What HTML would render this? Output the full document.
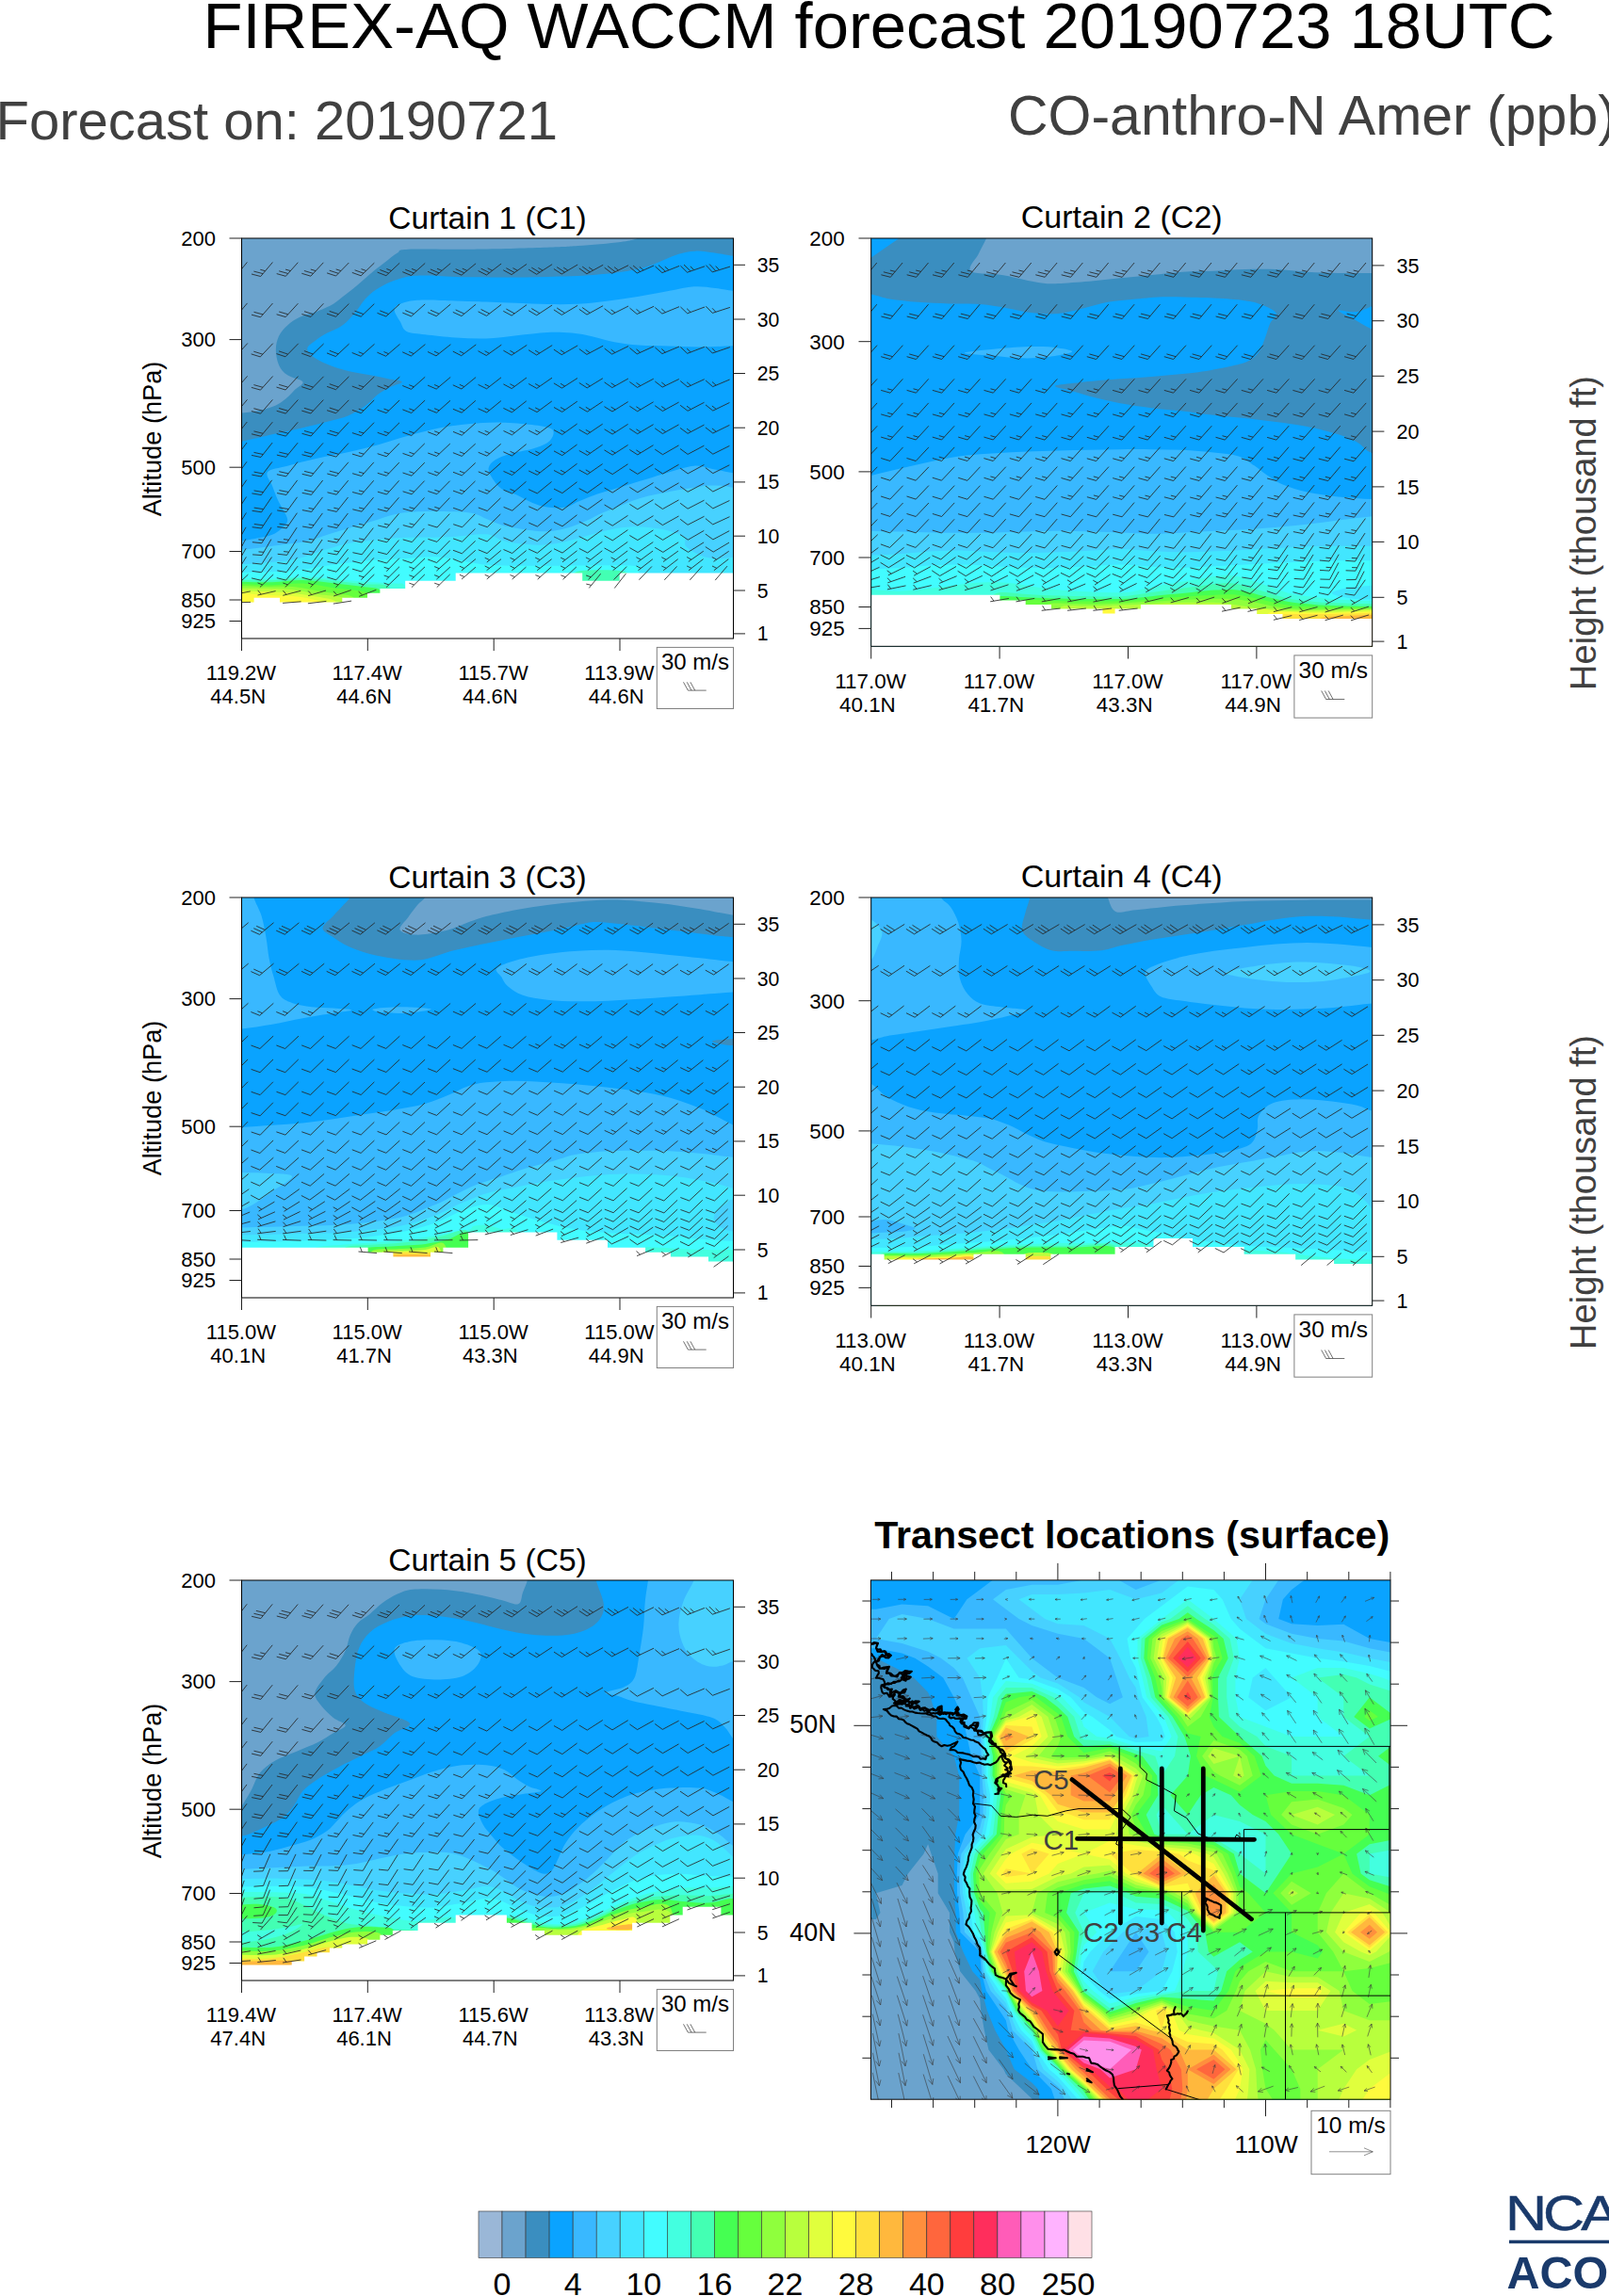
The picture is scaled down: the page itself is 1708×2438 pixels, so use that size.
<!DOCTYPE html>
<html lang="en"><head><meta charset="utf-8"><title>FIREX-AQ WACCM forecast 20190723 18UTC</title>
<style>html,body{margin:0;padding:0;background:#fff;width:1708px;height:2438px;overflow:hidden}svg{display:block}</style>
</head><body>
<svg width="1708" height="2438" viewBox="0 0 1708 2438" font-family='"Liberation Sans", Arial, Helvetica, sans-serif'>
<rect width="1708" height="2438" fill="#fff"/>
<text x="933" y="51.3" font-size="68.8" text-anchor="middle" fill="#000">FIREX-AQ WACCM forecast 20190723 18UTC</text>
<text x="-4.5" y="147.6" font-size="58" text-anchor="start" fill="#404040">Forecast on: 20190721</text>
<text x="1715.9" y="142.8" font-size="59" text-anchor="end" fill="#404040">CO-anthro-N Amer (ppb)</text>
<text x="1694" y="566" font-size="38" text-anchor="middle" fill="#404040" transform="rotate(-90 1694 566)">Height (thousand ft)</text>
<text x="1694" y="1266" font-size="38" text-anchor="middle" fill="#404040" transform="rotate(-90 1694 1266)">Height (thousand ft)</text>
<clipPath id="cp1"><rect x="256.5" y="253" width="522" height="425"/></clipPath>
<g clip-path="url(#cp1)">
<rect x="256.5" y="253" width="522" height="425" fill="#0AA3FF"/>
<g transform="translate(256.5 253) scale(0.32443)">
<path d="M1700 70C1684.8 68 1632.3 61.3 1609 58C1585.7 54.7 1580.7 52.7 1560 50C1539.3 47.3 1506.7 41.7 1485 42C1463.3 42.3 1447.5 47 1430 52C1412.5 57 1396.7 65.3 1380 72C1363.3 78.7 1350 86 1330 92C1310 98 1290 103.3 1260 108C1230 112.7 1193.3 117 1150 120C1106.7 123 1050 124.7 1000 126C950 127.3 900 128 850 128C800 128 741.7 127 700 126C658.3 125 626.7 122 600 122C573.3 122 558.3 122.7 540 126C521.7 129.3 506.7 135 490 142C473.3 149 454.2 158.7 440 168C425.8 177.3 415 187.3 405 198C395 208.7 388.3 221.3 380 232C371.7 242.7 364.2 252.7 355 262C345.8 271.3 337.5 280 325 288C312.5 296 293.3 302.7 280 310C266.7 317.3 255.8 323.7 245 332C234.2 340.3 216.7 350.7 215 360C213.3 369.3 224.2 379.3 235 388C245.8 396.7 262.5 404.7 280 412C297.5 419.3 316.7 426 340 432C363.3 438 396.7 443.3 420 448C443.3 452.7 462.5 456.3 480 460C497.5 463.7 524.2 465.3 525 470C525.8 474.7 498.3 481 485 488C471.7 495 458.3 502 445 512C431.7 522 420.8 536.7 405 548C389.2 559.3 370.8 571.3 350 580C329.2 588.7 305 593.3 280 600C255 606.7 230 613 200 620C170 627 133.3 634.5 100 642C66.7 649.5 30 658.7 0 665C-30 671.3 -66.7 677.5 -80 680L-80 -80L1700 -80Z" fill="#3A8EC0"/>
<path d="M1320 -20C1315.8 -16.7 1308.3 -5.3 1295 0C1281.7 5.3 1272.5 7.8 1240 12C1207.5 16.2 1140 22 1100 25C1060 28 1056.7 28.2 1000 30C943.3 31.8 835.8 35 760 36C684.2 37 586.7 34 545 36C503.3 38 522.5 41 510 48C497.5 55 482.5 68.5 470 78C457.5 87.5 446.7 95.5 435 105C423.3 114.5 411.7 125 400 135C388.3 145 376.7 155.5 365 165C353.3 174.5 340.8 183.7 330 192C319.2 200.3 313.3 207.3 300 215C286.7 222.7 268.3 230.8 250 238C231.7 245.2 206.7 250.2 190 258C173.3 265.8 161.3 274.7 150 285C138.7 295.3 128.3 306.7 122 320C115.7 333.3 112 349.2 112 365C112 380.8 115.7 401.2 122 415C128.3 428.8 137 438.8 150 448C163 457.2 195.8 462.2 200 470C204.2 477.8 184.2 485.8 175 495C165.8 504.2 155.8 516.2 145 525C134.2 533.8 125 541.3 110 548C95 554.7 73.3 561 55 565C36.7 569 22.5 569.5 0 572C-22.5 574.5 -66.7 578.7 -80 580L-80 -80L1320 -80Z" fill="#6BA3CD"/>
<path d="M1700 178C1684.8 177 1634 174.5 1609 172C1584 169.5 1571.5 165.3 1550 163C1528.5 160.7 1505 156.5 1480 158C1455 159.5 1430 166.7 1400 172C1370 177.3 1333.3 184.5 1300 190C1266.7 195.5 1233.3 200.8 1200 205C1166.7 209.2 1133.3 213.2 1100 215C1066.7 216.8 1033.3 216.5 1000 216C966.7 215.5 933.3 213.3 900 212C866.7 210.7 833.3 209.2 800 208C766.7 206.8 733.3 206 700 205C666.7 204 626.7 201.5 600 202C573.3 202.5 556.7 203.3 540 208C523.3 212.7 503.3 218.8 500 230C496.7 241.2 513.3 262.5 520 275C526.7 287.5 526.7 298.3 540 305C553.3 311.7 573.3 311.7 600 315C626.7 318.3 666.7 322.8 700 325C733.3 327.2 766.7 329.2 800 328C833.3 326.8 866.7 321.3 900 318C933.3 314.7 970 309.3 1000 308C1030 306.7 1055 307.7 1080 310C1105 312.3 1126.7 317 1150 322C1173.3 327 1195 335.3 1220 340C1245 344.7 1270 347.8 1300 350C1330 352.2 1366.7 352 1400 353C1433.3 354 1465.2 356.2 1500 356C1534.8 355.8 1575.7 353 1609 352C1642.3 351 1684.8 350.3 1700 350Z" fill="#39B8FF"/>
<path d="M-80 995C-66.7 994.2 -21.7 992.2 0 990C21.7 987.8 33.3 985.3 50 982C66.7 978.7 86.7 975.3 100 970C113.3 964.7 121.7 958.3 130 950C138.3 941.7 151.7 935 150 920C148.3 905 128.3 878.3 120 860C111.7 841.7 105.8 825.8 100 810C94.2 794.2 76.7 775.8 85 765C93.3 754.2 122.5 752.5 150 745C177.5 737.5 216.7 727.5 250 720C283.3 712.5 316.7 707.5 350 700C383.3 692.5 416.7 684.2 450 675C483.3 665.8 516.7 654.2 550 645C583.3 635.8 616.7 626.3 650 620C683.3 613.7 716.7 609.8 750 607C783.3 604.2 816.7 602.5 850 603C883.3 603.5 923.3 606.8 950 610C976.7 613.2 998.3 616.7 1010 622C1021.7 627.3 1021.7 634 1020 642C1018.3 650 1011.7 662 1000 670C988.3 678 970 684.2 950 690C930 695.8 900 699.2 880 705C860 710.8 842 717.2 830 725C818 732.8 809.7 742 808 752C806.3 762 813 773.7 820 785C827 796.3 836.7 810.8 850 820C863.3 829.2 883.3 832.5 900 840C916.7 847.5 933.3 858.3 950 865C966.7 871.7 981.7 877.5 1000 880C1018.3 882.5 1043.3 883 1060 880C1076.7 877 1085 868.3 1100 862C1115 855.7 1133.3 848 1150 842C1166.7 836 1181.7 831.7 1200 826C1218.3 820.3 1240 814 1260 808C1280 802 1296.7 797.2 1320 790C1343.3 782.8 1373.3 772.5 1400 765C1426.7 757.5 1456.7 746.7 1480 745C1503.3 743.3 1518.5 751.2 1540 755C1561.5 758.8 1582.3 764.7 1609 768C1635.7 771.3 1684.8 773.8 1700 775L1700 1400L-80 1400Z" fill="#39B8FF"/>
<path d="M-80 1022C-66.7 1021.5 -21.7 1020.3 0 1019C21.7 1017.7 29.2 1016.5 50 1014C70.8 1011.5 100 1007.3 125 1004C150 1000.7 180.8 997.3 200 994C219.2 990.7 223.3 989 240 984C256.7 979 281.7 969.8 300 964C318.3 958.2 333.3 954 350 949C366.7 944 383.3 939 400 934C416.7 929 433.3 924 450 919C466.7 914 483.3 907.8 500 904C516.7 900.2 524.8 897.7 550 896C575.2 894.3 617.5 893.5 651 894C684.5 894.5 725.7 894.8 751 899C776.3 903.2 786 912.3 803 919C820 925.7 836.3 934 853 939C869.7 944 882.2 945.7 903 949C923.8 952.3 957.2 957.8 978 959C998.8 960.2 1011.2 958.5 1028 956C1044.8 953.5 1062.2 949.3 1079 944C1095.8 938.7 1112.3 931.5 1129 924C1145.7 916.5 1162.3 906.5 1179 899C1195.7 891.5 1212.3 885.7 1229 879C1245.7 872.3 1262.3 864.8 1279 859C1295.7 853.2 1312.3 848.2 1329 844C1345.7 839.8 1362.3 837.3 1379 834C1395.7 830.7 1412.3 827 1429 824C1445.7 821 1462.3 818.5 1479 816C1495.7 813.5 1512.2 809.8 1529 809C1545.8 808.2 1566.7 809.8 1580 811C1593.3 812.2 1589 814.5 1609 816C1629 817.5 1684.8 819.3 1700 820L1700 1500L-80 1500Z" fill="#47D1FF"/>
<path d="M-80 1070C-66.7 1069.5 -25.8 1068.3 0 1067C25.8 1065.7 50 1064 75 1062C100 1060 129.2 1058 150 1055C170.8 1052 183.3 1048.7 200 1044C216.7 1039.3 233.3 1032.3 250 1027C266.7 1021.7 283.3 1016.7 300 1012C316.7 1007.3 329 1002.8 350 999C371 995.2 400.8 992 426 989C451.2 986 476 982.7 501 981C526 979.3 551 979.3 576 979C601 978.7 626 979.8 651 979C676 978.2 700.7 975.7 726 974C751.3 972.3 781.8 966.5 803 969C824.2 971.5 836.3 984 853 989C869.7 994 882.2 996.5 903 999C923.8 1001.5 952.8 1004.8 978 1004C1003.2 1003.2 1028.8 999 1054 994C1079.2 989 1104 980.7 1129 974C1154 967.3 1179 959 1204 954C1229 949 1254 944.8 1279 944C1304 943.2 1333.2 946.5 1354 949C1374.8 951.5 1388.2 954 1404 959C1419.8 964 1440.7 970.7 1449 979C1457.3 987.3 1444.8 999 1454 1009C1463.2 1019 1487.2 1032.3 1504 1039C1520.8 1045.7 1537.5 1048.2 1555 1049C1572.5 1049.8 1584.8 1045.5 1609 1044C1633.2 1042.5 1684.8 1040.7 1700 1040L1700 1500L-80 1500Z" fill="#42E6FF"/>
<path d="M-80 1095C-66.7 1094.8 -30 1094.5 0 1094C30 1093.5 66.7 1093.7 100 1092C133.3 1090.3 170.7 1087.3 200 1084C229.3 1080.7 250.8 1075.7 276 1072C301.2 1068.3 321.8 1065.3 351 1062C380.2 1058.7 417.7 1054.5 451 1052C484.3 1049.5 517.7 1048.3 551 1047C584.3 1045.7 608.5 1040.3 651 1044C693.5 1047.7 747.8 1064.3 806 1069C864.2 1073.7 921.2 1071.5 1000 1072C1078.8 1072.5 1229 1068.3 1279 1072C1329 1075.7 1296.5 1072.7 1300 1094C1303.5 1115.3 1300 1182.3 1300 1200L1300 1500L-80 1500Z" fill="#42FCFF"/>
<path d="M-80 1114C-66.7 1114 -30 1114 0 1114C30 1114 66.7 1115.2 100 1114C133.3 1112.8 166.7 1107 200 1107C233.3 1107 266.5 1111.2 300 1114C333.5 1116.8 367.5 1121.3 401 1124C434.5 1126.7 478.8 1127.8 501 1130C523.2 1132.2 524.2 1125.3 534 1137C543.8 1148.7 555.7 1189.5 560 1200L560 1500L-80 1500Z" fill="#43FFE0"/>
<path d="M-80 1119C-66.7 1119 -30 1118.8 0 1119C30 1119.2 66.7 1121 100 1120C133.3 1119 166.7 1112.8 200 1113C233.3 1113.2 266.5 1117.8 300 1121C333.5 1124.2 371 1128.8 401 1132C431 1135.2 463.5 1128.7 480 1140C496.5 1151.3 496.7 1190 500 1200L500 1500L-80 1500Z" fill="#43FFB3"/>
<path d="M-80 1124C-66.7 1124 -30 1123.7 0 1124C30 1124.3 66.7 1126.8 100 1126C133.3 1125.2 166.7 1118.5 200 1119C233.3 1119.5 266.5 1125.3 300 1129C333.5 1132.7 375.5 1137.3 401 1141C426.5 1144.7 441.5 1141.2 453 1151C464.5 1160.8 467.2 1191.8 470 1200L470 1500L-80 1500Z" fill="#45FF52"/>
<path d="M-80 1131C-66.7 1131 -30 1130.3 0 1131C30 1131.7 66.7 1135.2 100 1135C133.3 1134.8 166.7 1128.5 200 1130C233.3 1131.5 264.8 1139 300 1144C335.2 1149 391 1150.7 411 1160C431 1169.3 418.5 1193.3 420 1200L420 1500L-80 1500Z" fill="#66FF3D"/>
<path d="M-80 1138C-66.7 1138 -25.8 1137.7 0 1138C25.8 1138.3 45.8 1139.5 75 1140C104.2 1140.5 144.2 1138.3 175 1141C205.8 1143.7 229.2 1150.8 260 1156C290.8 1161.2 341.7 1164.7 360 1172C378.3 1179.3 368.3 1195.3 370 1200L370 1500L-80 1500Z" fill="#8FFF3D"/>
<path d="M-80 1146C-66.7 1146 -25.8 1146 0 1146C25.8 1146 45.8 1145.2 75 1146C104.2 1146.8 145.8 1147.8 175 1151C204.2 1154.2 224 1160.8 250 1165C276 1169.2 316 1170.2 331 1176C346 1181.8 338.5 1196 340 1200L340 1500L-80 1500Z" fill="#B8FF3D"/>
<path d="M-80 1154C-66.7 1154 -23.3 1153.7 0 1154C23.3 1154.3 35 1155 60 1156C85 1157 122.5 1157.7 150 1160C177.5 1162.3 200 1166 225 1170C250 1174 285.8 1179 300 1184C314.2 1189 308.3 1197.3 310 1200L310 1500L-80 1500Z" fill="#E0FF3D"/>
<path d="M-80 1163C-66.7 1163 -20.5 1162.7 0 1163C20.5 1163.3 22.2 1163.8 43 1165C63.8 1166.2 98.8 1168.3 125 1170C151.2 1171.7 177.5 1171.7 200 1175C222.5 1178.3 249.2 1185.8 260 1190C270.8 1194.2 264.2 1198.3 265 1200L265 1500L-80 1500Z" fill="#FFFA3D"/>
<path d="M1100 1090C1125 1084.2 1225 1084.2 1250 1090C1275 1095.8 1275 1119.2 1250 1125C1225 1130.8 1125 1130.8 1100 1125C1075 1119.2 1075 1095.8 1100 1090Z" fill="#43FFB3"/>
</g>
<path d="M256.2 639.6H270.2V680H256.2ZM269.6 634.7H297V680H269.6ZM296.4 639.6H363.9V680H296.4ZM363.3 634.7H390.6V680H363.3ZM390 629.8H404V680H390ZM403.4 624.9H430.8V680H403.4ZM430.2 616.8H484.3V680H430.2ZM483.7 608.6H618.2V680H483.7ZM617.6 616.8H658.3V680H617.6ZM657.7 608.6H778.8V680H657.7Z" fill="#fff"/>
</g>
<path clip-path="url(#cp1)" d="M262.4 278.4L250 293.6M250 293.6l-9.7 -2.2M252.4 290.7l-9.7 -2.2M254.8 287.7l-5.4 -1.2M289.4 278.5L276.7 293.5M276.7 293.5l-9.7 -2.5M279.1 290.6l-9.7 -2.5M281.6 287.7l-5.3 -1.4M316.3 278.7L303.3 293.3M303.3 293.3l-9.6 -2.7M305.8 290.5l-9.6 -2.7M308.4 287.6l-5.3 -1.5M343.3 278.8L329.9 293.2M329.9 293.2l-9.6 -2.9M332.5 290.4l-9.6 -2.9M335.1 287.6l-5.3 -1.6M370.3 279L356.6 293M356.6 293l-9.5 -3.1M359.2 290.3l-9.5 -3.1M361.9 287.6l-5.2 -1.7M397.3 279.2L383.2 292.8M383.2 292.8l-9.4 -3.4M386 290.2l-9.4 -3.4M388.7 287.5l-5.2 -1.9M424.2 279.3L409.9 292.7M409.9 292.7l-9.3 -3.6M412.7 290.1l-9.3 -3.6M415.5 287.5l-5.1 -2M451.2 279.5L436.5 292.5M436.5 292.5l-9.2 -3.8M439.4 290l-9.2 -3.8M442.2 287.5l-5.1 -2.1M478.2 279.7L463.2 292.3M463.2 292.3l-9.2 -4M466.1 289.9l-9.2 -4M469 287.4l-5 -2.2M505.1 279.8L489.9 292.2M489.9 292.2l-9.1 -4.2M492.8 289.8l-9.1 -4.2M495.8 287.4l-5 -2.3M532.1 280L516.5 292M516.5 292l-8.9 -4.5M519.5 289.6l-8.9 -4.5M522.6 287.3l-4.9 -2.5M559.1 280.4L543.1 291.6M543.1 291.6l-8.8 -4.8M546.2 289.5l-8.8 -4.8M549.3 287.3l-4.8 -2.7M586.1 280.7L569.7 291.3M569.7 291.3l-8.6 -5.2M572.9 289.3l-8.6 -5.2M576.1 287.2l-4.7 -2.8M613.2 281L596.3 291M596.3 291l-8.4 -5.5M599.6 289.1l-8.4 -5.5M602.8 287.1l-4.6 -3M640.2 281.3L622.9 290.7M622.9 290.7l-8.1 -5.8M626.3 288.9l-8.1 -5.8M629.6 287l-4.5 -3.2M667.1 281.7L649.6 290.3M649.6 290.3l-7.9 -6.1M653 288.6l-7.9 -6.1M656.4 287l-4.3 -3.4M694.1 282L676.2 290M676.2 290l-7.6 -6.4M679.7 288.4l-7.6 -6.4M683.1 286.9l-4.2 -3.5M721.1 282.4L702.9 289.6M702.9 289.6l-7.4 -6.7M706.4 288.2l-7.4 -6.7M709.9 286.8l-4.1 -3.7M748 282.8L729.5 289.2M729.5 289.2l-7.1 -7M733.1 288l-7.1 -7M736.7 286.7l-3.9 -3.9M775 283.1L756.2 288.9M756.2 288.9l-6.8 -7.3M759.9 287.8l-6.8 -7.3M763.5 286.6l-3.8 -4M262.5 321.9L249.9 336.9M249.9 336.9l-9.7 -2.4M252.3 334l-9.7 -2.4M289.5 322L276.6 336.8M276.6 336.8l-9.6 -2.6M279.1 333.9l-9.6 -2.6M316.4 322.2L303.2 336.6M303.2 336.6l-9.6 -2.8M305.8 333.8l-9.6 -2.8M343.4 322.3L329.9 336.5M329.9 336.5l-9.5 -3M332.5 333.7l-9.5 -3M370.4 322.5L356.5 336.3M356.5 336.3l-9.5 -3.2M359.2 333.6l-9.5 -3.2M397.3 322.6L383.2 336.2M383.2 336.2l-9.4 -3.4M385.9 333.6l-9.4 -3.4M424.3 322.8L409.8 336M409.8 336l-9.3 -3.6M412.6 333.5l-9.3 -3.6M451.2 322.9L436.5 335.9M436.5 335.9l-9.2 -3.8M439.4 333.4l-9.2 -3.8M478.2 323.1L463.2 335.7M463.2 335.7l-9.1 -4M466.1 333.3l-9.1 -4M505.1 323.2L489.9 335.6M489.9 335.6l-9.1 -4.2M492.8 333.2l-9.1 -4.2M532.1 323.4L516.5 335.4M516.5 335.4l-8.9 -4.5M519.5 333l-8.9 -4.5M559.1 323.7L543.1 335.1M543.1 335.1l-8.8 -4.8M546.2 332.9l-8.8 -4.8M586.1 324L569.7 334.8M569.7 334.8l-8.6 -5.1M572.9 332.7l-8.6 -5.1M613.1 324.4L596.3 334.4M596.3 334.4l-8.4 -5.5M599.6 332.5l-8.4 -5.5M640.1 324.7L623 334.1M623 334.1l-8.2 -5.8M626.3 332.3l-8.2 -5.8M667.1 325L649.6 333.8M649.6 333.8l-8 -6.1M653 332.1l-4.4 -3.3M694.1 325.3L676.2 333.5M676.2 333.5l-7.7 -6.4M679.7 331.9l-4.2 -3.5M721 325.7L702.9 333.1M702.9 333.1l-7.5 -6.6M706.4 331.7l-4.1 -3.7M748 326L729.6 332.8M729.6 332.8l-7.2 -6.9M733.1 331.5l-4 -3.8M774.9 326.4L756.3 332.4M756.3 332.4l-7 -7.2M759.9 331.3l-3.8 -4M262.8 364.5L249.6 379.1M249.6 379.1l-9.6 -2.8M252.2 376.3l-9.6 -2.8M289.7 364.7L276.3 378.9M276.3 378.9l-9.6 -3M278.9 376.2l-9.6 -3M316.7 364.8L303 378.8M303 378.8l-9.5 -3.2M305.6 376.1l-9.5 -3.2M343.6 365L329.6 378.6M329.6 378.6l-9.4 -3.4M332.3 376l-9.4 -3.4M370.6 365.1L356.3 378.5M356.3 378.5l-9.3 -3.6M359.1 375.9l-9.3 -3.6M397.5 365.3L383 378.3M383 378.3l-9.3 -3.8M385.8 375.8l-5.1 -2.1M424.5 365.4L409.6 378.2M409.6 378.2l-9.2 -4M412.5 375.7l-5 -2.2M451.4 365.6L436.3 378M436.3 378l-9.1 -4.2M439.2 375.6l-5 -2.3M478.4 365.7L463 377.9M463 377.9l-9 -4.4M466 375.5l-5 -2.4M505.3 365.9L489.7 377.7M489.7 377.7l-8.9 -4.6M492.7 375.4l-4.9 -2.5M532.3 366.1L516.3 377.5M516.3 377.5l-8.8 -4.8M519.4 375.3l-4.8 -2.6M559.3 366.4L543 377.2M543 377.2l-8.6 -5M546.1 375.1l-4.7 -2.8M586.2 366.6L569.6 377M569.6 377l-8.5 -5.3M572.8 375l-4.7 -2.9M613.2 366.9L596.2 376.7M596.2 376.7l-8.3 -5.6M599.5 374.8l-4.6 -3.1M640.2 367.2L622.9 376.4M622.9 376.4l-8.1 -5.9M626.2 374.6l-4.5 -3.2M667.1 367.5L649.6 376.1M649.6 376.1l-7.9 -6.1M653 374.5l-4.4 -3.4M694.1 367.7L676.2 375.9M676.2 375.9l-7.7 -6.4M679.7 374.3l-4.2 -3.5M721 368L702.9 375.6M702.9 375.6l-7.5 -6.6M706.4 374.1l-4.1 -3.6M747.9 368.3L729.6 375.3M729.6 375.3l-7.3 -6.9M733.2 373.9l-4 -3.8M774.9 368.6L756.3 375M756.3 375l-7.1 -7.1M759.9 373.7l-3.9 -3.9M262.6 399.4L249.8 414.2M249.8 414.2l-9.7 -2.6M252.3 411.3l-9.7 -2.6M289.6 399.5L276.5 414.1M276.5 414.1l-9.6 -2.7M279 411.3l-9.6 -2.7M316.5 399.6L303.1 414M303.1 414l-9.6 -2.9M305.7 411.2l-9.6 -2.9M343.5 399.8L329.8 413.8M329.8 413.8l-9.5 -3.1M332.4 411.1l-9.5 -3.1M370.4 399.9L356.5 413.7M356.5 413.7l-9.4 -3.3M359.2 411l-9.4 -3.3M397.3 400L383.2 413.6M383.2 413.6l-9.4 -3.5M385.9 410.9l-5.2 -1.9M424.3 400.2L409.8 413.4M409.8 413.4l-9.3 -3.7M412.6 410.9l-5.1 -2M451.2 400.3L436.5 413.3M436.5 413.3l-9.2 -3.8M439.4 410.8l-5.1 -2.1M478.2 400.5L463.2 413.1M463.2 413.1l-9.2 -4M466.1 410.7l-5 -2.2M505.1 400.6L489.9 413M489.9 413l-9.1 -4.2M492.8 410.6l-5 -2.3M532 400.8L516.6 412.8M516.6 412.8l-9 -4.4M519.6 410.5l-4.9 -2.4M559 401L543.2 412.6M543.2 412.6l-8.8 -4.7M546.3 410.3l-4.9 -2.6M586 401.2L569.8 412.4M569.8 412.4l-8.7 -4.9M573 410.2l-4.8 -2.7M613 401.5L596.5 412.1M596.5 412.1l-8.6 -5.2M599.7 410.1l-4.7 -2.8M639.9 401.7L623.2 411.9M623.2 411.9l-8.4 -5.4M626.4 409.9l-4.6 -3M666.9 402L649.8 411.6M649.8 411.6l-8.2 -5.7M653.1 409.8l-4.5 -3.1M693.8 402.2L676.5 411.4M676.5 411.4l-8.1 -5.9M679.9 409.6l-4.4 -3.2M720.8 402.5L703.2 411.1M703.2 411.1l-7.9 -6.1M706.6 409.4l-4.3 -3.4M747.7 402.7L729.9 410.9M729.9 410.9l-7.7 -6.4M733.3 409.3l-4.2 -3.5M774.6 403L756.6 410.6M756.6 410.6l-7.5 -6.6M760.1 409.1l-4.1 -3.6M262.5 424.3L249.9 439.3M249.9 439.3l-9.7 -2.4M252.3 436.4l-9.7 -2.4M289.4 424.4L276.6 439.2M276.6 439.2l-9.7 -2.6M279.1 436.3l-9.7 -2.6M316.4 424.5L303.3 439.1M303.3 439.1l-9.6 -2.8M305.8 436.3l-9.6 -2.8M343.3 424.6L329.9 439M329.9 439l-9.6 -2.9M332.5 436.2l-9.6 -2.9M370.3 424.8L356.6 438.8M356.6 438.8l-9.5 -3.1M359.3 436.1l-9.5 -3.1M397.2 424.9L383.3 438.7M383.3 438.7l-9.4 -3.3M386 436l-5.2 -1.8M424.1 425L410 438.6M410 438.6l-9.4 -3.4M412.7 436l-5.2 -1.9M451.1 425.1L436.7 438.5M436.7 438.5l-9.3 -3.6M439.5 435.9l-5.1 -2M478 425.3L463.4 438.3M463.4 438.3l-9.3 -3.8M466.2 435.8l-5.1 -2.1M504.9 425.4L490.1 438.2M490.1 438.2l-9.2 -3.9M492.9 435.7l-5.1 -2.2M531.9 425.6L516.7 438M516.7 438l-9.1 -4.1M519.7 435.6l-5 -2.3M558.8 425.8L543.4 437.8M543.4 437.8l-9 -4.4M546.4 435.5l-4.9 -2.4M585.8 426L570 437.6M570 437.6l-8.9 -4.6M573.1 435.4l-4.9 -2.5M612.8 426.2L596.7 437.4M596.7 437.4l-8.7 -4.9M599.8 435.2l-4.8 -2.7M639.7 426.4L623.4 437.2M623.4 437.2l-8.6 -5.1M626.5 435.1l-4.7 -2.8M666.7 426.6L650 437M650 437l-8.5 -5.3M653.3 435l-4.7 -2.9M693.6 426.8L676.7 436.8M676.7 436.8l-8.3 -5.5M680 434.8l-4.6 -3M720.6 427.1L703.4 436.5M703.4 436.5l-8.2 -5.8M706.7 434.7l-4.5 -3.2M747.5 427.3L730.1 436.3M730.1 436.3l-8 -6M733.4 434.5l-4.4 -3.3M774.4 427.5L756.8 436.1M756.8 436.1l-7.8 -6.2M760.2 434.4l-4.3 -3.4M262.3 448L250.1 463.4M250.1 463.4l-9.8 -2.2M252.5 460.4l-9.8 -2.2M289.3 448.2L276.8 463.2M276.8 463.2l-9.7 -2.4M279.2 460.3l-9.7 -2.4M316.2 448.3L303.4 463.1M303.4 463.1l-9.7 -2.5M305.9 460.2l-9.7 -2.5M343.2 448.4L330.1 463M330.1 463l-9.6 -2.7M332.6 460.2l-9.6 -2.7M370.1 448.5L356.8 462.9M356.8 462.9l-9.6 -2.9M359.4 460.1l-9.6 -2.9M397.1 448.7L383.4 462.7M383.4 462.7l-9.5 -3.1M386.1 460l-5.2 -1.7M424 448.8L410.1 462.6M410.1 462.6l-9.4 -3.3M412.8 459.9l-5.2 -1.8M451 448.9L436.8 462.5M436.8 462.5l-9.4 -3.5M439.5 459.8l-5.2 -1.9M477.9 449.1L463.5 462.3M463.5 462.3l-9.3 -3.6M466.3 459.8l-5.1 -2M504.8 449.2L490.2 462.2M490.2 462.2l-9.2 -3.8M493 459.7l-5.1 -2.1M531.8 449.4L516.8 462M516.8 462l-9.2 -4M519.7 459.6l-5 -2.2M558.8 449.6L543.5 461.8M543.5 461.8l-9 -4.3M546.4 459.5l-5 -2.3M585.7 449.8L570.1 461.6M570.1 461.6l-8.9 -4.5M573.1 459.3l-4.9 -2.5M612.7 450L596.8 461.4M596.8 461.4l-8.8 -4.8M599.9 459.2l-4.8 -2.6M639.7 450.2L623.4 461.2M623.4 461.2l-8.7 -5M626.6 459.1l-4.8 -2.7M666.6 450.4L650.1 461M650.1 461l-8.5 -5.2M653.3 458.9l-4.7 -2.9M693.6 450.7L676.7 460.7M676.7 460.7l-8.4 -5.5M680 458.8l-4.6 -3M720.5 450.9L703.4 460.5M703.4 460.5l-8.2 -5.7M706.7 458.6l-4.5 -3.1M747.5 451.1L730.1 460.3M730.1 460.3l-8.1 -5.9M733.5 458.5l-4.4 -3.3M774.4 451.4L756.8 460M756.8 460l-7.9 -6.1M760.2 458.3l-4.3 -3.4M262.1 470L250.3 485.6M250.3 485.6l-9.8 -1.9M252.6 482.6l-9.8 -1.9M289.1 470.1L276.9 485.5M276.9 485.5l-9.8 -2.1M279.3 482.5l-9.8 -2.1M316.1 470.2L303.6 485.4M303.6 485.4l-9.7 -2.3M306 482.4l-9.7 -2.3M343 470.4L330.2 485.2M330.2 485.2l-9.7 -2.5M332.7 482.3l-9.7 -2.5M370 470.5L356.9 485.1M356.9 485.1l-9.6 -2.7M359.4 482.3l-9.6 -2.7M396.9 470.6L383.6 485M383.6 485l-9.6 -2.9M386.2 482.2l-5.3 -1.6M423.9 470.8L410.2 484.8M410.2 484.8l-9.5 -3.1M412.9 482.1l-5.2 -1.7M450.8 470.9L436.9 484.7M436.9 484.7l-9.4 -3.3M439.6 482l-5.2 -1.8M477.8 471.1L463.6 484.5M463.6 484.5l-9.4 -3.5M466.3 481.9l-5.1 -1.9M504.7 471.2L490.2 484.4M490.2 484.4l-9.3 -3.7M493 481.8l-5.1 -2M531.7 471.4L516.9 484.2M516.9 484.2l-9.2 -3.9M519.8 481.7l-5.1 -2.2M558.7 471.6L543.5 484M543.5 484l-9.1 -4.2M546.5 481.6l-5 -2.3M585.7 471.8L570.2 483.8M570.2 483.8l-9 -4.4M573.2 481.5l-4.9 -2.4M612.6 472L596.8 483.6M596.8 483.6l-8.8 -4.7M599.9 481.3l-4.9 -2.6M639.6 472.2L623.5 483.4M623.5 483.4l-8.7 -4.9M626.6 481.2l-4.8 -2.7M666.6 472.5L650.1 483.1M650.1 483.1l-8.6 -5.2M653.3 481.1l-4.7 -2.8M693.5 472.7L676.8 482.9M676.8 482.9l-8.4 -5.4M680 480.9l-4.6 -3M720.5 472.9L703.5 482.7M703.5 482.7l-8.3 -5.6M747.4 473.2L730.1 482.4M730.1 482.4l-8.1 -5.9M774.4 473.4L756.8 482.2M756.8 482.2l-7.9 -6.1M262 490.3L250.4 506.1M250.4 506.1l-9.8 -1.7M252.7 503.1l-9.8 -1.7M288.9 490.4L277.1 506M277.1 506l-9.8 -1.9M279.4 503l-9.8 -1.9M315.9 490.5L303.7 505.9M303.7 505.9l-9.8 -2.2M306.1 502.9l-9.8 -2.2M342.9 490.7L330.4 505.7M330.4 505.7l-9.7 -2.4M332.8 502.8l-9.7 -2.4M369.9 490.8L357 505.6M357 505.6l-9.7 -2.6M359.5 502.7l-9.7 -2.6M396.8 490.9L383.7 505.5M383.7 505.5l-9.6 -2.8M386.2 502.6l-5.3 -1.5M423.8 491.1L410.3 505.3M410.3 505.3l-9.5 -3M412.9 502.6l-5.2 -1.6M450.8 491.2L437 505.2M437 505.2l-9.5 -3.2M439.7 502.5l-5.2 -1.8M477.7 491.4L463.7 505M463.7 505l-9.4 -3.4M466.4 502.4l-5.2 -1.9M504.7 491.5L490.3 504.9M490.3 504.9l-9.3 -3.6M493.1 502.3l-5.1 -2M531.6 491.7L517 504.7M517 504.7l-9.2 -3.8M519.8 502.2l-5.1 -2.1M558.6 491.9L543.6 504.5M543.6 504.5l-9.1 -4.1M546.5 502.1l-5 -2.2M585.6 492.1L570.2 504.3M570.2 504.3l-9 -4.3M573.2 501.9l-5 -2.4M612.6 492.3L596.9 504.1M596.9 504.1l-8.9 -4.6M599.9 501.8l-4.9 -2.5M639.6 492.6L623.5 503.8M623.5 503.8l-8.7 -4.8M626.6 501.6l-4.8 -2.7M666.5 492.8L650.2 503.6M650.2 503.6l-8.6 -5.1M693.5 493L676.8 503.4M676.8 503.4l-8.5 -5.3M720.5 493.3L703.5 503.1M703.5 503.1l-8.3 -5.6M747.4 493.5L730.2 502.9M730.2 502.9l-8.1 -5.8M774.3 493.8L756.8 502.6M756.8 502.6l-8 -6M261.8 509.6L250.6 525.8M250.6 525.8l-9.9 -1.5M252.8 522.6l-9.9 -1.5M288.7 509.8L277.3 525.6M277.3 525.6l-9.9 -1.7M279.5 522.6l-9.9 -1.7M315.7 509.9L303.9 525.5M303.9 525.5l-9.8 -1.9M306.2 522.5l-9.8 -1.9M342.7 510L330.5 525.4M330.5 525.4l-9.8 -2.1M332.9 522.4l-9.8 -2.1M369.7 510.2L357.2 525.2M357.2 525.2l-9.7 -2.4M359.6 522.3l-5.3 -1.3M396.7 510.3L383.8 525.1M383.8 525.1l-9.7 -2.6M386.3 522.2l-5.3 -1.4M423.6 510.4L410.5 525M410.5 525l-9.6 -2.8M413 522.1l-5.3 -1.5M450.6 510.6L437.1 524.8M437.1 524.8l-9.5 -3M439.7 522.1l-5.2 -1.6M477.6 510.7L463.8 524.7M463.8 524.7l-9.5 -3.2M466.5 522l-5.2 -1.8M504.5 510.9L490.4 524.5M490.4 524.5l-9.4 -3.4M493.2 521.9l-5.2 -1.9M531.5 511.1L517.1 524.3M517.1 524.3l-9.3 -3.6M519.9 521.8l-5.1 -2M558.5 511.3L543.7 524.1M543.7 524.1l-9.2 -3.9M546.6 521.6l-5.1 -2.2M585.5 511.5L570.3 523.9M570.3 523.9l-9.1 -4.2M612.5 511.8L596.9 523.6M596.9 523.6l-8.9 -4.5M639.5 512L623.5 523.4M623.5 523.4l-8.8 -4.8M666.5 512.3L650.2 523.1M650.2 523.1l-8.6 -5.1M693.5 512.6L676.8 522.8M676.8 522.8l-8.4 -5.4M720.5 512.8L703.5 522.6M703.5 522.6l-8.3 -5.6M747.4 513.1L730.1 522.3M730.1 522.3l-8.1 -5.9M774.4 513.4L756.8 522M756.8 522l-7.9 -6.1M261.6 527.5L250.8 543.9M250.8 543.9l-9.9 -1.3M252.9 540.7l-9.9 -1.3M288.6 527.6L277.5 543.8M277.5 543.8l-9.9 -1.5M279.6 540.6l-9.9 -1.5M315.6 527.8L304.1 543.6M304.1 543.6l-9.9 -1.7M306.3 540.6l-9.9 -1.7M342.5 527.9L330.7 543.5M330.7 543.5l-9.8 -1.9M333 540.5l-5.4 -1.1M369.5 528L357.3 543.4M357.3 543.4l-9.8 -2.2M359.7 540.4l-5.4 -1.2M396.5 528.2L384 543.2M384 543.2l-9.7 -2.4M386.4 540.3l-5.3 -1.3M423.5 528.3L410.6 543.1M410.6 543.1l-9.7 -2.6M413.1 540.2l-5.3 -1.4M450.5 528.5L437.3 542.9M437.3 542.9l-9.6 -2.8M439.8 540.1l-5.3 -1.5M477.4 528.6L463.9 542.8M463.9 542.8l-9.5 -3M466.5 540l-5.2 -1.7M504.4 528.8L490.6 542.6M490.6 542.6l-9.5 -3.3M531.4 528.9L517.2 542.5M517.2 542.5l-9.4 -3.5M558.4 529.2L543.8 542.2M543.8 542.2l-9.2 -3.8M585.5 529.5L570.4 541.9M570.4 541.9l-9.1 -4.1M612.5 529.7L597 541.7M597 541.7l-9 -4.5M639.5 530L623.6 541.4M623.6 541.4l-8.8 -4.8M666.5 530.3L650.2 541.1M650.2 541.1l-8.6 -5.1M693.5 530.6L676.8 540.8M676.8 540.8l-8.4 -5.4M720.5 530.9L703.4 540.5M703.4 540.5l-8.2 -5.7M747.5 531.2L730.1 540.2M730.1 540.2l-8 -5.9M774.4 531.5L756.8 539.9M756.8 539.9l-7.8 -6.2M261.4 544.5L251 561.1M251 561.1l-9.9 -1M253 557.9l-9.9 -1M288.4 544.6L277.6 561M277.6 561l-9.9 -1.3M279.7 557.8l-9.9 -1.3M315.4 544.7L304.2 560.9M304.2 560.9l-9.9 -1.5M306.4 557.7l-9.9 -1.5M342.4 544.9L330.9 560.7M330.9 560.7l-9.8 -1.7M333.1 557.7l-5.4 -1M369.4 545L357.5 560.6M357.5 560.6l-9.8 -2M359.8 557.6l-5.4 -1.1M396.4 545.1L384.1 560.5M384.1 560.5l-9.8 -2.2M386.5 557.5l-5.4 -1.2M423.4 545.3L410.8 560.3M410.8 560.3l-9.7 -2.4M413.2 557.4l-5.3 -1.3M450.3 545.4L437.4 560.2M437.4 560.2l-9.6 -2.6M439.9 557.3l-5.3 -1.5M477.3 545.6L464 560M464 560l-9.6 -2.9M504.3 545.8L490.7 559.8M490.7 559.8l-9.5 -3.1M531.3 545.9L517.3 559.7M517.3 559.7l-9.4 -3.3M558.4 546.2L543.9 559.4M543.9 559.4l-9.3 -3.7M585.4 546.5L570.4 559.1M570.4 559.1l-9.1 -4M612.5 546.8L597 558.8M597 558.8l-9 -4.4M639.5 547.1L623.6 558.5M623.6 558.5l-8.8 -4.7M666.5 547.4L650.2 558.2M650.2 558.2l-8.6 -5.1M693.5 547.7L676.8 557.9M676.8 557.9l-8.4 -5.4M720.5 548L703.4 557.6M703.4 557.6l-8.2 -5.7M747.5 548.3L730.1 557.3M730.1 557.3l-8 -6M774.5 548.7L756.7 556.9M756.7 556.9l-7.8 -6.3M261.1 559.8L251.3 576.8M251.3 576.8l-10 -0.7M253.2 573.5l-5.5 -0.4M288.1 559.9L277.9 576.7M277.9 576.7l-10 -1M279.9 573.4l-5.5 -0.5M315.2 560.1L304.4 576.5M304.4 576.5l-9.9 -1.3M306.5 573.3l-5.5 -0.7M342.2 560.3L331 576.3M331 576.3l-9.9 -1.6M333.2 573.2l-5.4 -0.9M369.3 560.4L357.6 576.2M357.6 576.2l-9.8 -1.9M359.9 573.1l-5.4 -1M396.3 560.6L384.2 576M384.2 576l-9.8 -2.2M386.5 573l-5.4 -1.2M423.4 560.8L410.7 575.8M410.7 575.8l-9.7 -2.4M413.2 572.9l-5.3 -1.3M450.4 561L437.3 575.6M437.3 575.6l-9.6 -2.7M477.4 561.2L463.9 575.4M463.9 575.4l-9.5 -3M504.5 561.4L490.5 575.2M490.5 575.2l-9.4 -3.3M531.5 561.6L517.1 575M517.1 575l-9.3 -3.6M558.5 561.8L543.7 574.8M543.7 574.8l-9.2 -3.9M585.5 562L570.4 574.6M570.4 574.6l-9.1 -4.1M612.5 562.3L597 574.3M597 574.3l-9 -4.4M639.4 562.5L623.6 574.1M623.6 574.1l-8.9 -4.6M666.4 562.7L650.3 573.9M650.3 573.9l-8.7 -4.9M693.4 563L676.9 573.6M676.9 573.6l-8.6 -5.1M720.3 563.2L703.6 573.4M703.6 573.4l-8.4 -5.4M747.3 563.4L730.3 573.2M730.3 573.2l-8.3 -5.6M774.2 563.7L756.9 572.9M756.9 572.9l-8.1 -5.9M260.8 572.4L251.6 589.8M251.6 589.8l-10 -0.4M253.4 586.4l-5.5 -0.2M287.9 572.6L278.1 589.6M278.1 589.6l-10 -0.7M280 586.3l-5.5 -0.4M315 572.8L304.6 589.4M304.6 589.4l-9.9 -1.1M306.6 586.2l-5.5 -0.6M342.1 573L331.1 589.2M331.1 589.2l-9.9 -1.4M333.3 586.1l-5.4 -0.8M369.2 573.2L357.6 589M357.6 589l-9.8 -1.8M359.9 585.9l-5.4 -1M396.3 573.4L384.2 588.8M384.2 588.8l-9.8 -2.1M423.4 573.6L410.7 588.6M410.7 588.6l-9.7 -2.5M450.5 573.9L437.3 588.3M437.3 588.3l-9.6 -2.8M477.5 574.1L463.8 588.1M463.8 588.1l-9.5 -3.2M504.6 574.4L490.4 587.8M490.4 587.8l-9.4 -3.5M531.6 574.6L517 587.6M517 587.6l-9.2 -3.8M558.6 574.7L543.7 587.5M543.7 587.5l-9.2 -4M585.5 574.9L570.3 587.3M570.3 587.3l-9.1 -4.2M612.5 575.1L597 587.1M597 587.1l-9 -4.4M639.4 575.2L623.7 587M623.7 587l-8.9 -4.6M666.3 575.4L650.4 586.8M650.4 586.8l-8.8 -4.8M693.3 575.6L677.1 586.6M677.1 586.6l-8.7 -5M720.2 575.8L703.8 586.4M703.8 586.4l-8.6 -5.1M747.1 575.9L730.5 586.3M730.5 586.3l-8.5 -5.3M774 576.1L757.2 586.1M757.2 586.1l-8.4 -5.5M261.1 582.3L251.3 599.3M251.3 599.3l-10 -0.7M288.2 582.5L277.8 599.1M277.8 599.1l-9.9 -1.1M315.3 582.7L304.3 598.9M304.3 598.9l-9.9 -1.4M342.4 582.9L330.8 598.7M330.8 598.7l-9.8 -1.8M369.5 583.1L357.4 598.5M357.4 598.5l-9.8 -2.1M396.6 583.3L383.9 598.3M383.9 598.3l-9.7 -2.5M423.7 583.6L410.5 598M410.5 598l-9.6 -2.8M450.7 583.8L437 597.8M437 597.8l-9.5 -3.2M477.8 584.1L463.6 597.5M463.6 597.5l-9.4 -3.5M504.8 584.3L490.1 597.3M490.1 597.3l-9.2 -3.8M531.8 584.5L516.8 597.1M519.7 594.6l-5 -2.3M558.7 584.6L543.5 597M546.5 594.6l-5 -2.3M585.6 584.7L570.3 596.9M573.2 594.5l-5 -2.4M612.5 584.8L597 596.8M600 594.5l-4.9 -2.4M639.3 584.8L623.8 596.8M626.8 594.4l-4.9 -2.5M666.2 584.9L650.5 596.7M653.5 594.4l-4.9 -2.5M693.1 585L677.3 596.6M680.3 594.3l-4.9 -2.6M719.9 585.1L704 596.5M707.1 594.3l-4.8 -2.6M746.8 585.2L730.8 596.4M733.9 594.2l-4.8 -2.7M773.7 585.3L757.5 596.3M760.6 594.2l-4.8 -2.7M261.4 591.4L251 608M251 608l-9.9 -1M288.5 591.6L277.5 607.8M277.5 607.8l-9.9 -1.4M315.6 591.8L304.1 607.6M304.1 607.6l-9.8 -1.7M342.7 592L330.6 607.4M330.6 607.4l-9.8 -2.1M369.8 592.2L357.1 607.2M357.1 607.2l-9.7 -2.4M396.8 592.4L383.7 607M383.7 607l-9.6 -2.8M423.9 592.7L410.2 606.7M412.9 604l-5.2 -1.7M451 592.9L436.8 606.5M439.5 603.8l-5.2 -1.9M478 593.2L463.4 606.2M466.2 603.7l-5.1 -2.1M505 593.5L489.9 605.9M492.9 603.5l-5 -2.3M532 593.7L516.6 605.7M519.6 603.4l-4.9 -2.4M558.8 593.7L543.4 605.7M546.4 603.4l-4.9 -2.4M585.6 593.7L570.2 605.7M573.2 603.4l-4.9 -2.4M612.5 593.7L597 605.7M600 603.4l-4.9 -2.4M639.3 593.7L623.8 605.7M626.8 603.4l-4.9 -2.4M666.1 593.7L650.6 605.7M653.6 603.4l-4.9 -2.4M692.9 593.7L677.4 605.7M680.4 603.4l-4.9 -2.4M719.7 593.7L704.2 605.7M707.2 603.4l-4.9 -2.4M746.5 593.7L731 605.7M734 603.4l-4.9 -2.4M773.3 593.7L757.9 605.7M760.9 603.4l-4.9 -2.4M262.2 600.9L250.2 616.3M250.2 616.3l-9.8 -2.1M289.2 601L276.8 616.2M276.8 616.2l-9.7 -2.3M316.2 601.1L303.5 616.1M303.5 616.1l-9.7 -2.5M343.1 601.3L330.1 615.9M330.1 615.9l-9.6 -2.7M370.1 601.4L356.8 615.8M356.8 615.8l-9.6 -2.9M397.1 601.6L383.4 615.6M386.1 612.9l-5.2 -1.7M424 601.7L410.1 615.5M412.8 612.8l-5.2 -1.8M451 601.9L436.7 615.3M439.5 612.7l-5.1 -1.9M477.9 602L463.4 615.2M466.2 612.6l-5.1 -2M504.9 602.2L490.1 615M493 612.5l-5.1 -2.2M531.8 602.3L516.8 614.9M519.7 612.5l-5 -2.2M558.5 602.1L543.7 615.1M546.6 612.6l-5.1 -2.1M585.2 602L570.7 615.2M573.5 612.6l-5.1 -2M611.9 601.9L597.6 615.3M600.4 612.7l-5.1 -1.9M638.5 601.7L624.5 615.5M627.3 612.8l-5.2 -1.8M665.2 601.6L651.5 615.6M691.9 601.5L678.4 615.7M718.6 601.4L705.3 615.8M745.3 601.3L732.3 615.9M772 601.1L759.2 616.1M263.4 610.1L249 623.5M251.8 620.9l-5.1 -2M290.2 610.1L275.9 623.5M278.6 620.9l-5.1 -2M316.9 610.1L302.7 623.5M305.5 620.9l-5.1 -1.9M343.7 610L329.5 623.6M332.3 620.9l-5.2 -1.9M370.5 610L356.4 623.6M359.1 621l-5.2 -1.9M397.3 610L383.2 623.6M385.9 621l-5.2 -1.9M424.1 610L410 623.6M412.8 621l-5.2 -1.9M450.9 609.9L436.9 623.7M439.6 621l-5.2 -1.8M477.7 609.9L463.7 623.7M466.4 621l-5.2 -1.8M637.7 609.2L625.3 624.4M627.7 621.4l-5.4 -1.3M664.4 609.1L652.3 624.5M265.8 627.9L246.6 631.7M250.3 630.9l-3.3 -4.4M292.6 627.6L273.5 632M277.2 631.1l-3.5 -4.3M319.3 627.3L300.3 632.3M304 631.3l-3.6 -4.2M346 627L327.2 632.6M330.9 631.5l-3.7 -4M372.7 626.6L354.2 633M357.8 631.7l-3.9 -3.9M399.4 626.3L381.1 633.3M384.6 631.9l-4 -3.8M266 639.4L246.4 639.8M319.6 638.8L300.1 640.4M346.4 638.4L326.9 640.8M373.1 638.1L353.8 641.1" stroke="#262626" stroke-width="0.85" fill="none"/>
<rect x="256.5" y="253" width="522" height="425" fill="none" stroke="#000" stroke-width="1"/>
<text x="517.5" y="242.5" font-size="33.5" text-anchor="middle" fill="#000">Curtain 1 (C1)</text>
<path d="M243.5 253L256.5 253" stroke="#222" stroke-width="1" fill="none"/>
<text x="229" y="260.7" font-size="22" text-anchor="end" fill="#000">200</text>
<path d="M243.5 360.6L256.5 360.6" stroke="#222" stroke-width="1" fill="none"/>
<text x="229" y="368.3" font-size="22" text-anchor="end" fill="#000">300</text>
<path d="M243.5 496.2L256.5 496.2" stroke="#222" stroke-width="1" fill="none"/>
<text x="229" y="503.9" font-size="22" text-anchor="end" fill="#000">500</text>
<path d="M243.5 585.5L256.5 585.5" stroke="#222" stroke-width="1" fill="none"/>
<text x="229" y="593.2" font-size="22" text-anchor="end" fill="#000">700</text>
<path d="M243.5 637L256.5 637" stroke="#222" stroke-width="1" fill="none"/>
<text x="229" y="644.7" font-size="22" text-anchor="end" fill="#000">850</text>
<path d="M243.5 659.5L256.5 659.5" stroke="#222" stroke-width="1" fill="none"/>
<text x="229" y="667.2" font-size="22" text-anchor="end" fill="#000">925</text>
<path d="M778.5 281.3L791 281.3" stroke="#222" stroke-width="1" fill="none"/>
<text x="803.8" y="288.8" font-size="21.2" text-anchor="start" fill="#000">35</text>
<path d="M778.5 339L791 339" stroke="#222" stroke-width="1" fill="none"/>
<text x="803.8" y="346.5" font-size="21.2" text-anchor="start" fill="#000">30</text>
<path d="M778.5 396.5L791 396.5" stroke="#222" stroke-width="1" fill="none"/>
<text x="803.8" y="404" font-size="21.2" text-anchor="start" fill="#000">25</text>
<path d="M778.5 454.2L791 454.2" stroke="#222" stroke-width="1" fill="none"/>
<text x="803.8" y="461.7" font-size="21.2" text-anchor="start" fill="#000">20</text>
<path d="M778.5 511.9L791 511.9" stroke="#222" stroke-width="1" fill="none"/>
<text x="803.8" y="519.4" font-size="21.2" text-anchor="start" fill="#000">15</text>
<path d="M778.5 569.2L791 569.2" stroke="#222" stroke-width="1" fill="none"/>
<text x="803.8" y="576.7" font-size="21.2" text-anchor="start" fill="#000">10</text>
<path d="M778.5 627L791 627" stroke="#222" stroke-width="1" fill="none"/>
<text x="803.8" y="634.5" font-size="21.2" text-anchor="start" fill="#000">5</text>
<path d="M778.5 672.9L791 672.9" stroke="#222" stroke-width="1" fill="none"/>
<text x="803.8" y="680.4" font-size="21.2" text-anchor="start" fill="#000">1</text>
<path d="M256.5 678L256.5 691" stroke="#222" stroke-width="1" fill="none"/>
<text x="255.9" y="722.3" font-size="22" text-anchor="middle" fill="#000">119.2W</text>
<text x="252.7" y="746.7" font-size="22" text-anchor="middle" fill="#000">44.5N</text>
<path d="M390.3 678L390.3 691" stroke="#222" stroke-width="1" fill="none"/>
<text x="389.7" y="722.3" font-size="22" text-anchor="middle" fill="#000">117.4W</text>
<text x="386.5" y="746.7" font-size="22" text-anchor="middle" fill="#000">44.6N</text>
<path d="M524.2 678L524.2 691" stroke="#222" stroke-width="1" fill="none"/>
<text x="523.6" y="722.3" font-size="22" text-anchor="middle" fill="#000">115.7W</text>
<text x="520.4" y="746.7" font-size="22" text-anchor="middle" fill="#000">44.6N</text>
<path d="M658 678L658 691" stroke="#222" stroke-width="1" fill="none"/>
<text x="657.4" y="722.3" font-size="22" text-anchor="middle" fill="#000">113.9W</text>
<text x="654.2" y="746.7" font-size="22" text-anchor="middle" fill="#000">44.6N</text>
<rect x="697.3" y="687.4" width="81.2" height="65.1" fill="#fff" stroke="#808080" stroke-width="1"/>
<text x="737.9" y="710.8" font-size="24" text-anchor="middle" fill="#000">30 m/s</text>
<path d="M749.7 733.1h-19.4M730.3 733.1l-4.8 -8.8M734 733.1l-4.8 -8.8M737.7 733.1l-4.8 -8.8" stroke="#333" stroke-width="0.7" fill="none"/>
<text x="171" y="466" font-size="27.2" text-anchor="middle" fill="#000" transform="rotate(-90 171 466)">Altitude (hPa)</text>
<clipPath id="cp2"><rect x="924.7" y="253" width="532" height="433.3"/></clipPath>
<g clip-path="url(#cp2)">
<rect x="924.7" y="253" width="532" height="433.3" fill="#0AA3FF"/>
<g transform="translate(924.7 253) scale(0.33064)">
<path d="M1700 700C1684.8 698.3 1632.3 697.5 1609 690C1585.7 682.5 1578.2 665 1560 655C1541.8 645 1526.7 638.3 1500 630C1473.3 621.7 1433.3 611.7 1400 605C1366.7 598.3 1333.3 594.5 1300 590C1266.7 585.5 1233.3 581.7 1200 578C1166.7 574.3 1133.3 571.8 1100 568C1066.7 564.2 1033.3 558.8 1000 555C966.7 551.2 933.3 549.2 900 545C866.7 540.8 830 535.5 800 530C770 524.5 745 518.3 720 512C695 505.7 671.7 498.2 650 492C628.3 485.8 590 479.5 590 475C590 470.5 623.3 468.3 650 465C676.7 461.7 716.7 457.8 750 455C783.3 452.2 816.7 450.5 850 448C883.3 445.5 916.7 443 950 440C983.3 437 1016.7 434.7 1050 430C1083.3 425.3 1123.3 417.8 1150 412C1176.7 406.2 1194.2 402.8 1210 395C1225.8 387.2 1235.8 377.5 1245 365C1254.2 352.5 1259.2 335 1265 320C1270.8 305 1274.2 288.3 1280 275C1285.8 261.7 1305 250.5 1300 240C1295 229.5 1266.7 218.7 1250 212C1233.3 205.3 1225 203.3 1200 200C1175 196.7 1141.7 194 1100 192C1058.3 190 991.7 187.5 950 188C908.3 188.5 881.7 192.2 850 195C818.3 197.8 788.3 200 760 205C731.7 210 706.7 218.8 680 225C653.3 231.2 626.7 239.5 600 242C573.3 244.5 546.7 242.8 520 240C493.3 237.2 468.3 229.7 440 225C411.7 220.3 381.7 214.5 350 212C318.3 209.5 283.3 211.2 250 210C216.7 208.8 181.7 207.5 150 205C118.3 202.5 85 199.2 60 195C35 190.8 23.3 184.2 0 180C-23.3 175.8 -66.7 171.7 -80 170L-80 117L90 0L110 -40L1700 -40Z" fill="#3A8EC0"/>
<path d="M1500 232C1501.7 228 1536.7 238.8 1560 236C1583.3 233.2 1625 204.3 1640 215C1655 225.7 1655.2 287.2 1650 300C1644.8 312.8 1625.7 298.7 1609 292C1592.3 285.3 1568.2 270 1550 260C1531.8 250 1498.3 236 1500 232Z" fill="#0AA3FF"/>
<path d="M1700 112C1684.8 112 1642.3 112 1609 112C1575.7 112 1534.8 112.7 1500 112C1465.2 111.3 1433.3 110 1400 108C1366.7 106 1333.3 101.3 1300 100C1266.7 98.7 1233.3 99.2 1200 100C1166.7 100.8 1133.3 103.7 1100 105C1066.7 106.3 1033.3 105.8 1000 108C966.7 110.2 933.3 114.7 900 118C866.7 121.3 833.3 124.7 800 128C766.7 131.3 733.3 135.2 700 138C666.7 140.8 623.3 143.8 600 145C576.7 146.2 576.7 146.7 560 145C543.3 143.3 523.3 139.5 500 135C476.7 130.5 450 123 420 118C390 113 332.5 116.3 320 105C307.5 93.7 336.7 67.5 345 50C353.3 32.5 363.3 15 370 0C376.7 -15 382.5 -33.3 385 -40L1700 -40Z" fill="#6BA3CD"/>
<path d="M300 368C300 364.2 363.3 358.3 400 355C436.7 351.7 486.7 348.5 520 348C553.3 347.5 579.2 349.2 600 352C620.8 354.8 651.7 360 645 365C638.3 370 587.5 378.7 560 382C532.5 385.3 506.7 385.7 480 385C453.3 384.3 430 380.8 400 378C370 375.2 300 371.8 300 368Z" fill="#39B8FF"/>
<path d="M-80 780C-66.7 777 -30 769 0 762C30 755 66.7 745.8 100 738C133.3 730.2 166.7 721.7 200 715C233.3 708.3 266.7 702.2 300 698C333.3 693.8 366.7 692.2 400 690C433.3 687.8 466.7 686.3 500 685C533.3 683.7 566.7 682.8 600 682C633.3 681.2 666.7 680.7 700 680C733.3 679.3 766.7 678.3 800 678C833.3 677.7 866.7 677.7 900 678C933.3 678.3 966.7 678.3 1000 680C1033.3 681.7 1070 684.7 1100 688C1130 691.3 1158.3 693 1180 700C1201.7 707 1215 720 1230 730C1245 740 1255 750 1270 760C1285 770 1298.3 780.8 1320 790C1341.7 799.2 1370 808.3 1400 815C1430 821.7 1465.2 826.2 1500 830C1534.8 833.8 1575.7 836 1609 838C1642.3 840 1684.8 841.3 1700 842L1700 1500L-80 1500Z" fill="#39B8FF"/>
<path d="M-80 938C-66.7 938.3 -46.7 938.8 0 940C46.7 941.2 133.3 944.2 200 945C266.7 945.8 333.3 945.8 400 945C466.7 944.2 532.5 940 600 940C667.5 940 754.2 943.5 805 945C855.8 946.5 871.7 949 905 949C938.3 949 971.7 946.5 1005 945C1038.3 943.5 1071.7 941.7 1105 940C1138.3 938.3 1171.7 937 1205 935C1238.3 933 1271.7 930.8 1305 928C1338.3 925.2 1371.7 921.8 1405 918C1438.3 914.2 1471 909.2 1505 905C1539 900.8 1576.5 896.3 1609 893C1641.5 889.7 1684.8 886.3 1700 885L1700 1500L-80 1500Z" fill="#47D1FF"/>
<path d="M-80 1020C-66.7 1019.7 -30 1019.2 0 1018C30 1016.8 66.7 1015.2 100 1013C133.3 1010.8 166.7 1006.7 200 1005C233.3 1003.3 266.7 1002.5 300 1003C333.3 1003.5 366.7 1006.8 400 1008C433.3 1009.2 466.7 1010 500 1010C533.3 1010 566.7 1009.2 600 1008C633.3 1006.8 665.8 1004.7 700 1003C734.2 1001.3 770.8 997.7 805 998C839.2 998.3 871.7 1003.3 905 1005C938.3 1006.7 971.7 1008 1005 1008C1038.3 1008 1071.7 1006.3 1105 1005C1138.3 1003.7 1171.7 1001.7 1205 1000C1238.3 998.3 1271.7 996.7 1305 995C1338.3 993.3 1371.7 991.2 1405 990C1438.3 988.8 1471 988.3 1505 988C1539 987.7 1576.5 988 1609 988C1641.5 988 1684.8 988 1700 988L1700 1500L-80 1500Z" fill="#42E6FF"/>
<path d="M-80 1065C-66.7 1064.7 -30 1064.2 0 1063C30 1061.8 66.7 1060.2 100 1058C133.3 1055.8 166.7 1051.7 200 1050C233.3 1048.3 266.7 1047.5 300 1048C333.3 1048.5 366.7 1051.3 400 1053C433.3 1054.7 466.7 1057.2 500 1058C533.3 1058.8 566.7 1058.8 600 1058C633.3 1057.2 665.8 1054.7 700 1053C734.2 1051.3 770.8 1047.7 805 1048C839.2 1048.3 871.7 1053.3 905 1055C938.3 1056.7 971.7 1058.3 1005 1058C1038.3 1057.7 1071.7 1054.7 1105 1053C1138.3 1051.3 1171.7 1049.7 1205 1048C1238.3 1046.3 1271.7 1044.7 1305 1043C1338.3 1041.3 1371.7 1039.3 1405 1038C1438.3 1036.7 1471 1035.5 1505 1035C1539 1034.5 1576.5 1035 1609 1035C1641.5 1035 1684.8 1035 1700 1035L1700 1500L-80 1500Z" fill="#42FCFF"/>
<path d="M-80 1126C-66.7 1126.3 -30 1126.8 0 1128C30 1129.2 66.7 1133.8 100 1133C133.3 1132.2 166.7 1126.8 200 1123C233.3 1119.2 270.8 1113 300 1110C329.2 1107 350 1105.3 375 1105C400 1104.7 420.8 1105 450 1108C479.2 1111 516.7 1118.8 550 1123C583.3 1127.2 607.5 1130.5 650 1133C692.5 1135.5 766.7 1139.3 805 1138C843.3 1136.7 855 1129.7 880 1125C905 1120.3 930 1114.5 955 1110C980 1105.5 1005 1102.2 1030 1098C1055 1093.8 1084.2 1087.5 1105 1085C1125.8 1082.5 1138.3 1081.7 1155 1083C1171.7 1084.3 1188.3 1088.5 1205 1093C1221.7 1097.5 1238.3 1104.2 1255 1110C1271.7 1115.8 1288.3 1122.5 1305 1128C1321.7 1133.5 1338.3 1139.3 1355 1143C1371.7 1146.7 1384.2 1147.5 1405 1150C1425.8 1152.5 1455 1155.8 1480 1158C1505 1160.2 1533.5 1161.8 1555 1163C1576.5 1164.2 1584.8 1164.5 1609 1165C1633.2 1165.5 1684.8 1165.8 1700 1166L1700 1500L-80 1500Z" fill="#43FFE0"/>
<path d="M1480 1138C1484.2 1133.5 1508.5 1126.8 1530 1123C1551.5 1119.2 1584 1116.3 1609 1115C1634 1113.7 1668.2 1107.5 1680 1115C1691.8 1122.5 1691.8 1152.5 1680 1160C1668.2 1167.5 1629.8 1160.3 1609 1160C1588.2 1159.7 1572.3 1159.7 1555 1158C1537.7 1156.3 1517.5 1153.3 1505 1150C1492.5 1146.7 1475.8 1142.5 1480 1138Z" fill="#42E6FF"/>
<path d="M380 1160C385.2 1156.3 391 1140.8 411 1138C431 1135.2 468.5 1141.3 500 1143C531.5 1144.7 566.7 1146.8 600 1148C633.3 1149.2 665.8 1149.7 700 1150C734.2 1150.3 775 1151.7 805 1150C835 1148.3 855 1143.3 880 1140C905 1136.7 930 1133.3 955 1130C980 1126.7 1005 1123.3 1030 1120C1055 1116.7 1084.2 1112 1105 1110C1125.8 1108 1138.3 1106.7 1155 1108C1171.7 1109.3 1188.3 1113.8 1205 1118C1221.7 1122.2 1238.3 1128 1255 1133C1271.7 1138 1288.3 1143.5 1305 1148C1321.7 1152.5 1334.2 1156.7 1355 1160C1375.8 1163.3 1405 1166 1430 1168C1455 1170 1475.2 1171 1505 1172C1534.8 1173 1576.5 1173.5 1609 1174C1641.5 1174.5 1684.8 1174.8 1700 1175L1700 1500L380 1500Z" fill="#43FFB3"/>
<path d="M390 1170C393.5 1166.7 392.7 1152.8 411 1150C429.3 1147.2 460.2 1151.7 500 1153C539.8 1154.3 599.2 1157.2 650 1158C700.8 1158.8 766.7 1159 805 1158C843.3 1157 855 1154.3 880 1152C905 1149.7 930 1146.5 955 1144C980 1141.5 1005 1139.3 1030 1137C1055 1134.7 1084.2 1131.5 1105 1130C1125.8 1128.5 1138.3 1127.2 1155 1128C1171.7 1128.8 1188.3 1131.7 1205 1135C1221.7 1138.3 1238.3 1143.8 1255 1148C1271.7 1152.2 1288.3 1156.3 1305 1160C1321.7 1163.7 1334.2 1167.2 1355 1170C1375.8 1172.8 1405 1175.3 1430 1177C1455 1178.7 1475.2 1179.2 1505 1180C1534.8 1180.8 1576.5 1181.5 1609 1182C1641.5 1182.5 1684.8 1182.8 1700 1183L1700 1500L390 1500Z" fill="#45FF52"/>
<path d="M480 1180C483.3 1177 471.7 1164.3 500 1162C528.3 1159.7 599.2 1165.5 650 1166C700.8 1166.5 766.7 1165.8 805 1165C843.3 1164.2 855 1162.8 880 1161C905 1159.2 925.8 1156.2 955 1154C984.2 1151.8 1021.7 1149.7 1055 1148C1088.3 1146.3 1130 1143.7 1155 1144C1180 1144.3 1188.3 1147.2 1205 1150C1221.7 1152.8 1238.3 1157.3 1255 1161C1271.7 1164.7 1288.3 1168.8 1305 1172C1321.7 1175.2 1330 1178 1355 1180C1380 1182 1412.7 1183.2 1455 1184C1497.3 1184.8 1568.2 1184.7 1609 1185C1649.8 1185.3 1684.8 1185.8 1700 1186L1700 1500L480 1500Z" fill="#66FF3D"/>
<path d="M560 1190C563 1187.2 554.7 1175.5 578 1173C601.3 1170.5 662.2 1175.2 700 1175C737.8 1174.8 779.2 1173 805 1172C830.8 1171 830 1170.3 855 1169C880 1167.7 921.7 1165.7 955 1164C988.3 1162.3 1021.7 1160 1055 1159C1088.3 1158 1130 1157.2 1155 1158C1180 1158.8 1188.3 1161.3 1205 1164C1221.7 1166.7 1238.3 1170.7 1255 1174C1271.7 1177.3 1288.3 1181.5 1305 1184C1321.7 1186.5 1330 1187.8 1355 1189C1380 1190.2 1412.7 1191 1455 1191C1497.3 1191 1568.2 1189.3 1609 1189C1649.8 1188.7 1684.8 1189 1700 1189L1700 1500L560 1500Z" fill="#8FFF3D"/>
<path d="M600 1195C603.3 1192.5 603.3 1182.3 620 1180C636.7 1177.7 669.2 1181.3 700 1181C730.8 1180.7 771.7 1179.2 805 1178C838.3 1176.8 867.5 1175.3 900 1174C932.5 1172.7 966.7 1170.7 1000 1170C1033.3 1169.3 1073.3 1169 1100 1170C1126.7 1171 1138.3 1173.3 1160 1176C1181.7 1178.7 1205.8 1183.7 1230 1186C1254.2 1188.3 1275.8 1188.5 1305 1190C1334.2 1191.5 1354.3 1194.7 1405 1195C1455.7 1195.3 1559.8 1192.5 1609 1192C1658.2 1191.5 1684.8 1192 1700 1192L1700 1500L600 1500Z" fill="#B8FF3D"/>
<path d="M1220 1210C1223 1206.8 1223.8 1193.3 1238 1191C1252.2 1188.7 1277.2 1194.7 1305 1196C1332.8 1197.3 1371.7 1198.5 1405 1199C1438.3 1199.5 1471 1199.7 1505 1199C1539 1198.3 1576.5 1195.7 1609 1195C1641.5 1194.3 1684.8 1195 1700 1195L1700 1500L1220 1500Z" fill="#E0FF3D"/>
<path d="M1270 1215C1273.3 1212.5 1267.5 1202 1290 1200C1312.5 1198 1369.2 1202.7 1405 1203C1440.8 1203.3 1471 1202.7 1505 1202C1539 1201.3 1576.5 1199.5 1609 1199C1641.5 1198.5 1684.8 1199 1700 1199L1700 1500L1270 1500Z" fill="#FFFA3D"/>
<path d="M1300 1225C1303.3 1222.2 1302.5 1211 1320 1208C1337.5 1205 1374.2 1207.3 1405 1207C1435.8 1206.7 1471 1206.7 1505 1206C1539 1205.3 1576.5 1203.5 1609 1203C1641.5 1202.5 1684.8 1203 1700 1203L1700 1500L1300 1500Z" fill="#FFE03D"/>
<path d="M1430 1230C1434.2 1227.8 1438.3 1219.8 1455 1217C1471.7 1214.2 1504.3 1214.3 1530 1213C1555.7 1211.7 1580.7 1209.7 1609 1209C1637.3 1208.3 1684.8 1209 1700 1209L1700 1500L1430 1500Z" fill="#FFB83D"/>
<path d="M738 1190C746.3 1186.7 779.7 1186.7 788 1190C796.3 1193.3 796.3 1206.7 788 1210C779.7 1213.3 746.3 1213.3 738 1210C729.7 1206.7 729.7 1193.3 738 1190Z" fill="#FFFA3D"/>
</g>
<path d="M924.4 631.7H1061.4V688.3H924.4ZM1060.8 637.5H1088.7V688.3H1060.8ZM1088.1 642.1H1116V688.3H1088.1ZM1115.4 646.5H1170.5V688.3H1115.4ZM1169.9 651.5H1184.2V688.3H1169.9ZM1183.6 646.5H1211.5V688.3H1183.6ZM1210.9 642.1H1306.9V688.3H1210.9ZM1306.3 646.5H1334.2V688.3H1306.3ZM1333.6 652H1361.5V688.3H1333.6ZM1360.9 657H1457V688.3H1360.9Z" fill="#fff"/>
</g>
<path clip-path="url(#cp2)" d="M930.8 279L918 294.3M918 294.3l-9.9 -2.5M920.5 291.3l-9.9 -2.5M923 288.4l-5.4 -1.4M958.1 279L945.3 294.3M945.3 294.3l-9.9 -2.5M947.8 291.3l-9.9 -2.5M950.3 288.4l-5.4 -1.4M985.5 279L972.6 294.3M972.6 294.3l-9.9 -2.5M975.1 291.3l-9.9 -2.5M977.6 288.4l-5.4 -1.4M1012.8 279L999.9 294.3M999.9 294.3l-9.9 -2.5M1002.4 291.3l-9.9 -2.5M1004.9 288.4l-5.4 -1.4M1040.1 279L1027.3 294.3M1027.3 294.3l-9.9 -2.5M1029.8 291.3l-9.9 -2.5M1032.2 288.4l-5.4 -1.4M1067.4 279L1054.6 294.3M1054.6 294.3l-9.9 -2.5M1057.1 291.3l-9.9 -2.5M1059.6 288.4l-5.4 -1.4M1094.8 279L1081.9 294.3M1081.9 294.3l-9.9 -2.5M1084.4 291.3l-9.9 -2.5M1086.9 288.4l-5.4 -1.4M1122.1 279L1109.2 294.3M1109.2 294.3l-9.9 -2.5M1111.7 291.3l-9.9 -2.5M1114.2 288.4l-5.4 -1.4M1149.4 279L1136.6 294.3M1136.6 294.3l-9.9 -2.5M1139.1 291.3l-9.9 -2.5M1141.5 288.4l-5.4 -1.4M1176.7 279L1163.9 294.3M1163.9 294.3l-9.9 -2.5M1166.4 291.3l-9.9 -2.5M1168.9 288.4l-5.4 -1.4M1204.1 279L1191.2 294.3M1191.2 294.3l-9.9 -2.5M1193.7 291.3l-9.9 -2.5M1196.2 288.4l-5.4 -1.4M1231.4 279L1218.5 294.3M1218.5 294.3l-9.9 -2.5M1221 291.3l-9.9 -2.5M1223.5 288.4l-5.4 -1.4M1258.7 279L1245.9 294.3M1245.9 294.3l-9.9 -2.5M1248.3 291.3l-9.9 -2.5M1250.8 288.4l-5.4 -1.4M1286 279L1273.2 294.3M1273.2 294.3l-9.9 -2.5M1275.7 291.3l-9.9 -2.5M1278.2 288.4l-5.4 -1.4M1313.3 279L1300.5 294.3M1300.5 294.3l-9.9 -2.5M1303 291.3l-9.9 -2.5M1305.5 288.4l-5.4 -1.4M1340.7 279L1327.8 294.3M1327.8 294.3l-9.9 -2.5M1330.3 291.3l-9.9 -2.5M1332.8 288.4l-5.4 -1.4M1368 279L1355.2 294.3M1355.2 294.3l-9.9 -2.5M1357.6 291.3l-9.9 -2.5M1360.1 288.4l-5.4 -1.4M1395.3 279L1382.5 294.3M1382.5 294.3l-9.9 -2.5M1385 291.3l-9.9 -2.5M1387.5 288.4l-5.4 -1.4M1422.6 279L1409.8 294.3M1409.8 294.3l-9.9 -2.5M1412.3 291.3l-9.9 -2.5M1414.8 288.4l-5.4 -1.4M1450 279L1437.1 294.3M1437.1 294.3l-9.9 -2.5M1439.6 291.3l-9.9 -2.5M1442.1 288.4l-5.4 -1.4M930.8 323.2L918 338.5M918 338.5l-9.9 -2.5M920.5 335.6l-9.9 -2.5M958.1 323.2L945.3 338.5M945.3 338.5l-9.9 -2.5M947.8 335.6l-9.9 -2.5M985.5 323.2L972.6 338.5M972.6 338.5l-9.9 -2.5M975.1 335.6l-9.9 -2.5M1012.8 323.2L999.9 338.5M999.9 338.5l-9.9 -2.5M1002.4 335.6l-9.9 -2.5M1040.1 323.2L1027.3 338.5M1027.3 338.5l-9.9 -2.5M1029.8 335.6l-9.9 -2.5M1067.4 323.2L1054.6 338.5M1054.6 338.5l-9.9 -2.5M1057.1 335.6l-9.9 -2.5M1094.8 323.2L1081.9 338.5M1081.9 338.5l-9.9 -2.5M1084.4 335.6l-9.9 -2.5M1122.1 323.2L1109.2 338.5M1109.2 338.5l-9.9 -2.5M1111.7 335.6l-9.9 -2.5M1149.4 323.2L1136.6 338.5M1136.6 338.5l-9.9 -2.5M1139.1 335.6l-9.9 -2.5M1176.7 323.2L1163.9 338.5M1163.9 338.5l-9.9 -2.5M1166.4 335.6l-9.9 -2.5M1204.1 323.2L1191.2 338.5M1191.2 338.5l-9.9 -2.5M1193.7 335.6l-9.9 -2.5M1231.4 323.2L1218.5 338.5M1218.5 338.5l-9.9 -2.5M1221 335.6l-9.9 -2.5M1258.7 323.2L1245.9 338.5M1245.9 338.5l-9.9 -2.5M1248.3 335.6l-9.9 -2.5M1286 323.2L1273.2 338.5M1273.2 338.5l-9.9 -2.5M1275.7 335.6l-9.9 -2.5M1313.3 323.2L1300.5 338.5M1300.5 338.5l-9.9 -2.5M1303 335.6l-9.9 -2.5M1340.7 323.2L1327.8 338.5M1327.8 338.5l-9.9 -2.5M1330.3 335.6l-9.9 -2.5M1368 323.2L1355.1 338.5M1355.1 338.5l-9.9 -2.5M1357.6 335.6l-9.9 -2.5M1395.3 323.2L1382.5 338.5M1382.5 338.5l-9.9 -2.5M1385 335.6l-9.9 -2.5M1422.6 323.2L1409.8 338.5M1409.8 338.5l-9.9 -2.5M1412.3 335.6l-9.9 -2.5M1450 323.2L1437.1 338.5M1437.1 338.5l-9.9 -2.5M1439.6 335.6l-9.9 -2.5M931.1 366.7L917.7 381.5M917.7 381.5l-9.8 -2.8M920.3 378.7l-9.8 -2.8M958.4 366.7L945 381.5M945 381.5l-9.8 -2.8M947.6 378.7l-9.8 -2.8M985.7 366.7L972.4 381.5M972.4 381.5l-9.8 -2.8M975 378.7l-9.8 -2.8M1013 366.7L999.7 381.5M999.7 381.5l-9.8 -2.8M1002.3 378.7l-9.8 -2.8M1040.4 366.7L1027 381.5M1027 381.5l-9.8 -2.8M1029.6 378.7l-9.8 -2.8M1067.7 366.7L1054.3 381.5M1054.3 381.5l-9.8 -2.8M1056.9 378.7l-9.8 -2.8M1095 366.7L1081.7 381.5M1081.7 381.5l-9.8 -2.8M1084.2 378.7l-9.8 -2.8M1122.3 366.7L1109 381.5M1109 381.5l-9.8 -2.8M1111.6 378.7l-9.8 -2.8M1149.7 366.7L1136.3 381.5M1136.3 381.5l-9.8 -2.8M1138.9 378.7l-9.8 -2.8M1177 366.7L1163.6 381.5M1163.6 381.5l-9.8 -2.8M1166.2 378.7l-9.8 -2.8M1204.3 366.7L1190.9 381.5M1190.9 381.5l-9.8 -2.8M1193.5 378.7l-9.8 -2.8M1231.6 366.7L1218.3 381.5M1218.3 381.5l-9.8 -2.8M1220.9 378.7l-9.8 -2.8M1259 366.7L1245.6 381.5M1245.6 381.5l-9.8 -2.8M1248.2 378.7l-9.8 -2.8M1286.3 366.7L1272.9 381.5M1272.9 381.5l-9.8 -2.8M1275.5 378.7l-9.8 -2.8M1313.6 366.7L1300.2 381.5M1300.2 381.5l-9.8 -2.8M1302.8 378.7l-9.8 -2.8M1340.9 366.7L1327.6 381.5M1327.6 381.5l-9.8 -2.8M1330.2 378.7l-9.8 -2.8M1368.3 366.7L1354.9 381.5M1354.9 381.5l-9.8 -2.8M1357.5 378.7l-9.8 -2.8M1395.6 366.7L1382.2 381.5M1382.2 381.5l-9.8 -2.8M1384.8 378.7l-9.8 -2.8M1422.9 366.7L1409.5 381.5M1409.5 381.5l-9.8 -2.8M1412.1 378.7l-9.8 -2.8M1450.2 366.7L1436.9 381.5M1436.9 381.5l-9.8 -2.8M1439.5 378.7l-9.8 -2.8M931.1 402.4L917.7 417.2M917.7 417.2l-9.8 -2.8M920.3 414.3l-5.4 -1.5M958.4 402.4L945 417.2M945 417.2l-9.8 -2.8M947.6 414.3l-5.4 -1.5M985.7 402.4L972.4 417.2M972.4 417.2l-9.8 -2.8M974.9 414.3l-5.4 -1.5M1013 402.4L999.7 417.2M999.7 417.2l-9.8 -2.8M1002.3 414.3l-5.4 -1.5M1040.4 402.4L1027 417.2M1027 417.2l-9.8 -2.8M1029.6 414.3l-5.4 -1.5M1067.7 402.4L1054.3 417.2M1054.3 417.2l-9.8 -2.8M1056.9 414.3l-5.4 -1.5M1095 402.4L1081.7 417.2M1081.7 417.2l-9.8 -2.8M1084.2 414.3l-5.4 -1.5M1122.3 402.4L1109 417.2M1109 417.2l-9.8 -2.8M1111.6 414.3l-5.4 -1.5M1149.7 402.4L1136.3 417.2M1136.3 417.2l-9.8 -2.8M1138.9 414.3l-5.4 -1.5M1177 402.4L1163.6 417.2M1163.6 417.2l-9.8 -2.8M1166.2 414.3l-5.4 -1.5M1204.3 402.4L1190.9 417.2M1190.9 417.2l-9.8 -2.8M1193.5 414.3l-5.4 -1.5M1231.6 402.4L1218.3 417.2M1218.3 417.2l-9.8 -2.8M1220.9 414.3l-5.4 -1.5M1259 402.4L1245.6 417.2M1245.6 417.2l-9.8 -2.8M1248.2 414.3l-5.4 -1.5M1286.3 402.4L1272.9 417.2M1272.9 417.2l-9.8 -2.8M1275.5 414.3l-5.4 -1.5M1313.6 402.4L1300.2 417.2M1300.2 417.2l-9.8 -2.8M1302.8 414.3l-5.4 -1.5M1340.9 402.4L1327.6 417.2M1327.6 417.2l-9.8 -2.8M1330.2 414.3l-5.4 -1.5M1368.3 402.4L1354.9 417.2M1354.9 417.2l-9.8 -2.8M1357.5 414.3l-5.4 -1.5M1395.6 402.4L1382.2 417.2M1382.2 417.2l-9.8 -2.8M1384.8 414.3l-5.4 -1.5M1422.9 402.4L1409.5 417.2M1409.5 417.2l-9.8 -2.8M1412.1 414.3l-5.4 -1.5M1450.2 402.4L1436.9 417.2M1436.9 417.2l-9.8 -2.8M1439.5 414.3l-5.4 -1.5M931.1 427.9L917.7 442.7M917.7 442.7l-9.8 -2.8M920.3 439.8l-5.4 -1.5M958.4 427.9L945 442.7M945 442.7l-9.8 -2.8M947.6 439.8l-5.4 -1.5M985.7 427.9L972.4 442.7M972.4 442.7l-9.8 -2.8M974.9 439.8l-5.4 -1.5M1013 427.9L999.7 442.7M999.7 442.7l-9.8 -2.8M1002.3 439.8l-5.4 -1.5M1040.4 427.9L1027 442.7M1027 442.7l-9.8 -2.8M1029.6 439.8l-5.4 -1.5M1067.7 427.9L1054.3 442.7M1054.3 442.7l-9.8 -2.8M1056.9 439.8l-5.4 -1.5M1095 427.9L1081.7 442.7M1081.7 442.7l-9.8 -2.8M1084.2 439.8l-5.4 -1.5M1122.3 427.9L1109 442.7M1109 442.7l-9.8 -2.8M1111.6 439.8l-5.4 -1.5M1149.7 427.9L1136.3 442.7M1136.3 442.7l-9.8 -2.8M1138.9 439.8l-5.4 -1.5M1177 427.9L1163.6 442.7M1163.6 442.7l-9.8 -2.8M1166.2 439.8l-5.4 -1.5M1204.3 427.9L1190.9 442.7M1190.9 442.7l-9.8 -2.8M1193.5 439.8l-5.4 -1.5M1231.6 427.9L1218.3 442.7M1218.3 442.7l-9.8 -2.8M1220.9 439.8l-5.4 -1.5M1259 427.9L1245.6 442.7M1245.6 442.7l-9.8 -2.8M1248.2 439.8l-5.4 -1.5M1286.3 427.9L1272.9 442.7M1272.9 442.7l-9.8 -2.8M1275.5 439.8l-5.4 -1.5M1313.6 427.9L1300.2 442.7M1300.2 442.7l-9.8 -2.8M1302.8 439.8l-5.4 -1.5M1340.9 427.9L1327.6 442.7M1327.6 442.7l-9.8 -2.8M1330.2 439.8l-5.4 -1.5M1368.3 427.9L1354.9 442.7M1354.9 442.7l-9.8 -2.8M1357.5 439.8l-5.4 -1.5M1395.6 427.9L1382.2 442.7M1382.2 442.7l-9.8 -2.8M1384.8 439.8l-5.4 -1.5M1422.9 427.9L1409.5 442.7M1409.5 442.7l-9.8 -2.8M1412.1 439.8l-5.4 -1.5M1450.2 427.9L1436.9 442.7M1436.9 442.7l-9.8 -2.8M1439.5 439.8l-5.4 -1.5M931.2 452.3L917.6 467M917.6 467l-9.8 -2.9M920.2 464.2l-5.4 -1.6M958.5 452.3L945 467M945 467l-9.8 -2.9M947.6 464.2l-5.4 -1.6M985.8 452.3L972.3 467M972.3 467l-9.8 -2.9M974.9 464.2l-5.4 -1.6M1013.1 452.3L999.6 467M999.6 467l-9.8 -2.9M1002.2 464.2l-5.4 -1.6M1040.4 452.3L1027 467M1027 467l-9.8 -2.9M1029.6 464.2l-5.4 -1.6M1067.7 452.3L1054.3 467M1054.3 467l-9.8 -2.9M1056.9 464.2l-5.4 -1.6M1095.1 452.3L1081.6 467M1081.6 467l-9.8 -2.9M1084.2 464.2l-5.4 -1.6M1122.4 452.3L1109 467.1M1109 467.1l-9.8 -2.8M1111.6 464.2l-5.4 -1.6M1149.7 452.3L1136.3 467.1M1136.3 467.1l-9.8 -2.8M1138.9 464.2l-5.4 -1.6M1177 452.2L1163.6 467.1M1163.6 467.1l-9.8 -2.8M1166.2 464.2l-5.4 -1.6M1204.3 452.2L1190.9 467.1M1190.9 467.1l-9.8 -2.8M1193.5 464.2l-5.4 -1.5M1231.6 452.2L1218.3 467.1M1218.3 467.1l-9.8 -2.8M1220.9 464.2l-5.4 -1.5M1258.9 452.2L1245.6 467.1M1245.6 467.1l-9.8 -2.8M1248.2 464.2l-5.4 -1.5M1286.3 452.2L1272.9 467.1M1272.9 467.1l-9.8 -2.8M1275.5 464.2l-5.4 -1.5M1313.6 452.2L1300.3 467.1M1300.3 467.1l-9.8 -2.8M1302.9 464.2l-5.4 -1.5M1340.9 452.2L1327.6 467.1M1327.6 467.1l-9.8 -2.7M1330.2 464.2l-5.4 -1.5M1368.2 452.2L1354.9 467.1M1354.9 467.1l-9.8 -2.7M1357.5 464.2l-5.4 -1.5M1395.5 452.2L1382.3 467.1M1382.3 467.1l-9.8 -2.7M1384.8 464.2l-5.4 -1.5M1422.8 452.2L1409.6 467.2M1409.6 467.2l-9.8 -2.7M1412.2 464.2l-5.4 -1.5M1450.1 452.2L1436.9 467.2M1436.9 467.2l-9.8 -2.7M1439.5 464.3l-5.4 -1.5M931.3 474.9L917.5 489.4M917.5 489.4l-9.7 -3M958.6 474.9L944.9 489.5M944.9 489.5l-9.7 -3M985.9 474.9L972.2 489.5M972.2 489.5l-9.7 -3M1013.2 474.9L999.6 489.5M999.6 489.5l-9.7 -3M1002.2 486.7l-5.4 -1.6M1040.5 474.9L1026.9 489.5M1026.9 489.5l-9.8 -2.9M1029.5 486.7l-5.4 -1.6M1067.8 474.8L1054.2 489.5M1054.2 489.5l-9.8 -2.9M1056.9 486.7l-5.4 -1.6M1095.1 474.8L1081.6 489.5M1081.6 489.5l-9.8 -2.9M1084.2 486.7l-5.4 -1.6M1122.4 474.8L1108.9 489.6M1108.9 489.6l-9.8 -2.9M1111.5 486.7l-5.4 -1.6M1149.7 474.8L1136.3 489.6M1136.3 489.6l-9.8 -2.9M1138.9 486.7l-5.4 -1.6M1177 474.8L1163.6 489.6M1163.6 489.6l-9.8 -2.8M1166.2 486.7l-5.4 -1.6M1204.3 474.8L1191 489.6M1191 489.6l-9.8 -2.8M1193.5 486.7l-5.4 -1.5M1231.6 474.7L1218.3 489.6M1218.3 489.6l-9.8 -2.8M1220.9 486.7l-5.4 -1.5M1258.9 474.7L1245.6 489.6M1245.6 489.6l-9.8 -2.8M1248.2 486.8l-5.4 -1.5M1286.2 474.7L1273 489.7M1273 489.7l-9.8 -2.7M1275.5 486.8l-5.4 -1.5M1313.5 474.7L1300.3 489.7M1300.3 489.7l-9.8 -2.7M1302.9 486.8l-5.4 -1.5M1340.8 474.7L1327.7 489.7M1327.7 489.7l-9.8 -2.7M1330.2 486.8l-5.4 -1.5M1368.1 474.7L1355 489.7M1355 489.7l-9.8 -2.7M1357.6 486.8l-5.4 -1.5M1395.4 474.6L1382.3 489.7M1382.3 489.7l-9.8 -2.6M1384.9 486.8l-5.4 -1.4M1422.7 474.6L1409.7 489.7M1409.7 489.7l-9.9 -2.6M1412.2 486.8l-5.4 -1.4M1450.1 474.6L1437 489.8M1437 489.8l-9.9 -2.6M1439.6 486.8l-5.4 -1.4M931.3 495.8L917.5 510.2M917.5 510.2l-9.7 -3.1M958.6 495.8L944.8 510.2M944.8 510.2l-9.7 -3.1M985.9 495.8L972.2 510.2M972.2 510.2l-9.7 -3.1M1013.2 495.7L999.5 510.2M999.5 510.2l-9.7 -3M1040.5 495.7L1026.9 510.3M1026.9 510.3l-9.7 -3M1067.8 495.7L1054.2 510.3M1054.2 510.3l-9.7 -3M1056.8 507.5l-5.4 -1.6M1095.1 495.7L1081.6 510.3M1081.6 510.3l-9.8 -2.9M1084.2 507.5l-5.4 -1.6M1122.4 495.6L1108.9 510.3M1108.9 510.3l-9.8 -2.9M1111.5 507.5l-5.4 -1.6M1149.7 495.6L1136.3 510.4M1136.3 510.4l-9.8 -2.9M1138.9 507.5l-5.4 -1.6M1177 495.6L1163.6 510.4M1163.6 510.4l-9.8 -2.8M1166.2 507.5l-5.4 -1.6M1204.3 495.6L1191 510.4M1191 510.4l-9.8 -2.8M1193.5 507.5l-5.4 -1.5M1231.6 495.5L1218.3 510.4M1218.3 510.4l-9.8 -2.8M1220.9 507.6l-5.4 -1.5M1258.9 495.5L1245.7 510.5M1245.7 510.5l-9.8 -2.7M1248.2 507.6l-5.4 -1.5M1286.2 495.5L1273 510.5M1273 510.5l-9.8 -2.7M1275.6 507.6l-5.4 -1.5M1313.5 495.5L1300.4 510.5M1300.4 510.5l-9.8 -2.7M1302.9 507.6l-5.4 -1.5M1340.8 495.4L1327.7 510.5M1327.7 510.5l-9.8 -2.6M1330.2 507.6l-5.4 -1.4M1368.1 495.4L1355.1 510.6M1355.1 510.6l-9.9 -2.6M1357.6 507.6l-5.4 -1.4M1395.4 495.4L1382.4 510.6M1382.4 510.6l-9.9 -2.6M1384.9 507.6l-5.4 -1.4M1422.7 495.4L1409.8 510.6M1409.8 510.6l-9.9 -2.5M1412.3 507.7l-5.4 -1.4M1450 495.3L1437.1 510.6M1437.1 510.6l-9.9 -2.5M1439.6 507.7l-5.4 -1.4M931.3 515.7L917.5 530.1M917.5 530.1l-9.7 -3.1M958.6 515.7L944.8 530.1M944.8 530.1l-9.7 -3.1M985.9 515.6L972.2 530.1M972.2 530.1l-9.7 -3.1M1013.2 515.6L999.5 530.2M999.5 530.2l-9.7 -3M1040.5 515.6L1026.9 530.2M1026.9 530.2l-9.8 -3M1067.8 515.5L1054.3 530.2M1054.3 530.2l-9.8 -2.9M1095.1 515.5L1081.6 530.3M1081.6 530.3l-9.8 -2.9M1122.3 515.5L1109 530.3M1109 530.3l-9.8 -2.8M1149.6 515.4L1136.3 530.3M1136.3 530.3l-9.8 -2.8M1138.9 527.4l-5.4 -1.5M1176.9 515.4L1163.7 530.4M1163.7 530.4l-9.8 -2.7M1166.3 527.4l-5.4 -1.5M1204.2 515.4L1191 530.4M1191 530.4l-9.8 -2.7M1193.6 527.5l-5.4 -1.5M1231.5 515.3L1218.4 530.4M1218.4 530.4l-9.8 -2.6M1220.9 527.5l-5.4 -1.4M1258.8 515.3L1245.8 530.4M1245.8 530.4l-9.9 -2.6M1248.3 527.5l-5.4 -1.4M1286.1 515.3L1273.1 530.5M1273.1 530.5l-9.9 -2.5M1275.6 527.5l-5.4 -1.4M1313.4 515.2L1300.5 530.5M1300.5 530.5l-9.9 -2.5M1303 527.5l-5.4 -1.4M1340.6 515.2L1327.9 530.5M1327.9 530.5l-9.9 -2.4M1330.3 527.6l-5.4 -1.3M1367.9 515.2L1355.2 530.6M1355.2 530.6l-9.9 -2.4M1357.7 527.6l-5.4 -1.3M1395.2 515.1L1382.6 530.6M1382.6 530.6l-9.9 -2.3M1385 527.6l-5.5 -1.3M1422.5 515.1L1409.9 530.6M1409.9 530.6l-9.9 -2.3M1412.4 527.6l-5.5 -1.3M1449.8 515.1L1437.3 530.7M1437.3 530.7l-9.9 -2.2M1439.7 527.6l-5.5 -1.2M931.3 534L917.5 548.4M917.5 548.4l-9.7 -3.1M958.6 534L944.8 548.4M944.8 548.4l-9.7 -3.1M985.9 534L972.2 548.5M972.2 548.5l-9.7 -3M1013.2 533.9L999.6 548.5M999.6 548.5l-9.7 -3M1040.5 533.9L1026.9 548.6M1026.9 548.6l-9.8 -2.9M1067.7 533.8L1054.3 548.6M1054.3 548.6l-9.8 -2.9M1095 533.8L1081.7 548.7M1081.7 548.7l-9.8 -2.8M1122.3 533.7L1109 548.7M1109 548.7l-9.8 -2.7M1149.6 533.7L1136.4 548.7M1136.4 548.7l-9.8 -2.7M1176.8 533.7L1163.8 548.8M1163.8 548.8l-9.8 -2.6M1204.1 533.6L1191.1 548.8M1191.1 548.8l-9.9 -2.6M1231.4 533.6L1218.5 548.9M1218.5 548.9l-9.9 -2.5M1258.7 533.6L1245.9 548.9M1245.9 548.9l-9.9 -2.4M1286 533.5L1273.2 548.9M1273.2 548.9l-9.9 -2.4M1275.7 545.9l-5.5 -1.3M1313.2 533.5L1300.6 549M1300.6 549l-9.9 -2.3M1303.1 546l-5.5 -1.3M1340.5 533.4L1328 549M1328 549l-9.9 -2.3M1330.4 546l-5.5 -1.2M1367.8 533.4L1355.4 549M1355.4 549l-10 -2.2M1357.8 546l-5.5 -1.2M1395.1 533.4L1382.7 549.1M1382.7 549.1l-10 -2.1M1385.1 546l-5.5 -1.2M1422.3 533.3L1410.1 549.1M1410.1 549.1l-10 -2.1M1412.5 546.1l-5.5 -1.1M1449.6 533.3L1437.5 549.2M1437.5 549.2l-10 -2M1439.8 546.1l-5.5 -1.1M931.3 551.5L917.5 565.8M917.5 565.8l-9.7 -3.1M958.6 551.4L944.8 565.9M944.8 565.9l-9.7 -3.1M985.9 551.4L972.2 565.9M972.2 565.9l-9.7 -3M1013.1 551.3L999.6 566M999.6 566l-9.8 -2.9M1040.4 551.3L1027 566M1027 566l-9.8 -2.9M1067.7 551.2L1054.3 566.1M1054.3 566.1l-9.8 -2.8M1095 551.2L1081.7 566.1M1081.7 566.1l-9.8 -2.7M1122.2 551.1L1109.1 566.2M1109.1 566.2l-9.8 -2.7M1149.5 551.1L1136.5 566.2M1136.5 566.2l-9.9 -2.6M1176.8 551L1163.8 566.3M1163.8 566.3l-9.9 -2.5M1204 551L1191.2 566.3M1191.2 566.3l-9.9 -2.4M1231.3 550.9L1218.6 566.4M1218.6 566.4l-9.9 -2.4M1258.6 550.9L1246 566.4M1246 566.4l-9.9 -2.3M1285.8 550.9L1273.4 566.5M1273.4 566.5l-9.9 -2.2M1313.1 550.8L1300.7 566.5M1300.7 566.5l-10 -2.2M1340.4 550.8L1328.1 566.5M1328.1 566.5l-10 -2.1M1330.5 563.5l-5.5 -1.2M1367.6 550.7L1355.5 566.6M1355.5 566.6l-10 -2M1357.9 563.5l-5.5 -1.1M1394.9 550.7L1382.9 566.6M1382.9 566.6l-10 -2M1385.2 563.5l-5.5 -1.1M1422.2 550.6L1410.3 566.7M1410.3 566.7l-10 -1.9M1412.6 563.6l-5.5 -1M1449.4 550.6L1437.6 566.7M1437.6 566.7l-10 -1.8M1439.9 563.6l-5.5 -1M931.7 567.7L917.1 581.3M917.1 581.3l-9.5 -3.7M958.9 567.6L944.5 581.4M944.5 581.4l-9.6 -3.5M986.2 567.5L971.9 581.4M971.9 581.4l-9.6 -3.4M1013.4 567.4L999.3 581.5M999.3 581.5l-9.6 -3.3M1040.6 567.3L1026.7 581.6M1026.7 581.6l-9.7 -3.2M1067.9 567.2L1054.1 581.7M1054.1 581.7l-9.7 -3.1M1095.1 567.1L1081.6 581.8M1081.6 581.8l-9.8 -2.9M1122.3 567L1109 581.9M1109 581.9l-9.8 -2.8M1149.6 567L1136.4 582M1136.4 582l-9.8 -2.7M1176.8 566.9L1163.8 582M1163.8 582l-9.9 -2.6M1204 566.8L1191.2 582.1M1191.2 582.1l-9.9 -2.4M1231.3 566.7L1218.7 582.2M1218.7 582.2l-9.9 -2.3M1258.5 566.6L1246.1 582.3M1246.1 582.3l-10 -2.2M1285.7 566.5L1273.5 582.4M1273.5 582.4l-10 -2.1M1312.9 566.5L1300.9 582.4M1300.9 582.4l-10 -1.9M1340.1 566.4L1328.4 582.5M1328.4 582.5l-10 -1.8M1330.6 579.4l-5.5 -1M1367.4 566.3L1355.8 582.6M1355.8 582.6l-10.1 -1.7M1358 579.4l-5.5 -0.9M1394.6 566.3L1383.2 582.7M1383.2 582.7l-10.1 -1.5M1385.4 579.5l-5.5 -0.9M1421.8 566.2L1410.6 582.7M1410.6 582.7l-10.1 -1.4M1412.8 579.5l-5.6 -0.8M1449 566.1L1438.1 582.8M1438.1 582.8l-10.1 -1.3M1440.2 579.6l-5.6 -0.7M932.4 581.5L916.4 593.5M916.4 593.5l-9.1 -4.6M959.6 581.4L943.9 593.7M943.9 593.7l-9.2 -4.5M986.8 581.2L971.3 593.8M971.3 593.8l-9.3 -4.3M1014 581L998.8 594M998.8 594l-9.3 -4.1M1041.2 580.9L1026.2 594.1M1026.2 594.1l-9.4 -3.9M1068.4 580.7L1053.7 594.3M1053.7 594.3l-9.5 -3.7M1095.6 580.6L1081.1 594.4M1081.1 594.4l-9.6 -3.5M1122.7 580.5L1108.6 594.6M1108.6 594.6l-9.6 -3.3M1149.9 580.3L1136 594.7M1136 594.7l-9.7 -3.2M1177.1 580.2L1163.5 594.8M1163.5 594.8l-9.8 -3M1204.3 580.1L1191 595M1191 595l-9.8 -2.8M1231.4 579.9L1218.5 595.1M1218.5 595.1l-9.9 -2.5M1258.6 579.8L1246 595.2M1246 595.2l-9.9 -2.3M1285.7 579.6L1273.5 595.4M1273.5 595.4l-10 -2.1M1312.9 579.5L1300.9 595.5M1300.9 595.5l-10 -1.9M1340.1 579.4L1328.4 595.6M1328.4 595.6l-10.1 -1.7M1330.7 592.5l-5.5 -0.9M1367.2 579.3L1355.9 595.8M1355.9 595.8l-10.1 -1.5M1358.1 592.6l-5.5 -0.8M1394.3 579.1L1383.4 595.9M1383.4 595.9l-10.1 -1.3M1385.6 592.6l-5.6 -0.7M1421.5 579L1411 596M1411 596l-10.1 -1M1413 592.7l-5.6 -0.6M1448.6 578.9L1438.5 596.1M1438.5 596.1l-10.2 -0.8M1440.4 592.8l-5.6 -0.4M933 592.3L915.8 602.5M915.8 602.5l-8.5 -5.6M960.2 592.1L943.3 602.7M943.3 602.7l-8.7 -5.4M987.3 591.8L970.7 602.9M970.7 602.9l-8.8 -5.1M1014.5 591.6L998.2 603.2M998.2 603.2l-8.9 -4.9M1041.7 591.4L1025.7 603.4M1025.7 603.4l-9.1 -4.7M1068.9 591.2L1053.2 603.6M1053.2 603.6l-9.2 -4.4M1096 591L1080.7 603.8M1080.7 603.8l-9.3 -4.2M1123.2 590.8L1108.1 604M1108.1 604l-9.4 -4M1150.3 590.6L1135.6 604.2M1135.6 604.2l-9.5 -3.7M1177.5 590.4L1163.1 604.4M1163.1 604.4l-9.6 -3.5M1204.6 590.2L1190.7 604.5M1190.7 604.5l-9.7 -3.2M1231.7 590L1218.2 604.8M1218.2 604.8l-9.8 -2.9M1258.8 589.8L1245.8 605M1245.8 605l-9.9 -2.6M1285.9 589.6L1273.3 605.2M1273.3 605.2l-9.9 -2.3M1312.9 589.4L1300.9 605.4M1300.9 605.4l-10 -2M1340 589.2L1328.5 605.5M1328.5 605.5l-10.1 -1.6M1367.1 589.1L1356.1 605.7M1356.1 605.7l-10.1 -1.3M1358.2 602.5l-5.6 -0.7M1394.1 588.9L1383.6 605.9M1383.6 605.9l-10.1 -1M1385.7 602.6l-5.6 -0.6M1421.2 588.7L1411.2 606.1M1411.2 606.1l-10.2 -0.7M1413.2 602.7l-5.6 -0.4M1448.3 588.6L1438.8 606.2M1438.8 606.2l-10.2 -0.4M1440.7 602.8l-5.6 -0.2M933.5 602.3L915.3 610.7M918.8 609l-4.3 -3.5M960.7 602L942.8 610.9M946.2 609.2l-4.5 -3.4M987.8 601.7L970.2 611.2M973.7 609.4l-4.6 -3.3M1015 601.5L997.7 611.5M997.7 611.5l-8.5 -5.7M1042.2 601.2L1025.2 611.7M1025.2 611.7l-8.6 -5.4M1069.3 601L1052.7 612M1052.7 612l-8.8 -5.2M1096.5 600.7L1080.2 612.2M1080.2 612.2l-8.9 -4.9M1123.6 600.5L1107.7 612.5M1107.7 612.5l-9.1 -4.6M1150.8 600.2L1135.2 612.7M1135.2 612.7l-9.2 -4.4M1177.9 600L1162.7 612.9M1162.7 612.9l-9.3 -4.1M1205 599.7L1190.3 613.2M1190.3 613.2l-9.5 -3.8M1232 599.4L1217.9 613.5M1217.9 613.5l-9.6 -3.3M1259 599.1L1245.5 613.8M1245.5 613.8l-9.8 -2.9M1286 598.8L1273.2 614.1M1273.2 614.1l-9.9 -2.5M1313 598.6L1300.8 614.4M1300.8 614.4l-10 -2M1340 598.3L1328.5 614.6M1328.5 614.6l-10.1 -1.6M1366.9 598L1356.2 614.9M1356.2 614.9l-10.1 -1.2M1393.9 597.8L1383.9 615.1M1383.9 615.1l-10.2 -0.7M1420.8 597.6L1411.6 615.3M1411.6 615.3l-10.2 -0.3M1447.8 597.4L1439.3 615.5M1439.3 615.5l-10.2 0.2M933.9 612.6L914.9 618.5M918.6 617.4l-3.9 -4.1M961.1 612.3L942.3 618.8M945.9 617.6l-4 -3.9M988.4 612L969.7 619.1M973.3 617.7l-4.1 -3.8M1015.6 611.7L997.2 619.4M1000.7 617.9l-4.2 -3.7M1042.8 611.4L1024.6 619.7M1028.1 618.1l-4.3 -3.5M1069.9 611.1L1052.1 620M1055.5 618.3l-4.5 -3.4M1097.1 610.8L1079.6 620.3M1083 618.5l-4.6 -3.3M1124.3 610.5L1107 620.6M1110.4 618.6l-4.7 -3.1M1151.4 610.2L1134.5 620.9M1137.8 618.8l-4.8 -3M1178.6 610L1162 621.1M1165.2 619l-4.9 -2.8M1205.7 609.7L1189.6 621.4M1192.7 619.2l-5 -2.6M1232.7 609.2L1217.2 621.9M1220.2 619.4l-5.1 -2.4M1259.7 608.8L1244.9 622.2M1244.9 622.2l-9.5 -3.8M1286.6 608.5L1272.6 622.6M1272.6 622.6l-9.6 -3.3M1313.6 608.1L1300.3 623M1300.3 623l-9.8 -2.8M1340.5 607.8L1328 623.3M1328 623.3l-9.9 -2.3M1367.4 607.5L1355.7 623.6M1355.7 623.6l-10 -1.7M1394.3 607.2L1383.5 623.9M1383.5 623.9l-10.1 -1.2M1421.2 606.9L1411.2 624.2M1411.2 624.2l-10.2 -0.7M1448.1 606.6L1439 624.5M1439 624.5l-10.2 -0.2M934.2 622.2L914.6 625.6M918.4 625l-3.3 -4.5M961.5 621.9L941.9 625.9M945.7 625.1l-3.4 -4.4M988.8 621.6L969.3 626.2M973.1 625.3l-3.5 -4.3M1016 621.4L996.7 626.5M1000.5 625.5l-3.7 -4.2M1043.3 621.1L1024.1 626.7M1027.8 625.6l-3.8 -4.1M1070.5 620.8L1051.5 627M1055.2 625.8l-3.9 -4M1097.7 620.6L1078.9 627.3M1082.6 626l-4 -3.9M1125 620.3L1106.3 627.5M1110 626.1l-4.1 -3.8M1152.2 620L1133.8 627.8M1137.3 626.3l-4.2 -3.7M1179.4 619.8L1161.2 628M1164.7 626.4l-4.3 -3.6M1206.6 619.5L1188.7 628.3M1192.2 626.6l-4.4 -3.4M1233.6 619L1216.3 628.8M1219.6 626.9l-4.6 -3.2M1260.7 618.5L1243.9 629.3M1247.1 627.2l-4.8 -2.9M1287.7 618L1271.5 629.8M1274.6 627.5l-4.9 -2.6M1314.7 617.6L1299.2 630.2M1302.2 627.8l-5.1 -2.4M1341.6 617.2L1326.9 630.6M1326.9 630.6l-9.5 -3.8M1368.6 616.8L1354.6 631M1354.6 631l-9.7 -3.3M1395.5 616.4L1382.3 631.4M1382.3 631.4l-9.8 -2.7M1422.4 616.1L1410 631.7M1410 631.7l-10 -2.2M1449.3 615.7L1437.8 632.1M1437.8 632.1l-10.1 -1.6M1070.9 635.5L1051.2 638.8M1055 638.2l-3.3 -4.6M1098.2 635.4L1078.5 638.9M1082.3 638.2l-3.3 -4.5M1125.5 635.4L1105.8 638.9M1109.6 638.3l-3.3 -4.5M1152.8 635.3L1133.2 639M1137 638.3l-3.3 -4.5M1180.1 635.3L1160.5 639.1M1164.3 638.3l-3.4 -4.5M1207.4 635.1L1187.9 639.2M1191.6 638.4l-3.4 -4.4M1234.7 634.8L1215.2 639.5M1219 638.6l-3.6 -4.3M1261.9 634.5L1242.7 639.9M1246.4 638.8l-3.7 -4.2M1289.1 634.1L1270.1 640.2M1273.8 639l-3.9 -4.1M1316.3 633.8L1297.5 640.5M1301.2 639.2l-4 -3.9M1343.5 633.5L1325 640.8M1328.6 639.4l-4.1 -3.8M1370.7 633.2L1352.4 641.1M1356 639.6l-4.3 -3.6M1397.9 632.9L1379.9 641.5M1383.4 639.8l-4.4 -3.5M1425.1 632.5L1407.4 641.8M1410.8 640l-4.5 -3.3M1452.2 632.2L1434.8 642.1M1438.2 640.2l-4.6 -3.2M1125.6 646L1105.7 648.3M1109.6 647.9l-3 -4.7M1152.9 646L1133.1 648.3M1136.9 647.8l-3 -4.7M1180.2 646L1160.4 648.3M1164.2 647.8l-3 -4.7M1207.6 646L1187.7 648.3M1191.6 647.8l-3 -4.7M1316.7 645.1L1297.1 649.2M1300.9 648.4l-3.4 -4.4M1344 644.9L1324.5 649.4M1328.3 648.5l-3.5 -4.4M1371.3 644.7L1351.9 649.6M1355.6 648.6l-3.6 -4.3M1398.5 644.5L1379.3 649.8M1383 648.8l-3.7 -4.2M1425.8 644.3L1406.6 650M1410.4 648.9l-3.8 -4.1M1453 644.1L1434 650.2M1437.7 649l-3.9 -4M1371.3 653.6L1351.9 658.3M1355.6 657.4l-3.6 -4.3M1398.5 653.3L1379.2 658.5M1383 657.5l-3.7 -4.2M1425.8 653.1L1406.6 658.7M1410.3 657.6l-3.8 -4.2M1453.1 652.9L1434 658.9M1437.7 657.7l-3.9 -4.1" stroke="#262626" stroke-width="0.85" fill="none"/>
<rect x="924.7" y="253" width="532" height="433.3" fill="none" stroke="#000" stroke-width="1"/>
<text x="1190.7" y="242.3" font-size="34.1" text-anchor="middle" fill="#000">Curtain 2 (C2)</text>
<path d="M911.5 253L924.7 253" stroke="#222" stroke-width="1" fill="none"/>
<text x="896.7" y="260.8" font-size="22.4" text-anchor="end" fill="#000">200</text>
<path d="M911.5 362.7L924.7 362.7" stroke="#222" stroke-width="1" fill="none"/>
<text x="896.7" y="370.6" font-size="22.4" text-anchor="end" fill="#000">300</text>
<path d="M911.5 500.9L924.7 500.9" stroke="#222" stroke-width="1" fill="none"/>
<text x="896.7" y="508.8" font-size="22.4" text-anchor="end" fill="#000">500</text>
<path d="M911.5 592L924.7 592" stroke="#222" stroke-width="1" fill="none"/>
<text x="896.7" y="599.8" font-size="22.4" text-anchor="end" fill="#000">700</text>
<path d="M911.5 644.5L924.7 644.5" stroke="#222" stroke-width="1" fill="none"/>
<text x="896.7" y="652.4" font-size="22.4" text-anchor="end" fill="#000">850</text>
<path d="M911.5 667.4L924.7 667.4" stroke="#222" stroke-width="1" fill="none"/>
<text x="896.7" y="675.3" font-size="22.4" text-anchor="end" fill="#000">925</text>
<path d="M1456.7 281.9L1469.4 281.9" stroke="#222" stroke-width="1" fill="none"/>
<text x="1482.5" y="289.5" font-size="21.6" text-anchor="start" fill="#000">35</text>
<path d="M1456.7 340.7L1469.4 340.7" stroke="#222" stroke-width="1" fill="none"/>
<text x="1482.5" y="348.3" font-size="21.6" text-anchor="start" fill="#000">30</text>
<path d="M1456.7 399.3L1469.4 399.3" stroke="#222" stroke-width="1" fill="none"/>
<text x="1482.5" y="407" font-size="21.6" text-anchor="start" fill="#000">25</text>
<path d="M1456.7 458.1L1469.4 458.1" stroke="#222" stroke-width="1" fill="none"/>
<text x="1482.5" y="465.7" font-size="21.6" text-anchor="start" fill="#000">20</text>
<path d="M1456.7 516.9L1469.4 516.9" stroke="#222" stroke-width="1" fill="none"/>
<text x="1482.5" y="524.6" font-size="21.6" text-anchor="start" fill="#000">15</text>
<path d="M1456.7 575.4L1469.4 575.4" stroke="#222" stroke-width="1" fill="none"/>
<text x="1482.5" y="583" font-size="21.6" text-anchor="start" fill="#000">10</text>
<path d="M1456.7 634.3L1469.4 634.3" stroke="#222" stroke-width="1" fill="none"/>
<text x="1482.5" y="641.9" font-size="21.6" text-anchor="start" fill="#000">5</text>
<path d="M1456.7 681.1L1469.4 681.1" stroke="#222" stroke-width="1" fill="none"/>
<text x="1482.5" y="688.7" font-size="21.6" text-anchor="start" fill="#000">1</text>
<path d="M924.7 686.3L924.7 699.5" stroke="#222" stroke-width="1" fill="none"/>
<text x="924.1" y="731.4" font-size="22.4" text-anchor="middle" fill="#000">117.0W</text>
<text x="920.9" y="756.3" font-size="22.4" text-anchor="middle" fill="#000">40.1N</text>
<path d="M1061.1 686.3L1061.1 699.5" stroke="#222" stroke-width="1" fill="none"/>
<text x="1060.5" y="731.4" font-size="22.4" text-anchor="middle" fill="#000">117.0W</text>
<text x="1057.3" y="756.3" font-size="22.4" text-anchor="middle" fill="#000">41.7N</text>
<path d="M1197.5 686.3L1197.5 699.5" stroke="#222" stroke-width="1" fill="none"/>
<text x="1196.9" y="731.4" font-size="22.4" text-anchor="middle" fill="#000">117.0W</text>
<text x="1193.7" y="756.3" font-size="22.4" text-anchor="middle" fill="#000">43.3N</text>
<path d="M1333.9 686.3L1333.9 699.5" stroke="#222" stroke-width="1" fill="none"/>
<text x="1333.3" y="731.4" font-size="22.4" text-anchor="middle" fill="#000">117.0W</text>
<text x="1330.1" y="756.3" font-size="22.4" text-anchor="middle" fill="#000">44.9N</text>
<rect x="1373.9" y="695.9" width="82.8" height="66.3" fill="#fff" stroke="#808080" stroke-width="1"/>
<text x="1415.3" y="719.7" font-size="24.5" text-anchor="middle" fill="#000">30 m/s</text>
<path d="M1427.3 742.5h-19.8M1407.6 742.5l-4.9 -9M1411.3 742.5l-4.9 -9M1415.1 742.5l-4.9 -9" stroke="#333" stroke-width="0.7" fill="none"/>
<clipPath id="cp3"><rect x="256.5" y="953" width="522" height="425"/></clipPath>
<g clip-path="url(#cp3)">
<rect x="256.5" y="953" width="522" height="425" fill="#0AA3FF"/>
<g transform="translate(256.5 953) scale(0.32443)">
<path d="M1700 135C1684.8 134.2 1634 131.7 1609 130C1584 128.3 1576.5 128 1550 125C1523.5 122 1483.3 116.2 1450 112C1416.7 107.8 1383.3 104 1350 100C1316.7 96 1281.7 91.3 1250 88C1218.3 84.7 1185 79.7 1160 80C1135 80.3 1126.7 84.7 1100 90C1073.3 95.3 1033.3 105.3 1000 112C966.7 118.7 933.3 123.7 900 130C866.7 136.3 833.3 143 800 150C766.7 157 726.7 165.3 700 172C673.3 178.7 660 184.5 640 190C620 195.5 603.3 203.3 580 205C556.7 206.7 526.7 203.3 500 200C473.3 196.7 445 191.7 420 185C395 178.3 370 169.2 350 160C330 150.8 314.2 140 300 130C285.8 120 265 111.7 265 100C265 88.3 289.2 72 300 60C310.8 48 320.8 38 330 28C339.2 18 346.7 11.3 355 0C363.3 -11.3 375.8 -33.3 380 -40L1700 -40Z" fill="#3A8EC0"/>
<path d="M1700 70C1684.8 68 1642.3 63.3 1609 58C1575.7 52.7 1534.8 44 1500 38C1465.2 32 1433.3 26.3 1400 22C1366.7 17.7 1333.3 14.3 1300 12C1266.7 9.7 1233.3 7.7 1200 8C1166.7 8.3 1133.3 11.2 1100 14C1066.7 16.8 1033.3 20.7 1000 25C966.7 29.3 933.3 33.8 900 40C866.7 46.2 826.7 55 800 62C773.3 69 758.3 75.3 740 82C721.7 88.7 706.7 96.7 690 102C673.3 107.3 660 110.7 640 114C620 117.3 590.3 123.3 570 122C549.7 120.7 522.2 115.5 518 106C513.8 96.5 535.5 78.5 545 65C554.5 51.5 565.8 35.8 575 25C584.2 14.2 592.5 10.8 600 0C607.5 -10.8 616.7 -33.3 620 -40L1700 -40Z" fill="#6BA3CD"/>
<path d="M1700 215C1684.8 214.2 1642.3 212.8 1609 210C1575.7 207.2 1534.8 201.7 1500 198C1465.2 194.3 1433.3 191.3 1400 188C1366.7 184.7 1333.3 180.7 1300 178C1266.7 175.3 1233.3 172.5 1200 172C1166.7 171.5 1133.3 172.8 1100 175C1066.7 177.2 1033.3 180 1000 185C966.7 190 927.5 197.2 900 205C872.5 212.8 843.3 222.8 835 232C826.7 241.2 844.2 250.3 850 260C855.8 269.7 858.3 280 870 290C881.7 300 898.3 312.5 920 320C941.7 327.5 970 331.7 1000 335C1030 338.3 1066.7 339.5 1100 340C1133.3 340.5 1166.7 339.3 1200 338C1233.3 336.7 1266.7 334.2 1300 332C1333.3 329.8 1366.7 327.3 1400 325C1433.3 322.7 1465.2 320.5 1500 318C1534.8 315.5 1575.7 312.2 1609 310C1642.3 307.8 1684.8 305.8 1700 305Z" fill="#39B8FF"/>
<path d="M40 -40C40 -33.3 35.8 -16.7 40 0C44.2 16.7 58.3 38.3 65 60C71.7 81.7 75.8 106.7 80 130C84.2 153.3 85.8 178.3 90 200C94.2 221.7 99.2 240 105 260C110.8 280 115 305.8 125 320C135 334.2 147.5 338.7 165 345C182.5 351.3 207.5 355.2 230 358C252.5 360.8 278.3 360.3 300 362C321.7 363.7 360 365.3 360 368C360 370.7 326.7 373.5 300 378C273.3 382.5 233.3 388.8 200 395C166.7 401.2 133.3 409.2 100 415C66.7 420.8 30 425.8 0 430C-30 434.2 -66.7 438.3 -80 440L-80 -40Z" fill="#39B8FF"/>
<path d="M430 365C440 362 488.3 358 520 358C551.7 358 616.7 361.7 620 365C623.3 368.3 566.7 376.2 540 378C513.3 379.8 478.3 378.2 460 376C441.7 373.8 420 368 430 365Z" fill="#39B8FF"/>
<path d="M1540 470C1546.5 467 1589 462.8 1609 462C1629 461.2 1651.5 461.2 1660 465C1668.5 468.8 1668.5 481.7 1660 485C1651.5 488.3 1624 485.8 1609 485C1594 484.2 1581.5 482.5 1570 480C1558.5 477.5 1533.5 473 1540 470Z" fill="#3A8EC0"/>
<path d="M-80 755C-66.7 754.5 -30 753.7 0 752C30 750.3 66.7 747.3 100 745C133.3 742.7 166.7 741.3 200 738C233.3 734.7 266.7 729.7 300 725C333.3 720.3 366.7 715 400 710C433.3 705 466.7 700.8 500 695C533.3 689.2 570 683.3 600 675C630 666.7 656.7 654.5 680 645C703.3 635.5 720 624.7 740 618C760 611.3 773.3 608 800 605C826.7 602 866.7 600 900 600C933.3 600 966.7 603 1000 605C1033.3 607 1066.7 609.2 1100 612C1133.3 614.8 1166.7 618.2 1200 622C1233.3 625.8 1266.7 629.5 1300 635C1333.3 640.5 1366.7 645.8 1400 655C1433.3 664.2 1473.3 679.2 1500 690C1526.7 700.8 1541.8 710.8 1560 720C1578.2 729.2 1585.7 733.3 1609 745C1632.3 756.7 1684.8 782.5 1700 790L1700 1500L-80 1500Z" fill="#39B8FF"/>
<path d="M-60 895C-50 873.3 -22.5 898.8 0 900C22.5 901.2 47.5 900 75 902C102.5 904 160.8 902 165 912C169.2 922 119.2 947.8 100 962C80.8 976.2 66.7 987 50 997C33.3 1007 18.3 1016.5 0 1022C-18.3 1027.5 -50 1051.2 -60 1030C-70 1008.8 -70 916.7 -60 895Z" fill="#47D1FF"/>
<path d="M-80 1082C-66.7 1081.7 -30 1080.7 0 1080C30 1079.3 66.7 1078.8 100 1078C133.3 1077.2 166.7 1075.8 200 1075C233.3 1074.2 266.7 1074.7 300 1073C333.3 1071.3 366.5 1068.8 400 1065C433.5 1061.2 475.8 1054.5 501 1050C526.2 1045.5 534.3 1043.3 551 1038C567.7 1032.7 584.3 1024.7 601 1018C617.7 1011.3 634.3 1005.7 651 998C667.7 990.3 684.3 980.5 701 972C717.7 963.5 733.5 954.5 751 947C768.5 939.5 789 932.8 806 927C823 921.2 832.7 918.7 853 912C873.3 905.3 903 894.5 928 887C953 879.5 982.2 872.8 1003 867C1023.8 861.2 1036.8 856.5 1053 852C1069.2 847.5 1075.5 843.7 1100 840C1124.5 836.3 1166.7 832 1200 830C1233.3 828 1266.7 828 1300 828C1333.3 828 1366.7 828.3 1400 830C1433.3 831.7 1465.2 834.7 1500 838C1534.8 841.3 1575.7 846.3 1609 850C1642.3 853.7 1684.8 858.3 1700 860L1700 1500L-80 1500Z" fill="#47D1FF"/>
<path d="M-80 1107C-66.7 1106.7 -30 1105.7 0 1105C30 1104.3 66.7 1103.8 100 1103C133.3 1102.2 166.7 1100.8 200 1100C233.3 1099.2 266.7 1099.7 300 1098C333.3 1096.3 366.5 1093.3 400 1090C433.5 1086.7 471.7 1083 501 1078C530.3 1073 551 1067.5 576 1060C601 1052.5 630.2 1041.7 651 1033C671.8 1024.3 684.3 1015.7 701 1008C717.7 1000.3 733.5 993.8 751 987C768.5 980.2 784.8 972.8 806 967C827.2 961.2 853.5 957 878 952C902.5 947 923.8 942 953 937C982.2 932 1019.5 926.5 1053 922C1086.5 917.5 1120.5 912.8 1154 910C1187.5 907.2 1220.7 905.5 1254 905C1287.3 904.5 1320.7 905 1354 907C1387.3 909 1420.5 912 1454 917C1487.5 922 1529.2 931.2 1555 937C1580.8 942.8 1584.8 945.7 1609 952C1633.2 958.3 1684.8 971.2 1700 975L1700 1500L-80 1500Z" fill="#42E6FF"/>
<path d="M1700 980C1684.8 961.2 1628.2 983.3 1609 987C1589.8 990.7 1594 995.3 1585 1002C1576 1008.7 1561.7 1018.7 1555 1027C1548.3 1035.3 1543.3 1043.5 1545 1052C1546.7 1060.5 1554.3 1071.2 1565 1078C1575.7 1084.8 1586.5 1089.3 1609 1093C1631.5 1096.7 1684.8 1118.8 1700 1100C1715.2 1081.2 1715.2 998.8 1700 980Z" fill="#47D1FF"/>
<path d="M-80 1130C-66.7 1129.7 -38.3 1128.8 0 1128C38.3 1127.2 100 1126.3 150 1125C200 1123.7 258.3 1122 300 1120C341.7 1118 366.5 1116.7 400 1113C433.5 1109.3 471.7 1103 501 1098C530.3 1093 551 1089.7 576 1083C601 1076.3 626 1068 651 1058C676 1048 700.2 1031.8 726 1023C751.8 1014.2 780.7 1004.2 806 1005C831.3 1005.8 853.5 1020.2 878 1028C902.5 1035.8 928 1044.5 953 1052C978 1059.5 1002.8 1067 1028 1073C1053.2 1079 1074.7 1083.8 1104 1088C1133.3 1092.2 1170.7 1095.5 1204 1098C1237.3 1100.5 1270.7 1101.3 1304 1103C1337.3 1104.7 1370.7 1105.5 1404 1108C1437.3 1110.5 1469.8 1115.2 1504 1118C1538.2 1120.8 1576.3 1123 1609 1125C1641.7 1127 1684.8 1129.2 1700 1130L1700 1500L-80 1500Z" fill="#42FCFF"/>
<path d="M230 1160C233.3 1157.3 230 1148.2 250 1144C270 1139.8 316.5 1137.7 350 1135C383.5 1132.3 417.5 1130.5 451 1128C484.5 1125.5 517.7 1124.2 551 1120C584.3 1115.8 619.3 1108.3 651 1103C682.7 1097.7 722.8 1092.7 741 1088C759.2 1083.3 749.7 1077.5 760 1075C770.3 1072.5 788 1071.3 803 1073C818 1074.7 833.3 1081.8 850 1085C866.7 1088.2 893 1072.8 903 1092C913 1111.2 908.8 1182 910 1200L910 1500L230 1500Z" fill="#43FFE0"/>
<path d="M1300 1160C1303.3 1157.5 1302.7 1147 1320 1145C1337.3 1143 1373.3 1146.7 1404 1148C1434.7 1149.3 1469.8 1152.2 1504 1153C1538.2 1153.8 1576.3 1153 1609 1153C1641.7 1153 1684.8 1153 1700 1153L1700 1500L1300 1500Z" fill="#43FFE0"/>
<path d="M330 1160C333.3 1157 329.8 1146.2 350 1142C370.2 1137.8 417.5 1137.5 451 1135C484.5 1132.5 517.7 1131.2 551 1127C584.3 1122.8 619.3 1115.7 651 1110C682.7 1104.3 722.8 1078 741 1093C759.2 1108 756.8 1182.2 760 1200L760 1500L330 1500Z" fill="#43FFB3"/>
<path d="M395 1160C397.8 1157.7 394.3 1149.2 412 1146C429.7 1142.8 469.5 1143 501 1141C532.5 1139 571.8 1137.7 601 1134C630.2 1130.3 652.7 1124.8 676 1119C699.3 1113.2 728.7 1085.5 741 1099C753.3 1112.5 748.5 1183.2 750 1200L750 1500L395 1500Z" fill="#45FF52"/>
<path d="M420 1165C423.3 1162.8 422.3 1154.5 440 1152C457.7 1149.5 499.2 1151.2 526 1150C552.8 1148.8 578.5 1148 601 1145C623.5 1142 647.8 1122.8 661 1132C674.2 1141.2 676.8 1188.7 680 1200L680 1500L420 1500Z" fill="#8FFF3D"/>
<path d="M450 1170C453.3 1168 455 1160.2 470 1158C485 1155.8 518.2 1157.8 540 1157C561.8 1156.2 583.5 1155 601 1153C618.5 1151 635.2 1137.2 645 1145C654.8 1152.8 657.5 1190.8 660 1200L660 1500L450 1500Z" fill="#E0FF3D"/>
<path d="M494 1163C515.2 1160.8 599.8 1160.8 621 1163C642.2 1165.2 642.2 1173.8 621 1176C599.8 1178.2 515.2 1178.2 494 1176C472.8 1173.8 472.8 1165.2 494 1163Z" fill="#FFE03D"/>
<path d="M494 1170C515.2 1169 599.8 1169 621 1170C642.2 1171 642.2 1175 621 1176C599.8 1177 515.2 1177 494 1176C472.8 1175 472.8 1171 494 1170Z" fill="#FFB83D"/>
</g>
<path d="M256.2 1324.8H390.6V1380H256.2ZM390 1329.7H417.4V1380H390ZM416.8 1334.5H457.6V1380H416.8ZM457 1329.7H471V1380H457ZM470.4 1324.8H497.7V1380H470.4ZM497.1 1308.6H591.4V1380H497.1ZM590.8 1316.8H645V1380H590.8ZM644.4 1324.8H685.1V1380H644.4ZM684.5 1329.7H711.9V1380H684.5ZM711.3 1334.5H752V1380H711.3ZM751.4 1339.6H778.8V1380H751.4Z" fill="#fff"/>
</g>
<path clip-path="url(#cp3)" d="M263.7 979.7L248.7 992.3M248.7 992.3l-9.1 -4.1M251.6 989.9l-9.1 -4.1M254.5 987.4l-9.1 -4.1M290.5 979.7L275.5 992.3M275.5 992.3l-9.1 -4.1M278.4 989.8l-9.1 -4.1M281.3 987.4l-9.1 -4.1M317.4 979.8L302.3 992.2M302.3 992.2l-9.1 -4.1M305.2 989.8l-9.1 -4.1M308.1 987.4l-9.1 -4.1M344.2 979.8L329.1 992.2M329.1 992.2l-9.1 -4.2M332 989.8l-9.1 -4.2M334.9 987.4l-9.1 -4.2M371 979.8L355.8 992.2M355.8 992.2l-9.1 -4.2M358.8 989.8l-9.1 -4.2M361.7 987.4l-9.1 -4.2M397.9 979.8L382.6 992.2M382.6 992.2l-9.1 -4.2M385.6 989.8l-9.1 -4.2M388.5 987.4l-9.1 -4.2M424.7 979.9L409.4 992.1M409.4 992.1l-9 -4.3M412.4 989.8l-9 -4.3M415.3 987.4l-9 -4.3M451.5 979.9L436.2 992.1M436.2 992.1l-9 -4.3M439.2 989.7l-9 -4.3M442.1 987.4l-9 -4.3M478.4 979.9L463 992.1M463 992.1l-9 -4.3M466 989.7l-9 -4.3M469 987.4l-9 -4.3M505.2 979.9L489.8 992.1M489.8 992.1l-9 -4.4M492.8 989.7l-9 -4.4M495.8 987.4l-9 -4.4M532 980L516.6 992M516.6 992l-9 -4.4M519.6 989.7l-9 -4.4M522.6 987.4l-9 -4.4M558.9 980L543.3 992M543.3 992l-9 -4.4M546.4 989.7l-9 -4.4M549.4 987.3l-9 -4.4M585.7 980.1L570.1 991.9M570.1 991.9l-8.9 -4.5M573.1 989.6l-8.9 -4.5M576.2 987.3l-8.9 -4.5M612.6 980.1L596.9 991.9M596.9 991.9l-8.9 -4.5M599.9 989.6l-8.9 -4.5M603 987.3l-8.9 -4.5M639.4 980.1L623.7 991.9M623.7 991.9l-8.9 -4.6M626.7 989.6l-8.9 -4.6M629.8 987.3l-8.9 -4.6M666.2 980.2L650.5 991.8M650.5 991.8l-8.9 -4.6M653.5 989.6l-8.9 -4.6M656.6 987.3l-4.9 -2.5M693.1 980.2L677.2 991.8M677.2 991.8l-8.8 -4.7M680.3 989.5l-8.8 -4.7M683.4 987.3l-4.9 -2.6M719.9 980.3L704 991.7M704 991.7l-8.8 -4.7M707.1 989.5l-8.8 -4.7M710.2 987.3l-4.8 -2.6M746.8 980.3L730.8 991.7M730.8 991.7l-8.8 -4.8M733.9 989.5l-8.8 -4.8M737 987.3l-4.8 -2.6M773.6 980.4L757.6 991.6M757.6 991.6l-8.8 -4.8M760.7 989.5l-8.8 -4.8M763.8 987.3l-4.8 -2.7M263.7 1023.1L248.7 1035.7M248.7 1035.7l-9.1 -4.1M251.6 1033.3l-9.1 -4.1M290.5 1023.1L275.5 1035.7M275.5 1035.7l-9.1 -4.1M278.4 1033.2l-9.1 -4.1M317.4 1023.2L302.3 1035.6M302.3 1035.6l-9.1 -4.1M305.2 1033.2l-9.1 -4.1M344.2 1023.2L329.1 1035.6M329.1 1035.6l-9.1 -4.2M332 1033.2l-9.1 -4.2M371 1023.2L355.8 1035.6M355.8 1035.6l-9.1 -4.2M358.8 1033.2l-9.1 -4.2M397.9 1023.2L382.6 1035.6M382.6 1035.6l-9.1 -4.2M385.6 1033.2l-9.1 -4.2M424.7 1023.3L409.4 1035.5M409.4 1035.5l-9 -4.3M412.4 1033.2l-9 -4.3M451.5 1023.3L436.2 1035.5M436.2 1035.5l-9 -4.3M439.2 1033.1l-9 -4.3M478.4 1023.3L463 1035.5M463 1035.5l-9 -4.3M466 1033.1l-9 -4.3M505.2 1023.3L489.8 1035.5M489.8 1035.5l-9 -4.4M492.8 1033.1l-9 -4.4M532 1023.4L516.6 1035.4M516.6 1035.4l-9 -4.4M519.6 1033.1l-9 -4.4M558.9 1023.4L543.3 1035.4M543.3 1035.4l-9 -4.4M546.4 1033.1l-9 -4.4M585.7 1023.5L570.1 1035.3M570.1 1035.3l-8.9 -4.5M573.1 1033l-8.9 -4.5M612.6 1023.5L596.9 1035.3M596.9 1035.3l-8.9 -4.5M599.9 1033l-8.9 -4.5M639.4 1023.5L623.7 1035.3M623.7 1035.3l-8.9 -4.6M626.7 1033l-8.9 -4.6M666.2 1023.6L650.5 1035.2M650.5 1035.2l-8.9 -4.6M653.5 1033l-4.9 -2.5M693.1 1023.6L677.2 1035.2M677.2 1035.2l-8.8 -4.7M680.3 1032.9l-4.9 -2.6M719.9 1023.7L704 1035.1M704 1035.1l-8.8 -4.7M707.1 1032.9l-4.8 -2.6M746.8 1023.7L730.8 1035.1M730.8 1035.1l-8.8 -4.8M733.9 1032.9l-4.8 -2.6M773.6 1023.8L757.6 1035M757.6 1035l-8.8 -4.8M760.7 1032.9l-4.8 -2.7M263.5 1065.2L248.9 1078.4M248.9 1078.4l-9.3 -3.7M251.7 1075.8l-5.1 -2.1M290.3 1065.3L275.7 1078.3M275.7 1078.3l-9.3 -3.8M278.5 1075.8l-5.1 -2.1M317.2 1065.3L302.5 1078.3M302.5 1078.3l-9.2 -3.8M305.3 1075.8l-5.1 -2.1M344 1065.3L329.3 1078.3M329.3 1078.3l-9.2 -3.8M332.1 1075.8l-5.1 -2.1M370.8 1065.3L356.1 1078.3M356.1 1078.3l-9.2 -3.9M358.9 1075.7l-5.1 -2.1M397.6 1065.4L382.9 1078.2M382.9 1078.2l-9.2 -3.9M385.7 1075.7l-5.1 -2.2M424.5 1065.4L409.6 1078.2M409.6 1078.2l-9.2 -3.9M412.5 1075.7l-5.1 -2.2M451.3 1065.4L436.4 1078.2M436.4 1078.2l-9.2 -4M439.3 1075.7l-5 -2.2M478.1 1065.5L463.2 1078.1M463.2 1078.1l-9.2 -4M466.1 1075.7l-5 -2.2M505 1065.5L490 1078.1M490 1078.1l-9.1 -4M492.9 1075.7l-5 -2.2M531.8 1065.5L516.8 1078.1M516.8 1078.1l-9.1 -4.1M519.7 1075.7l-5 -2.2M558.6 1065.5L543.6 1078.1M543.6 1078.1l-9.1 -4.1M546.5 1075.6l-5 -2.3M585.5 1065.6L570.4 1078M570.4 1078l-9.1 -4.1M573.3 1075.6l-5 -2.3M612.3 1065.6L597.1 1078M597.1 1078l-9.1 -4.2M600.1 1075.6l-5 -2.3M639.1 1065.6L623.9 1078M623.9 1078l-9.1 -4.2M626.9 1075.6l-5 -2.3M666 1065.6L650.7 1078M650.7 1078l-9.1 -4.2M653.7 1075.6l-5 -2.3M692.8 1065.7L677.5 1077.9M677.5 1077.9l-9 -4.3M680.5 1075.6l-5 -2.4M719.6 1065.7L704.3 1077.9M704.3 1077.9l-9 -4.3M707.3 1075.5l-5 -2.4M746.5 1065.7L731.1 1077.9M731.1 1077.9l-9 -4.3M734.1 1075.5l-5 -2.4M773.3 1065.8L757.9 1077.8M757.9 1077.8l-9 -4.4M760.9 1075.5l-4.9 -2.4M263.3 1100L249.1 1113.6M249.1 1113.6l-9.4 -3.5M290.1 1100.1L275.9 1113.5M275.9 1113.5l-9.4 -3.5M317 1100.1L302.7 1113.5M302.7 1113.5l-9.3 -3.5M343.8 1100.1L329.5 1113.5M329.5 1113.5l-9.3 -3.6M370.6 1100.2L356.2 1113.4M356.2 1113.4l-9.3 -3.6M397.5 1100.2L383 1113.4M383 1113.4l-9.3 -3.7M424.3 1100.2L409.8 1113.4M409.8 1113.4l-9.3 -3.7M451.2 1100.3L436.6 1113.3M436.6 1113.3l-9.3 -3.8M478 1100.3L463.4 1113.3M463.4 1113.3l-9.2 -3.8M504.8 1100.3L490.1 1113.3M490.1 1113.3l-9.2 -3.8M531.7 1100.4L516.9 1113.2M516.9 1113.2l-9.2 -3.9M558.5 1100.4L543.7 1113.2M543.7 1113.2l-9.2 -3.9M585.4 1100.4L570.5 1113.2M570.5 1113.2l-9.2 -4M573.4 1110.7l-5 -2.2M612.2 1100.5L597.2 1113.1M597.2 1113.1l-9.1 -4.1M600.1 1110.7l-5 -2.2M639.1 1100.5L624 1113.1M624 1113.1l-9.1 -4.1M626.9 1110.6l-5 -2.3M665.9 1100.6L650.8 1113M650.8 1113l-9.1 -4.2M653.7 1110.6l-5 -2.3M692.8 1100.6L677.6 1113M677.6 1113l-9.1 -4.2M680.5 1110.6l-5 -2.3M719.6 1100.7L704.3 1112.9M704.3 1112.9l-9 -4.3M707.3 1110.6l-5 -2.3M746.5 1100.7L731.1 1112.9M731.1 1112.9l-9 -4.3M734.1 1110.5l-5 -2.4M773.3 1100.7L757.9 1112.9M757.9 1112.9l-9 -4.4M760.9 1110.5l-4.9 -2.4M263.1 1124.9L249.3 1138.7M249.3 1138.7l-9.5 -3.3M290 1124.9L276 1138.7M276 1138.7l-9.4 -3.3M316.8 1124.9L302.8 1138.7M302.8 1138.7l-9.4 -3.4M343.7 1125L329.6 1138.6M329.6 1138.6l-9.4 -3.4M370.5 1125L356.4 1138.6M356.4 1138.6l-9.4 -3.5M397.4 1125.1L383.1 1138.5M383.1 1138.5l-9.4 -3.5M424.2 1125.1L409.9 1138.5M409.9 1138.5l-9.3 -3.6M451.1 1125.1L436.7 1138.5M436.7 1138.5l-9.3 -3.6M477.9 1125.2L463.5 1138.4M463.5 1138.4l-9.3 -3.7M504.7 1125.2L490.2 1138.4M490.2 1138.4l-9.3 -3.7M531.6 1125.3L517 1138.3M517 1138.3l-9.3 -3.8M558.5 1125.3L543.8 1138.3M543.8 1138.3l-9.2 -3.8M585.3 1125.4L570.5 1138.2M570.5 1138.2l-9.2 -3.9M612.2 1125.4L597.3 1138.2M597.3 1138.2l-9.2 -4M639 1125.5L624.1 1138.1M624.1 1138.1l-9.2 -4M665.9 1125.5L650.8 1138.1M650.8 1138.1l-9.1 -4.1M653.7 1135.6l-5 -2.3M692.7 1125.6L677.6 1138M677.6 1138l-9.1 -4.2M680.5 1135.6l-5 -2.3M719.6 1125.6L704.4 1138M704.4 1138l-9.1 -4.2M707.3 1135.6l-5 -2.3M746.4 1125.7L731.1 1137.9M731.1 1137.9l-9 -4.3M734.1 1135.5l-5 -2.4M773.3 1125.7L757.9 1137.9M757.9 1137.9l-9 -4.4M760.9 1135.5l-5 -2.4M263.1 1148.7L249.3 1162.7M249.3 1162.7l-9.5 -3.2M289.9 1148.8L276.1 1162.6M276.1 1162.6l-9.5 -3.3M316.8 1148.8L302.9 1162.6M302.9 1162.6l-9.4 -3.3M343.6 1148.9L329.6 1162.5M329.6 1162.5l-9.4 -3.4M370.5 1148.9L356.4 1162.5M356.4 1162.5l-9.4 -3.4M397.3 1148.9L383.2 1162.5M383.2 1162.5l-9.4 -3.5M424.2 1149L409.9 1162.4M409.9 1162.4l-9.4 -3.5M451 1149L436.7 1162.4M436.7 1162.4l-9.3 -3.6M477.9 1149.1L463.5 1162.3M463.5 1162.3l-9.3 -3.6M504.7 1149.1L490.2 1162.3M490.2 1162.3l-9.3 -3.7M531.6 1149.2L517 1162.2M517 1162.2l-9.3 -3.8M558.5 1149.2L543.8 1162.2M543.8 1162.2l-9.2 -3.8M585.3 1149.3L570.5 1162.1M570.5 1162.1l-9.2 -3.9M612.2 1149.3L597.3 1162.1M597.3 1162.1l-9.2 -4M639 1149.4L624.1 1162M624.1 1162l-9.2 -4M665.9 1149.4L650.8 1162M650.8 1162l-9.1 -4.1M653.7 1159.5l-5 -2.3M692.7 1149.5L677.6 1161.9M677.6 1161.9l-9.1 -4.2M680.5 1159.5l-5 -2.3M719.6 1149.5L704.4 1161.9M704.4 1161.9l-9.1 -4.2M707.3 1159.5l-5 -2.3M746.4 1149.6L731.1 1161.8M731.1 1161.8l-9 -4.3M734.1 1159.4l-5 -2.4M773.3 1149.6L757.9 1161.8M757.9 1161.8l-9 -4.4M760.9 1159.4l-5 -2.4M263 1170.8L249.4 1184.8M249.4 1184.8l-9.5 -3.1M289.9 1170.8L276.1 1184.8M276.1 1184.8l-9.5 -3.2M316.8 1170.9L302.9 1184.7M302.9 1184.7l-9.5 -3.3M343.6 1170.9L329.6 1184.7M329.6 1184.7l-9.4 -3.3M370.5 1171L356.4 1184.6M356.4 1184.6l-9.4 -3.4M397.3 1171L383.2 1184.6M383.2 1184.6l-9.4 -3.5M424.2 1171.1L409.9 1184.5M409.9 1184.5l-9.4 -3.5M451 1171.1L436.7 1184.5M436.7 1184.5l-9.3 -3.6M477.9 1171.2L463.5 1184.4M463.5 1184.4l-9.3 -3.6M504.7 1171.2L490.2 1184.4M490.2 1184.4l-9.3 -3.7M531.6 1171.3L517 1184.3M517 1184.3l-9.3 -3.8M558.5 1171.3L543.8 1184.3M543.8 1184.3l-9.2 -3.8M585.3 1171.4L570.5 1184.2M570.5 1184.2l-9.2 -3.9M612.2 1171.4L597.3 1184.2M597.3 1184.2l-9.2 -4M639 1171.5L624.1 1184.1M624.1 1184.1l-9.2 -4M665.9 1171.5L650.8 1184.1M650.8 1184.1l-9.1 -4.1M653.7 1181.6l-5 -2.3M692.7 1171.6L677.6 1184M677.6 1184l-9.1 -4.2M680.5 1181.6l-5 -2.3M719.6 1171.6L704.4 1184M704.4 1184l-9.1 -4.2M707.3 1181.6l-5 -2.3M746.4 1171.7L731.1 1183.9M731.1 1183.9l-9 -4.3M734.1 1181.5l-5 -2.4M773.3 1171.7L757.9 1183.9M757.9 1183.9l-9 -4.4M760.9 1181.5l-5 -2.4M263 1191.2L249.4 1205.2M249.4 1205.2l-9.5 -3.1M289.9 1191.2L276.2 1205.2M276.2 1205.2l-9.5 -3.2M316.7 1191.3L302.9 1205.1M302.9 1205.1l-9.5 -3.2M343.6 1191.3L329.7 1205.1M329.7 1205.1l-9.4 -3.3M370.4 1191.3L356.4 1205.1M356.4 1205.1l-9.4 -3.4M397.3 1191.4L383.2 1205M383.2 1205l-9.4 -3.4M424.2 1191.5L410 1204.9M410 1204.9l-9.4 -3.5M451 1191.5L436.7 1204.9M436.7 1204.9l-9.3 -3.6M477.9 1191.6L463.5 1204.8M463.5 1204.8l-9.3 -3.6M504.7 1191.6L490.2 1204.8M490.2 1204.8l-9.3 -3.7M531.6 1191.7L517 1204.7M517 1204.7l-9.3 -3.8M558.5 1191.7L543.8 1204.7M543.8 1204.7l-9.2 -3.8M585.3 1191.8L570.5 1204.6M570.5 1204.6l-9.2 -3.9M612.2 1191.8L597.3 1204.6M597.3 1204.6l-9.2 -4M639 1191.9L624.1 1204.5M624.1 1204.5l-9.2 -4M665.9 1191.9L650.8 1204.5M650.8 1204.5l-9.1 -4.1M653.7 1202l-5 -2.3M692.7 1192L677.6 1204.4M677.6 1204.4l-9.1 -4.2M680.5 1202l-5 -2.3M719.6 1192L704.4 1204.4M704.4 1204.4l-9.1 -4.2M707.3 1202l-5 -2.3M746.4 1192.1L731.1 1204.3M731.1 1204.3l-9 -4.3M734.1 1201.9l-5 -2.4M773.3 1192.1L757.9 1204.3M757.9 1204.3l-9 -4.4M760.9 1201.9l-5 -2.4M263.3 1210.9L249.1 1224.5M249.1 1224.5l-9.4 -3.4M290.1 1210.9L275.9 1224.5M275.9 1224.5l-9.4 -3.5M316.9 1211L302.7 1224.4M302.7 1224.4l-9.4 -3.5M343.8 1211L329.5 1224.4M329.5 1224.4l-9.4 -3.5M370.6 1211L356.3 1224.4M356.3 1224.4l-9.3 -3.6M397.4 1211L383.1 1224.4M383.1 1224.4l-9.3 -3.6M424.3 1211.1L409.9 1224.3M409.9 1224.3l-9.3 -3.6M451.1 1211.1L436.6 1224.3M436.6 1224.3l-9.3 -3.7M477.9 1211.1L463.4 1224.3M463.4 1224.3l-9.3 -3.7M504.8 1211.1L490.2 1224.3M490.2 1224.3l-9.3 -3.7M531.6 1211.2L517 1224.2M517 1224.2l-9.3 -3.8M558.4 1211.2L543.8 1224.2M543.8 1224.2l-9.3 -3.8M585.3 1211.2L570.6 1224.2M570.6 1224.2l-9.2 -3.8M612.1 1211.3L597.3 1224.1M597.3 1224.1l-9.2 -3.9M638.9 1211.3L624.1 1224.1M624.1 1224.1l-9.2 -3.9M665.8 1211.3L650.9 1224.1M650.9 1224.1l-9.2 -4M692.6 1211.4L677.7 1224M677.7 1224l-9.2 -4M719.5 1211.4L704.5 1224M704.5 1224l-9.1 -4.1M746.3 1211.4L731.3 1224M731.3 1224l-9.1 -4.1M734.2 1221.5l-5 -2.3M773.1 1211.5L758 1223.9M758 1223.9l-9.1 -4.1M761 1221.5l-5 -2.3M263.5 1229.2L248.9 1242.2M248.9 1242.2l-9.3 -3.8M290.3 1229.2L275.7 1242.2M275.7 1242.2l-9.3 -3.8M317.1 1229.2L302.5 1242.2M302.5 1242.2l-9.3 -3.8M343.9 1229.2L329.3 1242.2M329.3 1242.2l-9.3 -3.8M370.7 1229.2L356.1 1242.2M356.1 1242.2l-9.3 -3.8M397.5 1229.1L383 1242.3M383 1242.3l-9.3 -3.8M424.3 1229.1L409.8 1242.3M409.8 1242.3l-9.3 -3.8M451.2 1229.1L436.6 1242.3M436.6 1242.3l-9.3 -3.8M478 1229.1L463.4 1242.3M463.4 1242.3l-9.3 -3.7M504.8 1229.1L490.2 1242.3M490.2 1242.3l-9.3 -3.7M531.6 1229.1L517 1242.3M517 1242.3l-9.3 -3.8M558.4 1229.2L543.8 1242.2M543.8 1242.2l-9.3 -3.8M585.2 1229.2L570.6 1242.2M570.6 1242.2l-9.3 -3.8M612.1 1229.2L597.4 1242.2M597.4 1242.2l-9.2 -3.8M638.9 1229.2L624.2 1242.2M624.2 1242.2l-9.2 -3.8M665.7 1229.2L651 1242.2M651 1242.2l-9.2 -3.9M692.5 1229.2L677.8 1242.2M677.8 1242.2l-9.2 -3.9M719.4 1229.3L704.6 1242.1M704.6 1242.1l-9.2 -3.9M746.2 1229.3L731.4 1242.1M731.4 1242.1l-9.2 -3.9M773 1229.3L758.2 1242.1M758.2 1242.1l-9.2 -3.9M263.7 1246.5L248.7 1259.1M248.7 1259.1l-9.1 -4.1M290.5 1246.5L275.5 1259.1M275.5 1259.1l-9.2 -4M317.3 1246.4L302.4 1259.2M302.4 1259.2l-9.2 -4M344.1 1246.4L329.2 1259.2M329.2 1259.2l-9.2 -4M370.9 1246.4L356 1259.2M356 1259.2l-9.2 -3.9M397.6 1246.4L382.9 1259.2M382.9 1259.2l-9.2 -3.9M424.4 1246.3L409.7 1259.3M409.7 1259.3l-9.2 -3.9M451.2 1246.3L436.5 1259.3M436.5 1259.3l-9.2 -3.8M478 1246.3L463.4 1259.3M463.4 1259.3l-9.2 -3.8M504.8 1246.3L490.2 1259.3M490.2 1259.3l-9.3 -3.8M531.6 1246.2L517 1259.4M517 1259.4l-9.3 -3.7M558.4 1246.2L543.8 1259.4M543.8 1259.4l-9.3 -3.7M585.2 1246.2L570.6 1259.4M570.6 1259.4l-9.3 -3.7M612 1246.2L597.4 1259.4M597.4 1259.4l-9.3 -3.7M638.8 1246.2L624.3 1259.4M624.3 1259.4l-9.3 -3.7M665.6 1246.2L651.1 1259.4M651.1 1259.4l-9.3 -3.7M692.4 1246.2L677.9 1259.4M677.9 1259.4l-9.3 -3.7M719.3 1246.2L704.7 1259.4M704.7 1259.4l-9.3 -3.7M746.1 1246.2L731.5 1259.4M731.5 1259.4l-9.3 -3.7M772.9 1246.2L758.3 1259.4M758.3 1259.4l-9.3 -3.7M264.3 1262.7L248.1 1273.9M251.3 1271.7l-4.8 -2.7M291 1262.7L275 1273.9M275 1273.9l-8.8 -4.8M317.8 1262.6L301.9 1274M301.9 1274l-8.8 -4.7M344.5 1262.5L328.8 1274.1M328.8 1274.1l-8.9 -4.6M371.3 1262.4L355.6 1274.2M355.6 1274.2l-8.9 -4.5M398 1262.3L382.5 1274.3M382.5 1274.3l-9 -4.4M424.7 1262.2L409.4 1274.4M409.4 1274.4l-9 -4.3M451.5 1262.1L436.3 1274.5M436.3 1274.5l-9.1 -4.2M478.2 1262L463.1 1274.6M463.1 1274.6l-9.1 -4.1M505 1261.9L490 1274.7M490 1274.7l-9.2 -4M531.7 1261.9L516.9 1274.7M516.9 1274.7l-9.2 -3.9M558.5 1261.8L543.7 1274.8M543.7 1274.8l-9.2 -3.9M585.3 1261.8L570.6 1274.8M570.6 1274.8l-9.2 -3.8M612 1261.8L597.4 1274.8M597.4 1274.8l-9.3 -3.8M638.8 1261.7L624.3 1274.9M624.3 1274.9l-9.3 -3.7M665.6 1261.7L651.1 1274.9M651.1 1274.9l-9.3 -3.7M692.4 1261.7L678 1274.9M678 1274.9l-9.3 -3.6M719.1 1261.6L704.8 1275M704.8 1275l-9.3 -3.6M745.9 1261.6L731.6 1275M731.6 1275l-9.3 -3.5M772.7 1261.6L758.5 1275M758.5 1275l-9.4 -3.5M264.7 1276.2L247.7 1286M251 1284.1l-4.6 -3.1M291.4 1276.1L274.6 1286.1M277.9 1284.2l-4.6 -3M318.1 1275.9L301.5 1286.3M304.7 1284.3l-4.7 -2.9M344.8 1275.8L328.4 1286.4M331.6 1284.4l-4.7 -2.8M371.6 1275.6L355.3 1286.6M358.5 1284.5l-4.8 -2.7M398.3 1275.5L382.2 1286.7M382.2 1286.7l-8.8 -4.8M425 1275.3L409.1 1286.9M409.1 1286.9l-8.8 -4.7M451.7 1275.2L436.1 1287M436.1 1287l-8.9 -4.5M478.4 1275L463 1287.2M463 1287.2l-9 -4.4M505.1 1274.9L489.9 1287.3M489.9 1287.3l-9.1 -4.2M531.8 1274.8L516.8 1287.4M516.8 1287.4l-9.1 -4.1M558.5 1274.7L543.7 1287.5M543.7 1287.5l-9.2 -4M585.3 1274.7L570.5 1287.5M570.5 1287.5l-9.2 -3.9M612.1 1274.6L597.4 1287.6M597.4 1287.6l-9.2 -3.8M638.8 1274.5L624.3 1287.7M624.3 1287.7l-9.3 -3.7M665.6 1274.5L651.1 1287.7M651.1 1287.7l-9.3 -3.6M692.3 1274.4L678 1287.8M678 1287.8l-9.3 -3.6M719.1 1274.3L704.9 1287.9M704.9 1287.9l-9.4 -3.5M745.8 1274.3L731.8 1287.9M731.8 1287.9l-9.4 -3.4M772.5 1274.2L758.6 1288M758.6 1288l-9.4 -3.3M265.2 1287L247.2 1294.6M250.7 1293.1l-4.2 -3.6M291.9 1286.8L274.1 1294.8M277.5 1293.3l-4.2 -3.5M318.6 1286.5L301 1295.1M304.4 1293.4l-4.3 -3.4M345.4 1286.3L327.9 1295.3M331.3 1293.5l-4.4 -3.3M372 1286.1L354.8 1295.5M358.2 1293.7l-4.5 -3.2M398.7 1285.9L381.8 1295.7M385 1293.8l-4.6 -3.1M425.4 1285.7L408.7 1295.9M411.9 1293.9l-4.6 -3M452.1 1285.5L435.6 1296.1M438.8 1294l-4.7 -2.9M478.8 1285.3L462.6 1296.3M465.7 1294.2l-4.8 -2.7M505.5 1285.1L489.5 1296.5M492.6 1294.3l-4.8 -2.6M532.2 1284.9L516.4 1296.7M519.5 1294.4l-4.9 -2.5M558.9 1284.8L543.3 1296.8M546.4 1294.5l-4.9 -2.4M585.6 1284.7L570.2 1296.9M573.2 1294.5l-5 -2.4M612.3 1284.6L597.2 1297M597.2 1297l-9.1 -4.2M639 1284.5L624.1 1297.1M624.1 1297.1l-9.2 -4M665.7 1284.4L651 1297.2M651 1297.2l-9.2 -3.9M692.4 1284.2L677.9 1297.4M677.9 1297.4l-9.3 -3.8M719.2 1284.1L704.8 1297.5M704.8 1297.5l-9.3 -3.6M745.9 1284L731.7 1297.6M731.7 1297.6l-9.4 -3.5M772.6 1283.9L758.6 1297.7M758.6 1297.7l-9.4 -3.3M265.7 1297.1L246.7 1302.3M250.4 1301.3l-3.6 -4.1M292.4 1296.9L273.6 1302.5M277.3 1301.4l-3.7 -4M319.1 1296.7L300.5 1302.7M304.1 1301.6l-3.8 -3.9M345.9 1296.4L327.4 1303M331 1301.7l-3.9 -3.9M372.6 1296.2L354.3 1303.2M357.8 1301.8l-4 -3.8M399.3 1296L381.2 1303.4M384.7 1302l-4.1 -3.7M426 1295.7L408.1 1303.7M411.6 1302.1l-4.2 -3.5M452.7 1295.5L435 1303.9M438.4 1302.3l-4.3 -3.4M479.4 1295.3L461.9 1304.1M465.3 1302.4l-4.4 -3.3M506.1 1295.1L488.8 1304.3M492.2 1302.5l-4.5 -3.2M532.8 1294.9L515.8 1304.5M519.1 1302.7l-4.5 -3.1M559.5 1294.6L542.7 1304.8M546 1302.8l-4.6 -3M586.1 1294.4L569.7 1305M572.9 1303l-4.7 -2.8M612.8 1294.1L596.7 1305.3M599.8 1303.1l-4.8 -2.7M639.4 1293.9L623.6 1305.5M626.7 1303.3l-4.9 -2.6M666.1 1293.7L650.6 1305.7M650.6 1305.7l-9 -4.4M692.7 1293.4L677.6 1306M677.6 1306l-9.1 -4.1M719.3 1293.2L704.6 1306.2M704.6 1306.2l-9.2 -3.8M745.9 1293L731.6 1306.4M731.6 1306.4l-9.3 -3.6M772.5 1292.8L758.6 1306.6M758.6 1306.6l-9.4 -3.3M265.9 1307.5L246.5 1309.7M250.2 1309.3l-2.9 -4.6M292.7 1307.4L273.3 1309.8M277.1 1309.3l-3 -4.6M319.5 1307.3L300.1 1309.9M303.9 1309.4l-3.1 -4.6M346.3 1307.2L326.9 1310M330.7 1309.5l-3.1 -4.5M373.1 1307L353.8 1310.2M357.5 1309.5l-3.2 -4.5M399.9 1306.9L380.6 1310.3M384.3 1309.6l-3.2 -4.5M426.7 1306.8L407.4 1310.4M411.2 1309.7l-3.3 -4.4M453.5 1306.7L434.3 1310.5M438 1309.8l-3.3 -4.4M480.3 1306.6L461.1 1310.6M464.8 1309.8l-3.4 -4.3M507.1 1306.5L487.9 1310.7M491.6 1309.9l-3.4 -4.3M533.8 1306.3L514.8 1310.9M518.5 1310l-3.5 -4.2M560.5 1305.7L541.8 1311.5M545.4 1310.4l-3.8 -4M587.1 1305.1L568.7 1312.1M572.3 1310.7l-4 -3.8M613.7 1304.6L595.8 1312.6M599.2 1311l-4.2 -3.5M640.2 1304.1L622.8 1313.1M626.2 1311.4l-4.4 -3.3M666.8 1303.6L649.9 1313.6M649.9 1313.6l-8.4 -5.5M693.3 1303.1L677.1 1314.1M677.1 1314.1l-8.7 -5M719.7 1302.6L704.2 1314.6M704.2 1314.6l-9 -4.4M746.2 1302.2L731.4 1315M731.4 1315l-9.2 -3.9M772.6 1301.7L758.6 1315.5M758.6 1315.5l-9.4 -3.4M266 1317.4L246.4 1316.2M250.2 1316.4l-2.1 -5.1M292.8 1317.3L273.2 1316.3M277 1316.5l-2.1 -5.1M319.6 1317.2L300 1316.4M303.8 1316.5l-2.2 -5M346.4 1317.1L326.8 1316.5M330.6 1316.6l-2.2 -5M373.2 1317L353.6 1316.6M357.4 1316.6l-2.3 -5M400 1317L380.5 1316.6M384.3 1316.7l-2.3 -5M426.9 1316.9L407.3 1316.7M411.1 1316.8l-2.4 -5M453.7 1316.8L434.1 1316.8M437.9 1316.8l-2.4 -4.9M480.5 1316.7L460.9 1316.9M464.7 1316.9l-2.5 -4.9M507.3 1316.6L487.7 1317M491.5 1316.9l-2.5 -4.9M614.2 1314.1L595.3 1319.5M599 1318.4l-3.7 -4.1M640.7 1313.4L622.3 1320.2M625.9 1318.9l-4 -3.8M667.3 1312.7L649.4 1320.9M649.4 1320.9l-7.7 -6.3M693.7 1312L676.6 1321.6M676.6 1321.6l-8.2 -5.7M720.2 1311.4L703.8 1322.2M703.8 1322.2l-8.6 -5.1M746.5 1310.8L731 1322.8M731 1322.8l-9 -4.4M772.9 1310.2L758.3 1323.4M758.3 1323.4l-9.3 -3.7M400 1330.6L380.5 1329M384.3 1329.3l-2 -5.1M426.8 1330.6L407.3 1329M411.1 1329.3l-2 -5.1M453.6 1330.6L434.1 1329M437.9 1329.3l-2 -5.1M480.4 1330.6L460.9 1329M464.7 1329.3l-2 -5.1M694.2 1326L676.1 1333.6M679.6 1332.1l-4.1 -3.6M720.7 1325.3L703.2 1334.3M706.6 1332.5l-4.4 -3.3M747.1 1324.7L730.4 1334.9M733.7 1332.9l-4.6 -3M773.5 1324L757.7 1335.6M760.7 1333.3l-4.9 -2.6M773.5 1333.9L757.6 1345.3" stroke="#262626" stroke-width="0.85" fill="none"/>
<rect x="256.5" y="953" width="522" height="425" fill="none" stroke="#000" stroke-width="1"/>
<text x="517.5" y="942.5" font-size="33.5" text-anchor="middle" fill="#000">Curtain 3 (C3)</text>
<path d="M243.5 953L256.5 953" stroke="#222" stroke-width="1" fill="none"/>
<text x="229" y="960.7" font-size="22" text-anchor="end" fill="#000">200</text>
<path d="M243.5 1060.6L256.5 1060.6" stroke="#222" stroke-width="1" fill="none"/>
<text x="229" y="1068.3" font-size="22" text-anchor="end" fill="#000">300</text>
<path d="M243.5 1196.2L256.5 1196.2" stroke="#222" stroke-width="1" fill="none"/>
<text x="229" y="1203.9" font-size="22" text-anchor="end" fill="#000">500</text>
<path d="M243.5 1285.5L256.5 1285.5" stroke="#222" stroke-width="1" fill="none"/>
<text x="229" y="1293.2" font-size="22" text-anchor="end" fill="#000">700</text>
<path d="M243.5 1337L256.5 1337" stroke="#222" stroke-width="1" fill="none"/>
<text x="229" y="1344.7" font-size="22" text-anchor="end" fill="#000">850</text>
<path d="M243.5 1359.5L256.5 1359.5" stroke="#222" stroke-width="1" fill="none"/>
<text x="229" y="1367.2" font-size="22" text-anchor="end" fill="#000">925</text>
<path d="M778.5 981.3L791 981.3" stroke="#222" stroke-width="1" fill="none"/>
<text x="803.8" y="988.8" font-size="21.2" text-anchor="start" fill="#000">35</text>
<path d="M778.5 1039L791 1039" stroke="#222" stroke-width="1" fill="none"/>
<text x="803.8" y="1046.5" font-size="21.2" text-anchor="start" fill="#000">30</text>
<path d="M778.5 1096.5L791 1096.5" stroke="#222" stroke-width="1" fill="none"/>
<text x="803.8" y="1104" font-size="21.2" text-anchor="start" fill="#000">25</text>
<path d="M778.5 1154.2L791 1154.2" stroke="#222" stroke-width="1" fill="none"/>
<text x="803.8" y="1161.7" font-size="21.2" text-anchor="start" fill="#000">20</text>
<path d="M778.5 1211.9L791 1211.9" stroke="#222" stroke-width="1" fill="none"/>
<text x="803.8" y="1219.4" font-size="21.2" text-anchor="start" fill="#000">15</text>
<path d="M778.5 1269.2L791 1269.2" stroke="#222" stroke-width="1" fill="none"/>
<text x="803.8" y="1276.7" font-size="21.2" text-anchor="start" fill="#000">10</text>
<path d="M778.5 1327L791 1327" stroke="#222" stroke-width="1" fill="none"/>
<text x="803.8" y="1334.5" font-size="21.2" text-anchor="start" fill="#000">5</text>
<path d="M778.5 1372.9L791 1372.9" stroke="#222" stroke-width="1" fill="none"/>
<text x="803.8" y="1380.4" font-size="21.2" text-anchor="start" fill="#000">1</text>
<path d="M256.5 1378L256.5 1391" stroke="#222" stroke-width="1" fill="none"/>
<text x="255.9" y="1422.3" font-size="22" text-anchor="middle" fill="#000">115.0W</text>
<text x="252.7" y="1446.7" font-size="22" text-anchor="middle" fill="#000">40.1N</text>
<path d="M390.3 1378L390.3 1391" stroke="#222" stroke-width="1" fill="none"/>
<text x="389.7" y="1422.3" font-size="22" text-anchor="middle" fill="#000">115.0W</text>
<text x="386.5" y="1446.7" font-size="22" text-anchor="middle" fill="#000">41.7N</text>
<path d="M524.2 1378L524.2 1391" stroke="#222" stroke-width="1" fill="none"/>
<text x="523.6" y="1422.3" font-size="22" text-anchor="middle" fill="#000">115.0W</text>
<text x="520.4" y="1446.7" font-size="22" text-anchor="middle" fill="#000">43.3N</text>
<path d="M658 1378L658 1391" stroke="#222" stroke-width="1" fill="none"/>
<text x="657.4" y="1422.3" font-size="22" text-anchor="middle" fill="#000">115.0W</text>
<text x="654.2" y="1446.7" font-size="22" text-anchor="middle" fill="#000">44.9N</text>
<rect x="697.3" y="1387.4" width="81.2" height="65.1" fill="#fff" stroke="#808080" stroke-width="1"/>
<text x="737.9" y="1410.8" font-size="24" text-anchor="middle" fill="#000">30 m/s</text>
<path d="M749.7 1433.1h-19.4M730.3 1433.1l-4.8 -8.8M734 1433.1l-4.8 -8.8M737.7 1433.1l-4.8 -8.8" stroke="#333" stroke-width="0.7" fill="none"/>
<text x="171" y="1166" font-size="27.2" text-anchor="middle" fill="#000" transform="rotate(-90 171 1166)">Altitude (hPa)</text>
<clipPath id="cp4"><rect x="924.7" y="953" width="532" height="433.3"/></clipPath>
<g clip-path="url(#cp4)">
<rect x="924.7" y="953" width="532" height="433.3" fill="#0AA3FF"/>
<g transform="translate(924.7 953) scale(0.33064)">
<path d="M1700 75C1684.8 74.5 1642.3 74.2 1609 72C1575.7 69.8 1534.8 64 1500 62C1465.2 60 1433.3 58.7 1400 60C1366.7 61.3 1333.3 65.3 1300 70C1266.7 74.7 1233.3 82.2 1200 88C1166.7 93.8 1133.3 99.7 1100 105C1066.7 110.3 1033.3 115 1000 120C966.7 125 933.3 129.2 900 135C866.7 140.8 826.7 149.2 800 155C773.3 160.8 765 167.2 740 170C715 172.8 676.7 172 650 172C623.3 172 601.7 175.3 580 170C558.3 164.7 535.8 150.8 520 140C504.2 129.2 489.2 120 485 105C480.8 90 490.8 67.5 495 50C499.2 32.5 506.7 15 510 0C513.3 -15 514.2 -33.3 515 -40L1700 -40Z" fill="#3A8EC0"/>
<path d="M1700 8C1684.8 8 1659 8 1609 8C1559 8 1468.2 7.3 1400 8C1331.8 8.7 1266.7 9.2 1200 12C1133.3 14.8 1058.3 20.3 1000 25C941.7 29.7 885.8 36.7 850 40C814.2 43.3 800 51.7 785 45C770 38.3 765.8 14.2 760 0C754.2 -14.2 751.7 -33.3 750 -40L1700 -40Z" fill="#6BA3CD"/>
<path d="M225 -40C225 -33.3 220 -11.7 225 0C230 11.7 245.8 16.7 255 30C264.2 43.3 274.2 61.7 280 80C285.8 98.3 289.7 120 290 140C290.3 160 282.8 180 282 200C281.2 220 280.3 241.7 285 260C289.7 278.3 299.2 296.7 310 310C320.8 323.3 331.7 333 350 340C368.3 347 395 348.3 420 352C445 355.7 496.7 357.3 500 362C503.3 366.7 465 373.7 440 380C415 386.3 381.7 394.2 350 400C318.3 405.8 283.3 410 250 415C216.7 420 183.3 425 150 430C116.7 435 75 440.3 50 445C25 449.7 21.7 454.7 0 458C-21.7 461.3 -66.7 463.8 -80 465L-80 -40Z" fill="#39B8FF"/>
<path d="M-40 60C-33.3 36.7 -12.5 61.7 0 70C12.5 78.3 31.7 95 35 110C38.3 125 25.8 145 20 160C14.2 175 10 191.7 0 200C-10 208.3 -33.3 233.3 -40 210C-46.7 186.7 -46.7 83.3 -40 60Z" fill="#47D1FF"/>
<path d="M1700 165C1684.8 164.2 1642.3 162.5 1609 160C1575.7 157.5 1534.8 152.5 1500 150C1465.2 147.5 1433.3 145 1400 145C1366.7 145 1333.3 147.5 1300 150C1266.7 152.5 1233.3 156.3 1200 160C1166.7 163.7 1133.3 167 1100 172C1066.7 177 1030 182.8 1000 190C970 197.2 940 206.7 920 215C900 223.3 883.3 228.3 880 240C876.7 251.7 891.7 272 900 285C908.3 298 913.3 310.2 930 318C946.7 325.8 971.7 327.5 1000 332C1028.3 336.5 1066.7 341.2 1100 345C1133.3 348.8 1166.7 352.5 1200 355C1233.3 357.5 1266.7 359.5 1300 360C1333.3 360.5 1366.7 359.3 1400 358C1433.3 356.7 1465.2 355 1500 352C1534.8 349 1575.7 342.8 1609 340C1642.3 337.2 1684.8 335.8 1700 335Z" fill="#39B8FF"/>
<path d="M1140 240C1148.3 233.3 1215 223.3 1250 218C1285 212.7 1316.7 209.3 1350 208C1383.3 206.7 1415 207.7 1450 210C1485 212.3 1535 217 1560 222C1585 227 1610 233.3 1600 240C1590 246.7 1533.3 256.7 1500 262C1466.7 267.3 1433.3 270.7 1400 272C1366.7 273.3 1333.3 272.3 1300 270C1266.7 267.7 1226.7 263 1200 258C1173.3 253 1131.7 246.7 1140 240Z" fill="#47D1FF"/>
<path d="M-80 560C-66.7 566.3 -21.7 584.7 0 598C21.7 611.3 30 627.7 50 640C70 652.3 95 663.7 120 672C145 680.3 170 685.3 200 690C230 694.7 270 696.7 300 700C330 703.3 356.7 705 380 710C403.3 715 420 721.7 440 730C460 738.3 480 750.8 500 760C520 769.2 535 777.5 560 785C585 792.5 618.3 798.8 650 805C681.7 811.2 716.7 817.5 750 822C783.3 826.5 816.7 829.8 850 832C883.3 834.2 916.7 835.7 950 835C983.3 834.3 1016.7 831.3 1050 828C1083.3 824.7 1121.7 821.3 1150 815C1178.3 808.7 1205 801.7 1220 790C1235 778.3 1235.8 760 1240 745C1244.2 730 1236.7 714.2 1245 700C1253.3 685.8 1267.5 668.7 1290 660C1312.5 651.3 1348.3 648.8 1380 648C1411.7 647.2 1450 651.7 1480 655C1510 658.3 1538.5 663 1560 668C1581.5 673 1585.7 679.7 1609 685C1632.3 690.3 1684.8 697.5 1700 700L1700 1500L-80 1500Z" fill="#39B8FF"/>
<path d="M-80 785C-66.7 785.8 -30 787.5 0 790C30 792.5 66.7 795.8 100 800C133.3 804.2 166.7 808.7 200 815C233.3 821.3 276.5 832.2 300 838C323.5 843.8 328.3 845 341 850C353.7 855 361.8 860.8 376 868C390.2 875.2 409.3 884.3 426 893C442.7 901.7 459.3 912.5 476 920C492.7 927.5 505.2 933.8 526 938C546.8 942.2 571.8 944.2 601 945C630.2 945.8 667 944.2 701 943C735 941.8 779.3 940.2 805 938C830.7 935.8 834.2 934.2 855 930C875.8 925.8 905 919.2 930 913C955 906.8 980 899.7 1005 893C1030 886.3 1055 878.8 1080 873C1105 867.2 1130 862.7 1155 858C1180 853.3 1205.8 849.3 1230 845C1254.2 840.7 1271.7 837 1300 832C1328.3 827 1366.7 817.3 1400 815C1433.3 812.7 1465.2 814.7 1500 818C1534.8 821.3 1575.7 830.5 1609 835C1642.3 839.5 1684.8 843.3 1700 845L1700 1500L-80 1500Z" fill="#47D1FF"/>
<path d="M-40 1038C-33.3 1031.3 -15.2 1038.5 0 1038C15.2 1037.5 34.2 1033.3 51 1035C67.8 1036.7 86 1043.3 101 1048C116 1052.7 141 1058.8 141 1063C141 1067.2 116 1071 101 1073C86 1075 67.8 1074.2 51 1075C34.2 1075.8 15.2 1077.5 0 1078C-15.2 1078.5 -33.3 1084.7 -40 1078C-46.7 1071.3 -46.7 1044.7 -40 1038Z" fill="#39B8FF"/>
<path d="M-80 1100C-66.7 1099.7 -30.2 1099.2 0 1098C30.2 1096.8 67.5 1095.2 101 1093C134.5 1090.8 167.7 1087.5 201 1085C234.3 1082.5 267.7 1080.8 301 1078C334.3 1075.2 367.7 1072.2 401 1068C434.3 1063.8 467.7 1058 501 1053C534.3 1048 567.7 1043.8 601 1038C634.3 1032.2 667 1024.7 701 1018C735 1011.3 775.2 1003 805 998C834.8 993 855 992.2 880 988C905 983.8 930 978 955 973C980 968 1005 962.7 1030 958C1055 953.3 1075.8 949.2 1105 945C1134.2 940.8 1171.7 936.7 1205 933C1238.3 929.3 1271.7 925.2 1305 923C1338.3 920.8 1371.7 919.2 1405 920C1438.3 920.8 1480 923.3 1505 928C1530 932.7 1540.8 939.7 1555 948C1569.2 956.3 1581 968.8 1590 978C1599 987.2 1599 989.3 1609 1003C1619 1016.7 1643.2 1050.5 1650 1060L1650 1500L-80 1500Z" fill="#42E6FF"/>
<path d="M-80 1127C-66.7 1126.7 -30.2 1125.7 0 1125C30.2 1124.3 67.5 1124.2 101 1123C134.5 1121.8 167.7 1120.2 201 1118C234.3 1115.8 267.7 1112.5 301 1110C334.3 1107.5 367.7 1105.8 401 1103C434.3 1100.2 467.7 1096.3 501 1093C534.3 1089.7 567.7 1087.2 601 1083C634.3 1078.8 667 1072.7 701 1068C735 1063.3 779.3 1055.8 805 1055C830.7 1054.2 838.3 1060 855 1063C871.7 1066 875.3 1067.2 905 1073C934.7 1078.8 999.7 1092.2 1033 1098C1066.3 1103.8 1078 1104.7 1105 1108C1132 1111.3 1161.7 1115.5 1195 1118C1228.3 1120.5 1270 1121.3 1305 1123C1340 1124.7 1371.7 1126.3 1405 1128C1438.3 1129.7 1471 1131.3 1505 1133C1539 1134.7 1576.5 1136.8 1609 1138C1641.5 1139.2 1684.8 1139.7 1700 1140L1700 1500L-80 1500Z" fill="#42FCFF"/>
<path d="M-80 1140C-66.7 1139.7 -38.5 1138.8 0 1138C38.5 1137.2 100.8 1137.2 151 1135C201.2 1132.8 259.3 1127.8 301 1125C342.7 1122.2 367.7 1120 401 1118C434.3 1116 467.7 1114.3 501 1113C534.3 1111.7 567.7 1110.5 601 1110C634.3 1109.5 667 1110.3 701 1110C735 1109.7 771 1106 805 1108C839 1110 884.2 1106.7 905 1122C925.8 1137.3 925.8 1187 930 1200L930 1500L-80 1500Z" fill="#43FFE0"/>
<path d="M1170 1150C1174.2 1147.2 1172.5 1135 1195 1133C1217.5 1131 1270 1135.2 1305 1138C1340 1140.8 1371.7 1146.3 1405 1150C1438.3 1153.7 1471 1157.8 1505 1160C1539 1162.2 1576.5 1162.3 1609 1163C1641.5 1163.7 1684.8 1163.8 1700 1164L1700 1500L1170 1500Z" fill="#43FFE0"/>
<path d="M20 1160C23.8 1156.8 21.2 1144.3 43 1141C64.8 1137.7 108 1141.8 151 1140C194 1138.2 259.3 1132.8 301 1130C342.7 1127.2 367.7 1124.8 401 1123C434.3 1121.2 459.3 1119.8 501 1119C542.7 1118.2 604 1118.2 651 1118C698 1117.8 758.2 1104.3 783 1118C807.8 1131.7 797.2 1186.3 800 1200L800 1500L20 1500Z" fill="#43FFB3"/>
<path d="M20 1165C23.8 1161.7 21.2 1148.5 43 1145C64.8 1141.5 108 1145.7 151 1144C194 1142.3 259.3 1137.7 301 1135C342.7 1132.3 367.7 1129.8 401 1128C434.3 1126.2 459.3 1124.7 501 1124C542.7 1123.3 604 1123.8 651 1124C698 1124.2 759.8 1112.3 783 1125C806.2 1137.7 788.8 1187.5 790 1200L790 1500L20 1500Z" fill="#45FF52"/>
<path d="M20 1170C23.8 1166.7 21.2 1153.5 43 1150C64.8 1146.5 116.3 1149.8 151 1149C185.7 1148.2 221 1146.3 251 1145C281 1143.7 302.8 1142 331 1141C359.2 1140 401.8 1129.2 420 1139C438.2 1148.8 436.7 1189.8 440 1200L440 1500L20 1500Z" fill="#8FFF3D"/>
<path d="M20 1175C23.8 1171.5 21.2 1157.7 43 1154C64.8 1150.3 116.3 1153.8 151 1153C185.7 1152.2 221 1150.2 251 1149C281 1147.8 315.3 1137.5 331 1146C346.7 1154.5 342.7 1191 345 1200L345 1500L20 1500Z" fill="#B8FF3D"/>
<path d="M60 1178C63.3 1174.7 64.8 1161.5 80 1158C95.2 1154.5 122.5 1157.8 151 1157C179.5 1156.2 221 1154 251 1153C281 1152 316.2 1143.2 331 1151C345.8 1158.8 338.5 1191.8 340 1200L340 1500L60 1500Z" fill="#FFFA3D"/>
<path d="M130 1180C133.3 1176.8 129.8 1164.7 150 1161C170.2 1157.3 220.8 1158.8 251 1158C281.2 1157.2 316.2 1149 331 1156C345.8 1163 338.5 1192.7 340 1200L340 1500L130 1500Z" fill="#FFB83D"/>
<path d="M497 1143C510.5 1139.3 564.5 1139.3 578 1143C591.5 1146.7 591.5 1161.3 578 1165C564.5 1168.7 510.5 1168.7 497 1165C483.5 1161.3 483.5 1146.7 497 1143Z" fill="#B8FF3D"/>
<path d="M497 1153C510.5 1151 564.5 1151 578 1153C591.5 1155 591.5 1163 578 1165C564.5 1167 510.5 1167 497 1165C483.5 1163 483.5 1155 497 1153Z" fill="#FFE03D"/>
</g>
<path d="M924.4 1331.7H938.6V1388.3H924.4ZM938 1337.5H1034.1V1388.3H938ZM1033.5 1331.7H1088.7V1388.3H1033.5ZM1088.1 1337.5H1116V1388.3H1088.1ZM1115.4 1331.7H1184.2V1388.3H1115.4ZM1183.6 1323.9H1225.1V1388.3H1183.6ZM1224.5 1315.1H1266V1388.3H1224.5ZM1265.4 1323.9H1320.6V1388.3H1265.4ZM1320 1331.7H1375.2V1388.3H1320ZM1374.6 1337.5H1416.1V1388.3H1374.6ZM1415.5 1342.1H1457V1388.3H1415.5Z" fill="#fff"/>
</g>
<path clip-path="url(#cp4)" d="M932.9 981.4L915.9 991.9M915.9 991.9l-8.6 -5.4M919.2 989.9l-8.6 -5.4M922.5 987.8l-8.6 -5.4M960.2 981.4L943.2 991.9M943.2 991.9l-8.6 -5.4M946.5 989.9l-8.6 -5.4M949.8 987.8l-8.6 -5.4M987.5 981.4L970.5 991.9M970.5 991.9l-8.6 -5.5M973.8 989.8l-8.6 -5.5M977.1 987.8l-8.6 -5.5M1014.9 981.4L997.8 991.8M997.8 991.8l-8.6 -5.5M1001.1 989.8l-8.6 -5.5M1004.5 987.8l-8.6 -5.5M1042.2 981.5L1025.1 991.8M1025.1 991.8l-8.6 -5.5M1028.5 989.8l-8.6 -5.5M1031.8 987.8l-8.6 -5.5M1069.6 981.5L1052.4 991.8M1052.4 991.8l-8.5 -5.6M1055.8 989.8l-8.5 -5.6M1059.1 987.8l-8.5 -5.6M1096.9 981.5L1079.8 991.8M1079.8 991.8l-8.5 -5.6M1083.1 989.8l-8.5 -5.6M1086.4 987.8l-8.5 -5.6M1124.3 981.6L1107.1 991.7M1107.1 991.7l-8.5 -5.6M1110.4 989.8l-8.5 -5.6M1113.7 987.8l-8.5 -5.6M1151.6 981.6L1134.4 991.7M1134.4 991.7l-8.5 -5.6M1137.7 989.7l-8.5 -5.6M1141 987.8l-8.5 -5.6M1178.9 981.6L1161.7 991.7M1161.7 991.7l-8.5 -5.7M1165 989.7l-8.5 -5.7M1168.4 987.8l-8.5 -5.7M1206.3 981.7L1189 991.6M1189 991.6l-8.4 -5.7M1192.3 989.7l-8.4 -5.7M1195.7 987.8l-8.4 -5.7M1233.7 981.7L1216.2 991.5M1216.2 991.5l-8.4 -5.8M1219.6 989.6l-8.4 -5.8M1223 987.7l-8.4 -5.8M1261 981.8L1243.5 991.5M1243.5 991.5l-8.3 -5.9M1246.9 989.6l-8.3 -5.9M1250.3 987.7l-8.3 -5.9M1288.4 981.9L1270.8 991.4M1270.8 991.4l-8.3 -5.9M1274.2 989.5l-8.3 -5.9M1277.6 987.7l-8.3 -5.9M1315.8 982L1298.1 991.3M1298.1 991.3l-8.2 -6M1301.5 989.5l-8.2 -6M1304.9 987.7l-8.2 -6M1343.1 982.1L1325.4 991.2M1325.4 991.2l-8.2 -6.1M1328.8 989.4l-8.2 -6.1M1332.3 987.7l-4.5 -3.3M1370.5 982.1L1352.7 991.1M1352.7 991.1l-8.1 -6.2M1356.1 989.4l-8.1 -6.2M1359.6 987.7l-4.5 -3.4M1397.9 982.2L1379.9 991.1M1379.9 991.1l-8.1 -6.2M1383.4 989.4l-8.1 -6.2M1386.9 987.6l-4.4 -3.4M1425.2 982.3L1407.2 991M1407.2 991l-8 -6.3M1410.7 989.3l-8 -6.3M1414.2 987.6l-4.4 -3.5M1452.6 982.4L1434.5 990.9M1434.5 990.9l-7.9 -6.4M1438 989.3l-7.9 -6.4M1441.5 987.6l-4.4 -3.5M932.7 1025.3L916.1 1036.5M916.1 1036.5l-8.8 -5.1M919.3 1034.3l-8.8 -5.1M960 1025.3L943.4 1036.5M943.4 1036.5l-8.8 -5.1M946.6 1034.3l-8.8 -5.1M987.4 1025.4L970.7 1036.4M970.7 1036.4l-8.8 -5.2M973.9 1034.3l-8.8 -5.2M1014.7 1025.4L998 1036.4M998 1036.4l-8.8 -5.2M1001.3 1034.3l-8.8 -5.2M1042 1025.4L1025.3 1036.4M1025.3 1036.4l-8.8 -5.2M1028.6 1034.2l-8.8 -5.2M1069.4 1025.5L1052.6 1036.3M1052.6 1036.3l-8.7 -5.2M1055.9 1034.2l-8.7 -5.2M1096.7 1025.5L1079.9 1036.3M1079.9 1036.3l-8.7 -5.3M1083.2 1034.2l-8.7 -5.3M1124.1 1025.5L1107.2 1036.3M1107.2 1036.3l-8.7 -5.3M1110.5 1034.2l-8.7 -5.3M1151.4 1025.5L1134.5 1036.2M1134.5 1036.2l-8.7 -5.3M1137.8 1034.2l-8.7 -5.3M1178.8 1025.6L1161.9 1036.2M1161.9 1036.2l-8.7 -5.4M1165.1 1034.1l-8.7 -5.4M1206.1 1025.6L1189.2 1036.2M1189.2 1036.2l-8.6 -5.4M1192.4 1034.1l-8.6 -5.4M1233.5 1025.7L1216.4 1036.1M1216.4 1036.1l-8.6 -5.5M1219.7 1034.1l-8.6 -5.5M1260.8 1025.7L1243.7 1036.1M1243.7 1036.1l-8.6 -5.5M1247 1034.1l-8.6 -5.5M1288.2 1025.8L1271 1036M1271 1036l-8.5 -5.6M1274.3 1034l-8.5 -5.6M1315.5 1025.9L1298.3 1035.9M1298.3 1035.9l-8.5 -5.7M1301.6 1034l-8.5 -5.7M1342.9 1025.9L1325.6 1035.9M1325.6 1035.9l-8.4 -5.7M1328.9 1033.9l-4.6 -3.1M1370.3 1026L1352.9 1035.8M1352.9 1035.8l-8.4 -5.8M1356.2 1033.9l-4.6 -3.2M1397.6 1026L1380.2 1035.7M1380.2 1035.7l-8.4 -5.8M1383.6 1033.9l-4.6 -3.2M1425 1026.1L1407.5 1035.7M1407.5 1035.7l-8.3 -5.9M1410.9 1033.8l-4.6 -3.2M1452.3 1026.2L1434.7 1035.6M1434.7 1035.6l-8.3 -6M1438.2 1033.8l-4.5 -3.3M932.3 1068L916.5 1080.3M916.5 1080.3l-9.2 -4.5M919.6 1077.9l-5 -2.5M959.6 1068L943.8 1080.2M943.8 1080.2l-9.1 -4.5M946.9 1077.9l-5 -2.5M987 1068L971.1 1080.2M971.1 1080.2l-9.1 -4.5M974.2 1077.8l-5 -2.5M1014.3 1068.1L998.4 1080.2M998.4 1080.2l-9.1 -4.6M1001.5 1077.8l-5 -2.5M1041.6 1068.1L1025.7 1080.2M1025.7 1080.2l-9.1 -4.6M1028.8 1077.8l-5 -2.5M1069 1068.1L1053 1080.1M1053 1080.1l-9.1 -4.6M1056.1 1077.8l-5 -2.5M1096.3 1068.1L1080.3 1080.1M1080.3 1080.1l-9.1 -4.7M1083.4 1077.8l-5 -2.6M1123.7 1068.2L1107.6 1080.1M1107.6 1080.1l-9 -4.7M1110.7 1077.8l-5 -2.6M1151 1068.2L1134.9 1080M1134.9 1080l-9 -4.7M1138.1 1077.7l-5 -2.6M1178.4 1068.2L1162.2 1080M1162.2 1080l-9 -4.8M1165.4 1077.7l-5 -2.6M1205.7 1068.3L1189.5 1080M1189.5 1080l-9 -4.8M1192.7 1077.7l-4.9 -2.6M1233.1 1068.3L1216.8 1079.9M1216.8 1079.9l-9 -4.9M1220 1077.7l-4.9 -2.7M1260.5 1068.4L1244.1 1079.9M1244.1 1079.9l-8.9 -4.9M1247.3 1077.6l-4.9 -2.7M1287.8 1068.4L1271.4 1079.8M1271.4 1079.8l-8.9 -5M1274.6 1077.6l-4.9 -2.7M1315.2 1068.5L1298.7 1079.7M1298.7 1079.7l-8.8 -5.1M1301.9 1077.6l-4.9 -2.8M1342.5 1068.6L1326 1079.7M1326 1079.7l-8.8 -5.1M1329.2 1077.5l-4.8 -2.8M1369.9 1068.6L1353.2 1079.6M1353.2 1079.6l-8.8 -5.2M1356.5 1077.5l-4.8 -2.9M1397.3 1068.7L1380.5 1079.6M1380.5 1079.6l-8.7 -5.2M1383.8 1077.5l-4.8 -2.9M1424.6 1068.7L1407.8 1079.5M1407.8 1079.5l-8.7 -5.3M1411.1 1077.4l-4.8 -2.9M1452 1068.8L1435.1 1079.4M1435.1 1079.4l-8.7 -5.4M1438.4 1077.4l-4.8 -3M932.1 1103.5L916.6 1116.1M916.6 1116.1l-9.2 -4.3M959.5 1103.5L943.9 1116.1M943.9 1116.1l-9.2 -4.3M986.9 1103.6L971.2 1116M971.2 1116l-9.2 -4.4M1014.2 1103.6L998.5 1116M998.5 1116l-9.2 -4.4M1041.6 1103.7L1025.8 1115.9M1025.8 1115.9l-9.1 -4.5M1068.9 1103.7L1053.1 1115.9M1053.1 1115.9l-9.1 -4.5M1096.3 1103.8L1080.4 1115.8M1080.4 1115.8l-9.1 -4.6M1123.6 1103.8L1107.7 1115.8M1107.7 1115.8l-9.1 -4.6M1151 1103.9L1135 1115.8M1135 1115.8l-9 -4.7M1178.4 1103.9L1162.3 1115.7M1162.3 1115.7l-9 -4.7M1205.7 1103.9L1189.5 1115.7M1189.5 1115.7l-9 -4.8M1233.1 1104L1216.8 1115.6M1216.8 1115.6l-9 -4.9M1260.5 1104.1L1244.1 1115.5M1244.1 1115.5l-8.9 -4.9M1247.3 1113.3l-4.9 -2.7M1287.8 1104.1L1271.4 1115.5M1271.4 1115.5l-8.9 -5M1274.6 1113.3l-4.9 -2.7M1315.2 1104.2L1298.7 1115.4M1298.7 1115.4l-8.8 -5.1M1301.9 1113.2l-4.9 -2.8M1342.5 1104.2L1326 1115.4M1326 1115.4l-8.8 -5.1M1329.2 1113.2l-4.8 -2.8M1369.9 1104.3L1353.2 1115.3M1353.2 1115.3l-8.8 -5.2M1356.5 1113.2l-4.8 -2.9M1397.3 1104.4L1380.5 1115.2M1380.5 1115.2l-8.7 -5.2M1383.8 1113.1l-4.8 -2.9M1424.6 1104.4L1407.8 1115.2M1407.8 1115.2l-8.7 -5.3M1411.1 1113.1l-4.8 -2.9M1452 1104.5L1435.1 1115.1M1435.1 1115.1l-8.7 -5.4M1438.4 1113.1l-4.8 -3M932 1128.9L916.7 1141.7M916.7 1141.7l-9.3 -4.1M959.4 1128.9L944 1141.7M944 1141.7l-9.3 -4.2M986.8 1129L971.3 1141.6M971.3 1141.6l-9.3 -4.3M1014.2 1129L998.6 1141.5M998.6 1141.5l-9.2 -4.3M1041.5 1129.1L1025.9 1141.5M1025.9 1141.5l-9.2 -4.4M1068.9 1129.2L1053.1 1141.4M1053.1 1141.4l-9.2 -4.5M1096.3 1129.2L1080.4 1141.4M1080.4 1141.4l-9.1 -4.5M1123.6 1129.3L1107.7 1141.3M1107.7 1141.3l-9.1 -4.6M1151 1129.3L1135 1141.3M1135 1141.3l-9.1 -4.7M1178.4 1129.4L1162.3 1141.2M1162.3 1141.2l-9 -4.7M1205.7 1129.4L1189.5 1141.1M1189.5 1141.1l-9 -4.8M1233.1 1129.5L1216.8 1141.1M1216.8 1141.1l-9 -4.9M1260.5 1129.6L1244.1 1141M1244.1 1141l-8.9 -4.9M1287.8 1129.6L1271.4 1141M1271.4 1141l-8.9 -5M1315.2 1129.7L1298.7 1140.9M1298.7 1140.9l-8.8 -5.1M1342.5 1129.7L1326 1140.9M1326 1140.9l-8.8 -5.1M1329.2 1138.7l-4.8 -2.8M1369.9 1129.8L1353.2 1140.8M1353.2 1140.8l-8.8 -5.2M1356.5 1138.7l-4.8 -2.9M1397.3 1129.8L1380.5 1140.7M1380.5 1140.7l-8.7 -5.2M1383.8 1138.6l-4.8 -2.9M1424.6 1129.9L1407.8 1140.7M1407.8 1140.7l-8.7 -5.3M1411.1 1138.6l-4.8 -2.9M1452 1130L1435.1 1140.6M1435.1 1140.6l-8.7 -5.4M1438.4 1138.6l-4.8 -3M932 1153.1L916.8 1166.2M916.8 1166.2l-9.4 -4M959.3 1153.2L944.1 1166.1M944.1 1166.1l-9.3 -4.1M986.7 1153.3L971.4 1166M971.4 1166l-9.3 -4.2M1014.1 1153.3L998.6 1166M998.6 1166l-9.3 -4.3M1041.5 1153.4L1025.9 1165.9M1025.9 1165.9l-9.2 -4.3M1068.9 1153.5L1053.2 1165.8M1053.2 1165.8l-9.2 -4.4M1096.2 1153.5L1080.4 1165.8M1080.4 1165.8l-9.1 -4.5M1123.6 1153.6L1107.7 1165.7M1107.7 1165.7l-9.1 -4.6M1151 1153.7L1135 1165.6M1135 1165.6l-9.1 -4.7M1178.3 1153.7L1162.3 1165.6M1162.3 1165.6l-9 -4.7M1205.7 1153.8L1189.5 1165.5M1189.5 1165.5l-9 -4.8M1233.1 1153.9L1216.8 1165.4M1216.8 1165.4l-8.9 -4.9M1260.5 1153.9L1244.1 1165.4M1244.1 1165.4l-8.9 -5M1287.8 1154L1271.4 1165.3M1271.4 1165.3l-8.9 -5M1315.2 1154.1L1298.6 1165.2M1298.6 1165.2l-8.8 -5.1M1342.6 1154.2L1325.9 1165.2M1325.9 1165.2l-8.8 -5.2M1370 1154.2L1353.2 1165.1M1353.2 1165.1l-8.7 -5.3M1397.3 1154.3L1380.5 1165M1380.5 1165l-8.7 -5.3M1424.7 1154.4L1407.7 1165M1407.7 1165l-8.6 -5.4M1411 1162.9l-4.8 -3M1452.1 1154.4L1435 1164.9M1435 1164.9l-8.6 -5.5M1438.3 1162.9l-4.7 -3M931.9 1175.6L916.9 1188.8M916.9 1188.8l-9.4 -3.9M959.3 1175.7L944.2 1188.7M944.2 1188.7l-9.4 -4M986.7 1175.7L971.4 1188.6M971.4 1188.6l-9.3 -4.1M1014 1175.8L998.7 1188.6M998.7 1188.6l-9.3 -4.2M1041.4 1175.9L1025.9 1188.5M1025.9 1188.5l-9.3 -4.3M1068.8 1176L1053.2 1188.4M1053.2 1188.4l-9.2 -4.4M1096.2 1176L1080.5 1188.3M1080.5 1188.3l-9.2 -4.5M1123.6 1176.1L1107.7 1188.3M1107.7 1188.3l-9.1 -4.5M1151 1176.2L1135 1188.2M1135 1188.2l-9.1 -4.6M1178.3 1176.3L1162.3 1188.1M1162.3 1188.1l-9 -4.7M1205.7 1176.3L1189.5 1188M1189.5 1188l-9 -4.8M1233.1 1176.4L1216.8 1188M1216.8 1188l-8.9 -4.9M1260.5 1176.5L1244.1 1187.9M1244.1 1187.9l-8.9 -5M1287.9 1176.6L1271.3 1187.8M1271.3 1187.8l-8.8 -5.1M1315.2 1176.7L1298.6 1187.7M1298.6 1187.7l-8.8 -5.2M1342.6 1176.7L1325.9 1187.6M1325.9 1187.6l-8.7 -5.2M1370 1176.8L1353.2 1187.6M1353.2 1187.6l-8.7 -5.3M1397.4 1176.9L1380.4 1187.5M1380.4 1187.5l-8.6 -5.4M1424.7 1177L1407.7 1187.4M1407.7 1187.4l-8.6 -5.5M1452.1 1177.1L1435 1187.3M1435 1187.3l-8.5 -5.6M931.8 1196.3L917 1209.7M917 1209.7l-9.4 -3.8M959.2 1196.4L944.2 1209.6M944.2 1209.6l-9.4 -3.9M986.6 1196.5L971.5 1209.5M971.5 1209.5l-9.4 -4M1014 1196.5L998.7 1209.4M998.7 1209.4l-9.3 -4.1M1041.4 1196.6L1026 1209.3M1026 1209.3l-9.3 -4.2M1068.8 1196.7L1053.2 1209.3M1053.2 1209.3l-9.2 -4.3M1096.2 1196.8L1080.5 1209.2M1080.5 1209.2l-9.2 -4.4M1123.6 1196.9L1107.8 1209.1M1107.8 1209.1l-9.1 -4.5M1150.9 1197L1135 1209M1135 1209l-9.1 -4.6M1178.3 1197.1L1162.3 1208.9M1162.3 1208.9l-9 -4.7M1205.7 1197.1L1189.5 1208.8M1189.5 1208.8l-9 -4.8M1233.1 1197.2L1216.8 1208.8M1216.8 1208.8l-8.9 -4.9M1260.5 1197.3L1244.1 1208.7M1244.1 1208.7l-8.9 -5M1287.9 1197.4L1271.3 1208.6M1271.3 1208.6l-8.8 -5.1M1315.3 1197.5L1298.6 1208.5M1298.6 1208.5l-8.8 -5.2M1342.6 1197.6L1325.9 1208.4M1325.9 1208.4l-8.7 -5.3M1370 1197.7L1353.1 1208.3M1353.1 1208.3l-8.7 -5.4M1397.4 1197.8L1380.4 1208.2M1380.4 1208.2l-8.6 -5.5M1424.8 1197.9L1407.7 1208.1M1407.7 1208.1l-8.5 -5.6M1452.2 1197.9L1434.9 1208M1434.9 1208l-8.5 -5.6M931.8 1216.2L917 1229.6M917 1229.6l-9.4 -3.8M959.2 1216.2L944.3 1229.5M944.3 1229.5l-9.4 -3.9M986.6 1216.3L971.5 1229.4M971.5 1229.4l-9.4 -3.9M1013.9 1216.3L998.8 1229.4M998.8 1229.4l-9.4 -4M1041.3 1216.4L1026.1 1229.3M1026.1 1229.3l-9.3 -4.1M1068.7 1216.4L1053.4 1229.3M1053.4 1229.3l-9.3 -4.1M1096 1216.5L1080.6 1229.2M1080.6 1229.2l-9.3 -4.2M1123.4 1216.6L1107.9 1229.2M1107.9 1229.2l-9.3 -4.3M1150.8 1216.6L1135.2 1229.1M1135.2 1229.1l-9.2 -4.3M1178.1 1216.7L1162.5 1229.1M1162.5 1229.1l-9.2 -4.4M1205.5 1216.7L1189.8 1229M1189.8 1229l-9.2 -4.5M1232.9 1216.8L1217.1 1229M1217.1 1229l-9.1 -4.5M1260.2 1216.8L1244.3 1228.9M1244.3 1228.9l-9.1 -4.6M1287.6 1216.8L1271.6 1228.9M1271.6 1228.9l-9.1 -4.6M1314.9 1216.9L1298.9 1228.8M1298.9 1228.8l-9.1 -4.7M1342.3 1216.9L1326.2 1228.8M1326.2 1228.8l-9 -4.7M1369.6 1217L1353.5 1228.8M1353.5 1228.8l-9 -4.8M1397 1217L1380.8 1228.7M1380.8 1228.7l-9 -4.8M1424.4 1217.1L1408.1 1228.7M1408.1 1228.7l-9 -4.9M1451.7 1217.1L1435.4 1228.6M1435.4 1228.6l-8.9 -4.9M931.8 1234.5L917 1247.9M917 1247.9l-9.4 -3.8M959.2 1234.6L944.3 1247.9M944.3 1247.9l-9.4 -3.8M986.5 1234.6L971.6 1247.9M971.6 1247.9l-9.4 -3.9M1013.9 1234.6L998.9 1247.8M998.9 1247.8l-9.4 -3.9M1041.2 1234.6L1026.2 1247.8M1026.2 1247.8l-9.4 -3.9M1068.5 1234.7L1053.5 1247.8M1053.5 1247.8l-9.4 -4M1095.9 1234.7L1080.8 1247.8M1080.8 1247.8l-9.4 -4M1123.2 1234.7L1108.1 1247.7M1108.1 1247.7l-9.4 -4M1150.6 1234.7L1135.4 1247.7M1135.4 1247.7l-9.3 -4.1M1177.9 1234.8L1162.7 1247.7M1162.7 1247.7l-9.3 -4.1M1205.3 1234.8L1190 1247.7M1190 1247.7l-9.3 -4.1M1232.6 1234.8L1217.3 1247.6M1217.3 1247.6l-9.3 -4.1M1259.9 1234.8L1244.6 1247.6M1244.6 1247.6l-9.3 -4.1M1287.3 1234.8L1271.9 1247.6M1271.9 1247.6l-9.3 -4.2M1314.6 1234.8L1299.3 1247.6M1299.3 1247.6l-9.3 -4.2M1341.9 1234.8L1326.6 1247.6M1326.6 1247.6l-9.3 -4.2M1369.2 1234.8L1353.9 1247.6M1353.9 1247.6l-9.3 -4.2M1396.6 1234.8L1381.2 1247.6M1381.2 1247.6l-9.3 -4.2M1423.9 1234.8L1408.5 1247.6M1408.5 1247.6l-9.3 -4.2M1451.2 1234.9L1435.8 1247.6M1435.8 1247.6l-9.3 -4.2M931.8 1252L917 1265.3M917 1265.3l-9.4 -3.8M959.1 1252L944.3 1265.3M944.3 1265.3l-9.4 -3.8M986.5 1252L971.6 1265.3M971.6 1265.3l-9.4 -3.8M1013.8 1252L998.9 1265.3M998.9 1265.3l-9.4 -3.8M1041.1 1252L1026.3 1265.3M1026.3 1265.3l-9.4 -3.8M1068.4 1252L1053.6 1265.3M1053.6 1265.3l-9.4 -3.8M1095.8 1252L1080.9 1265.3M1080.9 1265.3l-9.4 -3.8M1123.1 1252L1108.2 1265.3M1108.2 1265.3l-9.4 -3.8M1150.4 1252L1135.6 1265.3M1135.6 1265.3l-9.4 -3.8M1177.7 1252L1162.9 1265.3M1162.9 1265.3l-9.4 -3.8M1205 1252L1190.2 1265.3M1190.2 1265.3l-9.5 -3.8M1232.3 1251.9L1217.6 1265.4M1217.6 1265.4l-9.5 -3.8M1259.6 1251.9L1244.9 1265.4M1244.9 1265.4l-9.5 -3.7M1286.9 1251.9L1272.3 1265.4M1272.3 1265.4l-9.5 -3.7M1314.2 1251.9L1299.6 1265.4M1299.6 1265.4l-9.5 -3.7M1341.5 1251.8L1326.9 1265.5M1326.9 1265.5l-9.5 -3.6M1368.8 1251.8L1354.3 1265.5M1354.3 1265.5l-9.5 -3.6M1396.1 1251.8L1381.6 1265.5M1381.6 1265.5l-9.5 -3.6M1423.4 1251.8L1409 1265.5M1409 1265.5l-9.6 -3.5M1450.7 1251.7L1436.3 1265.6M1436.3 1265.6l-9.6 -3.5M932.3 1268.4L916.5 1280.5M916.5 1280.5l-9.1 -4.6M959.6 1268.3L943.9 1280.6M943.9 1280.6l-9.2 -4.5M986.8 1268.2L971.2 1280.7M971.2 1280.7l-9.2 -4.4M1014.1 1268.1L998.6 1280.8M998.6 1280.8l-9.3 -4.3M1041.3 1268L1026 1280.9M1026 1280.9l-9.3 -4.2M1068.6 1268L1053.4 1281M1053.4 1281l-9.3 -4.1M1095.9 1267.9L1080.8 1281M1080.8 1281l-9.4 -4M1123.1 1267.8L1108.2 1281.1M1108.2 1281.1l-9.4 -3.9M1150.4 1267.7L1135.6 1281.2M1135.6 1281.2l-9.5 -3.7M1177.6 1267.6L1163 1281.3M1163 1281.3l-9.5 -3.6M1204.9 1267.6L1190.4 1281.3M1190.4 1281.3l-9.6 -3.6M1232.2 1267.5L1217.7 1281.4M1217.7 1281.4l-9.6 -3.5M1259.5 1267.5L1245.1 1281.4M1245.1 1281.4l-9.6 -3.5M1286.8 1267.5L1272.4 1281.4M1272.4 1281.4l-9.6 -3.5M1314.1 1267.5L1299.8 1281.4M1299.8 1281.4l-9.6 -3.4M1341.4 1267.4L1327.1 1281.5M1327.1 1281.5l-9.6 -3.4M1368.7 1267.4L1354.5 1281.5M1354.5 1281.5l-9.6 -3.3M1396 1267.4L1381.8 1281.5M1381.8 1281.5l-9.6 -3.3M1423.3 1267.4L1409.2 1281.5M1409.2 1281.5l-9.6 -3.3M1450.6 1267.3L1436.5 1281.6M1436.5 1281.6l-9.7 -3.2M932.7 1282L916.1 1293M916.1 1293l-8.8 -5.2M960 1281.9L943.5 1293.1M943.5 1293.1l-8.9 -5M987.2 1281.7L970.9 1293.3M970.9 1293.3l-8.9 -4.9M1014.4 1281.6L998.3 1293.4M998.3 1293.4l-9 -4.7M1041.6 1281.5L1025.7 1293.5M1025.7 1293.5l-9.1 -4.6M1068.9 1281.3L1053.2 1293.7M1053.2 1293.7l-9.2 -4.4M1096.1 1281.2L1080.6 1293.8M1080.6 1293.8l-9.2 -4.3M1123.3 1281.1L1108 1293.9M1108 1293.9l-9.3 -4.1M1150.5 1281L1135.4 1294.1M1135.4 1294.1l-9.4 -4M1177.7 1280.8L1162.9 1294.2M1162.9 1294.2l-9.4 -3.8M1205 1280.7L1190.3 1294.3M1190.3 1294.3l-9.5 -3.7M1232.3 1280.7L1217.7 1294.3M1217.7 1294.3l-9.5 -3.6M1259.5 1280.7L1245 1294.4M1245 1294.4l-9.5 -3.6M1286.8 1280.6L1272.4 1294.4M1272.4 1294.4l-9.6 -3.6M1314.1 1280.6L1299.7 1294.4M1299.7 1294.4l-9.6 -3.5M1341.4 1280.6L1327.1 1294.5M1327.1 1294.5l-9.6 -3.5M1368.7 1280.5L1354.4 1294.5M1354.4 1294.5l-9.6 -3.4M1396 1280.5L1381.8 1294.5M1381.8 1294.5l-9.6 -3.4M1423.3 1280.5L1409.2 1294.6M1409.2 1294.6l-9.6 -3.3M1450.6 1280.4L1436.5 1294.6M1436.5 1294.6l-9.6 -3.3M933 1292.4L915.8 1302.4M919.1 1300.5l-4.7 -3.1M960.2 1292.2L943.2 1302.6M946.5 1300.6l-4.7 -3M987.5 1292L970.6 1302.8M973.9 1300.7l-4.8 -2.9M1014.7 1291.9L998 1302.9M998 1302.9l-8.8 -5.2M1041.9 1291.7L1025.5 1303.1M1025.5 1303.1l-8.9 -5M1069.1 1291.5L1052.9 1303.2M1052.9 1303.2l-9 -4.8M1096.3 1291.4L1080.4 1303.4M1080.4 1303.4l-9.1 -4.6M1123.5 1291.2L1107.8 1303.6M1107.8 1303.6l-9.2 -4.5M1150.7 1291.1L1135.2 1303.7M1135.2 1303.7l-9.3 -4.3M1177.9 1290.9L1162.7 1303.9M1162.7 1303.9l-9.3 -4.1M1205.1 1290.8L1190.1 1304M1190.1 1304l-9.4 -3.9M1232.4 1290.8L1217.5 1304M1217.5 1304l-9.4 -3.9M1259.7 1290.7L1244.8 1304.1M1244.8 1304.1l-9.4 -3.8M1287 1290.7L1272.2 1304.1M1272.2 1304.1l-9.5 -3.8M1314.3 1290.6L1299.6 1304.2M1299.6 1304.2l-9.5 -3.7M1341.6 1290.6L1326.9 1304.2M1326.9 1304.2l-9.5 -3.7M1368.8 1290.5L1354.3 1304.3M1354.3 1304.3l-9.5 -3.6M1396.1 1290.5L1381.7 1304.3M1381.7 1304.3l-9.6 -3.5M1423.4 1290.5L1409 1304.3M1409 1304.3l-9.6 -3.5M1450.7 1290.4L1436.4 1304.4M1436.4 1304.4l-9.6 -3.4M933.2 1301.8L915.6 1311.1M919 1309.3l-4.5 -3.3M960.5 1301.6L943 1311.3M946.4 1309.4l-4.6 -3.2M987.7 1301.4L970.4 1311.5M973.8 1309.5l-4.7 -3.1M1014.9 1301.3L997.8 1311.7M1001.1 1309.7l-4.7 -3M1042.1 1301.1L1025.3 1311.9M1028.5 1309.8l-4.8 -2.9M1069.3 1300.9L1052.7 1312M1055.9 1309.9l-4.8 -2.8M1096.5 1300.7L1080.2 1312.2M1080.2 1312.2l-8.9 -4.9M1123.7 1300.6L1107.6 1312.4M1107.6 1312.4l-9 -4.7M1150.9 1300.4L1135.1 1312.5M1135.1 1312.5l-9.1 -4.6M1178.1 1300.2L1162.5 1312.7M1162.5 1312.7l-9.2 -4.4M1205.3 1300.1L1189.9 1312.8M1189.9 1312.8l-9.3 -4.2M1232.6 1300L1217.3 1312.9M1217.3 1312.9l-9.3 -4.1M1259.9 1300L1244.7 1313M1244.7 1313l-9.3 -4.1M1287.1 1299.9L1272.1 1313M1272.1 1313l-9.4 -4M1314.4 1299.9L1299.4 1313.1M1299.4 1313.1l-9.4 -3.9M1341.7 1299.8L1326.8 1313.1M1326.8 1313.1l-9.4 -3.8M1369 1299.8L1354.2 1313.2M1354.2 1313.2l-9.5 -3.8M1396.2 1299.7L1381.6 1313.2M1381.6 1313.2l-9.5 -3.7M1423.5 1299.6L1408.9 1313.3M1408.9 1313.3l-9.5 -3.6M1450.8 1299.6L1436.3 1313.4M1436.3 1313.4l-9.6 -3.6M933.3 1311.1L915.5 1320M918.9 1318.3l-4.5 -3.4M960.6 1310.9L942.9 1320.2M946.3 1318.4l-4.5 -3.3M987.8 1310.7L970.3 1320.4M973.7 1318.5l-4.6 -3.2M1015 1310.6L997.7 1320.5M1001.1 1318.6l-4.6 -3.1M1042.3 1310.4L1025.1 1320.7M1028.4 1318.7l-4.7 -3.1M1069.5 1310.2L1052.5 1320.8M1055.8 1318.8l-4.8 -3M1096.7 1310.1L1080 1321M1083.2 1318.9l-4.8 -2.9M1123.9 1309.9L1107.4 1321.2M1110.6 1319l-4.9 -2.8M1151.1 1309.8L1134.8 1321.3M1138 1319.1l-4.9 -2.7M1178.3 1309.6L1162.3 1321.5M1165.4 1319.2l-5 -2.6M1205.6 1309.5L1189.7 1321.6M1189.7 1321.6l-9.1 -4.6M1232.8 1309.4L1217.1 1321.7M1217.1 1321.7l-9.2 -4.5M1260.1 1309.3L1244.5 1321.8M1244.5 1321.8l-9.2 -4.4M1287.4 1309.3L1271.8 1321.8M1271.8 1321.8l-9.2 -4.3M1314.6 1309.2L1299.2 1321.9M1299.2 1321.9l-9.3 -4.2M1341.9 1309.1L1326.6 1322M1326.6 1322l-9.3 -4.1M1369.1 1309L1354 1322.1M1354 1322.1l-9.4 -4M1396.4 1309L1381.4 1322.1M1381.4 1322.1l-9.4 -3.9M1423.7 1308.9L1408.8 1322.2M1408.8 1322.2l-9.4 -3.9M1450.9 1308.8L1436.2 1322.3M1436.2 1322.3l-9.5 -3.8M933.4 1319.6L915.4 1328.2M918.9 1326.5l-4.4 -3.5M960.7 1319.4L942.8 1328.4M946.2 1326.6l-4.4 -3.4M987.9 1319.3L970.2 1328.5M973.6 1326.7l-4.5 -3.3M1015.1 1319.1L997.6 1328.7M1001 1326.8l-4.6 -3.3M1042.4 1319L1025 1328.8M1028.4 1326.9l-4.6 -3.2M1069.6 1318.8L1052.4 1329M1055.7 1327l-4.7 -3.1M1096.9 1318.7L1079.8 1329.1M1083.1 1327.1l-4.7 -3M1124.1 1318.6L1107.2 1329.3M1110.5 1327.2l-4.8 -2.9M1151.3 1318.4L1134.6 1329.4M1137.9 1327.3l-4.8 -2.9M1178.6 1318.3L1162.1 1329.5M1165.3 1327.4l-4.9 -2.8M1205.8 1318.1L1189.5 1329.7M1192.6 1327.4l-4.9 -2.7M1233 1318L1216.9 1329.8M1220 1327.5l-4.9 -2.6M1287.6 1317.9L1271.7 1330M1274.7 1327.6l-5 -2.5M1314.8 1317.8L1299 1330M1299 1330l-9.2 -4.5M1342.1 1317.7L1326.4 1330.1M1326.4 1330.1l-9.2 -4.4M1369.3 1317.6L1353.8 1330.2M1353.8 1330.2l-9.3 -4.3M1396.6 1317.5L1381.2 1330.3M1381.2 1330.3l-9.3 -4.2M1423.8 1317.4L1408.6 1330.4M1408.6 1330.4l-9.4 -4.1M1451.1 1317.3L1436 1330.5M1436 1330.5l-9.4 -3.9M960.7 1332.7L942.8 1341.6M946.2 1339.9l-4.4 -3.4M987.9 1332.6L970.2 1341.8M973.6 1340l-4.5 -3.3M1015.1 1332.4L997.6 1341.9M1001 1340.1l-4.6 -3.2M1042.3 1332.2L1025 1342.1M1028.4 1340.2l-4.6 -3.1M1096.8 1331.8L1079.9 1342.5M1083.2 1340.4l-4.8 -2.9M1124 1331.6L1107.3 1342.7M1396.6 1330.7L1381.2 1343.6M1423.8 1330.7L1408.6 1343.6M1451.1 1330.6L1436 1343.7M1438.9 1341.2l-5.2 -2.2" stroke="#262626" stroke-width="0.85" fill="none"/>
<rect x="924.7" y="953" width="532" height="433.3" fill="none" stroke="#000" stroke-width="1"/>
<text x="1190.7" y="942.3" font-size="34.1" text-anchor="middle" fill="#000">Curtain 4 (C4)</text>
<path d="M911.5 953L924.7 953" stroke="#222" stroke-width="1" fill="none"/>
<text x="896.7" y="960.8" font-size="22.4" text-anchor="end" fill="#000">200</text>
<path d="M911.5 1062.7L924.7 1062.7" stroke="#222" stroke-width="1" fill="none"/>
<text x="896.7" y="1070.6" font-size="22.4" text-anchor="end" fill="#000">300</text>
<path d="M911.5 1200.9L924.7 1200.9" stroke="#222" stroke-width="1" fill="none"/>
<text x="896.7" y="1208.8" font-size="22.4" text-anchor="end" fill="#000">500</text>
<path d="M911.5 1292L924.7 1292" stroke="#222" stroke-width="1" fill="none"/>
<text x="896.7" y="1299.8" font-size="22.4" text-anchor="end" fill="#000">700</text>
<path d="M911.5 1344.5L924.7 1344.5" stroke="#222" stroke-width="1" fill="none"/>
<text x="896.7" y="1352.4" font-size="22.4" text-anchor="end" fill="#000">850</text>
<path d="M911.5 1367.4L924.7 1367.4" stroke="#222" stroke-width="1" fill="none"/>
<text x="896.7" y="1375.3" font-size="22.4" text-anchor="end" fill="#000">925</text>
<path d="M1456.7 981.9L1469.4 981.9" stroke="#222" stroke-width="1" fill="none"/>
<text x="1482.5" y="989.5" font-size="21.6" text-anchor="start" fill="#000">35</text>
<path d="M1456.7 1040.7L1469.4 1040.7" stroke="#222" stroke-width="1" fill="none"/>
<text x="1482.5" y="1048.3" font-size="21.6" text-anchor="start" fill="#000">30</text>
<path d="M1456.7 1099.3L1469.4 1099.3" stroke="#222" stroke-width="1" fill="none"/>
<text x="1482.5" y="1107" font-size="21.6" text-anchor="start" fill="#000">25</text>
<path d="M1456.7 1158.1L1469.4 1158.1" stroke="#222" stroke-width="1" fill="none"/>
<text x="1482.5" y="1165.7" font-size="21.6" text-anchor="start" fill="#000">20</text>
<path d="M1456.7 1216.9L1469.4 1216.9" stroke="#222" stroke-width="1" fill="none"/>
<text x="1482.5" y="1224.6" font-size="21.6" text-anchor="start" fill="#000">15</text>
<path d="M1456.7 1275.4L1469.4 1275.4" stroke="#222" stroke-width="1" fill="none"/>
<text x="1482.5" y="1283" font-size="21.6" text-anchor="start" fill="#000">10</text>
<path d="M1456.7 1334.3L1469.4 1334.3" stroke="#222" stroke-width="1" fill="none"/>
<text x="1482.5" y="1341.9" font-size="21.6" text-anchor="start" fill="#000">5</text>
<path d="M1456.7 1381.1L1469.4 1381.1" stroke="#222" stroke-width="1" fill="none"/>
<text x="1482.5" y="1388.7" font-size="21.6" text-anchor="start" fill="#000">1</text>
<path d="M924.7 1386.3L924.7 1399.5" stroke="#222" stroke-width="1" fill="none"/>
<text x="924.1" y="1431.4" font-size="22.4" text-anchor="middle" fill="#000">113.0W</text>
<text x="920.9" y="1456.3" font-size="22.4" text-anchor="middle" fill="#000">40.1N</text>
<path d="M1061.1 1386.3L1061.1 1399.5" stroke="#222" stroke-width="1" fill="none"/>
<text x="1060.5" y="1431.4" font-size="22.4" text-anchor="middle" fill="#000">113.0W</text>
<text x="1057.3" y="1456.3" font-size="22.4" text-anchor="middle" fill="#000">41.7N</text>
<path d="M1197.5 1386.3L1197.5 1399.5" stroke="#222" stroke-width="1" fill="none"/>
<text x="1196.9" y="1431.4" font-size="22.4" text-anchor="middle" fill="#000">113.0W</text>
<text x="1193.7" y="1456.3" font-size="22.4" text-anchor="middle" fill="#000">43.3N</text>
<path d="M1333.9 1386.3L1333.9 1399.5" stroke="#222" stroke-width="1" fill="none"/>
<text x="1333.3" y="1431.4" font-size="22.4" text-anchor="middle" fill="#000">113.0W</text>
<text x="1330.1" y="1456.3" font-size="22.4" text-anchor="middle" fill="#000">44.9N</text>
<rect x="1373.9" y="1395.9" width="82.8" height="66.3" fill="#fff" stroke="#808080" stroke-width="1"/>
<text x="1415.3" y="1419.7" font-size="24.5" text-anchor="middle" fill="#000">30 m/s</text>
<path d="M1427.3 1442.5h-19.8M1407.6 1442.5l-4.9 -9M1411.3 1442.5l-4.9 -9M1415.1 1442.5l-4.9 -9" stroke="#333" stroke-width="0.7" fill="none"/>
<clipPath id="cp5"><rect x="256.5" y="1678" width="522" height="425"/></clipPath>
<g clip-path="url(#cp5)">
<rect x="256.5" y="1678" width="522" height="425" fill="#0AA3FF"/>
<g transform="translate(256.5 1678) scale(0.32443)">
<path d="M1160 -40C1160 -33.3 1155.8 -20 1160 0C1164.2 20 1183.3 58.3 1185 80C1186.7 101.7 1180.8 115.8 1170 130C1159.2 144.2 1140 156.7 1120 165C1100 173.3 1078.3 177.8 1050 180C1021.7 182.2 983.3 181.3 950 178C916.7 174.7 883.3 167.2 850 160C816.7 152.8 783.3 142 750 135C716.7 128 681.7 121.3 650 118C618.3 114.7 588.3 112.2 560 115C531.7 117.8 503.3 125.8 480 135C456.7 144.2 435.8 155.8 420 170C404.2 184.2 393.3 200 385 220C376.7 240 372.5 266.7 370 290C367.5 313.3 365 341.7 370 360C375 378.3 385 388.3 400 400C415 411.7 435 418.7 460 430C485 441.3 543.3 456.3 550 468C556.7 479.7 516.7 487.2 500 500C483.3 512.8 466.7 533.3 450 545C433.3 556.7 421.7 559.2 400 570C378.3 580.8 345 596.7 320 610C295 623.3 270 636.7 250 650C230 663.3 213.3 675 200 690C186.7 705 181.7 725 170 740C158.3 755 148.3 767.5 130 780C111.7 792.5 81.7 805.3 60 815C38.3 824.7 23.3 832.2 0 838C-23.3 843.8 -66.7 848 -80 850L-80 -40Z" fill="#3A8EC0"/>
<path d="M940 -40C939.2 -33.3 938.3 -13.3 935 0C931.7 13.3 925 27 920 40C915 53 916.7 73.8 905 78C893.3 82.2 875.8 71 850 65C824.2 59 783.3 47.8 750 42C716.7 36.2 681.7 32 650 30C618.3 28 583.3 27.5 560 30C536.7 32.5 526.7 37.5 510 45C493.3 52.5 475 64.2 460 75C445 85.8 433.3 99.2 420 110C406.7 120.8 390.8 128.3 380 140C369.2 151.7 361.7 165 355 180C348.3 195 347.5 213.3 340 230C332.5 246.7 321.7 265 310 280C298.3 295 281.7 305 270 320C258.3 335 241.7 355 240 370C238.3 385 250 396.7 260 410C270 423.3 286.7 439.2 300 450C313.3 460.8 340 466.7 340 475C340 483.3 315 490.8 300 500C285 509.2 270 520 250 530C230 540 203.3 550 180 560C156.7 570 130 578.3 110 590C90 601.7 73.3 613.3 60 630C46.7 646.7 40 671.7 30 690C20 708.3 11.7 721.7 0 740C-11.7 758.3 -33.3 790 -40 800L-80 -40Z" fill="#6BA3CD"/>
<path d="M500 225C505 211.7 526.7 205 550 200C573.3 195 611.7 194.2 640 195C668.3 195.8 696.7 198.3 720 205C743.3 211.7 771.7 222.5 780 235C788.3 247.5 780 266.7 770 280C760 293.3 741.7 307.5 720 315C698.3 322.5 666.7 325 640 325C613.3 325 580 322.5 560 315C540 307.5 530 295 520 280C510 265 495 238.3 500 225Z" fill="#39B8FF"/>
<path d="M1335 -40C1334.2 -33.3 1332.5 -18.3 1330 0C1327.5 18.3 1322.5 45 1320 70C1317.5 95 1318.3 120 1315 150C1311.7 180 1305 221.7 1300 250C1295 278.3 1293.3 303.3 1285 320C1276.7 336.7 1265.8 342 1250 350C1234.2 358 1193.3 363.3 1190 368C1186.7 372.7 1215 373.5 1230 378C1245 382.5 1260 389.7 1280 395C1300 400.3 1321.7 404.2 1350 410C1378.3 415.8 1418.3 423.3 1450 430C1481.7 436.7 1518.3 441.7 1540 450C1561.7 458.3 1568.5 468.3 1580 480C1591.5 491.7 1597.3 503.3 1609 520C1620.7 536.7 1643.2 570 1650 580L1700 -40Z" fill="#39B8FF"/>
<path d="M1490 -40C1488.3 -33.3 1487.5 -18.3 1480 0C1472.5 18.3 1453.3 46.7 1445 70C1436.7 93.3 1430.8 118.3 1430 140C1429.2 161.7 1433.3 181.7 1440 200C1446.7 218.3 1456.7 236.7 1470 250C1483.3 263.3 1503.3 275 1520 280C1536.7 285 1555.2 282.5 1570 280C1584.8 277.5 1587.3 271.7 1609 265C1630.7 258.3 1684.8 244.2 1700 240L1700 -40Z" fill="#47D1FF"/>
<path d="M-80 905C-66.7 903.8 -25.8 900.5 0 898C25.8 895.5 50 894.3 75 890C100 885.7 125 878.7 150 872C175 865.3 203.3 858.7 225 850C246.7 841.3 265.8 830 280 820C294.2 810 298.3 801.7 310 790C321.7 778.3 335 762.5 350 750C365 737.5 378.3 726.7 400 715C421.7 703.3 453.3 690.8 480 680C506.7 669.2 533.3 659.7 560 650C586.7 640.3 613.3 629.5 640 622C666.7 614.5 693.3 607.8 720 605C746.7 602.2 776.7 602.5 800 605C823.3 607.5 843.3 612.5 860 620C876.7 627.5 886.7 640.8 900 650C913.3 659.2 926.7 668.3 940 675C953.3 681.7 983.3 685.8 980 690C976.7 694.2 941.7 696.3 920 700C898.3 703.7 870 707 850 712C830 717 812.5 722.8 800 730C787.5 737.2 776.7 743.3 775 755C773.3 766.7 782.8 786.5 790 800C797.2 813.5 808.3 824.3 818 836C827.7 847.7 836.3 859 848 870C859.7 881 874.7 892 888 902C901.3 912 915.5 921.8 928 930C940.5 938.2 952.2 945.8 963 951C973.8 956.2 983.8 961.8 993 961C1002.2 960.2 1010.5 955.2 1018 946C1025.5 936.8 1031 920.3 1038 906C1045 891.7 1049.7 876 1060 860C1070.3 844 1083.3 826.7 1100 810C1116.7 793.3 1138.3 775 1160 760C1181.7 745 1206.7 730.8 1230 720C1253.3 709.2 1271.7 701.7 1300 695C1328.3 688.3 1366.7 682.5 1400 680C1433.3 677.5 1473.3 676.7 1500 680C1526.7 683.3 1541.8 692.5 1560 700C1578.2 707.5 1585.7 715 1609 725C1632.3 735 1684.8 754.2 1700 760L1700 1500L-80 1500Z" fill="#39B8FF"/>
<path d="M-80 948C-66.7 947.7 -30 947.2 0 946C30 944.8 66.7 942.7 100 941C133.3 939.3 166.7 937 200 936C233.3 935 270.8 936.3 300 935C329.2 933.7 350 932 375 928C400 924 425 916.3 450 911C475 905.7 500 899.3 525 896C550 892.7 570.8 891 600 891C629.2 891 666.2 887.8 700 896C733.8 904.2 777.5 927.5 803 940C828.5 952.5 836.3 960 853 971C869.7 982 886.3 996.8 903 1006C919.7 1015.2 936.3 1021 953 1026C969.7 1031 986.3 1036 1003 1036C1019.7 1036 1036.3 1032.7 1053 1026C1069.7 1019.3 1086.3 1007.7 1103 996C1119.7 984.3 1136.3 971 1153 956C1169.7 941 1186.3 922.7 1203 906C1219.7 889.3 1236.3 869.3 1253 856C1269.7 842.7 1286.3 834.3 1303 826C1319.7 817.7 1333.5 812 1353 806C1372.5 800 1395.5 791 1420 790C1444.5 789 1476.7 793.3 1500 800C1523.3 806.7 1541.8 818.3 1560 830C1578.2 841.7 1592.3 858.3 1609 870C1625.7 881.7 1651.5 895 1660 900L1660 1500L-80 1500Z" fill="#47D1FF"/>
<path d="M-80 980C-66.7 979.7 -34.2 978.7 0 978C34.2 977.3 83.3 975.5 125 976C166.7 976.5 212.5 977.7 250 981C287.5 984.3 316.7 990.2 350 996C383.3 1001.8 416.7 1011 450 1016C483.3 1021 516.7 1024.3 550 1026C583.3 1027.7 616.7 1028.7 650 1026C683.3 1023.3 724.5 1014.2 750 1010C775.5 1005.8 785.8 1000 803 1001C820.2 1002 836.3 1008.5 853 1016C869.7 1023.5 886.3 1037.7 903 1046C919.7 1054.3 936.3 1061.8 953 1066C969.7 1070.2 986.3 1071 1003 1071C1019.7 1071 1036.3 1071 1053 1066C1069.7 1061 1086.3 1051 1103 1041C1119.7 1031 1136.3 1018.5 1153 1006C1169.7 993.5 1186.3 979.3 1203 966C1219.7 952.7 1236.3 938.5 1253 926C1269.7 913.5 1286.3 901 1303 891C1319.7 881 1336.3 873.5 1353 866C1369.7 858.5 1386.3 851 1403 846C1419.7 841 1436.3 837.7 1453 836C1469.7 834.3 1486.3 832.7 1503 836C1519.7 839.3 1535.3 844.3 1553 856C1570.7 867.7 1591.2 890.3 1609 906C1626.8 921.7 1651.5 942.7 1660 950L1660 1500L-80 1500Z" fill="#42E6FF"/>
<path d="M-80 1005C-66.7 1004.7 -34.2 1003.7 0 1003C34.2 1002.3 87.5 1000.5 125 1001C162.5 1001.5 191.7 1001.8 225 1006C258.3 1010.2 291.7 1018.5 325 1026C358.3 1033.5 391.7 1044.3 425 1051C458.3 1057.7 491.7 1062.7 525 1066C558.3 1069.3 591.7 1072.7 625 1071C658.3 1069.3 695.3 1061 725 1056C754.7 1051 781.7 1041.8 803 1041C824.3 1040.2 836.3 1045.2 853 1051C869.7 1056.8 886.3 1069 903 1076C919.7 1083 936.3 1088.8 953 1093C969.7 1097.2 986.3 1100.5 1003 1101C1019.7 1101.5 1036.3 1100.2 1053 1096C1069.7 1091.8 1086.3 1083.5 1103 1076C1119.7 1068.5 1136.3 1060.2 1153 1051C1169.7 1041.8 1186.3 1030.2 1203 1021C1219.7 1011.8 1236.3 1003.5 1253 996C1269.7 988.5 1286.3 981 1303 976C1319.7 971 1332.2 968.5 1353 966C1373.8 963.5 1403 961 1428 961C1453 961 1472.8 964.3 1503 966C1533.2 967.7 1576.2 969.5 1609 971C1641.8 972.5 1684.8 974.3 1700 975L1700 1500L-80 1500Z" fill="#42FCFF"/>
<path d="M-80 1022C-66.7 1021.8 -30 1021.2 0 1021C30 1020.8 66.7 1020.2 100 1021C133.3 1021.8 170.8 1021.8 200 1026C229.2 1030.2 250 1038.5 275 1046C300 1053.5 325 1063.5 350 1071C375 1078.5 400 1085.2 425 1091C450 1096.8 475 1101.8 500 1106C525 1110.2 541.7 1116 575 1116C608.3 1116 675.8 1092 700 1106C724.2 1120 716.7 1184.3 720 1200L720 1500L-80 1500Z" fill="#43FFE0"/>
<path d="M850 1120C853 1116.3 855 1100.3 868 1098C881 1095.7 909.7 1102.7 928 1106C946.3 1109.3 961.3 1114.7 978 1118C994.7 1121.3 1011.3 1125.5 1028 1126C1044.7 1126.5 1061.3 1124.3 1078 1121C1094.7 1117.7 1111.3 1111.8 1128 1106C1144.7 1100.2 1161.3 1093.5 1178 1086C1194.7 1078.5 1211.3 1068.5 1228 1061C1244.7 1053.5 1261.3 1046.8 1278 1041C1294.7 1035.2 1311.3 1030.2 1328 1026C1344.7 1021.8 1357.2 1019.3 1378 1016C1398.8 1012.7 1428 1007.7 1453 1006C1478 1004.3 1502 1006.8 1528 1006C1554 1005.2 1580.3 1002.3 1609 1001C1637.7 999.7 1684.8 998.5 1700 998L1700 1500L850 1500Z" fill="#43FFE0"/>
<path d="M-80 1040C-66.7 1039.7 -25.8 1038.7 0 1038C25.8 1037.3 50 1035.5 75 1036C100 1036.5 127.5 1036 150 1041C172.5 1046 191.7 1057.7 210 1066C228.3 1074.3 243.3 1083.5 260 1091C276.7 1098.5 293.3 1105.2 310 1111C326.7 1116.8 340.8 1122.7 360 1126C379.2 1129.3 402.5 1128.5 425 1131C447.5 1133.5 469.2 1137.8 495 1141C520.8 1144.2 562.5 1140.2 580 1150C597.5 1159.8 596.7 1191.7 600 1200L600 1500L-80 1500Z" fill="#43FFB3"/>
<path d="M-40 1062C-33.3 1054.3 -16.7 1062.3 0 1062C16.7 1061.7 42.5 1058.7 60 1060C77.5 1061.3 95.8 1066.2 105 1070C114.2 1073.8 115.8 1078.3 115 1083C114.2 1087.7 109.2 1094.2 100 1098C90.8 1101.8 76.7 1104.3 60 1106C43.3 1107.7 16.7 1107.7 0 1108C-16.7 1108.3 -33.3 1115.7 -40 1108C-46.7 1100.3 -46.7 1069.7 -40 1062Z" fill="#45FF52"/>
<path d="M-40 1151C-33.3 1145.2 -19.2 1151.8 0 1151C19.2 1150.2 50 1148.5 75 1146C100 1143.5 129.2 1139.3 150 1136C170.8 1132.7 200 1122.7 200 1126C200 1129.3 170.8 1147.7 150 1156C129.2 1164.3 100 1171 75 1176C50 1181 19.2 1184.3 0 1186C-19.2 1187.7 -33.3 1191.8 -40 1186C-46.7 1180.2 -46.7 1156.8 -40 1151Z" fill="#43FFE0"/>
<path d="M-80 1201C-66.7 1201 -30 1201 0 1201C30 1201 66.7 1204.3 100 1201C133.3 1197.7 166.7 1189.3 200 1181C233.3 1172.7 270.8 1158.5 300 1151C329.2 1143.5 350 1138.5 375 1136C400 1133.5 430 1134.8 450 1136C470 1137.2 483.3 1132.3 495 1143C506.7 1153.7 515.8 1190.5 520 1200L520 1500L-80 1500Z" fill="#45FF52"/>
<path d="M-80 1213C-66.7 1213 -30 1213 0 1213C30 1213 66.7 1215.8 100 1213C133.3 1210.2 166.7 1203.8 200 1196C233.3 1188.2 270.8 1173.5 300 1166C329.2 1158.5 349.7 1152.7 375 1151C400.3 1149.3 436.2 1147.8 452 1156C467.8 1164.2 467 1192.7 470 1200L470 1500L-80 1500Z" fill="#8FFF3D"/>
<path d="M-80 1226C-66.7 1226 -30 1226 0 1226C30 1226 66.7 1229 100 1226C133.3 1223 170.8 1214.7 200 1208C229.2 1201.3 250 1192.7 275 1186C300 1179.3 327.3 1170.2 350 1168C372.7 1165.8 399.3 1167.7 411 1173C422.7 1178.3 418.5 1195.5 420 1200L420 1500L-80 1500Z" fill="#E0FF3D"/>
<path d="M-80 1238C-66.7 1238 -30 1238.2 0 1238C30 1237.8 66.7 1240.3 100 1237C133.3 1233.7 168.5 1224 200 1218C231.5 1212 272.3 1199 289 1201C305.7 1203 298.2 1225.2 300 1230L300 1500L-80 1500Z" fill="#FFE03D"/>
<path d="M-80 1248C-66.7 1248 -40.8 1248.3 0 1248C40.8 1247.7 136.7 1242.3 165 1246C193.3 1249.7 169.2 1266 170 1270L170 1500L-80 1500Z" fill="#FFB83D"/>
<path d="M850 1125C853 1121.2 851.7 1102.8 868 1102C884.3 1101.2 925.5 1115.3 948 1120C970.5 1124.7 981.3 1128.8 1003 1130C1024.7 1131.2 1057.2 1129.7 1078 1127C1098.8 1124.3 1111.3 1119.5 1128 1114C1144.7 1108.5 1161.3 1101.3 1178 1094C1194.7 1086.7 1211.3 1077.3 1228 1070C1244.7 1062.7 1261.3 1055.3 1278 1050C1294.7 1044.7 1311.3 1040.8 1328 1038C1344.7 1035.2 1357.2 1034.3 1378 1033C1398.8 1031.7 1428 1030 1453 1030C1478 1030 1502 1033.7 1528 1033C1554 1032.3 1580.3 1027.2 1609 1026C1637.7 1024.8 1684.8 1026 1700 1026L1700 1500L850 1500Z" fill="#43FFB3"/>
<path d="M850 1130C853 1126 851.7 1106.7 868 1106C884.3 1105.3 925.5 1121 948 1126C970.5 1131 981.3 1134.8 1003 1136C1024.7 1137.2 1057.2 1135.5 1078 1133C1098.8 1130.5 1111.3 1126.3 1128 1121C1144.7 1115.7 1161.3 1108.2 1178 1101C1194.7 1093.8 1211.3 1084.8 1228 1078C1244.7 1071.2 1261.3 1064.7 1278 1060C1294.7 1055.3 1311.3 1052.5 1328 1050C1344.7 1047.5 1357.2 1044.7 1378 1045C1398.8 1045.3 1428 1050.2 1453 1052C1478 1053.8 1502 1057.8 1528 1056C1554 1054.2 1580.3 1043.5 1609 1041C1637.7 1038.5 1684.8 1041 1700 1041L1700 1500L850 1500Z" fill="#45FF52"/>
<path d="M940 1150C943.3 1148 943.3 1139.5 960 1138C976.7 1136.5 1015 1141.8 1040 1141C1065 1140.2 1088.3 1137.8 1110 1133C1131.7 1128.2 1150.3 1119.2 1170 1112C1189.7 1104.8 1205.8 1096.7 1228 1090C1250.2 1083.3 1274.3 1075.7 1303 1072C1331.7 1068.3 1380.5 1046.7 1400 1068C1419.5 1089.3 1416.7 1178 1420 1200L1420 1500L940 1500Z" fill="#8FFF3D"/>
<path d="M970 1160C973.3 1157.7 972 1148.8 990 1146C1008 1143.2 1050.8 1146.3 1078 1143C1105.2 1139.7 1128 1133 1153 1126C1178 1119 1203 1107.7 1228 1101C1253 1094.3 1274.3 1088.5 1303 1086C1331.7 1083.5 1382.2 1067 1400 1086C1417.8 1105 1408.3 1181 1410 1200L1410 1500L970 1500Z" fill="#B8FF3D"/>
<path d="M1100 1160C1103.3 1157.2 1106.7 1148.3 1120 1143C1133.3 1137.7 1160 1133.2 1180 1128C1200 1122.8 1221.7 1115.3 1240 1112C1258.3 1108.7 1280 1093.3 1290 1108C1300 1122.7 1298.3 1184.7 1300 1200L1300 1500L1100 1500Z" fill="#FFFA3D"/>
<path d="M1203 1136C1215 1133.2 1263 1124.8 1275 1126C1287 1127.2 1287 1140.2 1275 1143C1263 1145.8 1215 1144.2 1203 1143C1191 1141.8 1191 1138.8 1203 1136Z" fill="#FFB83D"/>
</g>
<path d="M256.2 2086.6H310.3V2105H256.2ZM309.7 2082.5H323.7V2105H309.7ZM323.1 2077.6H337.1V2105H323.1ZM336.5 2073.2H350.5V2105H336.5ZM349.9 2068.6H363.9V2105H349.9ZM363.3 2064.6H390.6V2105H363.3ZM390 2059.7H404V2105H390ZM403.4 2054.8H417.4V2105H403.4ZM416.8 2049.9H444.2V2105H416.8ZM443.6 2041.8H484.3V2105H443.6ZM483.7 2033.6H537.9V2105H483.7ZM537.3 2041.8H564.6V2105H537.3ZM564 2049.9H578V2105H564ZM577.4 2054.8H618.2V2105H577.4ZM617.6 2049.9H671.7V2105H617.6ZM671.1 2041.8H711.9V2105H671.1ZM711.3 2033.6H725.3V2105H711.3ZM724.7 2024.7H765.4V2105H724.7ZM764.8 2033.6H778.8V2105H764.8Z" fill="#fff"/>
</g>
<path clip-path="url(#cp5)" d="M262.2 1703.3L250.2 1718.7M250.2 1718.7l-9.8 -2.1M252.5 1715.7l-9.8 -2.1M254.8 1712.7l-9.8 -2.1M289.2 1703.4L276.8 1718.6M276.8 1718.6l-9.7 -2.3M279.2 1715.6l-9.7 -2.3M281.6 1712.7l-9.7 -2.3M316.2 1703.5L303.5 1718.5M303.5 1718.5l-9.7 -2.5M305.9 1715.6l-9.7 -2.5M308.4 1712.7l-9.7 -2.5M343.1 1703.7L330.1 1718.3M330.1 1718.3l-9.6 -2.7M332.6 1715.5l-9.6 -2.7M335.2 1712.6l-9.6 -2.7M370.1 1703.8L356.8 1718.2M356.8 1718.2l-9.6 -2.9M359.4 1715.4l-9.6 -2.9M361.9 1712.6l-9.6 -2.9M397.1 1704L383.4 1718M383.4 1718l-9.5 -3.1M386.1 1715.3l-9.5 -3.1M388.7 1712.6l-5.2 -1.7M424 1704.1L410.1 1717.9M410.1 1717.9l-9.4 -3.3M412.8 1715.2l-9.4 -3.3M415.5 1712.5l-5.2 -1.8M451 1704.3L436.7 1717.7M436.7 1717.7l-9.4 -3.5M439.5 1715.1l-9.4 -3.5M442.3 1712.5l-5.1 -1.9M477.9 1704.4L463.4 1717.6M463.4 1717.6l-9.3 -3.7M466.2 1715l-9.3 -3.7M469 1712.5l-5.1 -2M504.9 1704.6L490.1 1717.4M490.1 1717.4l-9.2 -3.9M493 1714.9l-9.2 -3.9M495.8 1712.4l-5.1 -2.2M531.9 1704.8L516.7 1717.2M516.7 1717.2l-9.1 -4.2M519.7 1714.8l-9.1 -4.2M522.6 1712.4l-5 -2.3M558.9 1705.1L543.3 1716.9M543.3 1716.9l-8.9 -4.5M546.3 1714.6l-8.9 -4.5M549.4 1712.3l-4.9 -2.5M586 1705.4L569.9 1716.6M569.9 1716.6l-8.7 -4.9M573 1714.4l-8.7 -4.9M576.1 1712.3l-4.8 -2.7M613 1705.7L596.5 1716.3M596.5 1716.3l-8.5 -5.2M599.7 1714.2l-8.5 -5.2M602.9 1712.2l-4.7 -2.9M640 1706L623.1 1716M623.1 1716l-8.3 -5.5M626.4 1714l-8.3 -5.5M629.6 1712.1l-4.6 -3M667 1706.4L649.7 1715.6M649.7 1715.6l-8.1 -5.9M653.1 1713.8l-8.1 -5.9M656.4 1712l-4.5 -3.2M694 1706.7L676.3 1715.3M676.3 1715.3l-7.9 -6.2M679.8 1713.6l-7.9 -6.2M683.2 1712l-4.3 -3.4M720.9 1707.1L703 1714.9M703 1714.9l-7.6 -6.5M706.5 1713.4l-7.6 -6.5M710 1711.9l-4.2 -3.6M747.9 1707.4L729.7 1714.6M729.7 1714.6l-7.4 -6.8M733.2 1713.2l-7.4 -6.8M736.7 1711.8l-4 -3.7M774.9 1707.8L756.3 1714.2M756.3 1714.2l-7.1 -7.1M759.9 1713l-7.1 -7.1M763.5 1711.7l-3.9 -3.9M262.2 1746.7L250.2 1762.1M250.2 1762.1l-9.8 -2.1M252.5 1759.1l-9.8 -2.1M254.8 1756.1l-5.4 -1.1M289.2 1746.8L276.8 1762M276.8 1762l-9.7 -2.3M279.2 1759l-9.7 -2.3M281.6 1756.1l-5.3 -1.3M316.2 1747L303.4 1761.8M303.4 1761.8l-9.7 -2.6M305.9 1758.9l-9.7 -2.6M308.4 1756.1l-5.3 -1.4M343.2 1747.2L330 1761.6M330 1761.6l-9.6 -2.8M332.6 1758.8l-9.6 -2.8M370.2 1747.3L356.7 1761.5M356.7 1761.5l-9.5 -3M359.3 1758.7l-9.5 -3M397.2 1747.5L383.3 1761.3M383.3 1761.3l-9.4 -3.3M386 1758.6l-9.4 -3.3M424.2 1747.7L409.9 1761.1M409.9 1761.1l-9.4 -3.5M412.7 1758.5l-9.4 -3.5M451.2 1747.8L436.6 1761M436.6 1761l-9.3 -3.8M439.4 1758.4l-9.3 -3.8M478.1 1748L463.2 1760.8M463.2 1760.8l-9.2 -4M466.1 1758.3l-5 -2.2M505.1 1748.2L489.9 1760.6M489.9 1760.6l-9.1 -4.2M492.8 1758.2l-5 -2.3M532.1 1748.4L516.5 1760.4M516.5 1760.4l-8.9 -4.5M519.5 1758.1l-4.9 -2.5M559.1 1748.7L543.1 1760.1M543.1 1760.1l-8.8 -4.8M546.2 1757.9l-4.8 -2.6M586.1 1749L569.7 1759.8M569.7 1759.8l-8.6 -5.1M572.9 1757.7l-4.7 -2.8M613.1 1749.3L596.4 1759.5M596.4 1759.5l-8.4 -5.4M599.6 1757.5l-4.6 -3M640.1 1749.6L623 1759.2M623 1759.2l-8.2 -5.7M626.3 1757.3l-4.5 -3.1M667.1 1749.9L649.6 1758.9M649.6 1758.9l-8 -6M653 1757.1l-4.4 -3.3M694 1750.2L676.3 1758.6M676.3 1758.6l-7.8 -6.3M679.7 1757l-4.3 -3.4M721 1750.6L703 1758.2M703 1758.2l-7.6 -6.5M706.5 1756.8l-4.2 -3.6M747.9 1750.9L729.6 1757.9M729.6 1757.9l-7.3 -6.8M733.2 1756.6l-4 -3.7M774.9 1751.2L756.3 1757.6M756.3 1757.6l-7.1 -7.1M759.9 1756.4l-3.9 -3.9M262.2 1789.1L250.2 1804.5M250.2 1804.5l-9.8 -2.1M252.5 1801.5l-9.8 -2.1M289.2 1789.2L276.8 1804.4M276.8 1804.4l-9.7 -2.3M279.2 1801.4l-9.7 -2.3M316.2 1789.4L303.4 1804.2M303.4 1804.2l-9.7 -2.6M305.9 1801.3l-9.7 -2.6M343.2 1789.6L330 1804M330 1804l-9.6 -2.8M332.6 1801.2l-9.6 -2.8M370.2 1789.7L356.7 1803.9M356.7 1803.9l-9.5 -3M359.3 1801.1l-9.5 -3M397.2 1789.9L383.3 1803.7M383.3 1803.7l-9.4 -3.3M386 1801l-5.2 -1.8M424.2 1790.1L409.9 1803.5M409.9 1803.5l-9.4 -3.5M412.7 1800.9l-5.1 -1.9M451.2 1790.2L436.6 1803.4M436.6 1803.4l-9.3 -3.8M439.4 1800.8l-5.1 -2.1M478.1 1790.4L463.2 1803.2M463.2 1803.2l-9.2 -4M466.1 1800.7l-5 -2.2M505.1 1790.6L489.9 1803M489.9 1803l-9.1 -4.2M492.8 1800.6l-5 -2.3M532.1 1790.8L516.5 1802.8M516.5 1802.8l-9 -4.5M519.5 1800.5l-4.9 -2.5M559.1 1791.1L543.1 1802.5M543.1 1802.5l-8.8 -4.7M546.2 1800.3l-4.8 -2.6M586.1 1791.3L569.8 1802.3M569.8 1802.3l-8.6 -5M572.9 1800.1l-4.8 -2.8M613 1791.6L596.4 1802M596.4 1802l-8.5 -5.3M599.6 1800l-4.7 -2.9M640 1791.9L623.1 1801.7M623.1 1801.7l-8.3 -5.6M626.4 1799.8l-4.6 -3.1M667 1792.2L649.7 1801.4M649.7 1801.4l-8.1 -5.8M693.9 1792.4L676.4 1801.2M676.4 1801.2l-7.9 -6.1M720.9 1792.7L703.1 1800.9M703.1 1800.9l-7.7 -6.3M747.8 1793L729.7 1800.6M729.7 1800.6l-7.5 -6.6M774.7 1793.3L756.4 1800.3M756.4 1800.3l-7.3 -6.8M262.2 1824.1L250.2 1839.5M250.2 1839.5l-9.8 -2.1M252.5 1836.5l-9.8 -2.1M289.2 1824.2L276.8 1839.4M276.8 1839.4l-9.7 -2.3M279.2 1836.5l-9.7 -2.3M316.2 1824.3L303.5 1839.3M303.5 1839.3l-9.7 -2.5M305.9 1836.4l-9.7 -2.5M343.1 1824.5L330.1 1839.1M330.1 1839.1l-9.6 -2.7M332.6 1836.3l-9.6 -2.7M370.1 1824.6L356.8 1839M356.8 1839l-9.6 -2.9M359.4 1836.2l-5.3 -1.6M397.1 1824.7L383.4 1838.9M383.4 1838.9l-9.5 -3.1M386.1 1836.1l-5.2 -1.7M424 1824.9L410.1 1838.7M410.1 1838.7l-9.4 -3.3M412.8 1836l-5.2 -1.8M451 1825L436.8 1838.6M436.8 1838.6l-9.4 -3.5M439.5 1835.9l-5.2 -1.9M477.9 1825.2L463.4 1838.4M463.4 1838.4l-9.3 -3.7M466.3 1835.8l-5.1 -2M504.9 1825.3L490.1 1838.3M490.1 1838.3l-9.2 -3.9M493 1835.8l-5.1 -2.1M531.8 1825.5L516.8 1838.1M516.8 1838.1l-9.1 -4.1M558.8 1825.7L543.4 1837.9M543.4 1837.9l-9 -4.4M585.8 1826L570 1837.6M570 1837.6l-8.9 -4.6M612.8 1826.2L596.7 1837.4M596.7 1837.4l-8.7 -4.9M639.8 1826.5L623.3 1837.1M623.3 1837.1l-8.6 -5.2M666.7 1826.7L650 1836.9M650 1836.9l-8.4 -5.4M693.7 1827L676.6 1836.6M676.6 1836.6l-8.2 -5.7M720.6 1827.2L703.3 1836.4M703.3 1836.4l-8.1 -5.9M747.6 1827.5L730 1836.1M730 1836.1l-7.9 -6.2M774.5 1827.8L756.7 1835.8M756.7 1835.8l-7.7 -6.4M262.2 1849.1L250.2 1864.5M250.2 1864.5l-9.8 -2.1M252.5 1861.5l-9.8 -2.1M289.2 1849.2L276.8 1864.4M276.8 1864.4l-9.7 -2.3M279.2 1861.5l-9.7 -2.3M316.1 1849.3L303.5 1864.3M303.5 1864.3l-9.7 -2.4M306 1861.4l-9.7 -2.4M343.1 1849.4L330.2 1864.2M330.2 1864.2l-9.7 -2.6M332.7 1861.3l-5.3 -1.4M370 1849.5L356.9 1864.1M356.9 1864.1l-9.6 -2.8M359.4 1861.3l-5.3 -1.5M396.9 1849.6L383.6 1864M383.6 1864l-9.6 -2.9M386.1 1861.2l-5.3 -1.6M423.9 1849.8L410.2 1863.8M410.2 1863.8l-9.5 -3.1M412.9 1861.1l-5.2 -1.7M450.8 1849.9L436.9 1863.7M436.9 1863.7l-9.4 -3.3M439.6 1861l-5.2 -1.8M477.8 1850L463.6 1863.6M463.6 1863.6l-9.4 -3.5M504.7 1850.1L490.3 1863.5M490.3 1863.5l-9.3 -3.6M531.6 1850.3L517 1863.3M517 1863.3l-9.2 -3.8M558.6 1850.5L543.6 1863.1M543.6 1863.1l-9.1 -4.1M585.6 1850.7L570.2 1862.9M570.2 1862.9l-9 -4.3M612.6 1851L596.9 1862.6M596.9 1862.6l-8.9 -4.6M639.6 1851.2L623.5 1862.4M623.5 1862.4l-8.7 -4.8M666.5 1851.4L650.2 1862.2M650.2 1862.2l-8.6 -5.1M693.5 1851.6L676.8 1862M676.8 1862l-8.5 -5.3M720.5 1851.9L703.5 1861.7M703.5 1861.7l-8.3 -5.6M747.4 1852.1L730.2 1861.5M730.2 1861.5l-8.1 -5.8M774.3 1852.4L756.8 1861.2M756.8 1861.2l-8 -6M262.1 1872.9L250.3 1888.5M250.3 1888.5l-9.8 -2M252.6 1885.5l-9.8 -2M289.1 1873L276.9 1888.4M276.9 1888.4l-9.8 -2.1M279.3 1885.4l-9.8 -2.1M316 1873.1L303.6 1888.3M303.6 1888.3l-9.7 -2.3M306 1885.4l-9.7 -2.3M342.9 1873.2L330.3 1888.2M330.3 1888.2l-9.7 -2.4M332.8 1885.3l-5.3 -1.3M369.9 1873.3L357 1888.1M357 1888.1l-9.7 -2.6M359.5 1885.2l-5.3 -1.4M396.8 1873.4L383.7 1888M383.7 1888l-9.6 -2.8M386.2 1885.2l-5.3 -1.5M423.7 1873.5L410.4 1887.9M410.4 1887.9l-9.6 -2.9M413 1885.1l-5.3 -1.6M450.7 1873.6L437.1 1887.8M437.1 1887.8l-9.5 -3.1M439.7 1885l-5.2 -1.7M477.6 1873.8L463.8 1887.6M463.8 1887.6l-9.5 -3.2M466.4 1885l-5.2 -1.8M504.5 1873.9L490.5 1887.5M490.5 1887.5l-9.4 -3.4M531.5 1874L517.1 1887.4M517.1 1887.4l-9.3 -3.6M558.5 1874.2L543.7 1887.2M543.7 1887.2l-9.2 -3.9M585.5 1874.5L570.4 1886.9M570.4 1886.9l-9.1 -4.1M612.5 1874.7L597 1886.7M597 1886.7l-9 -4.4M639.5 1874.9L623.6 1886.5M623.6 1886.5l-8.8 -4.7M666.4 1875.2L650.3 1886.2M650.3 1886.2l-8.7 -4.9M693.4 1875.4L676.9 1886M676.9 1886l-8.5 -5.2M720.4 1875.7L703.6 1885.7M703.6 1885.7l-8.4 -5.4M747.3 1875.9L730.2 1885.5M730.2 1885.5l-8.2 -5.7M774.3 1876.2L756.9 1885.2M756.9 1885.2l-8 -5.9M262 1894.9L250.4 1910.7M250.4 1910.7l-9.8 -1.8M252.6 1907.6l-9.8 -1.8M289 1895L277 1910.6M277 1910.6l-9.8 -2M279.4 1907.6l-9.8 -2M315.9 1895.1L303.7 1910.5M303.7 1910.5l-9.8 -2.1M306.1 1907.5l-9.8 -2.1M342.8 1895.2L330.4 1910.4M330.4 1910.4l-9.7 -2.3M332.8 1907.4l-9.7 -2.3M369.8 1895.3L357.1 1910.3M357.1 1910.3l-9.7 -2.4M359.6 1907.4l-5.3 -1.3M396.7 1895.4L383.8 1910.2M383.8 1910.2l-9.7 -2.6M386.3 1907.3l-5.3 -1.4M423.6 1895.5L410.5 1910.1M410.5 1910.1l-9.6 -2.7M413.1 1907.3l-5.3 -1.5M450.5 1895.6L437.2 1910M437.2 1910l-9.6 -2.9M439.8 1907.2l-5.3 -1.6M477.4 1895.7L463.9 1909.9M463.9 1909.9l-9.5 -3M466.5 1907.1l-5.2 -1.7M504.4 1895.8L490.6 1909.8M490.6 1909.8l-9.5 -3.2M493.3 1907.1l-5.2 -1.8M531.3 1896L517.3 1909.6M517.3 1909.6l-9.4 -3.4M520 1907l-5.2 -1.9M558.3 1896.2L543.9 1909.4M543.9 1909.4l-9.3 -3.7M546.7 1906.9l-5.1 -2M585.3 1896.4L570.5 1909.2M570.5 1909.2l-9.2 -3.9M573.4 1906.7l-5.1 -2.2M612.3 1896.6L597.1 1909M597.1 1909l-9.1 -4.2M639.3 1896.9L623.7 1908.7M623.7 1908.7l-8.9 -4.5M666.3 1897.1L650.4 1908.5M650.4 1908.5l-8.8 -4.8M693.3 1897.4L677 1908.2M677 1908.2l-8.6 -5.1M720.3 1897.6L703.6 1908M703.6 1908l-8.5 -5.3M747.3 1897.9L730.3 1907.7M730.3 1907.7l-8.3 -5.6M774.2 1898.2L757 1907.4M757 1907.4l-8.1 -5.8M262 1915.3L250.4 1931.1M250.4 1931.1l-9.8 -1.7M252.7 1928.1l-9.8 -1.7M288.9 1915.4L277.1 1931M277.1 1931l-9.8 -1.9M279.4 1928l-9.8 -1.9M315.8 1915.4L303.8 1931M303.8 1931l-9.8 -2M306.2 1928l-9.8 -2M342.7 1915.5L330.5 1930.9M330.5 1930.9l-9.8 -2.2M332.9 1927.9l-9.8 -2.2M369.6 1915.6L357.2 1930.8M357.2 1930.8l-9.7 -2.3M359.6 1927.8l-9.7 -2.3M396.6 1915.7L383.9 1930.7M383.9 1930.7l-9.7 -2.4M386.4 1927.8l-5.3 -1.3M423.5 1915.8L410.6 1930.6M410.6 1930.6l-9.7 -2.6M413.1 1927.7l-5.3 -1.4M450.4 1915.9L437.3 1930.5M437.3 1930.5l-9.6 -2.7M439.9 1927.7l-5.3 -1.5M477.3 1916L464.1 1930.4M464.1 1930.4l-9.6 -2.8M466.6 1927.6l-5.3 -1.6M504.2 1916.1L490.8 1930.3M490.8 1930.3l-9.5 -3M493.4 1927.6l-5.2 -1.6M531.2 1916.2L517.4 1930.2M517.4 1930.2l-9.5 -3.2M520.1 1927.5l-5.2 -1.7M558.2 1916.4L544 1930M544 1930l-9.4 -3.5M546.8 1927.3l-5.2 -1.9M585.2 1916.7L570.6 1929.7M570.6 1929.7l-9.3 -3.8M573.5 1927.2l-5.1 -2.1M612.2 1916.9L597.2 1929.5M597.2 1929.5l-9.1 -4.1M600.1 1927.1l-5 -2.2M639.2 1917.1L623.8 1929.3M623.8 1929.3l-9 -4.4M626.8 1926.9l-4.9 -2.4M666.2 1917.4L650.5 1929M650.5 1929l-8.9 -4.7M693.2 1917.7L677.1 1928.7M677.1 1928.7l-8.7 -4.9M720.2 1917.9L703.7 1928.5M703.7 1928.5l-8.5 -5.2M747.2 1918.2L730.4 1928.2M730.4 1928.2l-8.4 -5.5M774.2 1918.5L757 1927.9M757 1927.9l-8.2 -5.8M261.6 1934.5L250.8 1950.9M250.8 1950.9l-9.9 -1.3M252.9 1947.7l-9.9 -1.3M288.5 1934.6L277.5 1950.8M277.5 1950.8l-9.9 -1.4M279.6 1947.7l-9.9 -1.4M315.4 1934.7L304.2 1950.7M304.2 1950.7l-9.9 -1.6M306.4 1947.6l-9.9 -1.6M342.4 1934.8L330.9 1950.6M330.9 1950.6l-9.9 -1.7M333.1 1947.6l-5.4 -0.9M369.3 1934.8L357.6 1950.6M357.6 1950.6l-9.8 -1.8M359.9 1947.5l-5.4 -1M396.2 1934.9L384.3 1950.5M384.3 1950.5l-9.8 -2M386.6 1947.5l-5.4 -1.1M423.1 1935L411 1950.4M411 1950.4l-9.8 -2.1M413.3 1947.4l-5.4 -1.2M450.1 1935.1L437.7 1950.3M437.7 1950.3l-9.7 -2.3M440.1 1947.4l-5.4 -1.2M477 1935.2L464.4 1950.2M464.4 1950.2l-9.7 -2.4M466.8 1947.3l-5.3 -1.3M503.9 1935.3L491.1 1950.1M491.1 1950.1l-9.7 -2.5M530.9 1935.4L517.7 1950M517.7 1950l-9.6 -2.8M558 1935.7L544.3 1949.7M544.3 1949.7l-9.5 -3.2M585.1 1936L570.8 1949.4M570.8 1949.4l-9.4 -3.5M612.1 1936.3L597.3 1949.1M597.3 1949.1l-9.2 -3.9M639.2 1936.6L623.9 1948.8M623.9 1948.8l-9 -4.3M666.3 1936.9L650.4 1948.5M650.4 1948.5l-8.8 -4.7M693.3 1937.3L677 1948.1M677 1948.1l-8.6 -5M720.3 1937.6L703.6 1947.8M703.6 1947.8l-8.4 -5.4M747.4 1938L730.2 1947.4M730.2 1947.4l-8.2 -5.7M774.4 1938.3L756.8 1947.1M756.8 1947.1l-7.9 -6.1M260.9 1952.1L251.5 1969.3M251.5 1969.3l-10 -0.5M253.3 1966l-10 -0.5M287.9 1952.2L278.1 1969.2M278.1 1969.2l-10 -0.7M280 1965.9l-10 -0.7M314.9 1952.3L304.8 1969.1M304.8 1969.1l-10 -0.9M306.7 1965.8l-5.5 -0.5M341.8 1952.4L331.4 1969M331.4 1969l-9.9 -1.1M333.4 1965.8l-5.5 -0.6M368.8 1952.5L358.1 1968.9M358.1 1968.9l-9.9 -1.3M360.2 1965.7l-5.5 -0.7M395.8 1952.6L384.7 1968.8M384.7 1968.8l-9.9 -1.4M386.9 1965.7l-5.4 -0.8M422.7 1952.7L411.4 1968.7M411.4 1968.7l-9.9 -1.6M413.6 1965.6l-5.4 -0.9M449.7 1952.8L438.1 1968.6M438.1 1968.6l-9.8 -1.8M476.6 1952.9L464.7 1968.5M464.7 1968.5l-9.8 -2M503.6 1953L491.4 1968.4M491.4 1968.4l-9.8 -2.2M530.6 1953.2L518 1968.2M518 1968.2l-9.7 -2.4M557.8 1953.5L544.4 1967.9M544.4 1967.9l-9.6 -2.9M584.9 1953.9L570.9 1967.5M570.9 1967.5l-9.4 -3.4M612.1 1954.2L597.4 1967.2M597.4 1967.2l-9.2 -3.9M639.2 1954.6L623.9 1966.8M623.9 1966.8l-9 -4.3M666.3 1955L650.4 1966.4M650.4 1966.4l-8.8 -4.8M693.4 1955.4L676.9 1966M676.9 1966l-8.5 -5.2M720.5 1955.8L703.5 1965.6M703.5 1965.6l-8.3 -5.6M747.5 1956.2L730 1965.2M730 1965.2l-8 -6M774.5 1956.7L756.6 1964.7M756.6 1964.7l-7.7 -6.4M259.9 1968.7L252.5 1986.9M252.5 1986.9l-10 0.7M253.9 1983.4l-5.5 0.4M286.9 1968.8L279.1 1986.8M279.1 1986.8l-10 0.4M280.6 1983.3l-5.5 0.2M314 1968.9L305.6 1986.7M305.6 1986.7l-10 0.1M307.3 1983.2l-5.5 0.1M341.1 1969.1L332.2 1986.5M332.2 1986.5l-10 -0.2M333.9 1983.1l-5.5 -0.1M368.1 1969.2L358.7 1986.4M358.7 1986.4l-10 -0.5M360.6 1983.1l-5.5 -0.3M395.2 1969.3L385.3 1986.3M385.3 1986.3l-10 -0.7M422.2 1969.5L411.9 1986.1M411.9 1986.1l-9.9 -1M449.3 1969.6L438.5 1986M438.5 1986l-9.9 -1.3M476.3 1969.8L465 1985.8M465 1985.8l-9.9 -1.6M503.4 1970L491.6 1985.6M491.6 1985.6l-9.8 -1.9M530.4 1970.2L518.2 1985.4M518.2 1985.4l-9.7 -2.2M557.7 1970.5L544.5 1985.1M544.5 1985.1l-9.6 -2.8M584.9 1970.9L570.9 1984.7M570.9 1984.7l-9.4 -3.3M612.1 1971.3L597.4 1984.3M597.4 1984.3l-9.2 -3.9M639.3 1971.8L623.8 1983.8M623.8 1983.8l-9 -4.4M666.4 1972.2L650.3 1983.4M650.3 1983.4l-8.7 -4.9M693.5 1972.7L676.8 1982.9M676.8 1982.9l-8.4 -5.4M720.6 1973.2L703.3 1982.4M703.3 1982.4l-8.1 -5.9M747.7 1973.7L729.9 1981.9M729.9 1981.9l-7.8 -6.3M774.7 1974.2L756.5 1981.4M756.5 1981.4l-7.4 -6.7M259.4 1984L253 2002.6M253 2002.6l-9.9 1.2M286.6 1984.2L279.5 2002.4M279.5 2002.4l-10 0.8M313.7 1984.3L305.9 2002.3M305.9 2002.3l-10 0.4M340.9 1984.5L332.4 2002.1M332.4 2002.1l-10 0M368 1984.6L358.8 2002M358.8 2002l-10 -0.3M395.2 1984.8L385.3 2001.8M385.3 2001.8l-10 -0.7M422.3 1985L411.8 2001.6M411.8 2001.6l-9.9 -1.1M449.5 1985.3L438.3 2001.3M438.3 2001.3l-9.9 -1.5M476.6 1985.5L464.8 2001.1M464.8 2001.1l-9.8 -1.9M503.7 1985.7L491.3 2000.9M491.3 2000.9l-9.7 -2.3M530.8 1986L517.8 2000.6M517.8 2000.6l-9.6 -2.7M558.1 1986.4L544.1 2000.2M544.1 2000.2l-9.4 -3.3M585.3 1986.8L570.6 1999.8M570.6 1999.8l-9.2 -3.9M612.5 1987.3L597 1999.3M597 1999.3l-9 -4.4M639.6 1987.7L623.5 1998.9M623.5 1998.9l-8.7 -4.9M666.7 1988.2L650 1998.4M650 1998.4l-8.4 -5.4M693.8 1988.7L676.5 1997.9M676.5 1997.9l-8.1 -5.9M720.9 1989.2L703.1 1997.4M703.1 1997.4l-7.7 -6.4M747.9 1989.8L729.6 1996.8M729.6 1996.8l-7.3 -6.8M774.9 1990.3L756.3 1996.3M756.3 1996.3l-6.9 -7.2M259.2 1996.8L253.2 2015.4M253.2 2015.4l-9.9 1.4M286.5 1996.9L279.5 2015.3M279.5 2015.3l-10 0.9M313.7 1997.1L305.9 2015.1M305.9 2015.1l-10 0.4M341 1997.3L332.3 2014.9M332.3 2014.9l-10 -0M368.2 1997.5L358.7 2014.7M358.7 2014.7l-10 -0.5M395.4 1997.8L385.1 2014.4M385.1 2014.4l-10 -1M422.6 1998L411.5 2014.2M411.5 2014.2l-9.9 -1.5M449.8 1998.3L438 2013.9M438 2013.9l-9.8 -1.9M477 1998.6L464.4 2013.6M464.4 2013.6l-9.7 -2.4M504.1 1998.9L490.9 2013.3M490.9 2013.3l-9.6 -2.8M531.3 1999.2L517.3 2013M517.3 2013l-9.4 -3.3M558.4 1999.6L543.8 2012.6M543.8 2012.6l-9.2 -3.8M585.6 2000L570.2 2012.2M570.2 2012.2l-9 -4.3M612.7 2000.4L596.7 2011.8M596.7 2011.8l-8.8 -4.8M639.8 2000.9L623.3 2011.3M623.3 2011.3l-8.5 -5.3M666.9 2001.3L649.8 2010.9M649.8 2010.9l-8.2 -5.7M694 2001.8L676.4 2010.4M676.4 2010.4l-7.9 -6.1M721 2002.3L702.9 2009.9M702.9 2009.9l-7.5 -6.6M748 2002.8L729.6 2009.4M729.6 2009.4l-7.2 -7M775 2003.3L756.2 2008.9M756.2 2008.9l-6.8 -7.3M259.2 2006.5L253.2 2025.1M253.2 2025.1l-9.9 1.4M286.5 2006.7L279.5 2024.9M279.5 2024.9l-10 0.9M313.8 2006.9L305.8 2024.7M305.8 2024.7l-10 0.3M341.1 2007.1L332.2 2024.5M332.2 2024.5l-10 -0.2M368.4 2007.3L358.5 2024.3M358.5 2024.3l-10 -0.7M395.6 2007.6L384.9 2024M384.9 2024l-9.9 -1.3M422.9 2007.9L411.3 2023.7M411.3 2023.7l-9.8 -1.8M450.1 2008.2L437.7 2023.4M440.1 2020.4l-5.4 -1.3M477.3 2008.6L464.1 2023M466.6 2020.2l-5.3 -1.6M504.5 2008.9L490.5 2022.7M493.2 2020l-5.2 -1.8M531.6 2009.3L517 2022.3M519.8 2019.8l-5.1 -2.1M558.7 2009.6L543.5 2022M546.4 2019.6l-5 -2.3M585.8 2010L570 2021.6M573.1 2019.3l-4.9 -2.6M612.9 2010.4L596.6 2021.2M599.7 2019.1l-4.7 -2.8M640 2010.8L623.1 2020.8M626.4 2018.9l-4.6 -3M667 2011.2L649.7 2020.4M653.1 2018.6l-4.4 -3.2M694 2011.6L676.3 2020M679.7 2018.4l-4.3 -3.4M721 2012.1L702.9 2019.5M706.4 2018.1l-4.1 -3.6M748 2012.5L729.6 2019.1M733.1 2017.8l-3.9 -3.8M775 2012.9L756.2 2018.7M759.9 2017.6l-3.8 -4M259.4 2015.5L253 2033.9M253 2033.9l-9.9 1.2M286.8 2015.7L279.2 2033.7M279.2 2033.7l-10 0.6M314.1 2015.9L305.5 2033.5M305.5 2033.5l-10 0M341.4 2016.1L331.9 2033.3M331.9 2033.3l-10 -0.5M368.7 2016.4L358.2 2033M358.2 2033l-9.9 -1.1M396 2016.7L384.5 2032.7M386.8 2029.6l-5.4 -0.9M423.2 2017.1L410.9 2032.3M413.3 2029.4l-5.4 -1.2M450.4 2017.4L437.3 2032M439.8 2029.1l-5.3 -1.5M477.7 2017.8L463.7 2031.6M466.4 2028.9l-5.2 -1.8M504.9 2018.2L490.1 2031.2M493 2028.7l-5.1 -2.1M532 2018.6L516.6 2030.8M519.6 2028.4l-5 -2.4M559 2018.9L543.2 2030.5M546.3 2028.2l-4.9 -2.6M586.1 2019.3L569.8 2030.1M572.9 2028l-4.7 -2.8M613.1 2019.6L596.4 2029.8M599.6 2027.8l-4.6 -3M640.1 2019.9L623 2029.5M626.3 2027.6l-4.5 -3.1M667.1 2020.3L649.6 2029.1M653 2027.4l-4.4 -3.3M694.1 2020.6L676.2 2028.8M679.7 2027.2l-4.2 -3.5M721 2021L702.9 2028.4M706.4 2027l-4.1 -3.7M748 2021.4L729.6 2028M733.1 2026.7l-3.9 -3.8M774.9 2021.7L756.2 2027.7M759.9 2026.5l-3.8 -4M260.6 2024.8L251.8 2042.4M251.8 2042.4l-10 -0.1M287.8 2025.1L278.2 2042.1M278.2 2042.1l-10 -0.6M315.1 2025.4L304.5 2041.8M304.5 2041.8l-9.9 -1.2M342.4 2025.7L330.9 2041.5M330.9 2041.5l-9.9 -1.7M369.6 2026L357.3 2041.2M357.3 2041.2l-9.7 -2.3M396.8 2026.3L383.7 2040.9M386.2 2038l-5.3 -1.5M424 2026.7L410.1 2040.5M412.8 2037.8l-5.2 -1.8M451.2 2027.1L436.5 2040.1M439.4 2037.6l-5.1 -2.1M478.4 2027.5L463 2039.7M466 2037.3l-5 -2.4M505.5 2027.9L489.5 2039.3M492.6 2037.1l-4.8 -2.6M532.6 2028.3L516 2038.9M519.2 2036.8l-4.7 -2.9M559.5 2028.5L542.7 2038.7M546 2036.7l-4.6 -3M586.4 2028.7L569.4 2038.5M572.7 2036.6l-4.5 -3.1M613.4 2029L596.1 2038.2M599.4 2036.4l-4.5 -3.2M640.3 2029.2L622.8 2038M626.2 2036.3l-4.4 -3.3M667.2 2029.4L649.5 2037.8M652.9 2036.2l-4.3 -3.4M694.1 2029.6L676.2 2037.6M679.7 2036l-4.2 -3.5M721 2029.9L702.9 2037.3M706.4 2035.9l-4.1 -3.6M774.8 2030.3L756.4 2036.9M759.9 2035.6l-3.9 -3.9M262.4 2034.2L250 2049.4M250 2049.4l-9.7 -2.3M289.5 2034.5L276.5 2049.1M279 2046.3l-5.3 -1.5M316.6 2034.7L303 2048.9M305.7 2046.1l-5.2 -1.7M343.7 2035L329.6 2048.6M332.3 2046l-5.2 -1.9M370.8 2035.3L356.1 2048.3M359 2045.8l-5.1 -2.1M397.8 2035.6L382.7 2048M385.6 2045.6l-5 -2.3M424.9 2035.9L409.3 2047.7M412.3 2045.4l-4.9 -2.5M451.9 2036.2L435.9 2047.4M439 2045.3l-4.8 -2.7M478.9 2036.5L462.5 2047.1M465.6 2045.1l-4.7 -2.8M559.7 2037.2L542.5 2046.4M545.8 2044.6l-4.5 -3.2M586.6 2037.3L569.2 2046.3M572.6 2044.6l-4.4 -3.3M613.5 2037.4L596 2046.2M599.4 2044.5l-4.4 -3.3M640.3 2037.5L622.8 2046.1M626.2 2044.5l-4.4 -3.4M667.2 2037.5L649.5 2046.1M652.9 2044.4l-4.3 -3.4M694 2037.6L676.3 2046M679.7 2044.3l-4.3 -3.5M720.9 2037.7L703 2045.9M706.5 2044.3l-4.2 -3.5M264.7 2049.9L247.7 2059.7M251 2057.8l-4.6 -3.1M291.5 2049.9L274.5 2059.7M277.8 2057.8l-4.6 -3.1M318.3 2049.9L301.3 2059.7M304.6 2057.8l-4.5 -3.1M345.2 2050L328.1 2059.6M331.4 2057.8l-4.5 -3.1M372 2050L354.9 2059.6M358.2 2057.7l-4.5 -3.1M398.8 2050L381.7 2059.6M385 2057.7l-4.5 -3.1M425.6 2050.1L408.5 2059.5M411.8 2057.7l-4.5 -3.2M586.5 2050.1L569.3 2059.5M572.6 2057.7l-4.5 -3.2M613.3 2050.1L596.1 2059.5M599.5 2057.7l-4.5 -3.2M265.6 2062L246.8 2067.2M250.4 2066.2l-3.7 -4.1M292.4 2061.7L273.6 2067.5M277.3 2066.4l-3.8 -4M319.1 2061.5L300.5 2067.7M304.1 2066.5l-3.9 -3.9M345.8 2061.2L327.4 2068M331 2066.7l-4 -3.8M372.6 2061L354.3 2068.2M357.9 2066.8l-4.1 -3.7M399.3 2060.8L381.2 2068.4M384.7 2066.9l-4.1 -3.6M265.9 2071.7L246.5 2074.7M250.3 2074.1l-3.1 -4.5M292.6 2071.4L273.4 2075M277.1 2074.3l-3.3 -4.4M319.4 2071L300.3 2075.4M304 2074.5l-3.5 -4.3M346.1 2070.6L327.2 2075.8M330.8 2074.8l-3.6 -4.1M266 2081.9L246.4 2083.1M250.2 2082.8l-2.7 -4.8M292.8 2081.5L273.3 2083.5M277 2083.1l-2.9 -4.7M319.5 2081L300.1 2084M303.9 2083.4l-3.1 -4.5" stroke="#262626" stroke-width="0.85" fill="none"/>
<rect x="256.5" y="1678" width="522" height="425" fill="none" stroke="#000" stroke-width="1"/>
<text x="517.5" y="1667.5" font-size="33.5" text-anchor="middle" fill="#000">Curtain 5 (C5)</text>
<path d="M243.5 1678L256.5 1678" stroke="#222" stroke-width="1" fill="none"/>
<text x="229" y="1685.7" font-size="22" text-anchor="end" fill="#000">200</text>
<path d="M243.5 1785.6L256.5 1785.6" stroke="#222" stroke-width="1" fill="none"/>
<text x="229" y="1793.3" font-size="22" text-anchor="end" fill="#000">300</text>
<path d="M243.5 1921.2L256.5 1921.2" stroke="#222" stroke-width="1" fill="none"/>
<text x="229" y="1928.9" font-size="22" text-anchor="end" fill="#000">500</text>
<path d="M243.5 2010.5L256.5 2010.5" stroke="#222" stroke-width="1" fill="none"/>
<text x="229" y="2018.2" font-size="22" text-anchor="end" fill="#000">700</text>
<path d="M243.5 2062L256.5 2062" stroke="#222" stroke-width="1" fill="none"/>
<text x="229" y="2069.7" font-size="22" text-anchor="end" fill="#000">850</text>
<path d="M243.5 2084.5L256.5 2084.5" stroke="#222" stroke-width="1" fill="none"/>
<text x="229" y="2092.2" font-size="22" text-anchor="end" fill="#000">925</text>
<path d="M778.5 1706.3L791 1706.3" stroke="#222" stroke-width="1" fill="none"/>
<text x="803.8" y="1713.8" font-size="21.2" text-anchor="start" fill="#000">35</text>
<path d="M778.5 1764L791 1764" stroke="#222" stroke-width="1" fill="none"/>
<text x="803.8" y="1771.5" font-size="21.2" text-anchor="start" fill="#000">30</text>
<path d="M778.5 1821.5L791 1821.5" stroke="#222" stroke-width="1" fill="none"/>
<text x="803.8" y="1829" font-size="21.2" text-anchor="start" fill="#000">25</text>
<path d="M778.5 1879.2L791 1879.2" stroke="#222" stroke-width="1" fill="none"/>
<text x="803.8" y="1886.7" font-size="21.2" text-anchor="start" fill="#000">20</text>
<path d="M778.5 1936.9L791 1936.9" stroke="#222" stroke-width="1" fill="none"/>
<text x="803.8" y="1944.4" font-size="21.2" text-anchor="start" fill="#000">15</text>
<path d="M778.5 1994.2L791 1994.2" stroke="#222" stroke-width="1" fill="none"/>
<text x="803.8" y="2001.7" font-size="21.2" text-anchor="start" fill="#000">10</text>
<path d="M778.5 2052L791 2052" stroke="#222" stroke-width="1" fill="none"/>
<text x="803.8" y="2059.5" font-size="21.2" text-anchor="start" fill="#000">5</text>
<path d="M778.5 2097.9L791 2097.9" stroke="#222" stroke-width="1" fill="none"/>
<text x="803.8" y="2105.4" font-size="21.2" text-anchor="start" fill="#000">1</text>
<path d="M256.5 2103L256.5 2116" stroke="#222" stroke-width="1" fill="none"/>
<text x="255.9" y="2147.3" font-size="22" text-anchor="middle" fill="#000">119.4W</text>
<text x="252.7" y="2171.7" font-size="22" text-anchor="middle" fill="#000">47.4N</text>
<path d="M390.3 2103L390.3 2116" stroke="#222" stroke-width="1" fill="none"/>
<text x="389.7" y="2147.3" font-size="22" text-anchor="middle" fill="#000">117.4W</text>
<text x="386.5" y="2171.7" font-size="22" text-anchor="middle" fill="#000">46.1N</text>
<path d="M524.2 2103L524.2 2116" stroke="#222" stroke-width="1" fill="none"/>
<text x="523.6" y="2147.3" font-size="22" text-anchor="middle" fill="#000">115.6W</text>
<text x="520.4" y="2171.7" font-size="22" text-anchor="middle" fill="#000">44.7N</text>
<path d="M658 2103L658 2116" stroke="#222" stroke-width="1" fill="none"/>
<text x="657.4" y="2147.3" font-size="22" text-anchor="middle" fill="#000">113.8W</text>
<text x="654.2" y="2171.7" font-size="22" text-anchor="middle" fill="#000">43.3N</text>
<rect x="697.3" y="2112.4" width="81.2" height="65.1" fill="#fff" stroke="#808080" stroke-width="1"/>
<text x="737.9" y="2135.8" font-size="24" text-anchor="middle" fill="#000">30 m/s</text>
<path d="M749.7 2158.1h-19.4M730.3 2158.1l-4.8 -8.8M734 2158.1l-4.8 -8.8M737.7 2158.1l-4.8 -8.8" stroke="#333" stroke-width="0.7" fill="none"/>
<text x="171" y="1891" font-size="27.2" text-anchor="middle" fill="#000" transform="rotate(-90 171 1891)">Altitude (hPa)</text>
<clipPath id="cpm"><rect x="924.4" y="1677.9" width="551.6" height="551.3"/></clipPath>
<g clip-path="url(#cpm)">
<rect x="924.4" y="1677.9" width="551.6" height="551.3" fill="#6BA3CD"/>
<path d="M902.3 1677.6L929.9 1677.6L957.5 1677.6L985.1 1677.6L1012.6 1677.6L1040.2 1677.6L1067.8 1677.6L1095.4 1677.6L1122.9 1677.6L1150.5 1677.6L1178.1 1677.6L1205.7 1677.6L1233.2 1677.6L1260.8 1677.6L1288.4 1677.6L1316 1677.6L1343.5 1677.6L1371.1 1677.6L1398.7 1677.6L1426.3 1677.6L1453.8 1677.6L1481.4 1677.6L1481.4 1698.3L1481.4 1719.1L1481.4 1739.9L1481.4 1760.7L1481.4 1781.5L1481.4 1802.3L1481.4 1823.1L1481.4 1843.9L1481.4 1864.7L1481.4 1885.5L1481.4 1906.2L1481.4 1927L1481.4 1947.8L1481.4 1968.6L1481.4 1989.4L1481.4 2010.2L1481.4 2031L1481.4 2051.8L1481.4 2072.6L1481.4 2093.3L1481.4 2114.1L1481.4 2134.9L1481.4 2155.7L1481.4 2176.5L1481.4 2197.3L1481.4 2218.1L1481.4 2238.9L1453.8 2238.9L1426.3 2238.9L1398.7 2238.9L1371.1 2238.9L1343.5 2238.9L1316 2238.9L1288.4 2238.9L1260.8 2238.9L1233.2 2238.9L1205.7 2238.9L1178.1 2238.9L1150.5 2238.9L1122.9 2238.9L1096.3 2238.9L1095.4 2228.5L1084.3 2218.1L1067.8 2202.5L1065.3 2197.3L1049.4 2176.5L1044.8 2155.7L1041.2 2134.9L1040.2 2122.5L1035.6 2114.1L1019.2 2093.3L1013.5 2072.6L1012.6 2062.2L1008 2051.8L1008 2031L995.7 2010.2L995.7 1989.4L988.5 1968.6L985.1 1958.2L980.5 1968.6L963.9 1989.4L957.5 2001.9L929.9 2010.2L902.3 2010.2L902.3 1989.4L902.3 1968.6L902.3 1947.8L902.3 1927L902.3 1906.2L902.3 1885.5L902.3 1864.7L902.3 1843.9L902.3 1823.1L902.3 1802.3L902.3 1781.5L902.3 1760.7L902.3 1739.9L902.3 1719.1L902.3 1698.3ZM902.3 2031L902.3 2010.2L929.9 2010.2L934.5 2031L929.9 2037.9L902.3 2037.9Z" fill="#3A8EC0" fill-rule="evenodd"/>
<path d="M902.3 1677.6L929.9 1677.6L957.5 1677.6L985.1 1677.6L1012.6 1677.6L1040.2 1677.6L1067.8 1677.6L1095.4 1677.6L1122.9 1677.6L1150.5 1677.6L1178.1 1677.6L1205.7 1677.6L1233.2 1677.6L1260.8 1677.6L1288.4 1677.6L1316 1677.6L1343.5 1677.6L1371.1 1677.6L1398.7 1677.6L1426.3 1677.6L1453.8 1677.6L1481.4 1677.6L1481.4 1698.3L1481.4 1719.1L1481.4 1739.9L1481.4 1760.7L1481.4 1781.5L1481.4 1802.3L1481.4 1823.1L1481.4 1843.9L1481.4 1864.7L1481.4 1885.5L1481.4 1906.2L1481.4 1927L1481.4 1947.8L1481.4 1968.6L1481.4 1989.4L1481.4 2010.2L1481.4 2031L1481.4 2051.8L1481.4 2072.6L1481.4 2093.3L1481.4 2114.1L1481.4 2134.9L1481.4 2155.7L1481.4 2176.5L1481.4 2197.3L1481.4 2218.1L1481.4 2238.9L1453.8 2238.9L1426.3 2238.9L1398.7 2238.9L1371.1 2238.9L1343.5 2238.9L1316 2238.9L1288.4 2238.9L1260.8 2238.9L1233.2 2238.9L1205.7 2238.9L1178.1 2238.9L1150.5 2238.9L1122.9 2238.9L1105.1 2238.9L1101.7 2218.1L1095.4 2211.6L1076.7 2197.3L1067.8 2176.5L1067.8 2176.5L1056.3 2155.7L1047.9 2134.9L1042.3 2114.1L1040.2 2101.7L1032.3 2093.3L1022.4 2072.6L1014.7 2051.8L1014.4 2031L1012.9 2010.2L1012.9 1989.4L1013.2 1968.6L1014.2 1947.8L1018.2 1927L1018.2 1906.2L1018.2 1885.5L1012.6 1864.7L1012.6 1864.7L994.3 1843.9L994.3 1823.1L987.6 1802.3L985.1 1797.1L970 1781.5L957.5 1774.6L929.9 1760.7L929.9 1760.7L902.3 1760.7L902.3 1739.9L902.3 1719.1L902.3 1698.3Z" fill="#0AA3FF" fill-rule="evenodd"/>
<path d="M1026.4 1698.3L1040.2 1687.9L1054 1677.6L1067.8 1677.6L1095.4 1677.6L1122.9 1677.6L1150.5 1677.6L1178.1 1677.6L1205.7 1677.6L1205.7 1677.6L1205.7 1677.6L1233.2 1677.6L1260.8 1677.6L1288.4 1677.6L1316 1677.6L1343.5 1677.6L1371.1 1677.6L1384.9 1677.6L1371.1 1687.9L1361.9 1698.3L1357.3 1719.1L1371.1 1724.3L1398.7 1726.1L1426.3 1724.8L1453.8 1739.9L1453.8 1739.9L1481.4 1745.1L1481.4 1760.7L1481.4 1781.5L1481.4 1802.3L1481.4 1823.1L1481.4 1843.9L1481.4 1864.7L1481.4 1885.5L1481.4 1906.2L1481.4 1927L1481.4 1947.8L1481.4 1968.6L1481.4 1989.4L1481.4 2010.2L1481.4 2031L1481.4 2051.8L1481.4 2072.6L1481.4 2093.3L1481.4 2114.1L1481.4 2134.9L1481.4 2155.7L1481.4 2176.5L1481.4 2197.3L1481.4 2218.1L1481.4 2238.9L1453.8 2238.9L1426.3 2238.9L1398.7 2238.9L1371.1 2238.9L1343.5 2238.9L1316 2238.9L1288.4 2238.9L1260.8 2238.9L1233.2 2238.9L1205.7 2238.9L1178.1 2238.9L1150.5 2238.9L1122.9 2238.9L1122.9 2238.9L1115.9 2218.1L1095.4 2197.3L1095.4 2197.3L1081.6 2176.5L1070.1 2155.7L1067.8 2145.3L1061.1 2134.9L1046.9 2114.1L1041.5 2093.3L1040.2 2072.6L1040.2 2072.6L1019.4 2051.8L1018.4 2031L1016 2010.2L1015.8 1989.4L1016.8 1968.6L1024.6 1947.8L1040.2 1927L1040.2 1927L1040.2 1906.2L1040.2 1885.5L1040.2 1885.5L1031 1864.7L1026.4 1843.9L1021.8 1823.1L1012.6 1802.3L1012.6 1802.3L1001.2 1781.5L985.1 1769.4L971.3 1760.7L957.5 1755.5L929.9 1750.3L902.3 1750.3L902.3 1739.9L902.3 1719.1L902.3 1708.7L929.9 1708.7L957.5 1703.5L985.1 1705.3L1012.6 1719.1L1012.6 1719.1L1012.6 1719.1ZM1095.4 1739.9L1095.4 1739.9L1095.4 1739.9L1095.4 1739.9Z" fill="#39B8FF" fill-rule="evenodd"/>
<path d="M1054 1698.3L1067.8 1687.9L1095.4 1682.8L1122.9 1682.8L1150.5 1677.6L1150.5 1677.6L1178.1 1677.6L1187.3 1677.6L1205.7 1687.9L1233.2 1677.6L1233.2 1677.6L1260.8 1677.6L1288.4 1677.6L1316 1677.6L1343.5 1677.6L1357.3 1677.6L1343.5 1698.3L1343.5 1698.3L1336.6 1719.1L1343.5 1724.3L1371.1 1734.7L1398.7 1739.9L1398.7 1739.9L1426.3 1742.4L1453.8 1750.3L1481.4 1755.5L1481.4 1760.7L1481.4 1781.5L1481.4 1802.3L1481.4 1823.1L1481.4 1843.9L1481.4 1864.7L1481.4 1885.5L1481.4 1906.2L1481.4 1927L1481.4 1947.8L1481.4 1968.6L1481.4 1989.4L1481.4 2010.2L1481.4 2031L1481.4 2051.8L1481.4 2072.6L1481.4 2093.3L1481.4 2114.1L1481.4 2134.9L1481.4 2155.7L1481.4 2176.5L1481.4 2197.3L1481.4 2218.1L1481.4 2238.9L1453.8 2238.9L1426.3 2238.9L1398.7 2238.9L1371.1 2238.9L1343.5 2238.9L1316 2238.9L1288.4 2238.9L1260.8 2238.9L1233.2 2238.9L1205.7 2238.9L1178.1 2238.9L1150.5 2238.9L1134 2238.9L1125.2 2218.1L1122.9 2215.5L1101.5 2197.3L1095.4 2176.5L1095.4 2176.5L1074.7 2155.7L1068.8 2134.9L1067.8 2132.3L1051.6 2114.1L1043.4 2093.3L1041.4 2072.6L1040.2 2067.9L1024 2051.8L1022.4 2031L1019 2010.2L1018.7 1989.4L1020.4 1968.6L1035 1947.8L1040.2 1940.9L1043.5 1927L1043.9 1906.2L1042.4 1885.5L1041.5 1864.7L1041.1 1843.9L1040.2 1823.1L1040.2 1823.1L1031 1802.3L1021.8 1781.5L1012.6 1771.1L998.9 1760.7L985.1 1753.8L957.5 1745.1L929.9 1739.9L943.7 1719.1L957.5 1713.9L985.1 1719.1L985.1 1719.1L1012.6 1729.5L1040.2 1729.5L1067.8 1729.5L1077 1739.9L1095.4 1760.7L1095.4 1760.7L1122.9 1781.5L1122.9 1781.5L1150.5 1791.9L1164.3 1802.3L1178.1 1809.2L1191.9 1802.3L1185 1781.5L1178.1 1760.7L1178.1 1760.7L1150.5 1739.9L1150.5 1739.9L1122.9 1734.7L1095.4 1726.1L1081.6 1719.1L1067.8 1708.7ZM1205.7 1823.1L1205.7 1823.1L1205.7 1823.1L1205.7 1823.1ZM1205.7 2051.8L1205.7 2051.8L1191.9 2072.6L1178.1 2093.3L1178.1 2093.3L1178.1 2093.3L1205.7 2093.3L1205.7 2093.3L1219.5 2072.6L1205.7 2051.8Z" fill="#47D1FF" fill-rule="evenodd"/>
<path d="M1081.6 1698.3L1095.4 1693.1L1122.9 1693.1L1150.5 1691.4L1178.1 1687.9L1205.7 1698.3L1205.7 1698.3L1205.7 1698.3L1233.2 1691.4L1251.6 1677.6L1260.8 1677.6L1288.4 1677.6L1316 1677.6L1329.8 1677.6L1316 1698.3L1316 1698.3L1316 1698.3L1322.9 1719.1L1343.5 1734.7L1357.3 1739.9L1371.1 1745.1L1398.7 1750.3L1426.3 1754.6L1453.8 1760.7L1453.8 1760.7L1481.4 1765.9L1481.4 1781.5L1481.4 1802.3L1481.4 1823.1L1481.4 1843.9L1481.4 1864.7L1481.4 1885.5L1481.4 1906.2L1481.4 1927L1481.4 1947.8L1481.4 1968.6L1481.4 1989.4L1481.4 2010.2L1481.4 2031L1481.4 2051.8L1481.4 2072.6L1481.4 2093.3L1481.4 2114.1L1481.4 2134.9L1481.4 2155.7L1481.4 2176.5L1481.4 2197.3L1481.4 2218.1L1481.4 2238.9L1453.8 2238.9L1426.3 2238.9L1398.7 2238.9L1371.1 2238.9L1343.5 2238.9L1316 2238.9L1288.4 2238.9L1260.8 2238.9L1233.2 2238.9L1205.7 2238.9L1178.1 2238.9L1150.5 2238.9L1145 2238.9L1129.8 2218.1L1122.9 2210.3L1107.6 2197.3L1097.4 2176.5L1095.4 2171.9L1079.3 2155.7L1070.8 2134.9L1067.8 2127.1L1056.2 2114.1L1045.2 2093.3L1042.6 2072.6L1040.2 2063.3L1028.6 2051.8L1026.3 2031L1022 2010.2L1021.5 1989.4L1024 1968.6L1040.2 1949.9L1042.2 1947.8L1046.7 1927L1047.6 1906.2L1044.6 1885.5L1044 1864.7L1042.8 1843.9L1043.9 1823.1L1043 1802.3L1040.2 1781.5L1040.2 1781.5L1026.4 1760.7L1040.2 1750.3L1067.8 1746.9L1081.6 1760.7L1095.4 1774.6L1104.6 1781.5L1122.9 1787.4L1145.9 1802.3L1150.5 1807.5L1178.1 1823.1L1178.1 1823.1L1198.8 1843.9L1205.7 1845.9L1219.5 1843.9L1216.7 1823.1L1208 1802.3L1205.7 1791.9L1198.8 1781.5L1189.1 1760.7L1178.1 1739.9L1178.1 1739.9L1150.5 1726.1L1122.9 1724.3L1109.2 1719.1L1095.4 1708.7ZM1343.5 1802.3L1343.5 1802.3L1343.5 1802.3L1343.5 1802.3ZM1205.7 2043.5L1191.9 2051.8L1178.1 2065.6L1171.2 2072.6L1159.7 2093.3L1173.5 2114.1L1178.1 2117.6L1205.7 2114.1L1205.7 2114.1L1233.2 2093.3L1233.2 2093.3L1238.8 2072.6L1233.2 2051.8L1233.2 2051.8Z" fill="#42E6FF" fill-rule="evenodd"/>
<path d="M1242.4 1698.3L1260.8 1684.5L1288.4 1687.9L1297.6 1698.3L1306.8 1719.1L1316 1729.5L1329.8 1739.9L1343.5 1750.3L1371.1 1755.5L1398.7 1760.7L1398.7 1760.7L1426.3 1764.2L1453.8 1769L1481.4 1776.3L1481.4 1781.5L1481.4 1802.3L1481.4 1823.1L1481.4 1843.9L1481.4 1864.7L1481.4 1885.5L1481.4 1906.2L1481.4 1927L1481.4 1947.8L1481.4 1968.6L1481.4 1989.4L1481.4 2010.2L1481.4 2031L1481.4 2051.8L1481.4 2072.6L1481.4 2093.3L1481.4 2114.1L1481.4 2134.9L1481.4 2155.7L1481.4 2176.5L1481.4 2197.3L1481.4 2218.1L1481.4 2238.9L1453.8 2238.9L1426.3 2238.9L1398.7 2238.9L1371.1 2238.9L1343.5 2238.9L1316 2238.9L1288.4 2238.9L1260.8 2238.9L1233.2 2238.9L1205.7 2238.9L1178.1 2238.9L1152.2 2238.9L1150.5 2236.3L1134.4 2218.1L1122.9 2205.1L1113.7 2197.3L1099.5 2176.5L1095.4 2167.3L1083.9 2155.7L1072.8 2134.9L1067.8 2121.9L1060.8 2114.1L1047 2093.3L1043.8 2072.6L1040.2 2058.7L1033.3 2051.8L1030.3 2031L1025.1 2010.2L1024.4 1989.4L1027.6 1968.6L1040.2 1954.1L1046.1 1947.8L1049.9 1927L1051.2 1906.2L1046.8 1885.5L1046.5 1864.7L1044.5 1843.9L1047.6 1823.1L1048.5 1802.3L1058.6 1781.5L1067.8 1760.7L1081.6 1781.5L1095.4 1783.6L1122.9 1793.4L1136.7 1802.3L1150.5 1817.9L1159.7 1823.1L1178.1 1836.9L1185 1843.9L1205.7 1850.1L1233.2 1849.1L1236.7 1843.9L1233.2 1833.5L1227.7 1823.1L1212.6 1802.3L1208 1781.5L1205.7 1771.1L1200.2 1760.7L1196.5 1739.9L1205.7 1729.5L1214.9 1719.1L1233.2 1705.3ZM1343.5 1771.1L1329.8 1781.5L1325.2 1802.3L1343.5 1816.2L1371.1 1802.3L1371.1 1802.3L1371.1 1802.3L1352.7 1781.5ZM1178.1 2051.8L1178.1 2051.8L1157.4 2072.6L1150.5 2083L1149 2093.3L1150.5 2096.8L1166.9 2114.1L1178.1 2122.5L1205.7 2117.3L1233.2 2114.1L1233.2 2114.1L1244.3 2093.3L1249.8 2072.6L1247 2051.8L1233.2 2037.9L1205.7 2035.1Z" fill="#42FCFF" fill-rule="evenodd"/>
<path d="M1233.2 1719.1L1260.8 1698.3L1288.4 1719.1L1288.4 1719.1L1312.5 1739.9L1316 1760.7L1311.4 1781.5L1311.4 1802.3L1316 1823.1L1316 1823.1L1343.5 1833.5L1371.1 1843.9L1371.1 1843.9L1398.7 1843.9L1426.3 1843.9L1426.3 1843.9L1426.3 1843.9L1398.7 1823.1L1398.7 1802.3L1398.7 1802.3L1371.1 1781.5L1398.7 1771.1L1426.3 1771.1L1453.8 1777.3L1467.6 1781.5L1481.4 1786.7L1481.4 1802.3L1481.4 1823.1L1481.4 1843.9L1481.4 1864.7L1481.4 1885.5L1481.4 1906.2L1481.4 1927L1481.4 1947.8L1481.4 1968.6L1481.4 1989.4L1481.4 2010.2L1481.4 2031L1481.4 2051.8L1481.4 2072.6L1481.4 2093.3L1481.4 2114.1L1481.4 2134.9L1481.4 2155.7L1481.4 2176.5L1481.4 2197.3L1481.4 2218.1L1481.4 2238.9L1453.8 2238.9L1426.3 2238.9L1398.7 2238.9L1371.1 2238.9L1343.5 2238.9L1316 2238.9L1288.4 2238.9L1260.8 2238.9L1233.2 2238.9L1205.7 2238.9L1178.1 2238.9L1155.7 2238.9L1150.5 2231.1L1139 2218.1L1122.9 2199.9L1119.9 2197.3L1101.6 2176.5L1095.4 2162.6L1088.5 2155.7L1074.8 2134.9L1067.8 2116.7L1065.5 2114.1L1048.9 2093.3L1045 2072.6L1040.2 2054.1L1037.9 2051.8L1034.3 2031L1028.1 2010.2L1027.3 1989.4L1031.2 1968.6L1040.2 1958.2L1050.1 1947.8L1053.2 1927L1054.9 1906.2L1049 1885.5L1049 1864.7L1046.2 1843.9L1051.2 1823.1L1054 1802.3L1067.8 1785L1095.4 1787.7L1122.9 1799.3L1127.5 1802.3L1147.1 1823.1L1150.5 1833.5L1164.3 1843.9L1178.1 1845.6L1205.7 1854.3L1233.2 1859.5L1243.6 1843.9L1235.5 1823.1L1233.2 1820.5L1217.2 1802.3L1212.6 1781.5L1207.4 1760.7L1207.6 1739.9L1233.2 1719.1ZM1288.4 1947.8L1288.4 1947.8L1288.4 1947.8L1316 1947.8L1316 1947.8L1316 1947.8ZM1150.5 2031L1150.5 2031L1150.5 2031L1164.3 2051.8L1150.5 2065.6L1149 2072.6L1145.9 2093.3L1150.5 2103.7L1160.4 2114.1L1178.1 2127.5L1205.7 2120.5L1233.2 2116.2L1247 2114.1L1255.3 2093.3L1260.8 2072.6L1260.8 2072.6L1260.8 2051.8L1260.8 2051.8L1240.1 2031L1233.2 2028L1205.7 2027.5L1178.1 2020.6Z" fill="#43FFE0" fill-rule="evenodd"/>
<path d="M1242.4 1719.1L1260.8 1705.3L1279.2 1719.1L1288.4 1725.1L1305.6 1739.9L1309.8 1760.7L1302.2 1781.5L1302.2 1802.3L1304.9 1823.1L1316 1833.5L1334.3 1843.9L1343.5 1854.3L1371.1 1864.7L1371.1 1885.5L1371.1 1885.5L1398.7 1885.5L1426.3 1885.5L1453.8 1885.5L1453.8 1885.5L1453.8 1885.5L1426.3 1864.7L1453.8 1843.9L1453.8 1843.9L1453.8 1843.9L1426.3 1823.1L1426.3 1802.3L1426.3 1802.3L1398.7 1781.5L1426.3 1778L1440.1 1781.5L1453.8 1788.4L1481.4 1797.1L1481.4 1802.3L1481.4 1823.1L1481.4 1843.9L1481.4 1864.7L1481.4 1885.5L1481.4 1906.2L1481.4 1927L1481.4 1947.8L1481.4 1963.4L1453.8 1968.6L1453.8 1968.6L1453.8 1989.4L1453.8 1989.4L1481.4 1994.6L1481.4 2010.2L1481.4 2031L1481.4 2051.8L1481.4 2072.6L1481.4 2093.3L1481.4 2114.1L1481.4 2134.9L1481.4 2155.7L1481.4 2176.5L1481.4 2197.3L1481.4 2218.1L1481.4 2238.9L1453.8 2238.9L1426.3 2238.9L1398.7 2238.9L1371.1 2238.9L1343.5 2238.9L1316 2238.9L1288.4 2238.9L1260.8 2238.9L1233.2 2238.9L1205.7 2238.9L1178.1 2238.9L1159.1 2238.9L1150.5 2225.9L1143.6 2218.1L1123.8 2197.3L1122.9 2196.2L1103.7 2176.5L1095.4 2158L1093.1 2155.7L1076.8 2134.9L1068.1 2114.1L1067.8 2113.1L1050.7 2093.3L1046.2 2072.6L1041.9 2051.8L1040.2 2041.4L1038.2 2031L1031.1 2010.2L1030.2 1989.4L1034.8 1968.6L1040.2 1962.4L1054 1947.8L1056.4 1927L1058.6 1906.2L1051.2 1885.5L1051.5 1864.7L1047.9 1843.9L1054.9 1823.1L1059.5 1802.3L1067.8 1791.9L1095.4 1791.9L1118.3 1802.3L1122.9 1805.8L1140.2 1823.1L1147.1 1843.9L1150.5 1847.3L1178.1 1849.1L1205.7 1858.4L1226.3 1864.7L1233.2 1885.5L1233.2 1885.5L1233.2 1885.5L1247 1864.7L1250.5 1843.9L1240.1 1823.1L1233.2 1815.3L1221.8 1802.3L1217.2 1781.5L1210.8 1760.7L1211.6 1739.9L1233.2 1722.3ZM1288.4 1906.2L1288.4 1906.2L1288.4 1927L1260.8 1947.8L1242.4 1927L1233.2 1916.6L1227.7 1927L1233.2 1947.8L1233.2 1947.8L1260.8 1947.8L1288.4 1951.6L1316 1968.6L1316 1968.6L1343.5 1989.4L1343.5 1989.4L1343.5 1989.4L1343.5 1968.6L1343.5 1947.8L1343.5 1947.8L1316 1934L1288.4 1927L1288.4 1906.2ZM1150.5 2010.2L1150.5 2010.2L1141.3 2031L1150.5 2051.8L1145.9 2072.6L1142.9 2093.3L1150.5 2110.7L1153.8 2114.1L1178.1 2132.4L1205.7 2123.7L1233.2 2118.3L1260.8 2114.1L1288.4 2114.1L1288.4 2114.1L1293 2093.3L1288.4 2088.1L1271.8 2072.6L1270 2051.8L1260.8 2037.9L1253.9 2031L1233.2 2022.1L1205.7 2020.6L1185 2010.2L1178.1 2007.6ZM1316 2072.6L1316 2072.6L1316 2072.6L1316 2072.6Z" fill="#43FFB3" fill-rule="evenodd"/>
<path d="M1251.6 1719.1L1260.8 1712.2L1270 1719.1L1288.4 1731L1298.7 1739.9L1303.7 1760.7L1293 1781.5L1293 1802.3L1293.9 1823.1L1316 1843.9L1316 1843.9L1339.6 1864.7L1343.5 1875.1L1352.7 1885.5L1371.1 1893.8L1398.7 1893.8L1426.3 1895.8L1453.8 1906.2L1453.8 1906.2L1453.8 1906.2L1481.4 1892.4L1481.4 1906.2L1481.4 1927L1481.4 1947.8L1481.4 1953L1453.8 1958.2L1440.1 1968.6L1444.6 1989.4L1453.8 1996.3L1481.4 2005L1481.4 2010.2L1481.4 2031L1481.4 2051.8L1481.4 2072.6L1481.4 2093.3L1481.4 2114.1L1481.4 2134.9L1481.4 2155.7L1481.4 2176.5L1481.4 2197.3L1481.4 2218.1L1481.4 2238.9L1453.8 2238.9L1426.3 2238.9L1398.7 2238.9L1371.1 2238.9L1343.5 2238.9L1316 2238.9L1288.4 2238.9L1260.8 2238.9L1233.2 2238.9L1205.7 2238.9L1178.1 2238.9L1162.6 2238.9L1150.5 2220.7L1148.2 2218.1L1125.5 2197.3L1122.9 2194.1L1105.8 2176.5L1096.1 2155.7L1095.4 2154.5L1078.8 2134.9L1068.7 2114.1L1067.8 2110.9L1052.6 2093.3L1047.4 2072.6L1045.4 2051.8L1043.7 2031L1040.2 2026.8L1034.2 2010.2L1033 1989.4L1038.4 1968.6L1040.2 1966.5L1057.9 1947.8L1059.7 1927L1062.3 1906.2L1053.5 1885.5L1054 1864.7L1049.5 1843.9L1058.6 1823.1L1065 1802.3L1067.8 1798.8L1095.4 1796.1L1109.2 1802.3L1122.9 1812.7L1133.3 1823.1L1140.2 1843.9L1150.5 1854.3L1178.1 1852.5L1205.7 1862.6L1212.6 1864.7L1228.2 1885.5L1229.3 1906.2L1216.7 1927L1225.4 1947.8L1233.2 1950.4L1260.8 1951L1288.4 1955.4L1309.8 1968.6L1316 1989.4L1316 1989.4L1343.5 2010.2L1343.5 2010.2L1343.5 2010.2L1357.3 1989.4L1371.1 1968.6L1398.7 1968.6L1398.7 1968.6L1398.7 1968.6L1371.1 1968.6L1357.3 1947.8L1343.5 1934L1329.8 1927L1316 1916.6L1306.8 1906.2L1288.4 1897.9L1274.6 1906.2L1260.8 1927L1242.4 1906.2L1260.8 1885.5L1260.8 1885.5L1263.9 1864.7L1260.8 1854.3L1257.4 1843.9L1244.7 1823.1L1233.2 1810.1L1226.3 1802.3L1221.8 1781.5L1214.3 1760.7L1215.5 1739.9L1233.2 1725.5ZM1150.5 2005.6L1136.7 2010.2L1132.1 2031L1145.5 2051.8L1142.9 2072.6L1139.8 2093.3L1149.7 2114.1L1150.5 2115.3L1176.5 2134.9L1178.1 2136.3L1182.7 2134.9L1205.7 2126.9L1233.2 2120.4L1260.8 2122.5L1288.4 2124.5L1296.3 2114.1L1302.2 2093.3L1316 2080.9L1329.8 2072.6L1316 2062.2L1297.6 2072.6L1288.4 2077.8L1282.9 2072.6L1279.2 2051.8L1261.9 2031L1260.8 2029.1L1233.2 2016.1L1205.7 2013.7L1198.8 2010.2L1178.1 2002.4ZM1437.3 1823.1L1453.8 1802.3L1481.4 1823.1L1453.8 1835.6ZM1463 1864.7L1481.4 1850.8L1481.4 1864.7L1481.4 1878.5Z" fill="#45FF52" fill-rule="evenodd"/>
<path d="M1219.5 1739.9L1233.2 1728.7L1260.8 1719.1L1288.4 1737L1291.8 1739.9L1297.6 1760.7L1288.4 1776.3L1287 1781.5L1287.7 1802.3L1283.8 1823.1L1288.4 1833.5L1297.6 1843.9L1316 1850.8L1331.7 1864.7L1338.9 1885.5L1316 1902.8L1288.4 1889.6L1279.2 1885.5L1270 1864.7L1274.6 1843.9L1260.8 1840.4L1249.3 1823.1L1233.2 1804.9L1230.9 1802.3L1226.3 1781.5L1217.7 1760.7ZM1081.6 1802.3L1095.4 1800.2L1100 1802.3L1122.9 1819.6L1126.4 1823.1L1133.3 1843.9L1150.5 1861.2L1178.1 1856L1201.1 1864.7L1205.7 1867.3L1223.2 1885.5L1221.4 1906.2L1205.7 1927L1205.7 1927L1205.7 1927L1217.5 1947.8L1233.2 1953L1260.8 1954.2L1288.4 1959.2L1303.7 1968.6L1311.7 1989.4L1316 2003.3L1325.2 2010.2L1343.5 2031L1316 2051.8L1288.4 2051.8L1264.1 2031L1260.8 2025.3L1233.2 2010.2L1233.2 2010.2L1205.7 2008.5L1178.1 1997.2L1150.5 2000.9L1122.9 2010.2L1122.9 2010.2L1122.9 2031L1122.9 2031L1140.5 2051.8L1139.8 2072.6L1136.7 2093.3L1148.2 2114.1L1150.5 2117.7L1173.4 2134.9L1178.1 2139.1L1191.9 2134.9L1205.7 2130.1L1233.2 2122.5L1260.8 2130.8L1288.4 2134.9L1288.4 2134.9L1288.4 2134.9L1304.1 2114.1L1311.4 2093.3L1316 2089.2L1343.5 2072.6L1371.1 2072.6L1398.7 2079.5L1404.2 2072.6L1398.7 2065.6L1371.1 2051.8L1371.1 2031L1371.1 2031L1351.4 2010.2L1371.1 1989.4L1371.1 1989.4L1398.7 1982.5L1426.3 1968.6L1435.5 1989.4L1453.8 2003.3L1472.2 2010.2L1481.4 2015.4L1481.4 2031L1481.4 2051.8L1481.4 2072.6L1481.4 2093.3L1481.4 2114.1L1481.4 2134.9L1481.4 2155.7L1481.4 2176.5L1481.4 2197.3L1481.4 2218.1L1481.4 2238.9L1453.8 2238.9L1426.3 2238.9L1398.7 2238.9L1371.1 2238.9L1343.5 2238.9L1316 2238.9L1288.4 2238.9L1260.8 2238.9L1233.2 2238.9L1205.7 2238.9L1178.1 2238.9L1166 2238.9L1151.2 2218.1L1150.5 2217.3L1127.2 2197.3L1122.9 2192L1107.9 2176.5L1097.4 2155.7L1095.4 2152.1L1080.8 2134.9L1069.4 2114.1L1067.8 2108.8L1054.4 2093.3L1048.6 2072.6L1048.8 2051.8L1050.6 2031L1040.2 2018.5L1037.2 2010.2L1035.9 1989.4L1040.2 1973.8L1043.7 1968.6L1061.9 1947.8L1062.9 1927L1066 1906.2L1055.7 1885.5L1056.5 1864.7L1051.2 1843.9L1062.3 1823.1L1067.8 1807.5ZM1453.8 2114.1L1453.8 2114.1L1453.8 2114.1L1453.8 2114.1ZM1448.3 1823.1L1453.8 1816.2L1463 1823.1L1453.8 1827.2ZM1343.5 1906.2L1371.1 1902.1L1398.7 1902.1L1426.3 1906.2L1426.3 1906.2L1453.8 1927L1453.8 1947.8L1426.3 1968.6L1398.7 1958.2L1371.1 1947.8L1371.1 1947.8L1349.1 1927Z" fill="#66FF3D" fill-rule="evenodd"/>
<path d="M1223.4 1739.9L1233.2 1731.9L1260.8 1720.7L1287.3 1739.9L1288.4 1750.3L1291.5 1760.7L1288.4 1765.9L1284.4 1781.5L1286.2 1802.3L1274.6 1823.1L1260.8 1833.5L1253.9 1823.1L1234 1802.3L1233.2 1791.9L1230.9 1781.5L1221.2 1760.7ZM1066 1823.1L1067.8 1817.9L1095.4 1804.9L1119.5 1823.1L1122.9 1833.5L1126.4 1843.9L1122.9 1854.3L1116 1864.7L1122.9 1866.2L1150.5 1865.8L1157.4 1864.7L1178.1 1859.5L1191.9 1864.7L1205.7 1872.5L1218.2 1885.5L1213.5 1906.2L1205.7 1916.6L1200.7 1927L1205.7 1940.9L1209.6 1947.8L1233.2 1955.6L1260.8 1957.4L1288.4 1962.9L1297.6 1968.6L1307.5 1989.4L1314.7 2010.2L1314.7 2031L1288.4 2049.9L1266.3 2031L1260.8 2021.5L1240.1 2010.2L1233.2 2008.9L1205.7 2005L1178.1 1992L1150.5 1996.3L1122.9 2004.2L1111.9 2010.2L1109.2 2031L1122.9 2036.9L1135.5 2051.8L1136.7 2072.6L1133.7 2093.3L1146.6 2114.1L1150.5 2120.1L1170.2 2134.9L1178.1 2141.9L1201.1 2134.9L1205.7 2133.3L1233.2 2124.5L1258.3 2134.9L1260.8 2138.4L1288.4 2143.2L1302.2 2134.9L1312 2114.1L1316 2103.7L1325.2 2093.3L1343.5 2083L1371.1 2093.3L1371.1 2093.3L1398.7 2093.3L1426.3 2093.3L1435.5 2114.1L1453.8 2128L1481.4 2124.5L1481.4 2134.9L1481.4 2155.7L1481.4 2176.5L1481.4 2197.3L1481.4 2218.1L1481.4 2238.9L1453.8 2238.9L1426.3 2238.9L1398.7 2238.9L1380.3 2238.9L1380.3 2218.1L1371.1 2197.3L1371.1 2197.3L1352.7 2176.5L1343.5 2166.1L1338 2176.5L1340.1 2197.3L1343.5 2218.1L1343.5 2218.1L1357.3 2238.9L1343.5 2238.9L1316 2238.9L1288.4 2238.9L1260.8 2238.9L1233.2 2238.9L1205.7 2238.9L1178.1 2238.9L1169.5 2238.9L1152.7 2218.1L1150.5 2215.9L1129 2197.3L1122.9 2189.8L1109.9 2176.5L1098.8 2155.7L1095.4 2149.8L1082.8 2134.9L1070 2114.1L1067.8 2106.7L1056.3 2093.3L1049.8 2072.6L1052.3 2051.8L1057.4 2031L1040.2 2010.2L1040.2 2010.2L1038.8 1989.4L1040.2 1984.2L1050.6 1968.6L1065.8 1947.8L1066.2 1927L1067.8 1916.6L1074.7 1906.2L1067.8 1904.2L1057.9 1885.5L1059 1864.7L1052.9 1843.9ZM1276.1 1864.7L1288.4 1848L1316 1857.7L1323.8 1864.7L1329.8 1885.5L1316 1895.8L1295.3 1885.5L1288.4 1881.3ZM1360.1 1927L1371.1 1913.2L1398.7 1910.4L1426.3 1920.1L1435.5 1927L1426.3 1937.4L1398.7 1947.8L1371.1 1937.4ZM1359.3 2010.2L1371.1 1997.7L1391.8 2010.2L1371.1 2022.7ZM1407.9 2010.2L1426.3 1989.4L1453.8 2010.2L1453.8 2010.2L1481.4 2025.8L1481.4 2031L1481.4 2051.8L1481.4 2072.6L1481.4 2083L1453.8 2089.9L1426.3 2093.3L1415.2 2072.6L1398.7 2051.8L1398.7 2031Z" fill="#8FFF3D" fill-rule="evenodd"/>
<path d="M1227.3 1739.9L1233.2 1735.1L1260.8 1722.2L1285.2 1739.9L1287.9 1760.7L1281.7 1781.5L1284.8 1802.3L1265.4 1823.1L1260.8 1826.5L1258.5 1823.1L1235.5 1802.3L1234.9 1781.5L1233.2 1778L1224.6 1760.7ZM1072.4 1823.1L1095.4 1810.1L1112.6 1823.1L1119.5 1843.9L1102.3 1864.7L1122.9 1869.3L1150.5 1868L1171.2 1864.7L1178.1 1862.9L1182.7 1864.7L1205.7 1877.7L1213.2 1885.5L1205.7 1906.2L1205.7 1906.2L1195.6 1927L1198.8 1947.8L1205.7 1950.1L1233.2 1958.2L1260.8 1960.6L1288.4 1966.7L1291.5 1968.6L1303.2 1989.4L1312 2010.2L1312 2031L1288.4 2048L1268.5 2031L1260.8 2017.7L1247 2010.2L1233.2 2007.6L1205.7 2001.5L1181.5 1989.4L1178.1 1986.4L1164.3 1989.4L1150.5 1991.7L1122.9 1998.3L1100.9 2010.2L1095.4 2031L1095.4 2031L1095.4 2031L1122.9 2042.9L1130.5 2051.8L1133.7 2072.6L1130.6 2093.3L1145 2114.1L1150.5 2122.5L1167.1 2134.9L1178.1 2144.6L1205.7 2136.7L1208.7 2134.9L1233.2 2126.6L1253.3 2134.9L1260.8 2145.3L1288.4 2151.6L1316 2155.7L1316 2155.7L1327 2176.5L1333.2 2197.3L1334.3 2218.1L1336.6 2238.9L1316 2238.9L1288.4 2238.9L1260.8 2238.9L1233.2 2238.9L1205.7 2238.9L1178.1 2238.9L1172.9 2238.9L1154.1 2218.1L1150.5 2214.4L1130.7 2197.3L1122.9 2187.7L1112 2176.5L1100.2 2155.7L1095.4 2147.4L1084.8 2134.9L1070.6 2114.1L1067.8 2104.5L1058.1 2093.3L1051 2072.6L1055.7 2051.8L1064.3 2031L1058.6 2010.2L1043.7 1989.4L1057.4 1968.6L1067.8 1953L1081.6 1947.8L1081.6 1927L1088.5 1906.2L1067.8 1900L1060.1 1885.5L1061.5 1864.7L1054.6 1843.9L1067.8 1824.3ZM1282.3 1864.7L1288.4 1856.3L1316 1864.7L1288.4 1873ZM1309.1 1885.5L1316 1864.7L1320.6 1885.5L1316 1888.9ZM1371.1 1927L1398.7 1918.7L1417.1 1927L1398.7 1937.4ZM1367.2 2010.2L1371.1 2006L1378 2010.2L1371.1 2014.3ZM1412.5 2031L1426.3 2010.2L1453.8 2016.1L1476.8 2031L1481.4 2041.4L1481.4 2051.8L1481.4 2062.2L1474.5 2072.6L1453.8 2083L1426.3 2072.6L1426.3 2072.6L1407.9 2051.8ZM1321.5 2114.1L1343.5 2093.3L1371.1 2099.3L1398.7 2099.3L1421.7 2114.1L1426.3 2134.9L1426.3 2134.9L1453.8 2145.3L1481.4 2145.3L1481.4 2155.7L1481.4 2176.5L1481.4 2197.3L1481.4 2218.1L1481.4 2238.9L1453.8 2238.9L1426.3 2238.9L1398.7 2238.9L1398.7 2218.1L1398.7 2197.3L1426.3 2176.5L1426.3 2176.5L1426.3 2176.5L1398.7 2176.5L1371.1 2176.5L1352.7 2155.7L1343.5 2148.8L1316 2134.9Z" fill="#B8FF3D" fill-rule="evenodd"/>
<path d="M1231.3 1739.9L1233.2 1738.3L1260.8 1723.8L1283.1 1739.9L1287 1760.7L1279 1781.5L1283.3 1802.3L1260.8 1822.4L1237.1 1802.3L1238.3 1781.5L1233.2 1771.1L1228.1 1760.7ZM1081.6 1823.1L1095.4 1815.3L1105.7 1823.1L1112.6 1843.9L1095.4 1861.2L1088.5 1864.7L1095.4 1866.8L1122.9 1872.4L1150.5 1870.3L1178.1 1865.3L1205.7 1882.9L1208.2 1885.5L1205.7 1892.4L1202.1 1906.2L1190.6 1927L1185 1947.8L1205.7 1954.7L1233.2 1960.8L1260.8 1963.8L1281.5 1968.6L1288.4 1972.1L1299 1989.4L1309.4 2010.2L1309.4 2031L1288.4 2046.1L1270.7 2031L1260.8 2014L1253.9 2010.2L1233.2 2006.3L1205.7 1998.1L1188.4 1989.4L1178.1 1980.5L1150.5 1982.5L1136.7 1989.4L1122.9 1992.4L1095.4 2006L1067.8 2006.7L1050.6 1989.4L1064.3 1968.6L1067.8 1963.4L1095.4 1950.8L1122.9 1947.8L1122.9 1947.8L1122.9 1947.8L1102.3 1927L1098.3 1906.2L1095.4 1904.1L1067.8 1895.8L1062.3 1885.5L1064 1864.7L1056.3 1843.9L1067.8 1826.9ZM1426.3 2031L1453.8 2022.1L1467.6 2031L1479.8 2051.8L1460.7 2072.6L1453.8 2076L1444.6 2072.6L1426.3 2062.2L1417.1 2051.8L1426.3 2031ZM1059.2 2051.8L1067.8 2034.4L1095.4 2033.3L1122.9 2048.8L1125.4 2051.8L1130.6 2072.6L1127.5 2093.3L1143.4 2114.1L1150.5 2124.8L1163.9 2134.9L1178.1 2147.4L1205.7 2140.3L1214.9 2134.9L1233.2 2128.7L1248.3 2134.9L1260.8 2152.2L1274.6 2155.7L1288.4 2158.7L1316 2176.5L1316 2176.5L1326.3 2197.3L1325.2 2218.1L1322.9 2238.9L1316 2238.9L1288.4 2238.9L1260.8 2238.9L1233.2 2238.9L1205.7 2238.9L1178.1 2238.9L1176.4 2238.9L1155.6 2218.1L1150.5 2212.9L1132.4 2197.3L1122.9 2185.6L1114.1 2176.5L1101.6 2155.7L1095.4 2145L1086.8 2134.9L1071.3 2114.1L1067.8 2102.4L1060 2093.3L1052.2 2072.6ZM1332.5 2114.1L1343.5 2103.7L1371.1 2105.2L1398.7 2105.2L1412.5 2114.1L1398.7 2134.9L1371.1 2134.9L1343.5 2134.9ZM1398.7 2155.7L1426.3 2148.8L1440.1 2155.7L1426.3 2162.6ZM1440.1 2197.3L1453.8 2186.9L1481.4 2176.5L1481.4 2197.3L1481.4 2218.1L1481.4 2238.9L1453.8 2238.9L1426.3 2238.9L1417.1 2238.9L1426.3 2218.1L1426.3 2218.1Z" fill="#E0FF3D" fill-rule="evenodd"/>
<path d="M1234.6 1739.9L1260.8 1725.3L1281 1739.9L1286.1 1760.7L1276.3 1781.5L1281.9 1802.3L1260.8 1821.1L1238.6 1802.3L1241.6 1781.5L1233.2 1764.2L1231.5 1760.7L1233.2 1750.3ZM1090.8 1823.1L1095.4 1820.5L1098.8 1823.1L1105.7 1843.9L1095.4 1854.3L1074.7 1864.7L1095.4 1871.2L1122.9 1875.4L1150.5 1872.5L1178.1 1866.6L1204.7 1885.5L1198.5 1906.2L1185.6 1927L1178.1 1942.6L1150.5 1942.6L1122.9 1934L1116 1927L1104.1 1906.2L1095.4 1899.7L1067.8 1891.7L1064.5 1885.5L1066.5 1864.7L1058 1843.9L1067.8 1829.4ZM1073.3 1968.6L1095.4 1956.7L1122.9 1961.7L1150.5 1968.6L1122.9 1979L1113.7 1989.4L1095.4 1997.7L1067.8 1999.8L1057.4 1989.4L1067.8 1973.8ZM1150.5 1968.6L1178.1 1954.7L1205.7 1959.4L1233.2 1963.4L1260.8 1967L1267.7 1968.6L1288.4 1979L1294.8 1989.4L1306.8 2010.2L1306.8 2031L1288.4 2044.2L1272.9 2031L1260.8 2010.2L1260.8 2010.2L1233.2 2005L1205.7 1994.6L1195.3 1989.4L1178.1 1974.5ZM1444.6 2031L1453.8 2028L1458.4 2031L1476.5 2051.8L1453.8 2071.2L1426.3 2051.8ZM1062.6 2051.8L1067.8 2041.4L1095.4 2035.6L1121.1 2051.8L1122.9 2057L1127.5 2072.6L1124.5 2093.3L1141.8 2114.1L1150.5 2127.2L1160.8 2134.9L1178.1 2150.2L1205.7 2144L1221 2134.9L1233.2 2130.8L1243.3 2134.9L1251.6 2155.7L1260.8 2159.9L1288.4 2164.6L1306.8 2176.5L1316 2190.4L1319.4 2197.3L1316 2218.1L1316 2218.1L1306.8 2238.9L1288.4 2238.9L1260.8 2238.9L1233.2 2238.9L1205.7 2238.9L1178.9 2238.9L1178.1 2238.2L1157 2218.1L1150.5 2211.4L1134.1 2197.3L1122.9 2183.4L1116.2 2176.5L1102.9 2155.7L1095.4 2142.6L1088.8 2134.9L1071.9 2114.1L1067.8 2100.3L1061.8 2093.3L1053.4 2072.6ZM1343.5 2114.1L1371.1 2111.2L1398.7 2111.2L1403.3 2114.1L1398.7 2121.1L1371.1 2121.1ZM1453.8 2218.1L1481.4 2197.3L1481.4 2218.1L1481.4 2238.9L1453.8 2238.9L1440.1 2238.9L1453.8 2218.1Z" fill="#FFFA3D" fill-rule="evenodd"/>
<path d="M1237.4 1739.9L1260.8 1726.8L1278.8 1739.9L1285.1 1760.7L1273.6 1781.5L1280.4 1802.3L1260.8 1819.8L1240.1 1802.3L1244.9 1781.5L1233.8 1760.7ZM1059.7 1843.9L1067.8 1831.9L1095.4 1833.5L1098.8 1843.9L1095.4 1847.3L1067.8 1862.7ZM1066.7 1885.5L1067.8 1875.1L1095.4 1875.6L1122.9 1878.5L1150.5 1874.8L1178.1 1867.9L1202.9 1885.5L1195 1906.2L1180.6 1927L1178.1 1932.2L1150.5 1932.2L1136.7 1927L1122.9 1923.2L1109.9 1906.2L1095.4 1895.3L1067.8 1887.5ZM1084.3 1968.6L1095.4 1962.7L1113.7 1968.6L1095.4 1989.4ZM1178.1 1968.6L1205.7 1964L1233.2 1966L1251.6 1968.6L1260.8 1975.5L1288.4 1985.9L1290.5 1989.4L1304.1 2010.2L1304.1 2031L1288.4 2042.3L1275.2 2031L1264.8 2010.2L1260.8 1999.8L1233.2 2003.7L1205.7 1991.1L1202.2 1989.4ZM1064.3 1989.4L1067.8 1984.2L1095.4 1989.4L1067.8 1992.9ZM1066.1 2051.8L1067.8 2048.3L1095.4 2037.9L1117.4 2051.8L1122.9 2067.4L1124.5 2072.6L1122.9 2083L1122.6 2093.3L1122.9 2094.2L1140.3 2114.1L1150.5 2129.6L1157.6 2134.9L1178.1 2152.9L1205.7 2147.6L1233.2 2155.7L1233.2 2155.7L1260.8 2168.2L1288.4 2170.6L1297.6 2176.5L1314.8 2197.3L1302.2 2218.1L1288.4 2238.9L1288.4 2238.9L1260.8 2238.9L1233.2 2238.9L1205.7 2238.9L1180.5 2238.9L1178.1 2236.8L1158.5 2218.1L1150.5 2209.9L1135.9 2197.3L1122.9 2181.3L1118.3 2176.5L1104.3 2155.7L1095.4 2140.3L1090.9 2134.9L1072.5 2114.1L1067.8 2098.1L1063.6 2093.3L1054.6 2072.6ZM1430.2 2051.8L1453.8 2032.6L1473.3 2051.8L1453.8 2068.4ZM1227.1 2134.9L1233.2 2132.8L1238.3 2134.9L1233.2 2155.7ZM1467.6 2238.9L1481.4 2218.1L1481.4 2238.9Z" fill="#FFE03D" fill-rule="evenodd"/>
<path d="M1240.1 1739.9L1260.8 1728.4L1276.7 1739.9L1284.2 1760.7L1270.9 1781.5L1279 1802.3L1260.8 1818.5L1241.7 1802.3L1248.3 1781.5L1234.8 1760.7ZM1061.4 1843.9L1067.8 1834.4L1092.1 1843.9L1067.8 1858.7ZM1075.7 1885.5L1095.4 1880L1122.9 1881.6L1150.5 1877L1178.1 1869.2L1201.1 1885.5L1191.4 1906.2L1178.1 1924.6L1150.5 1924.6L1122.9 1915.7L1115.7 1906.2L1095.4 1890.9ZM1207 1989.4L1233.2 1968.6L1260.8 1989.4L1233.2 2002.4ZM1268.7 2010.2L1288.4 1991.3L1301.5 2010.2L1301.5 2031L1288.4 2040.4L1277.4 2031ZM1070.3 2051.8L1095.4 2040.2L1113.7 2051.8L1122.4 2072.6L1121.8 2093.3L1122.9 2096.1L1138.7 2114.1L1150.5 2132L1154.5 2134.9L1178.1 2155.7L1178.1 2155.7L1178.1 2155.7L1205.7 2151.2L1221 2155.7L1233.2 2158.2L1260.8 2176.5L1260.8 2176.5L1288.4 2176.5L1312.4 2197.3L1288.4 2218.1L1288.4 2218.1L1276.1 2238.9L1260.8 2238.9L1233.2 2238.9L1205.7 2238.9L1182 2238.9L1178.1 2235.4L1159.9 2218.1L1150.5 2208.4L1137.6 2197.3L1122.9 2179.2L1120.3 2176.5L1105.7 2155.7L1095.4 2137.9L1092.9 2134.9L1073.2 2114.1L1067.8 2096L1065.5 2093.3L1055.8 2072.6L1067.8 2052.8ZM1434.1 2051.8L1453.8 2035.8L1470.1 2051.8L1453.8 2065.6Z" fill="#FFB83D" fill-rule="evenodd"/>
<path d="M1247 1739.9L1260.8 1732.2L1271.4 1739.9L1281.8 1760.7L1264.2 1781.5L1275.3 1802.3L1260.8 1815.3L1245.5 1802.3L1256.6 1781.5L1237.4 1760.7ZM1065.7 1843.9L1067.8 1840.7L1075.9 1843.9L1067.8 1848.8ZM1136.7 1885.5L1150.5 1882.6L1178.1 1872.5L1196.5 1885.5L1182.5 1906.2L1178.1 1912.4L1150.5 1912.4L1136.7 1906.2ZM1213.5 1989.4L1233.2 1973.8L1253.9 1989.4L1233.2 1999.1ZM1278.5 2010.2L1288.4 2000.7L1295 2010.2L1295 2031L1288.4 2035.7L1282.9 2031ZM1082.8 2051.8L1095.4 2046L1104.6 2051.8L1119.7 2072.6L1119.9 2093.3L1122.9 2100.6L1134.8 2114.1L1149.1 2134.9L1150.5 2139.1L1168.9 2155.7L1178.1 2156.6L1205.7 2156.6L1233.2 2164.3L1251.6 2176.5L1260.8 2197.3L1260.8 2218.1L1257.8 2238.9L1233.2 2238.9L1205.7 2238.9L1186 2238.9L1178.1 2231.9L1163.6 2218.1L1150.5 2204.7L1141.9 2197.3L1123.5 2176.5L1122.9 2174.2L1109.2 2155.7L1096.8 2134.9L1095.4 2134.2L1074.8 2114.1L1068.8 2093.3L1067.8 2090.4L1058.8 2072.6L1067.8 2057.7ZM1444 2051.8L1453.8 2043.8L1462 2051.8L1453.8 2058.7ZM1260.8 2197.3L1288.4 2181.7L1306.4 2197.3L1288.4 2212.9Z" fill="#FF8F3D" fill-rule="evenodd"/>
<path d="M1253.9 1739.9L1260.8 1736.1L1266.1 1739.9L1279.5 1760.7L1260.8 1780.3L1240 1760.7ZM1249.3 1802.3L1260.8 1784.5L1271.7 1802.3L1260.8 1812ZM1154.5 1885.5L1178.1 1875.7L1191.9 1885.5L1178.1 1903.3ZM1220.1 1989.4L1233.2 1979L1247 1989.4L1233.2 1995.9ZM1061.8 2072.6L1067.8 2062.7L1095.4 2051.8L1117 2072.6L1118 2093.3L1122.9 2105.1L1130.8 2114.1L1146.2 2134.9L1150.5 2147.4L1159.7 2155.7L1178.1 2157.4L1205.7 2158.4L1233.2 2170.4L1242.4 2176.5L1253.9 2197.3L1255.3 2218.1L1251.6 2238.9L1233.2 2238.9L1205.7 2238.9L1189.9 2238.9L1178.1 2228.5L1167.2 2218.1L1150.5 2201L1146.2 2197.3L1124.7 2176.5L1122.9 2169.6L1112.6 2155.7L1099.7 2134.9L1095.4 2132.6L1076.3 2114.1L1070.9 2093.3L1067.8 2084.4ZM1270 2197.3L1288.4 2186.9L1300.4 2197.3L1288.4 2207.7Z" fill="#FF663D" fill-rule="evenodd"/>
<path d="M1245.2 1760.7L1260.8 1742.9L1274.8 1760.7L1260.8 1775.4ZM1257 1802.3L1260.8 1796.4L1264.4 1802.3L1260.8 1805.5ZM1170.2 1885.5L1178.1 1882.2L1182.7 1885.5L1178.1 1891.4ZM1067.8 2072.6L1095.4 2057L1111.6 2072.6L1114.3 2093.3L1122.9 2114.1L1122.9 2114.1L1140.4 2134.9L1136.7 2155.7L1150.5 2156.7L1178.1 2159.2L1205.7 2162L1230.2 2176.5L1233.2 2186.9L1240.1 2197.3L1244.3 2218.1L1239.4 2238.9L1233.2 2238.9L1205.7 2238.9L1197.8 2238.9L1178.1 2221.5L1174.5 2218.1L1153 2197.3L1150.5 2196.3L1127 2176.5L1122.9 2160.3L1119.5 2155.7L1105.5 2134.9L1095.4 2129.5L1079.5 2114.1L1074.9 2093.3Z" fill="#FF3D3D" fill-rule="evenodd"/>
<path d="M1250.4 1760.7L1260.8 1748.8L1270.2 1760.7L1260.8 1770.5ZM1077 2072.6L1095.4 2062.2L1106.2 2072.6L1110.5 2093.3L1117.4 2114.1L1122.9 2121.1L1134.6 2134.9L1122.9 2151.6L1111.3 2134.9L1095.4 2126.5L1082.7 2114.1L1079 2093.3ZM1129.4 2176.5L1150.5 2158.7L1178.1 2160.9L1205.7 2165.7L1224 2176.5L1227.7 2197.3L1233.2 2218.1L1205.7 2238.9L1187.3 2218.1L1178.1 2215.8L1158 2197.3L1150.5 2194.3Z" fill="#FF2E5C" fill-rule="evenodd"/>
<path d="M1087.2 2093.3L1095.4 2072.6L1102.9 2093.3L1106.4 2114.1L1095.4 2120.3L1089 2114.1ZM1134.1 2176.5L1150.5 2162.6L1178.1 2164.4L1205.7 2172.9L1211.8 2176.5L1205.7 2197.3L1205.7 2197.3L1178.1 2206.5L1168.1 2197.3L1150.5 2190.4Z" fill="#FF5CB8" fill-rule="evenodd"/>
<path d="M1138.8 2176.5L1150.5 2166.6L1178.1 2167.8L1201.1 2176.5L1178.1 2197.3L1150.5 2186.4Z" fill="#FF8FEB" fill-rule="evenodd"/>
<path d="M925.7 1698.3L934.1 1698.3M931.7 1697.2L934.1 1698.3L931.7 1699.5M953.3 1698.3L961.7 1698.3M959.2 1697.2L961.7 1698.3L959.2 1699.5M980.7 1698.4L989.4 1698.3M986.9 1697.2L989.4 1698.3L986.9 1699.5M1008.7 1698.4L1016.6 1698.3M1014.3 1697.3L1016.6 1698.3L1014.3 1699.4M1036.4 1698.4L1044 1698.3M1041.8 1697.3L1044 1698.3L1041.8 1699.4M1068 1698.4L1067.5 1698.3M1069.7 1699.6L1067.5 1698.3L1069.9 1697.5M1098.3 1698.3L1092.4 1698.3M1094.7 1699.4L1092.4 1698.3L1094.7 1697.3M1125.9 1698.3L1120 1698.4M1122.3 1699.4L1120 1698.4L1122.3 1697.3M1154 1697.9L1147.1 1698.8M1149.4 1699.6L1147.1 1698.8L1149.2 1697.5M1181.6 1697.8L1174.6 1698.9M1177 1699.6L1174.6 1698.9L1176.7 1697.5M1209.5 1697.5L1201.8 1699.2M1204.3 1699.8L1201.8 1699.2L1203.8 1697.7M1237.1 1697.5L1229.3 1699.2M1231.8 1699.8L1229.3 1699.2L1231.4 1697.6M1264.8 1697.5L1256.9 1699.2M1259.4 1699.8L1256.9 1699.2L1258.9 1697.6M1292.3 1697.7L1284.5 1699M1286.9 1699.7L1284.5 1699L1286.6 1697.6M1317.9 1701.6L1314 1695.1M1314.3 1697.6L1314 1695.1L1316.1 1696.5M1345.1 1702.3L1342 1694.4M1341.8 1697.1L1342 1694.4L1344 1696.3M1371.9 1702.1L1370.3 1694.5M1369.7 1697L1370.3 1694.5L1371.8 1696.5M1396.7 1701.8L1400.6 1694.9M1398.6 1696.4L1400.6 1694.9L1400.5 1697.4M1423.8 1701.6L1428.7 1695.1M1426.4 1696.3L1428.7 1695.1L1428.2 1697.7M1449 1700.4L1458.7 1696.3M1455.3 1696.2L1458.7 1696.3L1456.4 1698.8M925 1719.1L934.8 1719.1M932 1717.8L934.8 1719.1L932 1720.5M952.6 1719.1L962.4 1719.1M959.6 1717.8L962.4 1719.1L959.6 1720.5M980.4 1719.2L989.7 1719.1M987 1717.8L989.7 1719.1L987 1720.4M1008.6 1719.1L1016.7 1719.1M1014.3 1718L1016.7 1719.1L1014.3 1720.2M1036.2 1719.1L1044.2 1719.1M1041.9 1718.1L1044.2 1719.1L1041.9 1720.2M1067 1719.2L1068.6 1719.1M1066.3 1718.2L1068.6 1719.1L1066.4 1720.3M1098.3 1719.1L1092.4 1719.1M1094.7 1720.2L1092.4 1719.1L1094.7 1718.1M1125.8 1719.1L1120.1 1719.1M1122.4 1720.2L1120.1 1719.1L1122.4 1718.1M1153.8 1718.7L1147.2 1719.6M1149.6 1720.3L1147.2 1719.6L1149.3 1718.2M1181.6 1718.6L1174.6 1719.7M1177 1720.4L1174.6 1719.7L1176.6 1718.3M1209.6 1718.2L1201.7 1720.1M1204.3 1720.6L1201.7 1720.1L1203.7 1718.5M1237.2 1718.2L1229.3 1720.1M1231.8 1720.6L1229.3 1720.1L1231.3 1718.5M1264.8 1718.2L1256.8 1720.1M1259.4 1720.6L1256.8 1720.1L1258.9 1718.4M1292.4 1718.2L1284.4 1720.1M1287 1720.6L1284.4 1720.1L1286.5 1718.4M1318.8 1721.2L1313.1 1717.1M1314.4 1719.3L1313.1 1717.1L1315.6 1717.6M1345.2 1723L1341.9 1715.3M1341.8 1718L1341.9 1715.3L1343.9 1717.1M1372.2 1722.8L1370 1715.5M1369.7 1718L1370 1715.5L1371.7 1717.4M1397 1722.6L1400.4 1715.7M1398.4 1717.2L1400.4 1715.7L1400.3 1718.2M1424.3 1722.4L1428.3 1715.9M1426.2 1717.3L1428.3 1715.9L1428 1718.4M1450.4 1721.7L1457.2 1716.6M1454.6 1717.2L1457.2 1716.6L1455.9 1719M924.8 1740L935 1739.8M932 1738.5L935 1739.8L932.1 1741.3M952.4 1740L962.5 1739.8M959.6 1738.5L962.5 1739.8L959.6 1741.3M979.9 1740.1L990.2 1739.7M987.2 1738.4L990.2 1739.7L987.3 1741.2M1008.3 1740L1017 1739.9M1014.4 1738.7L1017 1739.9L1014.5 1741.1M1036.2 1739.9L1044.2 1739.9M1041.9 1738.8L1044.2 1739.9L1041.9 1741M1065.8 1740.2L1069.8 1739.7M1067.4 1738.9L1069.8 1739.7L1067.6 1741M1097.1 1740.2L1093.6 1739.7M1095.7 1741L1093.6 1739.7L1096 1739M1124.6 1740.3L1121.3 1739.6M1123.3 1741.1L1121.3 1739.6L1123.8 1739M1152.7 1740L1148.4 1739.9M1150.6 1741L1148.4 1739.9L1150.6 1738.9M1181.3 1739.5L1174.9 1740.4M1177.3 1741.1L1174.9 1740.4L1176.9 1739M1209.6 1739L1201.7 1740.9M1204.3 1741.4L1201.7 1740.9L1203.8 1739.3M1237.2 1739.1L1229.2 1740.7M1231.8 1741.3L1229.2 1740.7L1231.3 1739.2M1265.3 1739L1256.3 1740.8M1259.2 1741.5L1256.3 1740.8L1258.7 1739.1M1292.9 1739.1L1283.9 1740.8M1286.7 1741.5L1283.9 1740.8L1286.3 1739.1M1320.6 1741.2L1311.4 1738.6M1313.7 1740.6L1311.4 1738.6L1314.4 1738.1M1348.6 1742.6L1338.5 1737.3M1340.7 1740.2L1338.5 1737.3L1342.1 1737.4M1374.7 1742.9L1367.5 1736.9M1368.8 1739.6L1367.5 1736.9L1370.4 1737.7M1399.7 1743.5L1397.7 1736.3M1397.3 1738.8L1397.7 1736.3L1399.3 1738.2M1427.6 1743.6L1424.9 1736.2M1424.7 1738.7L1424.9 1736.2L1426.7 1738M1453.4 1743.4L1454.2 1736.4M1452.9 1738.6L1454.2 1736.4L1455 1738.8M923.5 1762.1L936.3 1759.3M932.2 1758.4L936.3 1759.3L933 1761.9M951 1762.1L963.9 1759.3M959.8 1758.4L963.9 1759.3L960.6 1761.9M978.7 1761.2L991.4 1760.3M987.6 1758.8L991.4 1760.3L987.8 1762.2M1006.2 1760.8L1019.1 1760.7M1015.3 1758.9L1019.1 1760.7L1015.4 1762.4M1035.1 1760.9L1045.3 1760.6M1042.3 1759.3L1045.3 1760.6L1042.4 1762M1064.7 1761.7L1070.9 1759.7M1068.4 1759.4L1070.9 1759.7L1069.1 1761.4M1092.8 1762.4L1097.9 1759M1095.4 1759.4L1097.9 1759L1096.6 1761.1M1121 1762.3L1124.9 1759.1M1122.5 1759.7L1124.9 1759.1L1123.8 1761.4M1149.9 1762.1L1151.1 1759.4M1149.2 1761L1151.1 1759.4L1151.2 1761.9M1179.1 1761.6L1177.1 1759.9M1178.1 1762.1L1177.1 1759.9L1179.5 1760.5M1208.6 1760.7L1202.7 1760.7M1205 1761.8L1202.7 1760.7L1205 1759.7M1237.1 1760.7L1229.3 1760.7M1231.6 1761.8L1229.3 1760.7L1231.6 1759.7M1266.6 1759.8L1255 1761.6M1258.6 1762.7L1255 1761.6L1258.1 1759.5M1294.3 1759.8L1282.5 1761.6M1286.2 1762.7L1282.5 1761.6L1285.7 1759.5M1321.6 1762.4L1310.4 1759M1313.2 1761.5L1310.4 1759L1314.1 1758.5M1349.5 1763.2L1337.6 1758.2M1340.4 1761.3L1337.6 1758.2L1341.7 1758.1M1376.5 1763.4L1365.7 1758M1368.1 1761L1365.7 1758L1369.6 1758.1M1401.9 1764.6L1395.4 1756.9M1396.3 1760L1395.4 1756.9L1398.4 1758.2M1429.9 1764.7L1422.6 1756.7M1423.6 1760L1422.6 1756.7L1425.8 1758.1M1454.7 1764.4L1453 1757.1M1452.5 1759.5L1453 1757.1L1454.5 1759M923 1783.4L936.9 1779.6M932.3 1778.8L936.9 1779.6L933.4 1782.6M950.5 1783.5L964.5 1779.6M959.9 1778.8L964.5 1779.6L960.9 1782.6M978.2 1781.9L991.9 1781.1M987.8 1779.5L991.9 1781.1L988.1 1783.2M1005.7 1781.5L1019.6 1781.5M1015.6 1779.6L1019.6 1781.5L1015.6 1783.4M1033.7 1781.7L1046.7 1781.3M1042.9 1779.7L1046.7 1781.3L1043 1783.2M1064.1 1783.1L1071.5 1779.9M1068.9 1779.8L1071.5 1779.9L1069.8 1781.8M1092.3 1783.5L1098.4 1779.5M1095.9 1779.9L1098.4 1779.5L1097.1 1781.6M1120 1783.5L1125.9 1779.5M1123.4 1779.9L1125.9 1779.5L1124.6 1781.7M1148.3 1784L1152.8 1779M1150.5 1780L1152.8 1779L1152 1781.4M1176.3 1784.1L1179.9 1778.9M1177.7 1780.2L1179.9 1778.9L1179.5 1781.4M1207 1783.4L1204.3 1779.6M1204.8 1782.1L1204.3 1779.6L1206.5 1780.9M1236 1783.4L1230.4 1779.6M1231.7 1781.8L1230.4 1779.6L1232.9 1780M1266.2 1781L1255.4 1782M1258.7 1783.2L1255.4 1782L1258.4 1780.2M1294.2 1780.8L1282.6 1782.2M1286.2 1783.4L1282.6 1782.2L1285.8 1780.2M1321.4 1783.3L1310.5 1779.7M1313.2 1782.2L1310.5 1779.7L1314.2 1779.3M1349.5 1784L1337.6 1779M1340.4 1782L1337.6 1779L1341.7 1778.8M1376.4 1784.6L1365.8 1778.4M1368 1781.6L1365.8 1778.4L1369.7 1778.8M1402.5 1785.8L1394.9 1777.2M1395.9 1780.7L1394.9 1777.2L1398.3 1778.7M1430.1 1785.6L1422.4 1777.4M1423.5 1780.8L1422.4 1777.4L1425.7 1778.8M1456.9 1785.7L1450.8 1777.3M1451.4 1780.6L1450.8 1777.3L1453.7 1778.9M922.9 1804.2L936.9 1800.4M932.3 1799.6L936.9 1800.4L933.4 1803.4M950.5 1804.2L964.5 1800.4M959.9 1799.6L964.5 1800.4L960.9 1803.4M978.2 1802.7L992 1801.9M987.9 1800.3L992 1801.9L988.1 1804M1005.7 1802.3L1019.6 1802.3M1015.6 1800.4L1019.6 1802.3L1015.6 1804.2M1033.7 1802.6L1046.7 1801.9M1042.9 1800.4L1046.7 1801.9L1043 1803.9M1062.9 1804.3L1072.7 1800.3M1069.3 1800.1L1072.7 1800.3L1070.4 1802.8M1092.1 1804.3L1098.6 1800.3M1096.1 1800.6L1098.6 1800.3L1097.2 1802.4M1119.8 1804.3L1126 1800.3M1123.6 1800.6L1126 1800.3L1124.7 1802.4M1148 1805.2L1153 1799.4M1150.7 1800.4L1153 1799.4L1152.3 1801.8M1175.7 1805.2L1180.5 1799.3M1178.3 1800.4L1180.5 1799.3L1179.9 1801.8M1207 1804.7L1204.4 1799.9M1204.5 1802.4L1204.4 1799.9L1206.4 1801.4M1235.7 1804.8L1230.8 1799.8M1231.6 1802.2L1230.8 1799.8L1233.1 1800.7M1264 1804.2L1257.7 1800.4M1259.1 1802.5L1257.7 1800.4L1260.2 1800.7M1292.5 1804.5L1284.3 1800.1M1286.1 1802.5L1284.3 1800.1L1287.3 1800.3M1320 1805.3L1311.9 1799.3M1313.4 1802.1L1311.9 1799.3L1315.1 1799.9M1348.6 1805.5L1338.5 1799.1M1340.6 1802.3L1338.5 1799.1L1342.3 1799.6M1375.7 1807.8L1366.5 1796.8M1367.7 1801.2L1366.5 1796.8L1370.7 1798.7M1403 1808.5L1394.4 1796.1M1395.2 1800.9L1394.4 1796.1L1398.6 1798.5M1430.4 1808.1L1422.2 1796.5M1423 1801L1422.2 1796.5L1426.1 1798.7M1458.3 1809.8L1449.4 1794.8M1449.9 1800.3L1449.4 1794.8L1454 1797.9M922.8 1823.9L937 1822.2M932.7 1820.8L937 1822.2L933.1 1824.6M950.4 1823.9L964.6 1822.3M960.2 1820.8L964.6 1822.3L960.7 1824.7M978.1 1822.9L992.1 1823.3M988.1 1821.3L992.1 1823.3L987.9 1825.1M1005.7 1822.8L1019.5 1823.4M1015.6 1821.3L1019.5 1823.4L1015.5 1825.1M1034 1824L1046.4 1822.1M1042.6 1821L1046.4 1822.1L1043.1 1824.4M1061.9 1825.5L1073.7 1820.7M1069.6 1820.5L1073.7 1820.7L1070.9 1823.7M1089.7 1825.5L1101 1820.7M1097.1 1820.6L1101 1820.7L1098.4 1823.6M1118.9 1825L1127 1821.2M1124.1 1821.2L1127 1821.2L1125.1 1823.4M1147.9 1825.9L1153.1 1820.3M1150.8 1821.2L1153.1 1820.3L1152.4 1822.6M1175.6 1826L1180.5 1820.2M1178.3 1821.2L1180.5 1820.2L1179.9 1822.6M1206.6 1825.4L1204.7 1820.7M1204.6 1823.2L1204.7 1820.7L1206.5 1822.4M1235.7 1825.5L1230.8 1820.6M1231.7 1823L1230.8 1820.6L1233.2 1821.5M1263.4 1825.6L1258.2 1820.6M1259.1 1822.9L1258.2 1820.6L1260.6 1821.4M1291.9 1827L1284.9 1819.2M1285.9 1822.4L1284.9 1819.2L1288 1820.5M1319.5 1827L1312.5 1819.2M1313.5 1822.4L1312.5 1819.2L1315.5 1820.5M1347.5 1827.4L1339.6 1818.7M1340.7 1822.3L1339.6 1818.7L1343.1 1820.2M1375.6 1829.9L1366.6 1816.3M1367.4 1821.4L1366.6 1816.3L1371.1 1819M1403.2 1830L1394.2 1816.1M1394.9 1821.4L1394.2 1816.1L1398.7 1819M1431 1831L1421.5 1815.1M1422.1 1821L1421.5 1815.1L1426.4 1818.4M1458.8 1832L1448.9 1814.2M1449.3 1820.6L1448.9 1814.2L1454.1 1818M922.2 1841.6L937.7 1846.2M933.8 1842.7L937.7 1846.2L932.5 1846.9M949.8 1841.5L965.2 1846.2M961.4 1842.8L965.2 1846.2L960.1 1846.9M977.5 1841.8L992.6 1846M988.8 1842.7L992.6 1846L987.7 1846.8M1005 1841.6L1020.3 1846.2M1016.5 1842.8L1020.3 1846.2L1015.2 1846.9M1033.6 1843.9L1046.8 1843.9M1043 1842.1L1046.8 1843.9L1043 1845.7M1061.8 1846.3L1073.8 1841.5M1069.7 1841.2L1073.8 1841.5L1070.9 1844.5M1089.4 1846.1L1101.3 1841.6M1097.2 1841.3L1101.3 1841.6L1098.5 1844.5M1117.2 1844.6L1128.7 1843.2M1125.1 1842L1128.7 1843.2L1125.5 1845.1M1146.3 1845.2L1154.7 1842.5M1151.9 1842.2L1154.7 1842.5L1152.6 1844.4M1175 1845.6L1181.2 1842.1M1178.7 1842.3L1181.2 1842.1L1179.7 1844.1M1205.1 1845.4L1206.2 1842.4M1204.4 1844.2L1206.2 1842.4L1206.4 1844.9M1234 1845.4L1232.5 1842.4M1232.6 1844.9L1232.5 1842.4L1234.4 1843.9M1262.6 1846.1L1259.1 1841.7M1259.6 1844.1L1259.1 1841.7L1261.3 1842.8M1291.7 1847.6L1285.1 1840.2M1286 1843.2L1285.1 1840.2L1288 1841.4M1319.3 1847.5L1312.7 1840.2M1313.6 1843.2L1312.7 1840.2L1315.6 1841.4M1347.2 1848.1L1339.9 1839.7M1340.9 1843.1L1339.9 1839.7L1343.1 1841.1M1375.6 1850.5L1366.6 1837.2M1367.4 1842.3L1366.6 1837.2L1371 1839.9M1403.2 1850.7L1394.2 1837M1394.9 1842.2L1394.2 1837L1398.6 1839.8M1431.3 1851.7L1421.2 1836M1422 1841.9L1421.2 1836L1426.3 1839.2M1458.9 1852.8L1448.8 1835M1449.3 1841.5L1448.8 1835L1454.1 1838.7M921.9 1861.7L937.9 1867.6M934.1 1863.8L937.9 1867.6L932.5 1868.1M949.5 1861.7L965.5 1867.6M961.6 1863.8L965.5 1867.6L960 1868.1M977.2 1861.8L992.9 1867.5M989.1 1863.7L992.9 1867.5L987.6 1868M1004.7 1861.7L1020.6 1867.6M1016.8 1863.8L1020.6 1867.6L1015.2 1868.1M1032.7 1862.5L1047.7 1866.9M1044 1863.5L1047.7 1866.9L1042.8 1867.6M1061.7 1865.9L1073.9 1863.5M1070 1862.5L1073.9 1863.5L1070.7 1865.8M1089.2 1865.3L1101.5 1864M1097.8 1862.7L1101.5 1864L1098.1 1866.1M1116.5 1864.7L1129.4 1864.6M1125.6 1862.9L1129.4 1864.6L1125.7 1866.4M1144.6 1864.6L1156.4 1864.8M1153 1863.1L1156.4 1864.8L1153 1866.3M1172.7 1864.5L1183.5 1864.8M1180.4 1863.3L1183.5 1864.8L1180.3 1866.2M1204.2 1865.3L1207.1 1864.1M1204.6 1864L1207.1 1864.1L1205.4 1865.9M1232.8 1865.2L1233.7 1864.1M1231.4 1865.1L1233.7 1864.1L1233 1866.5M1261.1 1865.8L1260.5 1863.5M1260.1 1866L1260.5 1863.5L1262.1 1865.4M1290.4 1866.4L1286.3 1862.9M1287.4 1865.2L1286.3 1862.9L1288.8 1863.6M1318.1 1866.5L1313.8 1862.8M1314.9 1865.1L1313.8 1862.8L1316.2 1863.5M1346.9 1867.8L1340.2 1861.5M1341.3 1864.2L1340.2 1861.5L1343 1862.4M1376.4 1868.7L1365.8 1860.6M1367.8 1864.4L1365.8 1860.6L1370 1861.5M1404.2 1868.8L1393.2 1860.5M1395.3 1864.4L1393.2 1860.5L1397.5 1861.4M1432.4 1871L1420.1 1858.3M1422 1863.6L1420.1 1858.3L1425.4 1860.3M1461 1872L1446.7 1857.4M1448.8 1863.5L1446.7 1857.4L1452.8 1859.6M921.9 1882.4L937.9 1888.5M934.1 1884.6L937.9 1888.5L932.5 1888.9M949.5 1882.4L965.5 1888.5M961.7 1884.6L965.5 1888.5L960 1888.9M977.2 1882.4L992.9 1888.5M989.2 1884.6L992.9 1888.5L987.6 1888.9M1004.7 1882.5L1020.6 1888.4M1016.8 1884.5L1020.6 1888.4L1015.2 1888.9M1032.6 1882.8L1047.8 1888.1M1044.1 1884.5L1047.8 1888.1L1042.7 1888.6M1061.6 1884.5L1073.9 1886.4M1070.6 1884.2L1073.9 1886.4L1070.1 1887.5M1089.1 1885.2L1101.6 1885.7M1098 1883.8L1101.6 1885.7L1097.9 1887.2M1116.5 1885.4L1129.4 1885.5M1125.7 1883.7L1129.4 1885.5L1125.7 1887.2M1144.5 1885.1L1156.5 1885.8M1153.1 1884L1156.5 1885.8L1152.9 1887.2M1172.2 1885L1184 1885.9M1180.7 1884L1184 1885.9L1180.4 1887.2M1203.6 1885.9L1207.7 1885M1205.2 1884.5L1207.7 1885L1205.7 1886.5M1232.7 1886L1233.8 1884.9M1231.4 1885.7L1233.8 1884.9L1232.9 1887.3M1260.5 1886.5L1261.1 1884.4M1259.4 1886.3L1261.1 1884.4L1261.5 1886.9M1290.1 1887L1286.6 1883.9M1287.6 1886.2L1286.6 1883.9L1289 1884.6M1317.9 1887L1314 1883.9M1315.1 1886.1L1314 1883.9L1316.5 1884.5M1346.6 1888L1340.5 1882.9M1341.6 1885.2L1340.5 1882.9L1342.9 1883.6M1376.9 1888.5L1365.3 1882.4M1367.9 1885.7L1365.3 1882.4L1369.5 1882.6M1404.6 1888.5L1392.8 1882.4M1395.4 1885.8L1392.8 1882.4L1397 1882.6M1433.1 1891.3L1419.5 1879.6M1421.8 1884.8L1419.5 1879.6L1425 1881.2M1461.7 1892.4L1445.9 1878.5M1448.5 1884.4L1445.9 1878.5L1452.2 1880.3M922.1 1902.8L937.7 1909.7M934.1 1905.6L937.7 1909.7L932.3 1909.8M949.7 1902.8L965.3 1909.7M961.7 1905.6L965.3 1909.7L959.8 1909.8M977.6 1902.5L992.6 1910M989.2 1905.8L992.6 1910L987.2 1909.8M1005 1903L1020.3 1909.5M1016.7 1905.5L1020.3 1909.5L1015 1909.7M1033.4 1903.9L1047 1908.6M1043.7 1905.4L1047 1908.6L1042.4 1909.1M1061.8 1904.8L1073.8 1907.7M1070.7 1905.2L1073.8 1907.7L1069.9 1908.5M1089.3 1905L1101.4 1907.5M1098.2 1905.1L1101.4 1907.5L1097.6 1908.4M1116.8 1906.2L1129.1 1906.3M1125.6 1904.6L1129.1 1906.3L1125.5 1907.9M1144.6 1906.1L1156.4 1906.4M1153.1 1904.7L1156.4 1906.4L1152.9 1907.9M1172.5 1906L1183.7 1906.5M1180.5 1904.8L1183.7 1906.5L1180.4 1907.9M1202.6 1907.4L1208.7 1905.1M1206.2 1904.9L1208.7 1905.1L1206.9 1906.9M1231.6 1907.2L1234.9 1905.3M1232.4 1905.5L1234.9 1905.3L1233.5 1907.3M1259.1 1907.7L1262.5 1904.8M1260.1 1905.5L1262.5 1904.8L1261.5 1907.1M1287 1907.8L1289.8 1904.7M1287.5 1905.7L1289.8 1904.7L1289 1907.1M1317.1 1908L1314.8 1904.5M1315.2 1906.9L1314.8 1904.5L1316.9 1905.8M1345.7 1908.4L1341.4 1904.1M1342.3 1906.5L1341.4 1904.1L1343.7 1904.9M1376 1909.1L1366.2 1903.4M1368.3 1906.4L1366.2 1903.4L1369.8 1903.7M1403.7 1909.1L1393.7 1903.4M1395.8 1906.4L1393.7 1903.4L1397.4 1903.7M1431.2 1910.4L1421.4 1902.1M1423.1 1905.8L1421.4 1902.1L1425.3 1903.2M1461.2 1913L1446.4 1899.4M1448.9 1905.4L1446.4 1899.4L1452.6 1901.4M922.8 1921.1L937 1933M934.5 1927.6L937 1933L931.3 1931.4M950.5 1920.9L964.5 1933.2M962.1 1927.7L964.5 1933.2L958.8 1931.5M978.5 1920.3L991.6 1933.8M989.6 1928.1L991.6 1933.8L986 1931.6M1006.3 1920.7L1019 1933.4M1017 1928L1019 1933.4L1013.6 1931.4M1034.1 1924.2L1046.3 1929.9M1043.5 1926.6L1046.3 1929.9L1042 1929.9M1061.8 1925.5L1073.8 1928.5M1070.7 1926L1073.8 1928.5L1069.9 1929.3M1089.4 1925.7L1101.3 1928.4M1098.2 1926L1101.3 1928.4L1097.5 1929.2M1117 1927.3L1128.9 1926.7M1125.4 1925.3L1128.9 1926.7L1125.5 1928.5M1144.6 1927.5L1156.5 1926.5M1152.9 1925.2L1156.5 1926.5L1153.1 1928.4M1173.5 1927.8L1182.7 1926.2M1179.8 1925.4L1182.7 1926.2L1180.2 1927.9M1202.6 1928.5L1208.7 1925.6M1206.2 1925.6L1208.7 1925.6L1207.1 1927.5M1230.4 1928.5L1236.1 1925.6M1233.6 1925.7L1236.1 1925.6L1234.6 1927.5M1258.8 1928.5L1262.8 1925.5M1260.4 1926L1262.8 1925.5L1261.6 1927.7M1286.5 1928.6L1290.3 1925.5M1287.9 1926.1L1290.3 1925.5L1289.2 1927.7M1317 1929L1315 1925.1M1315.1 1927.6L1315 1925.1L1316.9 1926.6M1345.5 1929L1341.6 1925M1342.4 1927.4L1341.6 1925L1343.9 1925.9M1373.6 1929.2L1368.6 1924.9M1369.6 1927.1L1368.6 1924.9L1371 1925.5M1401.8 1929.1L1395.6 1925M1396.9 1927.1L1395.6 1925L1398.1 1925.3M1429.5 1929.8L1423 1924.3M1424.2 1926.8L1423 1924.3L1425.6 1925M1458 1933.8L1449.7 1920.3M1450.3 1925.3L1449.7 1920.3L1453.9 1923.1M922.9 1940.9L936.9 1954.8M934.7 1948.9L936.9 1954.8L931 1952.6M950.5 1940.8L964.4 1954.9M962.3 1948.9L964.4 1954.9L958.5 1952.7M979 1939.2L991.2 1956.4M990 1950L991.2 1956.4L985.5 1953.2M1006.7 1939.1L1018.6 1956.5M1017.6 1950.1L1018.6 1956.5L1013 1953.2M1034.5 1943.1L1045.9 1952.5M1043.9 1948.2L1045.9 1952.5L1041.3 1951.3M1062 1946.8L1073.5 1948.8M1070.5 1946.7L1073.5 1948.8L1069.9 1949.8M1089.6 1947.4L1101.1 1948.3M1097.9 1946.5L1101.1 1948.3L1097.7 1949.6M1116.9 1948.4L1128.9 1947.2M1125.3 1946L1128.9 1947.2L1125.6 1949.2M1144.5 1948.4L1156.5 1947.3M1152.9 1946L1156.5 1947.3L1153.2 1949.2M1173.1 1948.8L1183.1 1946.8M1179.9 1946L1183.1 1946.8L1180.5 1948.8M1202.4 1949.3L1208.9 1946.4M1206.4 1946.3L1208.9 1946.4L1207.3 1948.3M1229.9 1949.3L1236.5 1946.3M1234 1946.3L1236.5 1946.3L1234.9 1948.2M1258.3 1949.6L1263.4 1946M1260.9 1946.5L1263.4 1946L1262.1 1948.2M1286.3 1949.7L1290.5 1945.9M1288.1 1946.7L1290.5 1945.9L1289.5 1948.2M1316.4 1950L1315.5 1945.7M1315 1948.1L1315.5 1945.7L1317 1947.7M1345.3 1949.9L1341.8 1945.8M1342.4 1948.2L1341.8 1945.8L1344 1946.8M1372.8 1949.7L1369.5 1945.9M1370.2 1948.3L1369.5 1945.9L1371.8 1946.9M1401.4 1949.7L1396 1945.9M1397.2 1948.1L1396 1945.9L1398.4 1946.4M1429.6 1951.2L1423 1944.4M1424 1947.3L1423 1944.4L1425.8 1945.5M1457.8 1954.6L1449.8 1941.1M1450.3 1946.1L1449.8 1941.1L1454 1943.9M922.9 1961.6L936.9 1975.6M934.7 1969.7L936.9 1975.6L930.9 1973.4M950.5 1961.6L964.5 1975.7M962.3 1969.7L964.5 1975.7L958.5 1973.5M979 1959.8L991.1 1977.4M990 1971L991.1 1977.4L985.5 1974.1M1006.7 1959.7L1018.6 1977.5M1017.6 1971.1L1018.6 1977.5L1013 1974.2M1035 1963.2L1045.5 1974M1043.9 1969.5L1045.5 1974L1041 1972.3M1062.7 1970L1072.8 1967.2M1069.5 1966.6L1072.8 1967.2L1070.3 1969.4M1090.2 1970.2L1100.5 1967M1097.1 1966.5L1100.5 1967L1098 1969.3M1116.6 1970.3L1129.3 1966.9M1125.2 1966.2L1129.3 1966.9L1126.1 1969.6M1143.9 1970.6L1157.2 1966.7M1152.8 1966L1157.2 1966.7L1153.8 1969.6M1172.3 1970.1L1183.9 1967.2M1180.1 1966.4L1183.9 1967.2L1180.9 1969.6M1200 1969.7L1211.4 1967.5M1207.8 1966.6L1211.4 1967.5L1208.3 1969.7M1228.1 1970L1238.4 1967.3M1235 1966.7L1238.4 1967.3L1235.8 1969.4M1256.9 1971.4L1264.7 1965.9M1261.7 1966.4L1264.7 1965.9L1263.2 1968.5M1284.6 1971.5L1292.1 1965.7M1289.2 1966.4L1292.1 1965.7L1290.7 1968.4M1314.7 1971.3L1317.3 1965.9M1315.3 1967.5L1317.3 1965.9L1317.2 1968.4M1342.8 1971.5L1344.3 1965.8M1342.7 1967.7L1344.3 1965.8L1344.7 1968.2M1371 1969.8L1371.3 1967.4M1369.9 1969.6L1371.3 1967.4L1372 1969.8M1398.7 1967.7L1398.7 1969.5M1399.7 1967.2L1398.7 1969.5L1397.6 1967.3M1429.8 1970.5L1422.8 1966.7M1424.3 1968.7L1422.8 1966.7L1425.3 1966.9M1458.3 1972.2L1449.3 1965M1451 1968.3L1449.3 1965L1452.9 1965.9M923.1 1982L936.7 1996.8M934.8 1990.7L936.7 1996.8L930.8 1994.3M950.7 1982L964.2 1996.8M962.3 1990.7L964.2 1996.8L958.3 1994.3M979.3 1980.5L990.8 1998.3M989.9 1991.8L990.8 1998.3L985.3 1994.8M1007.9 1980L1017.4 1998.8M1017.2 1992.3L1017.4 1998.8L1012.3 1994.8M1035.8 1981.8L1044.6 1997M1044.1 1991.4L1044.6 1997L1040 1993.8M1062.8 1991.1L1072.8 1987.7M1069.4 1987.3L1072.8 1987.7L1070.4 1990M1090.3 1991.3L1100.4 1987.5M1097 1987.2L1100.4 1987.5L1098 1990M1116.3 1991.7L1129.6 1987.1M1125.1 1986.6L1129.6 1987.1L1126.4 1990.2M1143.6 1991.9L1157.4 1986.9M1152.8 1986.5L1157.4 1986.9L1154.1 1990.2M1171.9 1991.1L1184.3 1987.7M1180.2 1987L1184.3 1987.7L1181.2 1990.3M1199.7 1990.4L1211.6 1988.4M1207.9 1987.3L1211.6 1988.4L1208.5 1990.6M1227.5 1990.6L1239 1988.2M1235.3 1987.3L1239 1988.2L1236 1990.4M1256.8 1992.3L1264.9 1986.5M1261.7 1987.1L1264.9 1986.5L1263.3 1989.3M1284.4 1992.4L1292.4 1986.4M1289.3 1987.1L1292.4 1986.4L1290.9 1989.2M1314.2 1992.3L1317.7 1986.5M1315.7 1987.9L1317.7 1986.5L1317.5 1989M1342.5 1992.4L1344.6 1986.4M1342.8 1988.2L1344.6 1986.4L1344.8 1988.9M1370.4 1990.3L1371.9 1988.5M1369.6 1989.6L1371.9 1988.5L1371.3 1990.9M1398.3 1988.1L1399.1 1990.7M1399.4 1988.2L1399.1 1990.7L1397.4 1988.9M1430.1 1990.8L1422.4 1988M1424.3 1989.8L1422.4 1988L1425 1987.7M1458.7 1991.4L1449 1987.3M1451.2 1989.9L1449 1987.3L1452.3 1987.2M924.3 1999L935.5 2021.4M935.3 2014.9L935.5 2021.4L930.4 2017.4M952 1999.2L963 2021.2M962.8 2014.7L963 2021.2L957.9 2017.2M980.1 2000L990.1 2020.4M989.9 2013.9L990.1 2020.4L985 2016.3M1008.5 2000.2L1016.7 2020.2M1017 2013.7L1016.7 2020.2L1012 2015.8M1036.1 2000.9L1044.3 2019.5M1044.5 2013L1044.3 2019.5L1039.4 2015.2M1063.1 2011.3L1072.5 2009.1M1069.5 2008.4L1072.5 2009.1L1070.1 2011M1090.6 2012.4L1100.2 2008M1096.8 2008L1100.2 2008L1098 2010.6M1117.3 2012.6L1128.6 2007.8M1124.7 2007.6L1128.6 2007.8L1126 2010.7M1144.4 2012.7L1156.6 2007.7M1152.4 2007.5L1156.6 2007.7L1153.8 2010.8M1172.2 2012.3L1184 2008.1M1180 2007.7L1184 2008.1L1181.1 2010.9M1199.6 2011.6L1211.7 2008.8M1207.8 2008L1211.7 2008.8L1208.6 2011.3M1227.4 2012L1239.1 2008.4M1235.2 2007.8L1239.1 2008.4L1236.2 2011M1256.2 2013.1L1265.4 2007.3M1262 2007.7L1265.4 2007.3L1263.5 2010.2M1284 2013.2L1292.7 2007.2M1289.4 2007.8L1292.7 2007.2L1291 2010.1M1312.9 2013.2L1319 2007.2M1316.4 2008.1L1319 2007.2L1318.1 2009.8M1341.8 2013.1L1345.3 2007.3M1343.2 2008.7L1345.3 2007.3L1345 2009.7M1369.4 2011.5L1372.9 2008.8M1370.4 2009.4L1372.9 2008.8L1371.7 2011.1M1398 2009.5L1399.4 2010.9M1398.5 2008.6L1399.4 2010.9L1397.1 2010.1M1428.8 2011.2L1423.8 2009.2M1425.5 2011L1423.8 2009.2L1426.3 2009M1458 2011.8L1449.7 2008.5M1451.6 2010.6L1449.7 2008.5L1452.5 2008.4M925.3 2016L934.5 2046M935.4 2039.6L934.5 2046L930.2 2041.2M952.9 2016L962.1 2046M963 2039.5L962.1 2046L957.7 2041.1M979.8 2018.4L990.3 2043.6M990.6 2037.1L990.3 2043.6L985.5 2039.2M1007.5 2018.9L1017.8 2043.1M1018 2036.6L1017.8 2043.1L1013 2038.7M1035.7 2022.6L1044.8 2039.3M1044.4 2033.3L1044.8 2039.3L1039.9 2035.7M1063.7 2034.4L1071.8 2027.6M1068.6 2028.4L1071.8 2027.6L1070.4 2030.6M1091.3 2034.6L1099.4 2027.3M1096.1 2028.3L1099.4 2027.3L1098.1 2030.6M1118.7 2033.9L1127.2 2028.1M1123.9 2028.6L1127.2 2028.1L1125.5 2030.9M1146.4 2033.9L1154.6 2028M1151.4 2028.6L1154.6 2028L1153 2030.8M1172.6 2033.8L1183.6 2028.1M1179.6 2028.3L1183.6 2028.1L1181.2 2031.3M1198.1 2034.2L1213.2 2027.7M1208 2027.6L1213.2 2027.7L1209.7 2031.7M1226.1 2034.1L1240.4 2027.9M1235.4 2027.7L1240.4 2027.9L1237.1 2031.6M1253.6 2034L1268 2028M1263 2027.8L1268 2028L1264.7 2031.7M1281.1 2034L1295.7 2027.9M1290.6 2027.7L1295.7 2027.9L1292.3 2031.7M1309.8 2034.3L1322.2 2027.7M1317.7 2027.9L1322.2 2027.7L1319.5 2031.3M1336.4 2034.4L1350.6 2027.6M1345.6 2027.6L1350.6 2027.6L1347.4 2031.5M1365.9 2033.4L1376.3 2028.6M1372.7 2028.6L1376.3 2028.6L1373.9 2031.4M1393.8 2032.4L1403.6 2029.6M1400.4 2029.1L1403.6 2029.6L1401.1 2031.7M1426.6 2030.6L1426 2031.4M1428.2 2030.2L1426 2031.4L1426.5 2028.9M1456.1 2029.8L1451.6 2032.2M1454.1 2032L1451.6 2032.2L1453.1 2030.2M925.4 2036.3L934.4 2067.2M935.4 2060.8L934.4 2067.2L930.1 2062.3M953 2036.3L962 2067.2M963 2060.8L962 2067.2L957.7 2062.3M979.5 2038L990.7 2065.6M991 2059.1L990.7 2065.6L985.9 2061.1M1006.7 2038L1018.6 2065.6M1018.8 2059.1L1018.6 2065.6L1013.7 2061.3M1034.8 2041.9L1045.6 2061.6M1045.2 2055.1L1045.6 2061.6L1040.4 2057.8M1063.8 2055.4L1071.8 2048.2M1068.5 2049.2L1071.8 2048.2L1070.5 2051.3M1091.4 2055.5L1099.4 2048M1096 2049.1L1099.4 2048L1098.1 2051.3M1118.9 2054.7L1127 2048.8M1123.8 2049.4L1127 2048.8L1125.4 2051.6M1146.5 2054.7L1154.5 2048.8M1151.4 2049.4L1154.5 2048.8L1153 2051.6M1172.4 2054.9L1183.7 2048.7M1179.6 2048.9L1183.7 2048.7L1181.3 2052M1197.8 2055.2L1213.6 2048.3M1208 2048.2L1213.6 2048.3L1209.9 2052.4M1225.5 2055.2L1240.9 2048.3M1235.5 2048.2L1240.9 2048.3L1237.4 2052.4M1253 2054.8L1268.6 2048.7M1263.3 2048.4L1268.6 2048.7L1264.9 2052.6M1280.5 2054.8L1296.3 2048.7M1290.9 2048.4L1296.3 2048.7L1292.5 2052.6M1308.9 2055.3L1323.1 2048.2M1318 2048.3L1323.1 2048.2L1319.9 2052.2M1335.8 2055.3L1351.3 2048.2M1345.9 2048.2L1351.3 2048.2L1347.8 2052.4M1364.9 2054.5L1377.4 2049.1M1373 2048.9L1377.4 2049.1L1374.5 2052.3M1393 2053.3L1404.4 2050.2M1400.7 2049.6L1404.4 2050.2L1401.5 2052.7M1427.1 2050.8L1425.5 2052.8M1427.7 2051.7L1425.5 2052.8L1426.1 2050.3M1456.2 2050L1451.5 2053.5M1454 2053L1451.5 2053.5L1452.7 2051.3M925.4 2057.2L934.4 2087.9M935.4 2081.5L934.4 2087.9L930.1 2083M952.9 2057.2L962 2087.9M963 2081.4L962 2087.9L957.7 2083M979.6 2058.8L990.6 2086.4M990.9 2079.9L990.6 2086.4L985.8 2081.9M1006.7 2058.9L1018.6 2086.2M1018.7 2079.7L1018.6 2086.2L1013.7 2081.9M1034.8 2063.1L1045.6 2082M1045.1 2075.6L1045.6 2082L1040.3 2078.3M1063.8 2074.6L1071.8 2070.5M1068.9 2070.6L1071.8 2070.5L1070 2072.8M1092 2076.1L1098.7 2069M1095.8 2070.1L1098.7 2069L1097.7 2072M1119.4 2075.7L1126.5 2069.4M1123.6 2070.3L1126.5 2069.4L1125.3 2072.2M1147.3 2075.4L1153.8 2069.7M1151.1 2070.5L1153.8 2069.7L1152.7 2072.2M1174.2 2075.7L1181.9 2069.5M1178.9 2070.2L1181.9 2069.5L1180.5 2072.3M1198.3 2076.2L1213 2069M1207.8 2069.1L1213 2069L1209.7 2073M1226.1 2076.1L1240.4 2069M1235.3 2069.1L1240.4 2069L1237.2 2073M1253.8 2075.8L1267.8 2069.3M1262.9 2069.3L1267.8 2069.3L1264.6 2073.1M1281.3 2075.8L1295.4 2069.3M1290.5 2069.3L1295.4 2069.3L1292.2 2073.1M1310.4 2077L1321.5 2068.1M1317.1 2069.2L1321.5 2068.1L1319.5 2072.2M1337.7 2077.2L1349.4 2067.9M1344.7 2069L1349.4 2067.9L1347.2 2072.2M1366.2 2076.4L1376 2068.8M1372.1 2069.6L1376 2068.8L1374.2 2072.3M1393.8 2075L1403.6 2070.1M1400.1 2070.2L1403.6 2070.1L1401.4 2072.9M1425.6 2074.4L1426.9 2070.7M1425.2 2072.5L1426.9 2070.7L1427.2 2073.2M1454.8 2073.9L1452.8 2071.2M1453.3 2073.6L1452.8 2071.2L1455 2072.4M925.3 2078.5L934.6 2108.2M935.4 2101.8L934.6 2108.2L930.2 2103.4M952.7 2078.6L962.3 2108.1M963.1 2101.7L962.3 2108.1L957.9 2103.4M979.7 2079.2L990.5 2107.4M990.9 2101L990.5 2107.4L985.8 2102.9M1007 2080.6L1018.3 2106.1M1018.4 2099.6L1018.3 2106.1L1013.4 2101.8M1035.1 2086L1045.3 2100.7M1044.3 2095L1045.3 2100.7L1040.4 2097.8M1064.2 2095.2L1071.4 2091.5M1068.8 2091.6L1071.4 2091.5L1069.8 2093.5M1092.3 2097.2L1098.4 2089.5M1095.6 2090.9L1098.4 2089.5L1097.7 2092.5M1119.8 2096.9L1126.1 2089.8M1123.3 2091L1126.1 2089.8L1125.2 2092.7M1148.2 2096.2L1152.8 2090.5M1150.6 2091.6L1152.8 2090.5L1152.2 2092.9M1175.6 2096.4L1180.6 2090.3M1178.3 2091.4L1180.6 2090.3L1179.9 2092.7M1198.9 2097.3L1212.5 2089.4M1207.5 2089.9L1212.5 2089.4L1209.6 2093.5M1226.6 2097.2L1239.9 2089.5M1235 2089.9L1239.9 2089.5L1237.1 2093.5M1254.8 2096.9L1266.8 2089.8M1262.4 2090.2L1266.8 2089.8L1264.3 2093.5M1282.5 2096.9L1294.3 2089.8M1289.9 2090.2L1294.3 2089.8L1291.8 2093.5M1312.6 2099.2L1319.3 2087.5M1315.8 2090L1319.3 2087.5L1318.9 2091.8M1341.4 2100.2L1345.7 2086.5M1342.6 2089.9L1345.7 2086.5L1346.3 2091.1M1368 2098.6L1374.2 2088.1M1371 2090.3L1374.2 2088.1L1373.9 2092M1394.8 2097.4L1402.6 2089.3M1399.2 2090.6L1402.6 2089.3L1401.4 2092.7M1424.8 2099.4L1427.8 2087.3M1425.3 2090.4L1427.8 2087.3L1428.5 2091.2M1452.9 2100L1454.8 2086.7M1452.4 2090.3L1454.8 2086.7L1456.1 2090.8M925.1 2099.2L934.7 2129M935.5 2122.6L934.7 2129L930.3 2124.3M952.3 2098.6L962.7 2129.6M963.4 2123.2L962.7 2129.6L958.2 2124.9M979.6 2098.1L990.5 2130.2M991.2 2123.7L990.5 2130.2L986 2125.5M1007.1 2099.3L1018.2 2129M1018.7 2122.5L1018.2 2129L1013.5 2124.4M1034.7 2105.8L1045.7 2122.4M1044.8 2116.1L1045.7 2122.4L1040.3 2119.1M1063.4 2113.8L1072.2 2114.4M1069.7 2113.1L1072.2 2114.4L1069.5 2115.5M1092.2 2117.6L1098.6 2110.6M1095.8 2111.8L1098.6 2110.6L1097.6 2113.5M1119.3 2116.2L1126.6 2112.1M1123.9 2112.3L1126.6 2112.1L1125 2114.3M1147.2 2115.6L1153.8 2112.7M1151.3 2112.6L1153.8 2112.7L1152.2 2114.6M1175 2117L1181.1 2111.3M1178.6 2112.1L1181.1 2111.3L1180.1 2113.8M1199.4 2117.9L1211.9 2110.4M1207.3 2110.9L1211.9 2110.4L1209.3 2114.2M1227.5 2118L1239 2110.3M1234.6 2111L1239 2110.3L1236.7 2114.1M1255.2 2117.9L1266.4 2110.4M1262.1 2111.1L1266.4 2110.4L1264.2 2114.1M1283.3 2118.3L1293.5 2110M1289.4 2111L1293.5 2110L1291.7 2113.8M1313.2 2120.3L1318.8 2108M1315.5 2110.8L1318.8 2108L1318.8 2112.3M1341.6 2121.2L1345.5 2107.1M1342.5 2110.6L1345.5 2107.1L1346.3 2111.7M1368.9 2120.2L1373.4 2108.1M1370.4 2111L1373.4 2108.1L1373.7 2112.2M1395.6 2119L1401.7 2109.3M1398.7 2111.3L1401.7 2109.3L1401.3 2112.9M1424.5 2120.5L1428 2107.8M1425.3 2111L1428 2107.8L1428.7 2111.9M1452.4 2120.9L1455.3 2107.3M1452.6 2110.9L1455.3 2107.3L1456.3 2111.7M925.5 2118.9L934.3 2151M935.4 2144.5L934.3 2151L930.1 2146M952.3 2118.7L962.7 2151.2M963.5 2144.7L962.7 2151.2L958.3 2146.4M979.6 2118.5L990.6 2151.4M991.3 2144.9L990.6 2151.4L986.1 2146.7M1007.1 2118.9L1018.2 2151M1018.9 2144.5L1018.2 2151L1013.7 2146.3M1033.8 2124.3L1046.6 2145.6M1045.9 2139.1L1046.6 2145.6L1041.2 2141.9M1060.7 2128.2L1074.9 2141.7M1072.6 2135.8L1074.9 2141.7L1069 2139.7M1089.4 2131.5L1101.3 2138.4M1098.8 2134.8L1101.3 2138.4L1096.9 2138M1118.1 2133.8L1127.8 2136.1M1125.3 2134.1L1127.8 2136.1L1124.7 2136.7M1145.6 2133.7L1155.4 2136.1M1152.9 2134.1L1155.4 2136.1L1152.2 2136.8M1174 2137.6L1182.1 2132.2M1179.1 2132.7L1182.1 2132.2L1180.5 2134.9M1201.3 2138.1L1210 2131.8M1206.6 2132.4L1210 2131.8L1208.3 2134.8M1228.3 2138.9L1238.2 2131M1234.3 2131.9L1238.2 2131L1236.4 2134.6M1256.3 2139.2L1265.3 2130.6M1261.6 2131.9L1265.3 2130.6L1263.9 2134.3M1285.3 2140.8L1291.5 2129.1M1288.1 2131.6L1291.5 2129.1L1291.3 2133.3M1313.3 2141.2L1318.6 2128.6M1315.4 2131.6L1318.6 2128.6L1318.8 2133M1342 2142.8L1345.1 2127.1M1342.1 2131.2L1345.1 2127.1L1346.3 2132M1370.2 2142.2L1372.1 2127.6M1369.5 2131.6L1372.1 2127.6L1373.5 2132.1M1398.5 2142.7L1398.9 2127.2M1396.7 2131.6L1398.9 2127.2L1400.9 2131.7M1424 2141.9L1428.5 2127.9M1425.3 2131.4L1428.5 2127.9L1429.1 2132.6M1451 2141.8L1456.6 2128M1453.1 2131.3L1456.6 2128L1456.9 2132.8M926.2 2138.6L933.7 2172.8M935.1 2166.5L933.7 2172.8L929.7 2167.7M953.2 2138.8L961.8 2172.6M963 2166.2L961.8 2172.6L957.7 2167.6M979.6 2139.3L990.5 2172.2M991.3 2165.7L990.5 2172.2L986.1 2167.4M1006.8 2140.1L1018.5 2171.4M1019 2164.9L1018.5 2171.4L1013.8 2166.8M1033.2 2143.1L1047.2 2168.3M1046.7 2161.8L1047.2 2168.3L1041.9 2164.5M1059.9 2147.6L1075.7 2163.8M1073.5 2157.7L1075.7 2163.8L1069.6 2161.5M1087.6 2148.1L1103.1 2163.3M1100.8 2157.2L1103.1 2163.3L1097 2161.1M1117.6 2153.7L1128.2 2157.8M1125.7 2155.1L1128.2 2157.8L1124.6 2158M1145.6 2154.5L1155.4 2157M1152.9 2154.9L1155.4 2157L1152.2 2157.6M1174 2157.9L1182.2 2153.5M1179.2 2153.7L1182.2 2153.5L1180.4 2155.9M1201.5 2158.9L1209.9 2152.5M1206.6 2153.2L1209.9 2152.5L1208.3 2155.5M1228.4 2159.7L1238.1 2151.8M1234.2 2152.7L1238.1 2151.8L1236.3 2155.4M1257.1 2160.2L1264.5 2151.2M1261.1 2152.8L1264.5 2151.2L1263.6 2154.8M1285.6 2161.5L1291.2 2149.9M1288 2152.5L1291.2 2149.9L1291.1 2154M1314 2162L1317.9 2149.4M1315.1 2152.5L1317.9 2149.4L1318.5 2153.6M1342.2 2163.4L1344.8 2148.1M1342 2152.1L1344.8 2148.1L1346.2 2152.9M1370.9 2162.6L1371.3 2148.8M1369.3 2152.8L1371.3 2148.8L1373 2152.9M1398.8 2163.3L1398.6 2148.1M1396.6 2152.5L1398.6 2148.1L1400.7 2152.5M1424.8 2162.5L1427.8 2149M1425.1 2152.5L1427.8 2149L1428.7 2153.3M1451.7 2162.4L1456 2149M1452.9 2152.3L1456 2149L1456.6 2153.5M926.4 2159L933.4 2194M935 2187.6L933.4 2194L929.6 2188.7M953.9 2159.1L961 2193.9M962.6 2187.6L961 2193.9L957.2 2188.7M980 2160.3L990.1 2192.7M991 2186.3L990.1 2192.7L985.7 2187.9M1005.9 2162L1019.4 2191M1019.4 2184.5L1019.4 2191L1014.4 2186.8M1033.2 2162.2L1047.2 2190.8M1047.1 2184.3L1047.2 2190.8L1042.2 2186.7M1059.9 2168L1075.6 2185M1073.7 2178.9L1075.6 2185L1069.6 2182.6M1087.6 2168.9L1103.2 2184.1M1100.9 2178L1103.2 2184.1L1097 2182M1116.2 2172.2L1129.7 2180.9M1126.9 2176.5L1129.7 2180.9L1124.6 2180.1M1146.2 2175.4L1154.8 2177.6M1152.6 2175.8L1154.8 2177.6L1152 2178.1M1174 2176.1L1182.1 2176.9M1179.9 2175.6L1182.1 2176.9L1179.7 2177.8M1201.7 2180.3L1209.7 2172.7M1206.3 2173.8L1209.7 2172.7L1208.4 2176M1229.3 2180.4L1237.2 2172.6M1233.8 2173.8L1237.2 2172.6L1235.9 2175.9M1258 2181.3L1263.7 2171.7M1260.7 2173.7L1263.7 2171.7L1263.3 2175.2M1285.9 2181.6L1290.9 2171.4M1288.1 2173.7L1290.9 2171.4L1290.8 2175M1315.9 2183.1L1316.1 2169.9M1314.2 2173.7L1316.1 2169.9L1317.8 2173.8M1344.1 2182.5L1343 2170.5M1341.7 2174.1L1343 2170.5L1344.9 2173.8M1372.3 2182.2L1370 2170.9M1369.1 2174.4L1370 2170.9L1372.2 2173.8M1399.8 2182.2L1397.5 2170.8M1396.7 2174.4L1397.5 2170.8L1399.8 2173.8M1427.7 2182.1L1424.9 2170.9M1424.2 2174.5L1424.9 2170.9L1427.2 2173.8M1455.2 2182.3L1452.4 2170.7M1451.7 2174.5L1452.4 2170.7L1454.8 2173.7M926.4 2179.8L933.4 2214.7M935 2208.4L933.4 2214.7L929.6 2209.5M954 2179.8L961 2214.7M962.5 2208.4L961 2214.7L957.2 2209.5M980.3 2181.2L989.8 2213.4M990.8 2207L989.8 2213.4L985.5 2208.5M1005.8 2182.9L1019.5 2211.7M1019.4 2205.2L1019.5 2211.7L1014.5 2207.5M1033.2 2182.9L1047.2 2211.6M1047.1 2205.1L1047.2 2211.6L1042.2 2207.6M1060.4 2186.7L1075.1 2207.8M1074 2201.4L1075.1 2207.8L1069.5 2204.6M1087.7 2190.9L1103.1 2203.7M1100.3 2197.9L1103.1 2203.7L1096.9 2202.1M1115.1 2191.4L1130.8 2203.1M1127.8 2197.6L1130.8 2203.1L1124.7 2201.9M1145.6 2195.3L1155.4 2199.3M1153.1 2196.8L1155.4 2199.3L1152 2199.4M1174 2196.9L1182.1 2197.7M1179.9 2196.4L1182.1 2197.7L1179.7 2198.6M1201.7 2200.9L1209.7 2193.7M1206.4 2194.7L1209.7 2193.7L1208.3 2196.9M1229.6 2200.9L1236.9 2193.7M1233.8 2194.8L1236.9 2193.7L1235.8 2196.7M1259.2 2201.7L1262.4 2192.9M1260.3 2195L1262.4 2192.9L1262.7 2195.9M1287.1 2201.9L1289.7 2192.6M1287.7 2195L1289.7 2192.6L1290.2 2195.7M1317.4 2203.4L1314.5 2191.2M1313.7 2195.1L1314.5 2191.2L1317 2194.3M1347.8 2199.6L1339.3 2195M1341.1 2197.5L1339.3 2195L1342.4 2195.2M1373.7 2201.2L1368.5 2193.4M1369 2196.4L1368.5 2193.4L1371.1 2195M1402 2200L1395.3 2194.5M1396.5 2197L1395.3 2194.5L1398 2195.2M1429.4 2200.3L1423.2 2194.2M1424.1 2196.8L1423.2 2194.2L1425.8 2195.2M1456.5 2201L1451.2 2193.6M1451.7 2196.4L1451.2 2193.6L1453.7 2195M926.3 2200.9L933.5 2235.3M935 2229L933.5 2235.3L929.6 2230.1M953.8 2201L961.2 2235.2M962.6 2228.9L961.2 2235.2L957.3 2230M980.2 2202.6L989.9 2233.6M990.8 2227.1L989.9 2233.6L985.6 2228.8M1006 2204.1L1019.3 2232.1M1019.2 2225.6L1019.3 2232.1L1014.3 2227.9M1033.3 2204.5L1047.1 2231.7M1046.9 2225.2L1047.1 2231.7L1042 2227.7M1060.7 2208.1L1074.9 2228.1M1073.7 2221.7L1074.9 2228.1L1069.2 2224.9M1087.6 2212L1103.1 2224.2M1100.3 2218.5L1103.1 2224.2L1097 2222.7M1115 2212.2L1130.9 2224M1127.9 2218.4L1130.9 2224L1124.7 2222.7M1144 2214.3L1157 2221.9M1154.3 2217.9L1157 2221.9L1152.2 2221.4M1173.9 2219.2L1182.3 2217M1179.5 2216.5L1182.3 2217L1180.2 2218.7M1201.7 2221.1L1209.7 2215.1M1206.5 2215.7L1209.7 2215.1L1208.1 2217.9M1229.7 2221.2L1236.8 2215M1233.9 2215.8L1236.8 2215L1235.6 2217.7M1262.2 2221.3L1259.4 2214.9M1259.4 2217.4L1259.4 2214.9L1261.3 2216.5M1290.1 2221.3L1286.7 2214.9M1286.8 2217.4L1286.7 2214.9L1288.7 2216.4M1319.7 2221.4L1312.3 2214.8M1313.5 2217.7L1312.3 2214.8L1315.3 2215.7M1351.7 2215.2L1335.4 2221M1340.9 2221.5L1335.4 2221L1339.3 2217.1M1377.9 2216.5L1364.3 2219.7M1368.7 2220.6L1364.3 2219.7L1367.8 2216.9M1406.2 2215.2L1391.1 2221M1396.3 2221.3L1391.1 2221L1394.7 2217.3M1432.2 2216.1L1420.3 2220M1424.3 2220.5L1420.3 2220L1423.2 2217.3M1459.6 2216.1L1448.1 2220.1M1452 2220.5L1448.1 2220.1L1450.9 2217.4" stroke="#3a3a3a" stroke-width="0.6" fill="none"/>
<path d="M1050.1 1854.4L1486.9 1854.4M1188.2 1854.4L1188.2 1911.7L1190.7 1920.6L1200.2 1929.4L1195.7 1936L1188 1947L1184.7 1958.1L1191.3 1961.4L1188.5 1969.1L1188.5 2008.8M1210.1 1854.4L1210.1 1876.4L1217.4 1883.1L1216.7 1889.7L1234.3 1898.5L1248.2 1906.2L1246.5 1922.8L1259.7 1930.5L1271.8 1947L1290.6 1954.8L1310.4 1952.5L1312.7 1948.1L1320.4 1953.7M1033.6 1915L1052.3 1917.3L1062.3 1928.3L1078.8 1929.4L1096.5 1927.2L1111.9 1928.3L1131.8 1922.8L1145 1920.6L1189.1 1920.6M1030.1 2008.8L1320.4 2008.8M1122.9 2008.8L1122.9 2075L1241.4 2163.2M1254.4 2008.8L1254.4 2119.1L1254.4 2136.7M1320.4 1942.6L1474.8 1942.6L1474.8 2030.9M1320.4 1942.6L1320.4 2030.9L1486.9 2030.9M1364.5 2030.9L1364.5 2119.1L1364.5 2244.8M1254.4 2119.1L1486.9 2119.1M1474.8 1854.4L1474.8 1942.6M1186.5 2217.7L1239.4 2213.5M1237.7 2218.4L1319.9 2244.2" stroke="#000" stroke-width="1" fill="none"/>
<path d="M1018.8 1868.1L1020.1 1871.5L1019.1 1875.2L1019.9 1878.9L1022.8 1881.8L1024.2 1885.3L1026.2 1888.5L1027.8 1892L1028.9 1895.4L1031.8 1898.3L1033.3 1902.1L1032.9 1906.2L1033.7 1910.6L1033 1915.1L1035 1918.3L1034.4 1921.7L1034.2 1925L1035.6 1928.2L1034.4 1931.5L1034.1 1934.8L1035.7 1938.3L1035.3 1941.6L1033.8 1944.8L1032.6 1948.1L1033.4 1951.5L1032.9 1955L1031.6 1958.4L1031.6 1962L1030.3 1965.3L1029 1968.7L1028 1972.1L1027.7 1975.7L1026.9 1979.2L1025.6 1982.9L1023.8 1986.5L1022.8 1990.1L1024.6 1993.1L1024.2 1996.6L1026.1 1999.6L1027.2 2002.7L1029.4 2005.5L1029 2008.8L1029.5 2014.4L1031.4 2018.1L1031.2 2022L1030.6 2025.9L1031 2029.6L1029.1 2032.9L1028.7 2036.5L1026.4 2039.6L1025.4 2043.4L1028.6 2046.3L1030.8 2049.8L1032.8 2053.1L1034.3 2057L1036.3 2060.6L1037.5 2064.5L1040.1 2068.2L1040.4 2072.1L1040.2 2076.4L1043.3 2078.4L1046.2 2080.5L1048.1 2083.3L1050.3 2085.9L1052.9 2088.2L1055.9 2090.4L1056.3 2093.7L1056.8 2097.1L1060.2 2098.9L1064.1 2100L1068 2101.5L1067.8 2108.1L1070.9 2112.2L1072.7 2116.3L1075.3 2118.8L1078.2 2120.8L1083 2123.4L1081.3 2127.9L1081.8 2131.2L1081 2134.5L1082.7 2137.5L1085.4 2139.6L1088.1 2141.8L1090 2144.5L1093.4 2146.2L1095.3 2148.9L1097.4 2152.1L1100.8 2154.5L1103.7 2157.1L1106.9 2159.8L1107 2164.1L1106.9 2168.4L1109.2 2171.9L1112.5 2175.8L1115.9 2176.1L1119.3 2176.4L1122.7 2176.4L1126.1 2176.7L1129.5 2176.5L1132.8 2178.2L1136.2 2179.7L1139.9 2180.8L1142.7 2183.6L1146.1 2183.7L1149.5 2183.7L1152.7 2184.7L1156.1 2185.3L1158.3 2190.6L1161.6 2191.1L1164.8 2191.9L1167.8 2194.3L1170.9 2196.5L1174.2 2198.5L1177.8 2200.1L1180.9 2202.8L1182.1 2206.5L1182.3 2210.3L1182.9 2214.3L1185.9 2218.6L1187.5 2222.2L1189.1 2225.9L1191.8 2229.2L1192.9 2233.3L1195.4 2236.9L1197.9 2240.4M1067.8 2101.5L1070 2099.2L1072.2 2095.9L1078.8 2094.8L1073.3 2097L1072.2 2101.5L1076.6 2108.1L1078.8 2109.2L1071.1 2105.9L1067.8 2101.5M937.9 1815L941.3 1814.9L944.3 1813.7L946.9 1811.5L949.6 1811L952 1811.6L954.2 1813.8L956.8 1813.5L959.6 1815.4L962.6 1816.6L965.8 1817.5L968.6 1817.5L971.3 1818.6L974.1 1819L976.9 1819.3L979.7 1819.5L982.6 1819.3L985.3 1820.5L988.1 1821L990.7 1822.4L993.6 1822.5L995.8 1824.4L998.3 1825L1001 1824.8L1003.6 1825.5L1005.3 1827.7L1007.3 1829.8L1008.5 1832.4L1011.1 1833.7L1012.9 1835.7L1013.8 1838.3L1015.5 1840.4L1018.2 1841.2L1020.6 1842.6L1022.5 1845L1025.4 1845.4L1027.9 1846.4L1030.4 1847.5L1033.1 1847.7L1035.4 1849.3L1038.7 1850.4L1040.9 1853L1043.3 1855.3L1046 1857.4L1047.3 1860.6L1049.3 1863.3L1046.8 1865.1L1046.3 1868.2L1043.8 1867.2L1041 1867.8L1038.8 1865.5L1036.1 1865.1L1033.4 1865.2L1030.8 1863.9L1028.1 1862.7L1025.2 1862.2L1022.4 1861.4L1019.5 1861.3L1016.6 1860.9L1014.3 1858.7L1011.6 1858L1008.5 1858.3L1009.9 1855.5L1013 1854.2L1014.9 1851.9L1016.5 1849.3L1013.9 1850.7L1011.1 1851.9L1008.5 1853.3L1005.5 1853.7L1002.4 1853L999.6 1854.3L996.9 1852.6L994.7 1850.3L991.6 1849.3L989.4 1847.9L988.2 1845.2L986.3 1843.4L983.7 1842.4L981 1841.1L978.4 1839.6L975.7 1838.4L973.7 1835.6L970.7 1834L967.8 1832.4L965.5 1831.1L963 1830.2L961 1828.6L959.3 1826.5L956.8 1825.5L953.9 1825.2L951.9 1822.6L948.9 1822.5L946.1 1821.5L943.9 1819.5L941.5 1816.5L937.9 1815ZM921 1741.9L923.2 1743.4L924 1745.9L926.7 1745.7L929.3 1744.8L932 1744.9L930.7 1747.3L930 1749.9L931.7 1751.5L934.7 1751.4L935.9 1753.9L939 1753.4L940.5 1756.9L943.7 1756.1L945.9 1757.8L943.6 1759.1L940.8 1757.1L938.7 1759.1L936.2 1758.4L933.9 1759.8L932 1762.4L930 1764.8L930.9 1767.3L933.6 1768.9L933.9 1771.8L936.5 1771.7L939.1 1771.9L941.4 1770.3L943.9 1769.8L942.2 1771.8L941.4 1774.2L940.9 1776.7L944 1776.4L945.9 1779.5L948.9 1779.7L951.3 1779.4L953.4 1777.9L955.6 1776.4L958.6 1778.4L960.6 1776.5L963.2 1776.7L965.7 1776.5L967.8 1774.7L965.2 1775.6L962.7 1776.4L961.4 1779.2L958.5 1779.5L956.8 1781.7L959.3 1781.3L961.9 1782.6L964.4 1782.2L966.8 1780.7L965 1782.6L962.9 1783.2L960.7 1783.7L957.8 1782.1L956.2 1784.5L953.8 1784.6L951.8 1785.7L949.9 1786.9L947.6 1786.8L945.5 1787.7L943.4 1788.4L941.1 1788.3L939 1788.8L936.9 1789.7L938.9 1791.9L941.7 1792.2L943.9 1793.9L946.9 1793.6L944.8 1796.3L944.9 1799.6L947.5 1800.3L949.3 1798.6L950.9 1796.4L953.7 1797.7L955.9 1797.3L958 1796.4L959.7 1794.6L961.8 1793.6L959.7 1794.8L959.3 1797.5L956.3 1797.7L955.3 1799.8L953.8 1801.6L956.3 1801.3L958.8 1801L960.8 1803.9L963.1 1804.7L965.8 1803.6L963.8 1805.5L960.9 1804L958.9 1805.9L956.8 1807.3L954.3 1807.5L951.8 1807.6L954.3 1808.3L956.7 1808.6L958.9 1805.8L961.4 1807.5L963.7 1805.6L966.2 1807.7L968.5 1806.3L971 1808L973.4 1808.2L975.7 1806.6L973.4 1807.4L970.5 1806.7L969 1809.6L966.9 1811.2L964 1810.4L961.8 1811.5L964.2 1810.3L966.4 1811.1L968.5 1812L970.7 1812.9L973.1 1811.7L975.4 1811.6L977.3 1814.5L979.7 1813.5L982.1 1813.4L984 1816L986.4 1816.3L989.1 1815.1L991.3 1815.9L993.6 1816.5L995.6 1814.9L997.9 1813.6L999.6 1811.5L998.3 1813.4L997.4 1815.4L996.2 1817.3L995.6 1819.5L997.8 1820.9L1000.1 1819.5L1002.3 1819.3L1004.5 1820.2L1006.8 1818.7L1009 1818.9L1011.3 1821L1013.5 1819.5L1014.6 1817.2L1015.6 1814.9L1016.5 1812.5L1017.8 1814.9L1016.3 1817L1015.5 1819.2L1015.5 1821.5L1018.4 1820.2L1020.9 1822.4L1023.7 1822.7L1026.4 1822.5L1025.6 1825L1022.7 1825.2L1021.3 1827L1019.5 1828.4L1020.9 1830.3L1023.3 1830.9L1024.4 1833.1L1026.2 1834.6L1028.4 1835.4L1029.6 1832.9L1031.7 1831.8L1034.7 1832.3L1037.1 1831.9L1038.4 1829.4L1038.1 1832.4L1036.5 1834.8L1035.4 1837.4L1037.5 1838.4L1040 1838.3L1042.2 1839.2L1044.3 1840.4L1046.9 1839.5L1049.6 1839.3L1052.3 1839.4L1051.6 1842L1052.3 1844.8L1051.3 1847.3L1053.1 1848.8L1053.6 1851.4L1056.9 1851.6L1057.3 1854.3L1059.1 1855.7L1060.8 1857.4L1063.5 1857.5L1065.2 1859.3L1066.7 1861.7L1065.6 1864.8L1067.2 1867.2L1069.3 1868.4L1070.9 1870.1L1071.8 1872.3L1073.2 1874.2L1071.9 1876.7L1073.1 1879.8L1071.2 1882.1L1069.4 1883.7L1067.4 1884.6L1064.7 1884.2L1063.3 1886.3L1061.2 1887.1L1058.7 1888.4L1058.7 1891.8L1056.3 1893.1L1058.3 1894.2L1059.4 1896.4L1060.7 1898.5L1063.2 1899.1L1061.6 1900.7L1060.3 1902.7L1058.8 1904.4L1056.3 1905M921 1755.9L923.3 1755.8L925.4 1756.3L926.5 1758.4L928 1759.8L929 1762.2L928.8 1764.3L926.9 1765.9L926 1767.8L925.9 1770.7L927.7 1772.2L929.2 1773.9L932.5 1774.2L932.9 1776.7L931.3 1779.1L930 1781.7L932.6 1781.8L935 1782.4L937.4 1783.1L938.9 1785.7L939.4 1788.3L935.6 1789.6L935.3 1791.9L935.9 1794.6L936.6 1797L938.2 1798.4L941.6 1797.8L942.8 1799.6L943.9 1801.6L946.1 1801.5L948.2 1801.2L949.9 1799.6L948.1 1801.7L947.7 1803.9L950.9 1806.5L948.9 1808.6L951 1809.3L953.3 1809.8L955.6 1809.3L957.8 1809.6L960.4 1808.8L962.2 1810.6L964.8 1809.6L966.1 1813.8L968.7 1812.5L970.6 1814.5L973 1813.6L975.3 1813L976.9 1816L979.3 1815L981.2 1816.7L983.7 1815.5L984.4 1818L987 1818.2L988.6 1819.5L990.7 1819L992.9 1819.6L995 1818.8L997.1 1817.4L999.2 1817.9L1001.5 1820L1003.6 1818.5L1006.5 1818.6L1007.9 1820.1L1007.6 1823.4L1009.5 1824.5L1012 1823.7L1014.3 1825L1016.7 1824.9L1019.1 1824.6L1021.5 1825.5L1019.8 1828L1023.7 1829.1L1023.3 1831.3L1023.4 1833.4L1025.7 1832.5L1027.3 1834.8L1029.6 1833.6L1031.5 1834.4L1033.4 1835.4L1034.3 1837.6L1037.1 1837.6L1038 1839.8L1038.6 1842.3L1041.3 1842.4L1044.1 1841.3L1046.5 1841.8L1048.3 1844.4L1050.6 1845.7L1049.8 1849L1051.6 1850.6L1053.3 1852.3L1056 1852.9L1057.7 1854.7L1060.1 1855.7L1061.2 1858.3L1062.1 1860.6L1064.5 1862.4L1063.2 1865.2L1064.1 1867.3L1065 1869.5L1066.3 1871.1L1069.2 1871.2L1067.7 1872.9L1066.2 1874.7L1069.8 1877.7L1067.2 1879.2L1069.7 1879.7L1070 1883.5L1073.2 1883.1L1070.8 1883.6L1070.2 1886.2L1067.1 1885.9L1066.5 1888.3L1065.2 1890.1L1064.9 1893L1068 1894.4L1068.2 1897.1M921 1741.9L924 1745.9L927.8 1744.1L932 1744.9L930 1749.9L931.7 1753.8L935.9 1753.9L939.9 1753.5L942.2 1757.5L945.9 1757.8L943.2 1760.4L940.1 1760.1L936.5 1756.9L933.9 1759.8L933.1 1763.2L930 1764.8L931.3 1768.6L933.9 1771.8L937.2 1770.9L940.5 1770.2L943.9 1769.8L942.4 1773.3L940.9 1776.7L945.4 1776.8L948.9 1779.7L952.4 1780.5L954.6 1776.1L958 1776L960.8 1774.1L964.3 1774.5L967.8 1774.7L965.3 1776.9L961.2 1776.5L959.9 1780.5L956.8 1781.7L959.9 1779.5L963.3 1779.8L966.8 1780.7L963 1779.4L961.5 1784.8L957.6 1783.1L955 1785.3L951.8 1785.7L948.7 1785.7L946.1 1788.1L942.6 1787.2L939.9 1788.9L936.9 1789.7L940 1791.7L942.8 1794.2L946.9 1793.6L945.5 1796.5L944.9 1799.6L947.7 1796.7L950.9 1795.2L955.8 1798.1L958.4 1794.8L961.8 1793.6L960.2 1797.4L954.9 1797.4L953.8 1801.6L956.8 1802.5L959.6 1803.7L962.5 1805L965.8 1803.6L962.6 1805.6L959 1806.3L954.8 1804.8L951.8 1807.6L955.2 1805.6L958.7 1808.6L962 1805.1L965.5 1807.9L968.9 1807.9L972.4 1809L975.7 1806.6L971.7 1806.2L968.7 1809L965.8 1811.7L961.8 1811.5L965 1810.1L967.7 1812.3L970.7 1812.6L974 1810.7L976.5 1815.2L979.7 1813.5L983.2 1814.3L986.4 1816L990.4 1814.4L993.6 1816.5L995.8 1813L999.6 1811.5L999.8 1816.6L995.6 1819.5L999.2 1818.7L1002.8 1818.3L1006.3 1819.1L1009.9 1818.9L1013.5 1819.5L1016.5 1816.7L1016.5 1812.5L1014.2 1815.3L1017.4 1818.7L1015.5 1821.5L1019.2 1821.3L1022.9 1820.5L1026.4 1822.5L1023.6 1823.9L1020.2 1824.7L1019.5 1828.4L1023.4 1829.6L1024.6 1834.1L1028.4 1835.4L1031.2 1832.6L1033.8 1829.3L1038.4 1829.4L1035.6 1833L1035.4 1837.4L1038.6 1837.6L1041.9 1837.8L1044.3 1840.4L1048.3 1839.6L1052.3 1839.4L1053.1 1843.5L1051.3 1847.3L1053.6 1849.4L1055.5 1851.8L1057.3 1854.3L1060.1 1855.6L1062.3 1858L1065.2 1859.3L1067.2 1863L1067.2 1867.2L1070.7 1868.2L1072.8 1870.5L1073.2 1874.2L1074.1 1878.6L1071.2 1882.1L1067.8 1883.7L1064.9 1886.1L1061.2 1887.1L1057.6 1889.1L1056.3 1893.1L1058.6 1895.1L1060.2 1897.9L1063.2 1899.1L1059.3 1899.2L1060 1904.7L1056.3 1905M1019.5 1868.2L1023 1868.9L1026.5 1869.6L1030 1870L1033.4 1871.2L1036.3 1872.1L1039.5 1871.6L1042.3 1872.7L1045.2 1873.7L1048.4 1873.2L1051.3 1874.2L1054.3 1872.8L1057.3 1871.2L1059.3 1869L1060.8 1866.2L1063.2 1864.2M1279.6 2015.4L1281.8 2016.5L1284.1 2017.7L1286.5 2018.7L1288.7 2019.9L1291.3 2020.4L1292.9 2021.2L1296.2 2023.2L1296.2 2026.1L1296.1 2028.4L1296.1 2031.2L1294.7 2033.6L1294.6 2037L1292.8 2035.6L1290.4 2035.2L1288.4 2033.8L1286.3 2033L1283.8 2031.7L1282.8 2029.5L1281.6 2027.5L1281.8 2025.3L1281.1 2022.8L1279.2 2020.5L1280.6 2017.8L1279.6 2015.4M1247.6 2131.2L1246.6 2133.4L1246.1 2135.6L1246.5 2137.9L1244 2138.9L1241.6 2140.1L1238.8 2140.3L1241 2139.7L1243.2 2139.8L1245.3 2138.9L1247.7 2139.2L1249.7 2138.1L1252.1 2138.6L1253.8 2138L1256.3 2141.1L1257.9 2139.4L1259.7 2137.7L1260.8 2135.6M1239 2140.7L1239.8 2143L1240.6 2145.3L1240.2 2147.7L1241.7 2150L1241 2152.2L1241.4 2154.4L1242 2156.6L1241.3 2158.8L1242.2 2160.8L1242.3 2163.2L1243.8 2165.2L1244.6 2167.5L1244.8 2169.8L1245.7 2171.9L1248.1 2173.1L1249.5 2174.9L1250.4 2177L1251.4 2178.3L1250.3 2180.4L1248.9 2182.3L1246.5 2183.6L1246 2186.1L1243.2 2187.3L1243.3 2189.8L1242.6 2192.1L1241.8 2194.3L1240.6 2196.4L1238.9 2198.7L1241.1 2200.5L1241.7 2203L1242.8 2205.2L1244.4 2207.4L1242.6 2209.4L1241.6 2211.8L1240.1 2213.7L1239 2216.1L1237.7 2218.4M1121.8 2069.5L1119.6 2072.8L1121.8 2076.1L1124.5 2072.8L1121.8 2069.5M1113 2184.2L1120.7 2185.3L1113 2186.4M1125.1 2184.2L1132.9 2185.3L1125.1 2185.7M1153.8 2196.8L1160 2200.3L1153.8 2198.5M1153.8 2207.3L1158.7 2211.3L1153.8 2209.5M1132.9 2201.8L1135.1 2202.5" stroke="#000" stroke-width="2.1" fill="none" stroke-linejoin="round" stroke-linecap="round"/>
</g>
<path d="M1189.4 1878L1189.4 2042" stroke="#000" stroke-width="4.8" stroke-linecap="round" fill="none"/>
<path d="M1233.3 1878L1233.3 2042" stroke="#000" stroke-width="4.8" stroke-linecap="round" fill="none"/>
<path d="M1277.3 1878L1277.3 2050" stroke="#000" stroke-width="4.8" stroke-linecap="round" fill="none"/>
<path d="M1143.5 1952.4L1331.5 1953.3" stroke="#000" stroke-width="4.8" stroke-linecap="round" fill="none"/>
<path d="M1138 1889.6L1328.5 2037.8" stroke="#000" stroke-width="4.8" stroke-linecap="round" fill="none"/>
<text x="1097" y="1899.8" font-size="29.5" text-anchor="start" fill="#404040">C5</text>
<text x="1107.5" y="1964.1" font-size="29.5" text-anchor="start" fill="#404040">C1</text>
<text x="1150" y="2062" font-size="29.5" text-anchor="start" fill="#404040">C2</text>
<text x="1193.5" y="2062" font-size="29.5" text-anchor="start" fill="#404040">C3</text>
<text x="1238.3" y="2062" font-size="29.5" text-anchor="start" fill="#404040">C4</text>
<rect x="924.4" y="1677.9" width="551.6" height="551.3" fill="none" stroke="#000" stroke-width="1"/>
<path d="M946.5 1677.9v-9M946.5 2229.2v9M990.6 1677.9v-9M990.6 2229.2v9M1034.7 1677.9v-9M1034.7 2229.2v9M1078.8 1677.9v-9M1078.8 2229.2v9M1122.9 1677.9v-18M1122.9 2229.2v18M1167.1 1677.9v-9M1167.1 2229.2v9M1211.2 1677.9v-9M1211.2 2229.2v9M1255.3 1677.9v-9M1255.3 2229.2v9M1299.4 1677.9v-9M1299.4 2229.2v9M1343.5 1677.9v-18M1343.5 2229.2v18M1387.7 1677.9v-9M1387.7 2229.2v9M1431.8 1677.9v-9M1431.8 2229.2v9M1475.9 1677.9v-9M1475.9 2229.2v9M924.4 2185.3h-9M1476 2185.3h9M924.4 2141.2h-9M1476 2141.2h9M924.4 2097h-9M1476 2097h9M924.4 2052.9h-18M1476 2052.9h18M924.4 2008.8h-9M1476 2008.8h9M924.4 1964.7h-9M1476 1964.7h9M924.4 1920.6h-9M1476 1920.6h9M924.4 1876.4h-9M1476 1876.4h9M924.4 1832.3h-18M1476 1832.3h18M924.4 1788.2h-9M1476 1788.2h9M924.4 1744.1h-9M1476 1744.1h9M924.4 1700h-9M1476 1700h9" stroke="#222" stroke-width="1" fill="none"/>
<text x="887.5" y="1840.2" font-size="26.8" text-anchor="end" fill="#000">50N</text>
<text x="887.5" y="2061.2" font-size="26.8" text-anchor="end" fill="#000">40N</text>
<text x="1123.2" y="2286" font-size="26.5" text-anchor="middle" fill="#000">120W</text>
<text x="1344.2" y="2286" font-size="26.5" text-anchor="middle" fill="#000">110W</text>
<text x="1201.7" y="1644.4" font-size="41.2" text-anchor="middle" fill="#000" font-weight="bold">Transect locations (surface)</text>
<rect x="1392" y="2241.3" width="84" height="67.4" fill="#fff" stroke="#808080" stroke-width="1"/>
<text x="1434" y="2265" font-size="24.5" text-anchor="middle" fill="#000">10 m/s</text>
<path d="M1411 2284.8H1457.3M1448 2280.8L1457.3 2284.8L1448 2288.8" stroke="#444" stroke-width="0.6" fill="none"/>
<rect x="508" y="2348" width="25" height="49.5" fill="#9AB7D7" stroke="#333" stroke-width="0.6"/>
<rect x="533" y="2348" width="25" height="49.5" fill="#6BA3CD" stroke="#333" stroke-width="0.6"/>
<rect x="558.1" y="2348" width="25" height="49.5" fill="#3A8EC0" stroke="#333" stroke-width="0.6"/>
<rect x="583.1" y="2348" width="25" height="49.5" fill="#0AA3FF" stroke="#333" stroke-width="0.6"/>
<rect x="608.2" y="2348" width="25" height="49.5" fill="#39B8FF" stroke="#333" stroke-width="0.6"/>
<rect x="633.2" y="2348" width="25" height="49.5" fill="#47D1FF" stroke="#333" stroke-width="0.6"/>
<rect x="658.2" y="2348" width="25" height="49.5" fill="#42E6FF" stroke="#333" stroke-width="0.6"/>
<rect x="683.3" y="2348" width="25" height="49.5" fill="#42FCFF" stroke="#333" stroke-width="0.6"/>
<rect x="708.3" y="2348" width="25" height="49.5" fill="#43FFE0" stroke="#333" stroke-width="0.6"/>
<rect x="733.4" y="2348" width="25" height="49.5" fill="#43FFB3" stroke="#333" stroke-width="0.6"/>
<rect x="758.4" y="2348" width="25" height="49.5" fill="#45FF52" stroke="#333" stroke-width="0.6"/>
<rect x="783.4" y="2348" width="25" height="49.5" fill="#66FF3D" stroke="#333" stroke-width="0.6"/>
<rect x="808.5" y="2348" width="25" height="49.5" fill="#8FFF3D" stroke="#333" stroke-width="0.6"/>
<rect x="833.5" y="2348" width="25" height="49.5" fill="#B8FF3D" stroke="#333" stroke-width="0.6"/>
<rect x="858.6" y="2348" width="25" height="49.5" fill="#E0FF3D" stroke="#333" stroke-width="0.6"/>
<rect x="883.6" y="2348" width="25" height="49.5" fill="#FFFA3D" stroke="#333" stroke-width="0.6"/>
<rect x="908.6" y="2348" width="25" height="49.5" fill="#FFE03D" stroke="#333" stroke-width="0.6"/>
<rect x="933.7" y="2348" width="25" height="49.5" fill="#FFB83D" stroke="#333" stroke-width="0.6"/>
<rect x="958.7" y="2348" width="25" height="49.5" fill="#FF8F3D" stroke="#333" stroke-width="0.6"/>
<rect x="983.8" y="2348" width="25" height="49.5" fill="#FF663D" stroke="#333" stroke-width="0.6"/>
<rect x="1008.8" y="2348" width="25" height="49.5" fill="#FF3D3D" stroke="#333" stroke-width="0.6"/>
<rect x="1033.8" y="2348" width="25" height="49.5" fill="#FF2E5C" stroke="#333" stroke-width="0.6"/>
<rect x="1058.9" y="2348" width="25" height="49.5" fill="#FF5CB8" stroke="#333" stroke-width="0.6"/>
<rect x="1083.9" y="2348" width="25" height="49.5" fill="#FF8FEB" stroke="#333" stroke-width="0.6"/>
<rect x="1109" y="2348" width="25" height="49.5" fill="#FFB3FF" stroke="#333" stroke-width="0.6"/>
<rect x="1134" y="2348" width="25" height="49.5" fill="#FFE0E6" stroke="#333" stroke-width="0.6"/>
<text x="533" y="2437.3" font-size="34" text-anchor="middle" fill="#000">0</text>
<text x="608.2" y="2437.3" font-size="34" text-anchor="middle" fill="#000">4</text>
<text x="683.3" y="2437.3" font-size="34" text-anchor="middle" fill="#000">10</text>
<text x="758.4" y="2437.3" font-size="34" text-anchor="middle" fill="#000">16</text>
<text x="833.5" y="2437.3" font-size="34" text-anchor="middle" fill="#000">22</text>
<text x="908.6" y="2437.3" font-size="34" text-anchor="middle" fill="#000">28</text>
<text x="983.8" y="2437.3" font-size="34" text-anchor="middle" fill="#000">40</text>
<text x="1058.9" y="2437.3" font-size="34" text-anchor="middle" fill="#000">80</text>
<text x="1134" y="2437.3" font-size="34" text-anchor="middle" fill="#000">250</text>
<text transform="translate(1598 2367.7) scale(1.186 1)" x="0" y="0" font-size="51.5" letter-spacing="-3.4" fill="#1A3A6B" stroke="#1A3A6B" stroke-width="0.5">NCAR</text>
<rect x="1602" y="2378.7" width="120" height="3.5" fill="#1A3A6B"/>
<text x="1599.5" y="2430" font-size="48.5" text-anchor="start" fill="#1A3A6B" font-weight="bold">ACOM</text>
</svg>
</body></html>
